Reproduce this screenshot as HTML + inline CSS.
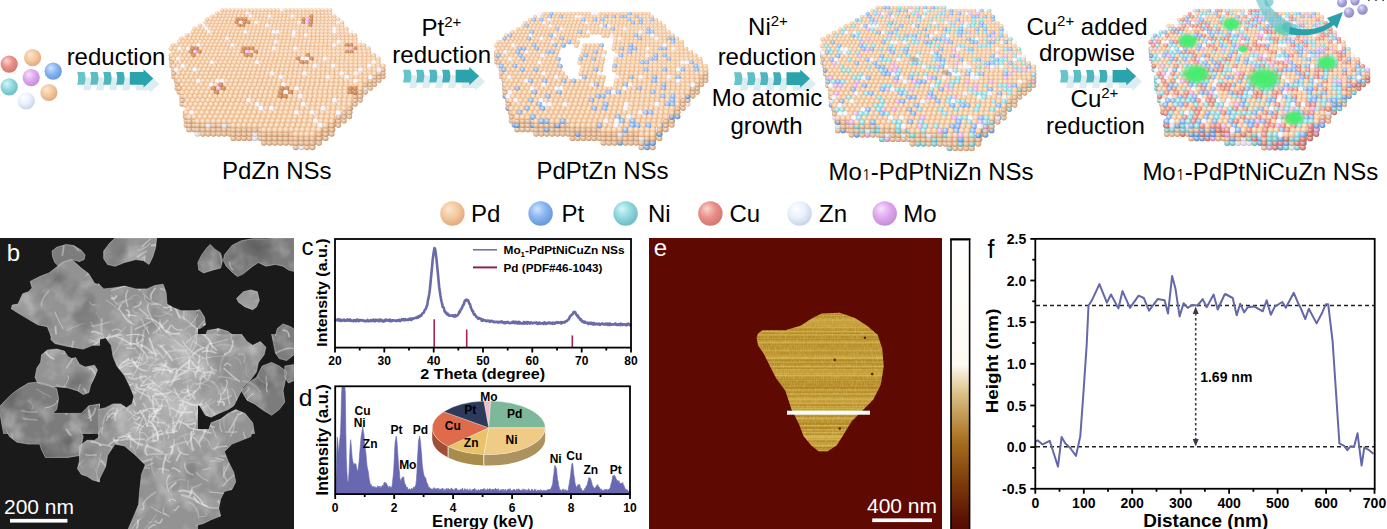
<!DOCTYPE html>
<html><head><meta charset="utf-8"><title>Figure</title>
<style>html,body{margin:0;padding:0;background:#fff;}svg{display:block;}.a{fill:url(#spha)}.b{fill:url(#sphb)}.c{fill:url(#sphc)}.d{fill:url(#sphd)}.e{fill:url(#sphe)}.f{fill:url(#sphf)}.g{fill:url(#sphg)}.a2{fill:url(#spha2)}.b2{fill:url(#sphb2)}.c2{fill:url(#sphc2)}.d2{fill:url(#sphd2)}.e2{fill:url(#sphe2)}.f2{fill:url(#sphf2)}.g2{fill:url(#sphg2)}</style></head>
<body><svg width="1387" height="529" viewBox="0 0 1387 529" font-family="Liberation Sans, Arial, sans-serif">
<defs><radialGradient id="g_pd" cx="0.42" cy="0.38" r="0.62" fx="0.35" fy="0.3"><stop offset="0" stop-color="#fde6cf"/><stop offset="0.55" stop-color="#f3c9a0"/><stop offset="1" stop-color="#e2ab7e"/></radialGradient><radialGradient id="g_pt" cx="0.42" cy="0.38" r="0.62" fx="0.35" fy="0.3"><stop offset="0" stop-color="#d2e5ff"/><stop offset="0.55" stop-color="#86b5f2"/><stop offset="1" stop-color="#6a98da"/></radialGradient><radialGradient id="g_ni" cx="0.42" cy="0.38" r="0.62" fx="0.35" fy="0.3"><stop offset="0" stop-color="#d8f6f8"/><stop offset="0.55" stop-color="#8fd8df"/><stop offset="1" stop-color="#72bcc4"/></radialGradient><radialGradient id="g_cu" cx="0.42" cy="0.38" r="0.62" fx="0.35" fy="0.3"><stop offset="0" stop-color="#fbd4ce"/><stop offset="0.55" stop-color="#ea8f88"/><stop offset="1" stop-color="#d27870"/></radialGradient><radialGradient id="g_zn" cx="0.42" cy="0.38" r="0.62" fx="0.35" fy="0.3"><stop offset="0" stop-color="#ffffff"/><stop offset="0.55" stop-color="#eaf1fd"/><stop offset="1" stop-color="#c8d4ea"/></radialGradient><radialGradient id="g_mo" cx="0.42" cy="0.38" r="0.62" fx="0.35" fy="0.3"><stop offset="0" stop-color="#f6e2fb"/><stop offset="0.55" stop-color="#dfa8ee"/><stop offset="1" stop-color="#c490d4"/></radialGradient><radialGradient id="g_lav" cx="0.42" cy="0.38" r="0.62" fx="0.35" fy="0.3"><stop offset="0" stop-color="#e2e0f8"/><stop offset="0.55" stop-color="#a9a6dc"/><stop offset="1" stop-color="#8c89c6"/></radialGradient><clipPath id="flk"><polygon points="758.1,333.3 762.7,330.2 785.4,330.2 800.5,325.7 812.6,318.1 821.7,313.6 839.8,312.7 854.9,318.1 867,325.7 877.6,334.8 882.2,348.4 883.7,366.5 880.7,384.7 873.1,399.8 861,411.9 851.9,421 844.4,433.1 836.8,445.2 827.7,451.2 818.6,451.2 811.1,445.2 803.5,436.1 799,424 791.4,408.9 788.4,399.8 785.4,390.7 776.3,378.6 770.2,366.5 764.2,354.4 758.1,345.4 756.6,337.8"/></clipPath><filter id="afmn" x="0" y="0" width="100%" height="100%"><feTurbulence type="fractalNoise" baseFrequency="0.9 0.25" numOctaves="2" seed="3"/><feColorMatrix type="matrix" values="0 0 0 0 0.95  0 0 0 0 0.8  0 0 0 0 0.35  0 0 1.2 0 -0.5"/></filter><linearGradient id="cbar" x1="0" y1="0" x2="0" y2="1"><stop offset="0" stop-color="#ffffff"/><stop offset="0.43" stop-color="#fcfaf2"/><stop offset="0.526" stop-color="#dcc288"/><stop offset="0.687" stop-color="#a87020"/><stop offset="0.834" stop-color="#7c3c0a"/><stop offset="0.957" stop-color="#5c1204"/><stop offset="1" stop-color="#540c02"/></linearGradient><clipPath id="semc"><rect x="0" y="238" width="294" height="291"/></clipPath><filter id="sb" x="-5%" y="-5%" width="110%" height="110%"><feGaussianBlur stdDeviation="0.7"/></filter><clipPath id="semflk"><polygon points="52,251.1 56.7,247.3 66.2,244.5 73.7,245.5 81.3,250.2 85.1,254.9 84.1,259.6 79.4,261.5 71.8,259.6 64.3,261.5 58.6,266.2 54.8,262.5 52.6,256.8"/><polygon points="30.2,281.4 39.7,276.6 49.1,272.9 62.4,262.5 71.8,259.6 81.3,268.1 88.8,273.8 94.5,283.3 100,285.1 100,336 51,336 47.3,326.7 37.8,324.8 28.4,319.2 18.9,313.5 11.3,308.8 12.3,305 18,304.1 22.7,293.7 28.4,291.8 32.1,288"/><polygon points="103.7,251.1 109.3,243.6 115,237.9 156.6,237.9 155.7,247.3 152.8,256.8 149,264.4 143.4,260.6 135.8,259.6 124.5,262.5 115,266.2 107.5,264.4 103.7,258.7"/><polygon points="98,283.3 103.7,288.9 113.1,288 124.5,286.1 135.8,288.9 147.1,288.9 154.7,285.5 163.2,284.2 166.1,292.7 167,304.1 173.6,307.8 181.2,310.7 198,310.7 198,336 98,336"/><polygon points="197.9,262.5 201.7,254.9 207.3,247.3 210.2,244.5 214.9,249.2 220.6,253 222.5,260.6 220.6,268.1 213,270 203.6,272.9 198.8,270"/><polygon points="224.4,254.9 231.9,245.5 241.4,240.7 252.7,238.8 267.8,238.8 277.3,237.9 296.2,238.8 296.2,271.9 288.6,270 283,266.2 275.4,264.4 265.9,266.2 258.4,262.5 252.7,266.2 243.3,273.8 237.6,276.6 231.9,271.9 226.2,266.2 223.4,260.6"/><polygon points="236.6,298.4 243.3,291.8 250.8,289.9 257.4,291.8 259.3,300.3 256.5,306.9 252.7,309.7 245.1,306.9 238.5,302.2"/><polygon points="196,310.7 199.8,309.7 204.5,317.3 205.5,324.8 199.8,328.6 196,328.6"/><polygon points="205.5,336 207.3,330.5 218.7,328.6 228.1,331.5 233.8,336"/><polygon points="275.4,336 277.3,328.6 283,323.9 290.5,326.7 296.2,330.5 296.2,336"/><polygon points="51,334 94.5,334 100,337.8 100,345.3 92.6,345.3 83.2,349.1 71.8,347.2 62.4,345.3 54.8,343.5 51,339.7"/><polygon points="41.6,354.8 47.3,350.1 56.7,349.1 64.3,351 68.1,356.7 71.8,358.6 75.6,357.6 79.4,364.2 85.1,367.1 94.5,365.2 97.4,369.9 94.5,377.5 90.7,385 88.8,392.6 83.2,394.5 77.5,390.7 68.1,387.9 58.6,386.9 52.9,386.9 45.4,385 37.8,383.1 35,377.5 36.9,368 40.6,362.4"/><polygon points="1.9,403.9 11.3,394.5 18.9,388.8 28.4,383.1 37.8,382.2 49.1,385 56.7,388.8 58.6,398.3 56.7,409.6 52.9,413.4 62.4,413.4 81.3,413.4 88.8,405.8 100,403.9 100,434 3.8,434 1.9,424.7 0,413.4 0,405.8"/><polygon points="98,334 198,334 198,434 98,434 98,409.6 105.6,407.7 113.1,403.9 120.7,403.9 126.4,407.7 132,403.9 133.9,396.4 130.1,386.9 124.5,375.6 116.9,366.1 113.1,356.7 111.2,345.3 105.6,337.8 98,339.7"/><polygon points="196,334 241.4,334 247,341.6 252.7,345.3 260.3,341.6 265.9,347.2 264.1,354.8 258.4,362.4 256.5,371.8 250.8,379.4 243.3,386.9 239.5,394.5 233.8,405.8 228.1,409.6 218.7,413.4 211.1,417.2 205.5,415.3 199.8,405.8 196,403.9"/><polygon points="241.4,390.7 248.9,382.2 256.5,377.5 262.2,366.1 271.6,362.4 279.2,366.1 286.7,371.8 284.8,383.1 283,390.7 284.8,402.1 279.2,409.6 271.6,415.3 262.2,409.6 254.6,403.9 247,400.2"/><polygon points="271.6,334 296.2,334 296.2,352.9 286.7,360.5 279.2,358.6 275.4,352.9 273.5,343.5"/><polygon points="207.3,434 211.1,422.8 220.6,419.1 228.1,413.4 235.7,409.6 245.1,413.4 252.7,422.8 254.6,434"/><polygon points="284.8,366.1 296.2,364.2 296.2,379.4 288.6,383.1 284.8,377.5"/><polygon points="5.7,429 79.4,429 83.2,436.6 81.3,446 79.4,455.5 68.1,457.4 54.8,457.4 45.4,457.4 41.6,449.8 39.7,444.1 28.4,444.1 17,442.2 9.5,436.6"/><polygon points="79.4,446 87,440.3 94.5,440.3 100,436.6 100,481.9 92.6,480 87,476.3 81.3,474.4 77.5,468.7 79.4,461.1"/><polygon points="98,429 198,429 198,529 128.2,529 133.9,516 138.6,504.6 139.6,491.4 141.5,474.4 145.3,464.9 135.8,455.5 124.5,446 115,444.1 107.5,455.5 105.6,466.8 98,481.9"/><polygon points="196,429 252.7,429 250.8,436.6 241.4,440.3 231.9,444.1 224.4,451.7 228.1,461.1 233.8,472.5 235.7,481.9 231.9,489.5 224.4,491.4 220.6,498.9 218.7,508.4 220.6,516 211.1,519.7 203.6,523.5 196,525.4"/></clipPath><filter id="turb" x="0" y="0" width="100%" height="100%"><feTurbulence type="fractalNoise" baseFrequency="0.045" numOctaves="3" seed="4"/><feColorMatrix type="matrix" values="0 0 0 0 1  0 0 0 0 1  0 0 0 0 1  0.9 0 0 0 -0.42"/></filter><filter id="turb2" x="0" y="0" width="100%" height="100%"><feTurbulence type="fractalNoise" baseFrequency="0.03" numOctaves="2" seed="9"/><feColorMatrix type="matrix" values="0 0 0 0 0  0 0 0 0 0  0 0 0 0 0  0.8 0 0 0 -0.45"/></filter><radialGradient id="semglow"><stop offset="0" stop-color="#fff" stop-opacity="0.32"/><stop offset="0.6" stop-color="#fff" stop-opacity="0.15"/><stop offset="1" stop-color="#fff" stop-opacity="0"/></radialGradient><radialGradient id="spha" cx="0.45" cy="0.42" r="0.6" fx="0.38" fy="0.32"><stop offset="0" stop-color="#fff3e6"/><stop offset="0.6" stop-color="#f6cda6"/><stop offset="1" stop-color="#dc9f70"/></radialGradient><radialGradient id="sphb" cx="0.45" cy="0.42" r="0.6" fx="0.38" fy="0.32"><stop offset="0" stop-color="#e6f0ff"/><stop offset="0.6" stop-color="#8fbaf2"/><stop offset="1" stop-color="#5f8fd6"/></radialGradient><radialGradient id="sphc" cx="0.45" cy="0.42" r="0.6" fx="0.38" fy="0.32"><stop offset="0" stop-color="#e8fbfc"/><stop offset="0.6" stop-color="#98dfe5"/><stop offset="1" stop-color="#62b9c2"/></radialGradient><radialGradient id="sphd" cx="0.45" cy="0.42" r="0.6" fx="0.38" fy="0.32"><stop offset="0" stop-color="#ffe0d8"/><stop offset="0.6" stop-color="#ec948a"/><stop offset="1" stop-color="#c96a60"/></radialGradient><radialGradient id="sphe" cx="0.45" cy="0.42" r="0.6" fx="0.38" fy="0.32"><stop offset="0" stop-color="#ffffff"/><stop offset="0.6" stop-color="#f5f3fa"/><stop offset="1" stop-color="#d4d2e4"/></radialGradient><radialGradient id="sphf" cx="0.45" cy="0.42" r="0.6" fx="0.38" fy="0.32"><stop offset="0" stop-color="#fdeafa"/><stop offset="0.6" stop-color="#eab2ea"/><stop offset="1" stop-color="#c892cc"/></radialGradient><radialGradient id="sphg" cx="0.45" cy="0.42" r="0.6" fx="0.38" fy="0.32"><stop offset="0" stop-color="#eab48a"/><stop offset="0.6" stop-color="#d08a58"/><stop offset="1" stop-color="#a8683c"/></radialGradient><radialGradient id="spha2" cx="0.45" cy="0.42" r="0.6" fx="0.38" fy="0.32"><stop offset="0" stop-color="#f7ebdf"/><stop offset="0.6" stop-color="#e4be9a"/><stop offset="1" stop-color="#c18b62"/></radialGradient><radialGradient id="sphb2" cx="0.45" cy="0.42" r="0.6" fx="0.38" fy="0.32"><stop offset="0" stop-color="#dfe8f7"/><stop offset="0.6" stop-color="#84ace1"/><stop offset="1" stop-color="#537dbc"/></radialGradient><radialGradient id="sphc2" cx="0.45" cy="0.42" r="0.6" fx="0.38" fy="0.32"><stop offset="0" stop-color="#e1f3f4"/><stop offset="0.6" stop-color="#8dcfd4"/><stop offset="1" stop-color="#56a2aa"/></radialGradient><radialGradient id="sphd2" cx="0.45" cy="0.42" r="0.6" fx="0.38" fy="0.32"><stop offset="0" stop-color="#f7d9d1"/><stop offset="0.6" stop-color="#db8980"/><stop offset="1" stop-color="#b05d54"/></radialGradient><radialGradient id="sphe2" cx="0.45" cy="0.42" r="0.6" fx="0.38" fy="0.32"><stop offset="0" stop-color="#f7f7f7"/><stop offset="0.6" stop-color="#e3e1e8"/><stop offset="1" stop-color="#bab8c8"/></radialGradient><radialGradient id="sphf2" cx="0.45" cy="0.42" r="0.6" fx="0.38" fy="0.32"><stop offset="0" stop-color="#f5e2f2"/><stop offset="0.6" stop-color="#d9a5d9"/><stop offset="1" stop-color="#b080b3"/></radialGradient><radialGradient id="sphg2" cx="0.45" cy="0.42" r="0.6" fx="0.38" fy="0.32"><stop offset="0" stop-color="#e2ae85"/><stop offset="0.6" stop-color="#c18051"/><stop offset="1" stop-color="#935b34"/></radialGradient><filter id="shb" x="-2%" y="-2%" width="104%" height="104%"><feGaussianBlur stdDeviation="0.35"/></filter><radialGradient id="grn"><stop offset="0" stop-color="#3ef06a"/><stop offset="0.6" stop-color="#49ec72" stop-opacity="0.9"/><stop offset="1" stop-color="#6fe88a" stop-opacity="0"/></radialGradient></defs>
<rect width="1387" height="529" fill="#fff"/>
<circle cx="9.2" cy="64.1" r="8.6" fill="url(#g_cu)"/>
<circle cx="32.6" cy="57.7" r="8.6" fill="url(#g_pd)"/>
<circle cx="53.2" cy="71.2" r="8.6" fill="url(#g_pt)"/>
<circle cx="31.2" cy="77.6" r="8.6" fill="url(#g_mo)"/>
<circle cx="9.2" cy="86.8" r="8.6" fill="url(#g_ni)"/>
<circle cx="48.9" cy="92.5" r="8.6" fill="url(#g_pd)"/>
<circle cx="26.2" cy="101" r="8.6" fill="url(#g_zn)"/>
<g transform="translate(6,5.5)"><path d="M77.2 72.1 h7.2 q2.4 6.3 0 12.6 h-7.2 q2 -6.3 0 -12.6z" fill="#d6eaee" opacity="0.85"/><path d="M90.2 72.1 h7.2 q2.4 6.3 0 12.6 h-7.2 q2 -6.3 0 -12.6z" fill="#d6eaee" opacity="0.85"/><path d="M103.2 72.1 h7.2 q2.4 6.3 0 12.6 h-7.2 q2 -6.3 0 -12.6z" fill="#d6eaee" opacity="0.85"/><path d="M116.2 72.1 h7.2 q2.4 6.3 0 12.6 h-7.2 q2 -6.3 0 -12.6z" fill="#d6eaee" opacity="0.85"/><path d="M129.8 72.1 h13.7 v-2.9 l9.8 9.2 l-9.8 9.2 v-2.9 h-13.7z" fill="#d6eaee" opacity="0.85"/></g>
<path d="M77.2 72.1 h7.2 q2.4 6.3 0 12.6 h-7.2 q2 -6.3 0 -12.6z" fill="#67c4cb" opacity="1"/><path d="M90.2 72.1 h7.2 q2.4 6.3 0 12.6 h-7.2 q2 -6.3 0 -12.6z" fill="#5dbdc5" opacity="1"/><path d="M103.2 72.1 h7.2 q2.4 6.3 0 12.6 h-7.2 q2 -6.3 0 -12.6z" fill="#4fb5be" opacity="1"/><path d="M116.2 72.1 h7.2 q2.4 6.3 0 12.6 h-7.2 q2 -6.3 0 -12.6z" fill="#40adb7" opacity="1"/><path d="M129.8 72.1 h13.7 v-2.9 l9.8 9.2 l-9.8 9.2 v-2.9 h-13.7z" fill="#2aa3ad" opacity="1"/>
<g transform="translate(6,5.5)"><path d="M403 69.8 h7.2 q2.4 6.3 0 12.6 h-7.2 q2 -6.3 0 -12.6z" fill="#d6eaee" opacity="0.85"/><path d="M416 69.8 h7.2 q2.4 6.3 0 12.6 h-7.2 q2 -6.3 0 -12.6z" fill="#d6eaee" opacity="0.85"/><path d="M429 69.8 h7.2 q2.4 6.3 0 12.6 h-7.2 q2 -6.3 0 -12.6z" fill="#d6eaee" opacity="0.85"/><path d="M442 69.8 h7.2 q2.4 6.3 0 12.6 h-7.2 q2 -6.3 0 -12.6z" fill="#d6eaee" opacity="0.85"/><path d="M455.6 69.8 h13.7 v-2.9 l9.8 9.2 l-9.8 9.2 v-2.9 h-13.7z" fill="#d6eaee" opacity="0.85"/></g>
<path d="M403 69.8 h7.2 q2.4 6.3 0 12.6 h-7.2 q2 -6.3 0 -12.6z" fill="#67c4cb" opacity="1"/><path d="M416 69.8 h7.2 q2.4 6.3 0 12.6 h-7.2 q2 -6.3 0 -12.6z" fill="#5dbdc5" opacity="1"/><path d="M429 69.8 h7.2 q2.4 6.3 0 12.6 h-7.2 q2 -6.3 0 -12.6z" fill="#4fb5be" opacity="1"/><path d="M442 69.8 h7.2 q2.4 6.3 0 12.6 h-7.2 q2 -6.3 0 -12.6z" fill="#40adb7" opacity="1"/><path d="M455.6 69.8 h13.7 v-2.9 l9.8 9.2 l-9.8 9.2 v-2.9 h-13.7z" fill="#2aa3ad" opacity="1"/>
<g transform="translate(6,5.5)"><path d="M733.9 72.3 h7.2 q2.4 6.3 0 12.6 h-7.2 q2 -6.3 0 -12.6z" fill="#d6eaee" opacity="0.85"/><path d="M746.9 72.3 h7.2 q2.4 6.3 0 12.6 h-7.2 q2 -6.3 0 -12.6z" fill="#d6eaee" opacity="0.85"/><path d="M759.9 72.3 h7.2 q2.4 6.3 0 12.6 h-7.2 q2 -6.3 0 -12.6z" fill="#d6eaee" opacity="0.85"/><path d="M772.9 72.3 h7.2 q2.4 6.3 0 12.6 h-7.2 q2 -6.3 0 -12.6z" fill="#d6eaee" opacity="0.85"/><path d="M786.5 72.3 h13.7 v-2.9 l9.8 9.2 l-9.8 9.2 v-2.9 h-13.7z" fill="#d6eaee" opacity="0.85"/></g>
<path d="M733.9 72.3 h7.2 q2.4 6.3 0 12.6 h-7.2 q2 -6.3 0 -12.6z" fill="#67c4cb" opacity="1"/><path d="M746.9 72.3 h7.2 q2.4 6.3 0 12.6 h-7.2 q2 -6.3 0 -12.6z" fill="#5dbdc5" opacity="1"/><path d="M759.9 72.3 h7.2 q2.4 6.3 0 12.6 h-7.2 q2 -6.3 0 -12.6z" fill="#4fb5be" opacity="1"/><path d="M772.9 72.3 h7.2 q2.4 6.3 0 12.6 h-7.2 q2 -6.3 0 -12.6z" fill="#40adb7" opacity="1"/><path d="M786.5 72.3 h13.7 v-2.9 l9.8 9.2 l-9.8 9.2 v-2.9 h-13.7z" fill="#2aa3ad" opacity="1"/>
<g transform="translate(6,5.5)"><path d="M1060 70 h7.2 q2.4 6.3 0 12.6 h-7.2 q2 -6.3 0 -12.6z" fill="#d6eaee" opacity="0.85"/><path d="M1073 70 h7.2 q2.4 6.3 0 12.6 h-7.2 q2 -6.3 0 -12.6z" fill="#d6eaee" opacity="0.85"/><path d="M1086 70 h7.2 q2.4 6.3 0 12.6 h-7.2 q2 -6.3 0 -12.6z" fill="#d6eaee" opacity="0.85"/><path d="M1099 70 h7.2 q2.4 6.3 0 12.6 h-7.2 q2 -6.3 0 -12.6z" fill="#d6eaee" opacity="0.85"/><path d="M1112.6 70 h13.7 v-2.9 l9.8 9.2 l-9.8 9.2 v-2.9 h-13.7z" fill="#d6eaee" opacity="0.85"/></g>
<path d="M1060 70 h7.2 q2.4 6.3 0 12.6 h-7.2 q2 -6.3 0 -12.6z" fill="#67c4cb" opacity="1"/><path d="M1073 70 h7.2 q2.4 6.3 0 12.6 h-7.2 q2 -6.3 0 -12.6z" fill="#5dbdc5" opacity="1"/><path d="M1086 70 h7.2 q2.4 6.3 0 12.6 h-7.2 q2 -6.3 0 -12.6z" fill="#4fb5be" opacity="1"/><path d="M1099 70 h7.2 q2.4 6.3 0 12.6 h-7.2 q2 -6.3 0 -12.6z" fill="#40adb7" opacity="1"/><path d="M1112.6 70 h13.7 v-2.9 l9.8 9.2 l-9.8 9.2 v-2.9 h-13.7z" fill="#2aa3ad" opacity="1"/>
<text x="116" y="65" font-size="24" text-anchor="middle" fill="#000" >reduction</text>
<text x="441.5" y="35.6" font-size="24" text-anchor="middle" fill="#000" >Pt<tspan font-size="15" dy="-9">2+</tspan></text>
<text x="441.7" y="63" font-size="24" text-anchor="middle" fill="#000" >reduction</text>
<text x="768" y="35.4" font-size="24" text-anchor="middle" fill="#000" >Ni<tspan font-size="15" dy="-9">2+</tspan></text>
<text x="767" y="64.6" font-size="24" text-anchor="middle" fill="#000" >reduction</text>
<text x="767" y="105.6" font-size="24" text-anchor="middle" fill="#000" >Mo atomic</text>
<text x="766.5" y="134.3" font-size="24" text-anchor="middle" fill="#000" >growth</text>
<text x="1087" y="34.8" font-size="24" text-anchor="middle" fill="#000" >Cu<tspan font-size="15" dy="-9">2+</tspan><tspan dy="9"> added</tspan></text>
<text x="1087" y="60.5" font-size="24" text-anchor="middle" fill="#000" >dropwise</text>
<text x="1094.5" y="107" font-size="24" text-anchor="middle" fill="#000" >Cu<tspan font-size="15" dy="-9">2+</tspan></text>
<text x="1095.4" y="134.2" font-size="24" text-anchor="middle" fill="#000" >reduction</text>
<text x="276.8" y="179.2" font-size="24" text-anchor="middle" fill="#000" >PdZn NSs</text>
<text x="602.5" y="178.8" font-size="24" text-anchor="middle" fill="#000" >PdPtZn NSs</text>
<text x="931" y="180" font-size="24" text-anchor="middle" fill="#000" >Mo<tspan font-size="15" font-family="NanumGothic, Liberation Sans, sans-serif">1</tspan>-PdPtNiZn NSs</text>
<text x="1260.3" y="180" font-size="24" text-anchor="middle" fill="#000" >Mo<tspan font-size="15" font-family="NanumGothic, Liberation Sans, sans-serif">1</tspan>-PdPtNiCuZn NSs</text>
<circle cx="452.4" cy="213.5" r="12.2" fill="url(#g_pd)"/>
<text x="471" y="221.7" font-size="24" text-anchor="start" fill="#000" >Pd</text>
<circle cx="540.6" cy="213.5" r="12.2" fill="url(#g_pt)"/>
<text x="561.5" y="221.7" font-size="24" text-anchor="start" fill="#000" >Pt</text>
<circle cx="625.6" cy="213.5" r="12.2" fill="url(#g_ni)"/>
<text x="648" y="221.7" font-size="24" text-anchor="start" fill="#000" >Ni</text>
<circle cx="710.4" cy="213.5" r="12.2" fill="url(#g_cu)"/>
<text x="729.5" y="221.7" font-size="24" text-anchor="start" fill="#000" >Cu</text>
<circle cx="799.6" cy="213.5" r="12.2" fill="url(#g_zn)"/>
<text x="819" y="221.7" font-size="24" text-anchor="start" fill="#000" >Zn</text>
<circle cx="884.7" cy="213.5" r="12.2" fill="url(#g_mo)"/>
<text x="903.3" y="221.7" font-size="24" text-anchor="start" fill="#000" >Mo</text>
<g>
<path d="M335 319.6 L335.6 320.1 L336.2 319.8 L336.8 320.2 L337.4 320.3 L338 319.3 L338.6 319.2 L339.1 320.7 L339.7 319.7 L340.3 319.6 L340.9 321 L341.5 320.1 L342.1 320.7 L342.7 320.1 L343.3 320.4 L343.9 319.5 L344.5 320.4 L345.1 320.8 L345.7 320.2 L346.2 320.6 L346.8 320.5 L347.4 319.4 L348 320.7 L348.6 320.4 L349.2 319.9 L349.8 319.4 L350.4 320.9 L351 320.2 L351.6 320.7 L352.2 321 L352.8 320.7 L353.4 321.1 L353.9 320.1 L354.5 320.8 L355.1 320.2 L355.7 321.1 L356.3 321 L356.9 319.6 L357.5 319.7 L358.1 319.8 L358.7 321.2 L359.3 320.2 L359.9 320.6 L360.5 320 L361 320.4 L361.6 320.2 L362.2 320.1 L362.8 320.6 L363.4 320.6 L364 321.1 L364.6 320.7 L365.2 321.2 L365.8 321.1 L366.4 321.3 L367 320.8 L367.6 319.8 L368.2 321.1 L368.7 321.3 L369.3 321.2 L369.9 320.6 L370.5 320.9 L371.1 320 L371.7 321.1 L372.3 320.6 L372.9 320.1 L373.5 319.7 L374.1 321.1 L374.7 321.4 L375.3 319.8 L375.8 321 L376.4 320.3 L377 319.9 L377.6 320.1 L378.2 321 L378.8 321.2 L379.4 319.7 L380 320.7 L380.6 319.7 L381.2 320.9 L381.8 320.2 L382.4 321.2 L383 321.4 L383.5 320.5 L384.1 321.4 L384.7 320.2 L385.3 319.7 L385.9 320.7 L386.5 319.7 L387.1 319.9 L387.7 320.3 L388.3 320.7 L388.9 319.9 L389.5 319.6 L390.1 321.1 L390.6 320.1 L391.2 321.3 L391.8 321.2 L392.4 320.2 L393 320.3 L393.6 320.4 L394.2 320.7 L394.8 320.6 L395.4 320.5 L396 320.6 L396.6 321.1 L397.2 320.3 L397.8 320.2 L398.3 320.7 L398.9 319.8 L399.5 319.9 L400.1 321.1 L400.7 320.2 L401.3 320.2 L401.9 319.2 L402.5 319.9 L403.1 320.2 L403.7 319.1 L404.3 320.2 L404.9 320.1 L405.4 319.1 L406 320 L406.6 319.7 L407.2 320 L407.8 319.4 L408.4 319.9 L409 319.9 L409.6 318.5 L410.2 318.5 L410.8 319.5 L411.4 320 L412 318.6 L412.6 318.8 L413.1 318.9 L413.7 318.3 L414.3 318.2 L414.9 318 L415.5 317.9 L416.1 318.1 L416.7 317.4 L417.3 317.3 L417.9 317.7 L418.5 316.1 L419.1 316.8 L419.7 316.7 L420.2 315.6 L420.8 315 L421.4 315.5 L422 314 L422.6 313.2 L423.2 313 L423.8 312.7 L424.4 310.7 L425 310 L425.6 308.8 L426.2 308.2 L426.8 305.8 L427.4 304.4 L427.9 300.6 L428.5 297.9 L429.1 294.8 L429.7 290.9 L430.3 285 L430.9 278.9 L431.5 272.4 L432.1 266.6 L432.7 259.6 L433.3 255.2 L433.9 251.2 L434.5 248 L435 248.6 L435.6 252.3 L436.2 256.6 L436.8 262.7 L437.4 268.3 L438 274.4 L438.6 280.8 L439.2 287.2 L439.8 291.1 L440.4 295.3 L441 298.9 L441.6 301.7 L442.2 304.1 L442.7 306.9 L443.3 307.2 L443.9 308.2 L444.5 311.1 L445.1 311.9 L445.7 312.9 L446.3 312.6 L446.9 314.2 L447.5 314.7 L448.1 313.9 L448.7 315.2 L449.3 315.7 L449.8 315.7 L450.4 315.6 L451 315.4 L451.6 315.6 L452.2 315.5 L452.8 315.3 L453.4 316.3 L454 315.7 L454.6 316.5 L455.2 315 L455.8 316.4 L456.4 315.7 L457 315.7 L457.5 315.2 L458.1 314.7 L458.7 313.5 L459.3 311.7 L459.9 312.1 L460.5 310 L461.1 309.1 L461.7 308.5 L462.3 307 L462.9 305.4 L463.5 305 L464.1 303.1 L464.6 301.4 L465.2 300.3 L465.8 300.7 L466.4 299.7 L467 300.3 L467.6 300 L468.2 300.5 L468.8 302.2 L469.4 303.9 L470 304.2 L470.6 306.8 L471.2 308.5 L471.8 309.7 L472.3 311.1 L472.9 310.9 L473.5 313.2 L474.1 314.6 L474.7 314.1 L475.3 315.3 L475.9 316 L476.5 317 L477.1 317.4 L477.7 317.9 L478.3 318.9 L478.9 317.8 L479.4 318.2 L480 318.6 L480.6 318.8 L481.2 319 L481.8 320.8 L482.4 320.7 L483 319.5 L483.6 320.4 L484.2 320.2 L484.8 320.3 L485.4 320.5 L486 321.1 L486.6 321.1 L487.1 320.8 L487.7 320.5 L488.3 320.9 L488.9 320.6 L489.5 321.4 L490.1 321.8 L490.7 321.2 L491.3 320.7 L491.9 321 L492.5 321.4 L493.1 321.8 L493.7 322.2 L494.2 321.5 L494.8 322.3 L495.4 322.1 L496 321.8 L496.6 321.7 L497.2 321.9 L497.8 322.4 L498.4 321.9 L499 322.4 L499.6 322 L500.2 321.7 L500.8 322.2 L501.4 322.5 L501.9 321.4 L502.5 322.1 L503.1 322.1 L503.7 323 L504.3 323.1 L504.9 322.1 L505.5 323.1 L506.1 322.9 L506.7 322 L507.3 322.4 L507.9 321.8 L508.5 323 L509 322.8 L509.6 323.2 L510.2 323 L510.8 322.8 L511.4 323 L512 322.7 L512.6 321.9 L513.2 322.8 L513.8 321.7 L514.4 322 L515 323.1 L515.6 321.9 L516.2 322 L516.7 322 L517.3 323.4 L517.9 322.2 L518.5 321.9 L519.1 323.4 L519.7 322.1 L520.3 323.4 L520.9 323.1 L521.5 323.4 L522.1 323.6 L522.7 323 L523.3 323.4 L523.8 322 L524.4 323.4 L525 322.9 L525.6 323.3 L526.2 322.2 L526.8 323.4 L527.4 323.7 L528 322.2 L528.6 322.6 L529.2 323.1 L529.8 323.6 L530.4 322.5 L531 322.4 L531.5 322.6 L532.1 323.2 L532.7 323.5 L533.3 322.8 L533.9 322.8 L534.5 322.9 L535.1 322.8 L535.7 322.9 L536.3 322.3 L536.9 323.1 L537.5 323.9 L538.1 322.9 L538.6 323.6 L539.2 322.5 L539.8 323.5 L540.4 323.6 L541 323.4 L541.6 323.2 L542.2 323.1 L542.8 323.4 L543.4 323.9 L544 322.5 L544.6 322.4 L545.2 323.6 L545.8 323.9 L546.3 323.2 L546.9 323.1 L547.5 323.5 L548.1 322.6 L548.7 322.7 L549.3 322.6 L549.9 323.3 L550.5 322.8 L551.1 322.7 L551.7 323.5 L552.3 323.9 L552.9 322.7 L553.4 323.5 L554 322.9 L554.6 323.7 L555.2 323.2 L555.8 322.6 L556.4 322.5 L557 322.1 L557.6 322.9 L558.2 322.7 L558.8 322.3 L559.4 322.6 L560 322.5 L560.6 323.2 L561.1 322 L561.7 323.4 L562.3 322.4 L562.9 322.5 L563.5 322.1 L564.1 322.6 L564.7 322.4 L565.3 321.6 L565.9 321.2 L566.5 321.2 L567.1 321 L567.7 319.7 L568.2 319.7 L568.8 319.4 L569.4 317.7 L570 316.5 L570.6 315.6 L571.2 315.6 L571.8 314.7 L572.4 314.4 L573 313.6 L573.6 312.1 L574.2 311.8 L574.8 312 L575.4 312.3 L575.9 313.8 L576.5 314.8 L577.1 315.7 L577.7 315.4 L578.3 317.4 L578.9 317.3 L579.5 318.3 L580.1 319.6 L580.7 319.1 L581.3 319.7 L581.9 321.5 L582.5 321 L583 321.5 L583.6 322.2 L584.2 322.6 L584.8 321.6 L585.4 322.4 L586 322.7 L586.6 322.9 L587.2 322.5 L587.8 323.3 L588.4 324 L589 323.1 L589.6 323.4 L590.2 322.7 L590.7 323.1 L591.3 323.8 L591.9 322.9 L592.5 324.3 L593.1 324.4 L593.7 323 L594.3 324.5 L594.9 323.5 L595.5 324.3 L596.1 324.3 L596.7 323.5 L597.3 324.2 L597.8 324.2 L598.4 324.5 L599 323.5 L599.6 324.4 L600.2 324.8 L600.8 324.3 L601.4 324.1 L602 323.4 L602.6 324.1 L603.2 323.8 L603.8 324.5 L604.4 324.5 L605 324.3 L605.5 323.6 L606.1 324.4 L606.7 324.4 L607.3 323.6 L607.9 324.9 L608.5 324.5 L609.1 323.6 L609.7 325 L610.3 323.6 L610.9 324 L611.5 324.7 L612.1 324.5 L612.6 324.4 L613.2 324.6 L613.8 324.3 L614.4 324 L615 323.8 L615.6 323.6 L616.2 324.8 L616.8 324.9 L617.4 324.5 L618 324.9 L618.6 324.2 L619.2 324 L619.8 324.3 L620.3 325.2 L620.9 323.7 L621.5 324.5 L622.1 324.1 L622.7 325 L623.3 324.3 L623.9 324.3 L624.5 324.4 L625.1 324.7 L625.7 325.1 L626.3 324.3 L626.9 325.2 L627.4 323.9 L628 324.2 L628.6 323.9 L629.2 324 L629.8 325.2 L630.4 325.1 L631 324.1" fill="none" stroke="#6a6aa8" stroke-width="2.6" stroke-linejoin="round"/>
<line x1="434.2" y1="319.3" x2="434.2" y2="347" stroke="#a3254f" stroke-width="1.6"/>
<line x1="466.7" y1="329.6" x2="466.7" y2="347" stroke="#a3254f" stroke-width="1.6"/>
<line x1="572.3" y1="335.4" x2="572.3" y2="347" stroke="#a3254f" stroke-width="1.6"/>
<rect x="335" y="239" width="296" height="108.6" fill="none" stroke="#000" stroke-width="1.8"/>
<line x1="335" y1="347.5" x2="335" y2="352.5" stroke="#000" stroke-width="1.8"/>
<text x="335" y="364.7" font-size="12" text-anchor="middle" font-weight="bold" fill="#000" >20</text>
<line x1="359.7" y1="347.5" x2="359.7" y2="350.5" stroke="#000" stroke-width="1.8"/>
<line x1="384.3" y1="347.5" x2="384.3" y2="352.5" stroke="#000" stroke-width="1.8"/>
<text x="384.3" y="364.7" font-size="12" text-anchor="middle" font-weight="bold" fill="#000" >30</text>
<line x1="409" y1="347.5" x2="409" y2="350.5" stroke="#000" stroke-width="1.8"/>
<line x1="433.7" y1="347.5" x2="433.7" y2="352.5" stroke="#000" stroke-width="1.8"/>
<text x="433.7" y="364.7" font-size="12" text-anchor="middle" font-weight="bold" fill="#000" >40</text>
<line x1="458.3" y1="347.5" x2="458.3" y2="350.5" stroke="#000" stroke-width="1.8"/>
<line x1="483" y1="347.5" x2="483" y2="352.5" stroke="#000" stroke-width="1.8"/>
<text x="483" y="364.7" font-size="12" text-anchor="middle" font-weight="bold" fill="#000" >50</text>
<line x1="507.7" y1="347.5" x2="507.7" y2="350.5" stroke="#000" stroke-width="1.8"/>
<line x1="532.3" y1="347.5" x2="532.3" y2="352.5" stroke="#000" stroke-width="1.8"/>
<text x="532.3" y="364.7" font-size="12" text-anchor="middle" font-weight="bold" fill="#000" >60</text>
<line x1="557" y1="347.5" x2="557" y2="350.5" stroke="#000" stroke-width="1.8"/>
<line x1="581.7" y1="347.5" x2="581.7" y2="352.5" stroke="#000" stroke-width="1.8"/>
<text x="581.7" y="364.7" font-size="12" text-anchor="middle" font-weight="bold" fill="#000" >70</text>
<line x1="606.3" y1="347.5" x2="606.3" y2="350.5" stroke="#000" stroke-width="1.8"/>
<line x1="631" y1="347.5" x2="631" y2="352.5" stroke="#000" stroke-width="1.8"/>
<text x="631" y="364.7" font-size="12" text-anchor="middle" font-weight="bold" fill="#000" >80</text>
<text x="482.8" y="379" font-size="15.5" text-anchor="middle" font-weight="bold" fill="#000" textLength="124.9" lengthAdjust="spacingAndGlyphs">2 Theta (degree)</text>
<text transform="translate(327.3,292.65) rotate(-90)" font-size="15.5" font-weight="bold" text-anchor="middle" textLength="108.3" lengthAdjust="spacingAndGlyphs">Intensity (a.u.)</text>
<text x="307.5" y="254.5" font-size="24" text-anchor="middle" fill="#000" >c</text>
<line x1="473" y1="249.8" x2="497" y2="249.8" stroke="#6a6aa8" stroke-width="1.5"/>
<line x1="473" y1="267.4" x2="497" y2="267.4" stroke="#8e2450" stroke-width="2"/>
<text x="503.5" y="254.2" font-size="11.2" text-anchor="start" font-weight="bold" fill="#000" textLength="121" lengthAdjust="spacingAndGlyphs">Mo<tspan font-size="7.5" dy="2.5">1</tspan><tspan dy="-2.5">-PdPtNiCuZn NSs</tspan></text>
<text x="503.5" y="271.6" font-size="11.2" text-anchor="start" font-weight="bold" fill="#000" textLength="99" lengthAdjust="spacingAndGlyphs">Pd (PDF#46-1043)</text>
</g>
<path d="M335.2 494 L335.2 488.2 L335.7 483.4 L336.3 468.8 L336.8 449.4 L337.3 437.1 L337.9 442.2 L338.4 451.9 L338.9 450.1 L339.4 443.5 L340 437.5 L340.5 433 L341 418 L341.6 391.8 L342.1 387 L342.6 387 L343.2 387 L343.7 387 L344.2 387 L344.8 387 L345.3 391.9 L345.8 430.4 L346.3 457.2 L346.9 471.3 L347.4 480.5 L347.9 482.3 L348.5 479.7 L349 472.5 L349.5 458.8 L350.1 446.6 L350.6 439.7 L351.1 443.7 L351.6 451 L352.2 457.9 L352.7 460.6 L353.2 462.9 L353.8 464.9 L354.3 463.7 L354.8 463.7 L355.4 463.6 L355.9 464.1 L356.4 466.7 L357 469.2 L357.5 470.7 L358 471 L358.5 465.8 L359.1 461.5 L359.6 453.8 L360.1 448.7 L360.7 441.1 L361.2 435.8 L361.7 433.3 L362.3 429.4 L362.8 426.9 L363.3 430.9 L363.9 434 L364.4 440.7 L364.9 446.4 L365.4 449.4 L366 453.9 L366.5 460.5 L367 465.7 L367.6 469.1 L368.1 470.6 L368.6 474.3 L369.2 479.1 L369.7 481.2 L370.2 483.8 L370.8 485.5 L371.3 484.5 L371.8 487 L372.3 486.3 L372.9 486.9 L373.4 487.8 L373.9 486.2 L374.5 488.1 L375 486.5 L375.5 488.2 L376.1 487.3 L376.6 487.9 L377.1 487.8 L377.7 485.7 L378.2 486.2 L378.7 487.8 L379.2 486 L379.8 488.1 L380.3 487.6 L380.8 486.2 L381.4 486.7 L381.9 488.1 L382.4 485 L383 486.6 L383.5 485.4 L384 482.5 L384.5 482.7 L385.1 482.2 L385.6 482.9 L386.1 483.6 L386.7 483.4 L387.2 485.7 L387.7 485.7 L388.3 487.2 L388.8 487.4 L389.3 486.1 L389.9 487.7 L390.4 487.4 L390.9 486.4 L391.4 487.9 L392 486.8 L392.5 481.9 L393 477.5 L393.6 471.9 L394.1 462.6 L394.6 450.8 L395.2 441.6 L395.7 439 L396.2 436.3 L396.8 439.8 L397.3 446.4 L397.8 453.7 L398.3 461.6 L398.9 468.6 L399.4 471.8 L399.9 478.5 L400.5 479.7 L401 481.6 L401.5 478.8 L402.1 477.7 L402.6 477.1 L403.1 477.2 L403.7 476.7 L404.2 480.8 L404.7 483 L405.2 484.3 L405.8 485.2 L406.3 487 L406.8 488.6 L407.4 487 L407.9 489.2 L408.4 489.8 L409 489.1 L409.5 488.6 L410 489.8 L410.6 489.4 L411.1 488.9 L411.6 488.3 L412.1 489.6 L412.7 488.9 L413.2 487.4 L413.7 487 L414.3 487.8 L414.8 487.1 L415.3 486.1 L415.9 484.6 L416.4 479.9 L416.9 472.4 L417.4 459.9 L418 450.3 L418.5 440.9 L419 438.7 L419.6 436.1 L420.1 439.2 L420.6 443.4 L421.2 450.7 L421.7 455.2 L422.2 464.3 L422.8 468.5 L423.3 472.2 L423.8 474.4 L424.3 476.2 L424.9 477.1 L425.4 477.7 L425.9 478.5 L426.5 481.9 L427 482.7 L427.5 483.8 L428.1 485.3 L428.6 487.8 L429.1 487.3 L429.7 487.5 L430.2 488.6 L430.7 488.6 L431.2 489.4 L431.8 488.8 L432.3 488.7 L432.8 490.3 L433.4 488.7 L433.9 487.6 L434.4 488 L435 488.4 L435.5 489.5 L436 488.4 L436.6 488.9 L437.1 489.3 L437.6 488.1 L438.1 490.4 L438.7 488.4 L439.2 490.6 L439.7 488.9 L440.3 489.3 L440.8 490 L441.3 488.6 L441.9 489.3 L442.4 488.9 L442.9 488 L443.5 490 L444 490.8 L444.5 489.9 L445 488.8 L445.6 490.2 L446.1 490.3 L446.6 488.1 L447.2 488.9 L447.7 489.5 L448.2 488.2 L448.8 489.9 L449.3 488.9 L449.8 490.3 L450.3 489.6 L450.9 488.5 L451.4 488.2 L451.9 488.3 L452.5 489.8 L453 489.2 L453.5 490 L454.1 490.6 L454.6 489.5 L455.1 488.5 L455.7 488.4 L456.2 488.9 L456.7 488.2 L457.2 490.2 L457.8 490.5 L458.3 489.7 L458.8 490.2 L459.4 490.4 L459.9 489.8 L460.4 489.2 L461 489.6 L461.5 490.1 L462 488.6 L462.6 488.1 L463.1 489.7 L463.6 490.9 L464.1 491 L464.7 488.5 L465.2 491 L465.7 489 L466.3 489.4 L466.8 490.2 L467.3 488.8 L467.9 491.1 L468.4 490.8 L468.9 489.8 L469.5 491.1 L470 488.7 L470.5 490.5 L471 490.8 L471.6 491.1 L472.1 489.3 L472.6 489.9 L473.2 489.3 L473.7 489.3 L474.2 488.8 L474.8 488.4 L475.3 489.2 L475.8 490.7 L476.4 489.8 L476.9 490.7 L477.4 491.2 L477.9 489.9 L478.5 489.1 L479 490.8 L479.5 490.5 L480.1 490.3 L480.6 489.2 L481.1 489.8 L481.7 489.5 L482.2 489.1 L482.7 490.2 L483.2 489 L483.8 488.6 L484.3 491.1 L484.8 488.6 L485.4 489.2 L485.9 491 L486.4 490 L487 489.5 L487.5 488.6 L488 490.3 L488.6 489.7 L489.1 488.8 L489.6 489 L490.1 488.6 L490.7 490 L491.2 489.5 L491.7 490.8 L492.3 489.3 L492.8 489 L493.3 489.5 L493.9 489.3 L494.4 490.8 L494.9 488.7 L495.5 488.5 L496 488.5 L496.5 489.8 L497 489.1 L497.6 490.5 L498.1 488.7 L498.6 488.9 L499.2 490.4 L499.7 491.2 L500.2 490.2 L500.8 489.8 L501.3 489.2 L501.8 490 L502.4 491.4 L502.9 489.1 L503.4 491.3 L503.9 489.1 L504.5 491 L505 490.5 L505.5 489.2 L506.1 491.1 L506.6 491.1 L507.1 490 L507.7 489.4 L508.2 489 L508.7 489.5 L509.2 488.7 L509.8 490.1 L510.3 488.7 L510.8 491.3 L511.4 490.9 L511.9 490 L512.4 490.7 L513 489.4 L513.5 489.7 L514 490 L514.6 489.1 L515.1 489.9 L515.6 490.7 L516.1 490.5 L516.7 489.1 L517.2 488.9 L517.7 491 L518.3 489.1 L518.8 488.7 L519.3 490 L519.9 489.9 L520.4 491 L520.9 490 L521.5 490.1 L522 489.8 L522.5 491.6 L523 488.7 L523.6 490.1 L524.1 490.4 L524.6 489.2 L525.2 490 L525.7 490.2 L526.2 489.6 L526.8 491.5 L527.3 490 L527.8 490.4 L528.4 488.8 L528.9 488.9 L529.4 490.9 L529.9 490.3 L530.5 491.3 L531 490.4 L531.5 489.2 L532.1 489 L532.6 490.3 L533.1 490.7 L533.7 491.1 L534.2 489.8 L534.7 488.9 L535.3 491.3 L535.8 489.4 L536.3 491.6 L536.8 491.1 L537.4 491 L537.9 489.7 L538.4 490.8 L539 490.7 L539.5 489.9 L540 491.4 L540.6 489.5 L541.1 491.4 L541.6 490.2 L542.1 491 L542.7 491.1 L543.2 490.1 L543.7 490.4 L544.3 490.6 L544.8 490.5 L545.3 490.2 L545.9 491.3 L546.4 491.1 L546.9 489.9 L547.5 489.8 L548 490.2 L548.5 489.2 L549 489.9 L549.6 489.1 L550.1 490.8 L550.6 488.9 L551.2 487.9 L551.7 486.3 L552.2 485.9 L552.8 482.7 L553.3 476.8 L553.8 474.4 L554.4 467.9 L554.9 465.2 L555.4 466.4 L555.9 467.2 L556.5 468.7 L557 474.3 L557.5 479.3 L558.1 481.2 L558.6 485.6 L559.1 486.7 L559.7 490 L560.2 489.9 L560.7 489.5 L561.3 491.6 L561.8 491.2 L562.3 489.7 L562.8 489.1 L563.4 488.9 L563.9 491.5 L564.4 490.3 L565 489.5 L565.5 490.3 L566 489.7 L566.6 491.1 L567.1 491.2 L567.6 490.6 L568.2 489.9 L568.7 486.6 L569.2 484.1 L569.7 480.4 L570.3 477.2 L570.8 472.4 L571.3 468.3 L571.9 463.8 L572.4 463 L572.9 465 L573.5 471.2 L574 475.8 L574.5 477.7 L575 482.9 L575.6 484.6 L576.1 487.3 L576.6 487 L577.2 486.3 L577.7 485.6 L578.2 484.3 L578.8 485.8 L579.3 484.2 L579.8 484.8 L580.4 488.1 L580.9 488.5 L581.4 488.5 L581.9 490.1 L582.5 491 L583 491.2 L583.5 490.1 L584.1 491.5 L584.6 488.6 L585.1 488.3 L585.7 487.8 L586.2 486.2 L586.7 485.5 L587.3 484.4 L587.8 482 L588.3 480.5 L588.8 477.7 L589.4 477.5 L589.9 479.2 L590.4 478.1 L591 480 L591.5 481.6 L592 483.4 L592.6 486.3 L593.1 486.2 L593.6 487.3 L594.2 488.3 L594.7 488.1 L595.2 487.6 L595.7 487.7 L596.3 485.6 L596.8 486.4 L597.3 484.9 L597.9 484.6 L598.4 486.7 L598.9 486.9 L599.5 487.3 L600 488.5 L600.5 490.4 L601.1 488.7 L601.6 489.7 L602.1 490.8 L602.6 489.9 L603.2 490.2 L603.7 490.3 L604.2 490.7 L604.8 488.9 L605.3 490 L605.8 489.8 L606.4 489.6 L606.9 488.9 L607.4 491.6 L607.9 489.7 L608.5 489 L609 489.8 L609.5 488.5 L610.1 488.2 L610.6 486.1 L611.1 483.5 L611.7 482.1 L612.2 479.6 L612.7 475.9 L613.3 475.9 L613.8 475.7 L614.3 474.7 L614.8 476.8 L615.4 476.6 L615.9 478.6 L616.4 478.9 L617 481.6 L617.5 480.4 L618 480.2 L618.6 482.8 L619.1 480.7 L619.6 483.5 L620.2 483 L620.7 484.2 L621.2 483.3 L621.7 482.9 L622.3 484.7 L622.8 482.4 L623.3 484.8 L623.9 485.5 L624.4 486.4 L624.9 488.2 L625.5 489.4 L626 489 L626.5 489.7 L627.1 490.8 L627.6 489.7 L628.1 491 L628.6 491.9 L629.2 491.2 L629.7 491.8 L630 494z" fill="#6868b0" stroke="#6868b0" stroke-width="0.6"/>
<rect x="335.2" y="386.3" width="294.8" height="107.8" fill="none" stroke="#000" stroke-width="1.8"/>
<line x1="335.2" y1="494" x2="335.2" y2="499" stroke="#000" stroke-width="1.8"/>
<text x="335.2" y="512" font-size="12" text-anchor="middle" font-weight="bold" fill="#000" >0</text>
<line x1="364.7" y1="494" x2="364.7" y2="497" stroke="#000" stroke-width="1.8"/>
<line x1="394.2" y1="494" x2="394.2" y2="499" stroke="#000" stroke-width="1.8"/>
<text x="394.2" y="512" font-size="12" text-anchor="middle" font-weight="bold" fill="#000" >2</text>
<line x1="423.6" y1="494" x2="423.6" y2="497" stroke="#000" stroke-width="1.8"/>
<line x1="453.1" y1="494" x2="453.1" y2="499" stroke="#000" stroke-width="1.8"/>
<text x="453.1" y="512" font-size="12" text-anchor="middle" font-weight="bold" fill="#000" >4</text>
<line x1="482.6" y1="494" x2="482.6" y2="497" stroke="#000" stroke-width="1.8"/>
<line x1="512.1" y1="494" x2="512.1" y2="499" stroke="#000" stroke-width="1.8"/>
<text x="512.1" y="512" font-size="12" text-anchor="middle" font-weight="bold" fill="#000" >6</text>
<line x1="541.6" y1="494" x2="541.6" y2="497" stroke="#000" stroke-width="1.8"/>
<line x1="571" y1="494" x2="571" y2="499" stroke="#000" stroke-width="1.8"/>
<text x="571" y="512" font-size="12" text-anchor="middle" font-weight="bold" fill="#000" >8</text>
<line x1="600.5" y1="494" x2="600.5" y2="497" stroke="#000" stroke-width="1.8"/>
<line x1="630" y1="494" x2="630" y2="499" stroke="#000" stroke-width="1.8"/>
<text x="630" y="512" font-size="12" text-anchor="middle" font-weight="bold" fill="#000" >10</text>
<text x="482.8" y="526.7" font-size="16" text-anchor="middle" font-weight="bold" fill="#000" textLength="101.4" lengthAdjust="spacingAndGlyphs">Energy (keV)</text>
<text transform="translate(328.2,439.85) rotate(-90)" font-size="16" font-weight="bold" text-anchor="middle" textLength="111.3" lengthAdjust="spacingAndGlyphs">Intensity (a.u.)</text>
<text x="305.5" y="405.5" font-size="24.5" text-anchor="middle" fill="#000" >d</text>
<text x="362.5" y="415" font-size="12" text-anchor="middle" font-weight="bold" fill="#000" >Cu</text>
<text x="359.7" y="426.5" font-size="12" text-anchor="middle" font-weight="bold" fill="#000" >Ni</text>
<text x="370.2" y="447.6" font-size="12" text-anchor="middle" font-weight="bold" fill="#000" >Zn</text>
<text x="396.5" y="433.5" font-size="12" text-anchor="middle" font-weight="bold" fill="#000" >Pt</text>
<text x="420.3" y="433.5" font-size="12" text-anchor="middle" font-weight="bold" fill="#000" >Pd</text>
<text x="407.8" y="468.7" font-size="12" text-anchor="middle" font-weight="bold" fill="#000" >Mo</text>
<text x="555.7" y="463" font-size="12" text-anchor="middle" font-weight="bold" fill="#000" >Ni</text>
<text x="574.3" y="460.3" font-size="12" text-anchor="middle" font-weight="bold" fill="#000" >Cu</text>
<text x="590.8" y="474.3" font-size="12" text-anchor="middle" font-weight="bold" fill="#000" >Zn</text>
<text x="615.7" y="474.3" font-size="12" text-anchor="middle" font-weight="bold" fill="#000" >Pt</text>
<g><path d="M545.2 427.8 A56.5 26.8 0 0 1 483.8 454.5 L483.8 465.5 A56.5 26.8 0 0 0 545.2 438.8z" fill="#ac925f"/><path d="M483.8 454.5 A56.5 26.8 0 0 1 448.1 446.4 L448.1 457.4 A56.5 26.8 0 0 0 483.8 465.5z" fill="#a78c4c"/><path d="M448.1 446.4 A56.5 26.8 0 0 1 432.2 427.8 L432.2 438.8 A56.5 26.8 0 0 0 448.1 457.4z" fill="#9f4d36"/><line x1="483.8" y1="454.5" x2="483.8" y2="465.5" stroke="#fff" stroke-width="1" opacity="0.8"/><line x1="448.1" y1="446.4" x2="448.1" y2="457.4" stroke="#fff" stroke-width="1" opacity="0.8"/><path d="M488.7 427.8 L483.8 401.1 A56.5 26.8 0 0 1 490.7 401z" fill="#f3bfc6" stroke="#fff" stroke-width="0.5" stroke-opacity="0.6"/><path d="M488.7 427.8 L490.7 401 A56.5 26.8 0 0 1 545.2 427.8z" fill="#7db89a" stroke="#fff" stroke-width="0.5" stroke-opacity="0.6"/><path d="M488.7 427.8 L545.2 427.8 A56.5 26.8 0 0 1 483.8 454.5z" fill="#efcb85" stroke="#fff" stroke-width="0.5" stroke-opacity="0.6"/><path d="M488.7 427.8 L483.8 454.5 A56.5 26.8 0 0 1 448.1 446.4z" fill="#e8c36a" stroke="#fff" stroke-width="0.5" stroke-opacity="0.6"/><path d="M488.7 427.8 L448.1 446.4 A56.5 26.8 0 0 1 443.6 411.7z" fill="#de6b4c" stroke="#fff" stroke-width="0.5" stroke-opacity="0.6"/><path d="M488.7 427.8 L443.6 411.7 A56.5 26.8 0 0 1 483.8 401.1z" fill="#2e3a5c" stroke="#fff" stroke-width="0.5" stroke-opacity="0.6"/></g>
<text x="489" y="400.5" font-size="12" text-anchor="middle" font-weight="bold" fill="#000" >Mo</text>
<text x="514.6" y="418" font-size="12" text-anchor="middle" font-weight="bold" fill="#000" >Pd</text>
<text x="470.3" y="413.8" font-size="12" text-anchor="middle" font-weight="bold" fill="#000" >Pt</text>
<text x="452.8" y="430.3" font-size="12" text-anchor="middle" font-weight="bold" fill="#000" >Cu</text>
<text x="471.2" y="446.7" font-size="12" text-anchor="middle" font-weight="bold" fill="#000" >Zn</text>
<text x="511.6" y="443.5" font-size="12" text-anchor="middle" font-weight="bold" fill="#000" >Ni</text>
<line x1="1036" y1="305.5" x2="1374" y2="305.5" stroke="#222" stroke-width="1.4" stroke-dasharray="4 3"/>
<line x1="1036" y1="446.8" x2="1374" y2="446.8" stroke="#222" stroke-width="1.4" stroke-dasharray="4 3"/>
<path d="M1035.4 441.5 L1037.9 440.4 L1042.6 444.4 L1049.7 440.8 L1058 466.6 L1061.6 436.9 L1065.2 443.3 L1070.2 448 L1076 455.9 L1080.3 436.1 L1083.8 387.7 L1086.7 344.6 L1088.5 305.8 L1091.9 300.3 L1099.4 284.1 L1106.9 302.6 L1111 294.5 L1118.4 308.4 L1122.5 291.1 L1130 307.8 L1138.6 295.7 L1143.8 298 L1149 310.7 L1157.7 299.1 L1164.6 300.3 L1168 313.6 L1172.1 276.1 L1175.5 288.8 L1179.6 316.4 L1183.6 303.2 L1187.7 307.8 L1192.3 304.9 L1197.5 305.5 L1202.7 299.1 L1206.7 307.2 L1213.6 294.5 L1217.7 309.5 L1224.6 294.5 L1225.2 294 L1232.7 298 L1236.7 315.3 L1240.2 303.8 L1244.2 312.4 L1247.7 307.2 L1254.6 306.6 L1262.7 311.3 L1266.7 300.3 L1270.8 314.7 L1274.8 306.6 L1282.3 302 L1285.8 307.8 L1293.8 292.8 L1298.4 303.8 L1300.2 307 L1305.3 319 L1308.8 308.8 L1316.6 323.4 L1322.4 312.2 L1325.8 304.3 L1328.2 304.3 L1332.6 341.1 L1336 392.3 L1339.4 443.4 L1344.6 446.2 L1347.3 450.2 L1350.7 446.2 L1354.1 446.8 L1357.5 433.2 L1361.6 465.6 L1364.3 447.5 L1369.1 450.2 L1373.5 453.7" fill="none" stroke="#6468a8" stroke-width="2" stroke-linejoin="round"/>
<line x1="1195.7" y1="313" x2="1195.7" y2="440" stroke="#3a3a48" stroke-width="1.6" stroke-dasharray="2.5 2.5"/>
<path d="M1195.7 306.5 l-3 7.5 h6z" fill="#3a3a48"/><path d="M1195.7 446.5 l-3 -7.5 h6z" fill="#3a3a48"/>
<text x="1200.2" y="382.2" font-size="14" text-anchor="start" font-weight="bold" fill="#000" >1.69 nm</text>
<rect x="1035.3" y="238.85" width="339.4" height="249.9" fill="none" stroke="#000" stroke-width="1.8"/>
<line x1="1035.3" y1="488.75" x2="1035.3" y2="493.75" stroke="#000" stroke-width="1.8"/>
<text x="1035.3" y="508.4" font-size="14" text-anchor="middle" font-weight="bold" fill="#000" >0</text>
<line x1="1059.5" y1="488.75" x2="1059.5" y2="491.75" stroke="#000" stroke-width="1.8"/>
<line x1="1083.8" y1="488.75" x2="1083.8" y2="493.75" stroke="#000" stroke-width="1.8"/>
<text x="1083.8" y="508.4" font-size="14" text-anchor="middle" font-weight="bold" fill="#000" >100</text>
<line x1="1108" y1="488.75" x2="1108" y2="491.75" stroke="#000" stroke-width="1.8"/>
<line x1="1132.2" y1="488.75" x2="1132.2" y2="493.75" stroke="#000" stroke-width="1.8"/>
<text x="1132.2" y="508.4" font-size="14" text-anchor="middle" font-weight="bold" fill="#000" >200</text>
<line x1="1156.5" y1="488.75" x2="1156.5" y2="491.75" stroke="#000" stroke-width="1.8"/>
<line x1="1180.7" y1="488.75" x2="1180.7" y2="493.75" stroke="#000" stroke-width="1.8"/>
<text x="1180.7" y="508.4" font-size="14" text-anchor="middle" font-weight="bold" fill="#000" >300</text>
<line x1="1204.9" y1="488.75" x2="1204.9" y2="491.75" stroke="#000" stroke-width="1.8"/>
<line x1="1229.1" y1="488.75" x2="1229.1" y2="493.75" stroke="#000" stroke-width="1.8"/>
<text x="1229.1" y="508.4" font-size="14" text-anchor="middle" font-weight="bold" fill="#000" >400</text>
<line x1="1253.4" y1="488.75" x2="1253.4" y2="491.75" stroke="#000" stroke-width="1.8"/>
<line x1="1277.6" y1="488.75" x2="1277.6" y2="493.75" stroke="#000" stroke-width="1.8"/>
<text x="1277.6" y="508.4" font-size="14" text-anchor="middle" font-weight="bold" fill="#000" >500</text>
<line x1="1301.8" y1="488.75" x2="1301.8" y2="491.75" stroke="#000" stroke-width="1.8"/>
<line x1="1326.1" y1="488.75" x2="1326.1" y2="493.75" stroke="#000" stroke-width="1.8"/>
<text x="1326.1" y="508.4" font-size="14" text-anchor="middle" font-weight="bold" fill="#000" >600</text>
<line x1="1350.3" y1="488.75" x2="1350.3" y2="491.75" stroke="#000" stroke-width="1.8"/>
<line x1="1374.5" y1="488.75" x2="1374.5" y2="493.75" stroke="#000" stroke-width="1.8"/>
<text x="1374.5" y="508.4" font-size="14" text-anchor="middle" font-weight="bold" fill="#000" >700</text>
<line x1="1030.3" y1="238.9" x2="1035.3" y2="238.9" stroke="#000" stroke-width="1.8"/>
<text x="1026.2" y="243.9" font-size="14" text-anchor="end" font-weight="bold" fill="#000" >2.5</text>
<line x1="1032.3" y1="259.7" x2="1035.3" y2="259.7" stroke="#000" stroke-width="1.8"/>
<line x1="1030.3" y1="280.5" x2="1035.3" y2="280.5" stroke="#000" stroke-width="1.8"/>
<text x="1026.2" y="285.5" font-size="14" text-anchor="end" font-weight="bold" fill="#000" >2.0</text>
<line x1="1032.3" y1="301.3" x2="1035.3" y2="301.3" stroke="#000" stroke-width="1.8"/>
<line x1="1030.3" y1="322.2" x2="1035.3" y2="322.2" stroke="#000" stroke-width="1.8"/>
<text x="1026.2" y="327.2" font-size="14" text-anchor="end" font-weight="bold" fill="#000" >1.5</text>
<line x1="1032.3" y1="343" x2="1035.3" y2="343" stroke="#000" stroke-width="1.8"/>
<line x1="1030.3" y1="363.8" x2="1035.3" y2="363.8" stroke="#000" stroke-width="1.8"/>
<text x="1026.2" y="368.8" font-size="14" text-anchor="end" font-weight="bold" fill="#000" >1.0</text>
<line x1="1032.3" y1="384.6" x2="1035.3" y2="384.6" stroke="#000" stroke-width="1.8"/>
<line x1="1030.3" y1="405.5" x2="1035.3" y2="405.5" stroke="#000" stroke-width="1.8"/>
<text x="1026.2" y="410.5" font-size="14" text-anchor="end" font-weight="bold" fill="#000" >0.5</text>
<line x1="1032.3" y1="426.3" x2="1035.3" y2="426.3" stroke="#000" stroke-width="1.8"/>
<line x1="1030.3" y1="447.1" x2="1035.3" y2="447.1" stroke="#000" stroke-width="1.8"/>
<text x="1026.2" y="452.1" font-size="14" text-anchor="end" font-weight="bold" fill="#000" >0.0</text>
<line x1="1032.3" y1="467.9" x2="1035.3" y2="467.9" stroke="#000" stroke-width="1.8"/>
<line x1="1030.3" y1="488.8" x2="1035.3" y2="488.8" stroke="#000" stroke-width="1.8"/>
<text x="1026.2" y="493.8" font-size="14" text-anchor="end" font-weight="bold" fill="#000" >-0.5</text>
<text x="1205.7" y="526.5" font-size="17.5" text-anchor="middle" font-weight="bold" fill="#000" textLength="125.1" lengthAdjust="spacingAndGlyphs">Distance (nm)</text>
<text transform="translate(998,360.95) rotate(-90)" font-size="16.5" font-weight="bold" text-anchor="middle" textLength="104.7" lengthAdjust="spacingAndGlyphs">Height (nm)</text>
<text x="991" y="257.5" font-size="25" text-anchor="middle" fill="#000" >f</text>
<rect x="649" y="238" width="293" height="291" fill="#5f0903"/>
<polygon points="758.1,333.3 762.7,330.2 785.4,330.2 800.5,325.7 812.6,318.1 821.7,313.6 839.8,312.7 854.9,318.1 867,325.7 877.6,334.8 882.2,348.4 883.7,366.5 880.7,384.7 873.1,399.8 861,411.9 851.9,421 844.4,433.1 836.8,445.2 827.7,451.2 818.6,451.2 811.1,445.2 803.5,436.1 799,424 791.4,408.9 788.4,399.8 785.4,390.7 776.3,378.6 770.2,366.5 764.2,354.4 758.1,345.4 756.6,337.8" fill="#c09a34"/>
<g clip-path="url(#flk)"><rect x="755" y="312" width="130" height="1.0" fill="#c9a240" opacity="0.5"/><rect x="755" y="313.8" width="130" height="0.6" fill="#a27618" opacity="0.7"/><rect x="755" y="315" width="130" height="0.6" fill="#d6b452" opacity="0.4"/><rect x="755" y="316.5" width="130" height="0.8" fill="#a27618" opacity="0.6"/><rect x="755" y="318.2" width="130" height="0.6" fill="#c9a240" opacity="0.4"/><rect x="755" y="319.4" width="130" height="1.2" fill="#d6b452" opacity="0.7"/><rect x="755" y="320.4" width="130" height="1.2" fill="#d6b452" opacity="0.4"/><rect x="755" y="322.6" width="130" height="0.6" fill="#d6b452" opacity="0.7"/><rect x="755" y="324.7" width="130" height="0.8" fill="#d6b452" opacity="0.5"/><rect x="755" y="326.9" width="130" height="0.8" fill="#d6b452" opacity="0.8"/><rect x="755" y="328.7" width="130" height="1.2" fill="#ad801e" opacity="0.4"/><rect x="755" y="330.1" width="130" height="0.8" fill="#ad801e" opacity="0.4"/><rect x="755" y="331.4" width="130" height="0.6" fill="#e2c66c" opacity="0.7"/><rect x="755" y="332.8" width="130" height="1.0" fill="#ad801e" opacity="0.7"/><rect x="755" y="334.3" width="130" height="1.0" fill="#d6b452" opacity="0.6"/><rect x="755" y="336.1" width="130" height="0.6" fill="#ad801e" opacity="0.8"/><rect x="755" y="337" width="130" height="1.0" fill="#a27618" opacity="0.4"/><rect x="755" y="339" width="130" height="1.0" fill="#a27618" opacity="0.6"/><rect x="755" y="339.9" width="130" height="0.6" fill="#c9a240" opacity="0.4"/><rect x="755" y="342" width="130" height="0.8" fill="#dcbd5c" opacity="0.7"/><rect x="755" y="344.1" width="130" height="1.2" fill="#ad801e" opacity="0.6"/><rect x="755" y="346.2" width="130" height="1.0" fill="#a27618" opacity="0.4"/><rect x="755" y="348.1" width="130" height="1.0" fill="#ad801e" opacity="0.4"/><rect x="755" y="350.2" width="130" height="0.6" fill="#d6b452" opacity="0.5"/><rect x="755" y="351.9" width="130" height="0.8" fill="#ad801e" opacity="0.5"/><rect x="755" y="353.7" width="130" height="0.6" fill="#ad801e" opacity="0.7"/><rect x="755" y="355" width="130" height="0.6" fill="#c9a240" opacity="0.4"/><rect x="755" y="356.8" width="130" height="1.2" fill="#d6b452" opacity="0.7"/><rect x="755" y="357.8" width="130" height="1.2" fill="#dcbd5c" opacity="0.5"/><rect x="755" y="359.5" width="130" height="1.0" fill="#a27618" opacity="0.6"/><rect x="755" y="360.6" width="130" height="0.6" fill="#a27618" opacity="0.5"/><rect x="755" y="361.7" width="130" height="0.8" fill="#c9a240" opacity="0.8"/><rect x="755" y="363.2" width="130" height="0.8" fill="#a27618" opacity="0.5"/><rect x="755" y="364.1" width="130" height="1.2" fill="#ad801e" opacity="0.4"/><rect x="755" y="366.2" width="130" height="0.8" fill="#e2c66c" opacity="0.6"/><rect x="755" y="367.8" width="130" height="1.0" fill="#a27618" opacity="0.5"/><rect x="755" y="369.3" width="130" height="0.8" fill="#dcbd5c" opacity="0.5"/><rect x="755" y="371.5" width="130" height="0.8" fill="#c9a240" opacity="0.8"/><rect x="755" y="373.5" width="130" height="0.8" fill="#dcbd5c" opacity="0.6"/><rect x="755" y="375.1" width="130" height="1.0" fill="#dcbd5c" opacity="0.7"/><rect x="755" y="377" width="130" height="0.6" fill="#ad801e" opacity="0.5"/><rect x="755" y="378.8" width="130" height="1.0" fill="#a27618" opacity="0.5"/><rect x="755" y="381" width="130" height="1.0" fill="#ad801e" opacity="0.6"/><rect x="755" y="382.6" width="130" height="0.6" fill="#a27618" opacity="0.6"/><rect x="755" y="383.8" width="130" height="1.0" fill="#a27618" opacity="0.5"/><rect x="755" y="385.4" width="130" height="1.0" fill="#ad801e" opacity="0.5"/><rect x="755" y="386.7" width="130" height="1.2" fill="#ad801e" opacity="0.8"/><rect x="755" y="387.9" width="130" height="1.2" fill="#ad801e" opacity="0.8"/><rect x="755" y="389.4" width="130" height="0.8" fill="#d6b452" opacity="0.7"/><rect x="755" y="391.6" width="130" height="1.2" fill="#ad801e" opacity="0.7"/><rect x="755" y="393.4" width="130" height="1.2" fill="#d6b452" opacity="0.6"/><rect x="755" y="395.5" width="130" height="1.2" fill="#ad801e" opacity="0.6"/><rect x="755" y="397.4" width="130" height="1.0" fill="#c9a240" opacity="0.8"/><rect x="755" y="398.6" width="130" height="1.2" fill="#e2c66c" opacity="0.6"/><rect x="755" y="399.8" width="130" height="0.8" fill="#c9a240" opacity="0.7"/><rect x="755" y="401.9" width="130" height="0.8" fill="#d6b452" opacity="0.4"/><rect x="755" y="403" width="130" height="1.0" fill="#d6b452" opacity="0.6"/><rect x="755" y="404.6" width="130" height="1.2" fill="#a27618" opacity="0.5"/><rect x="755" y="406.4" width="130" height="0.6" fill="#e2c66c" opacity="0.4"/><rect x="755" y="408.2" width="130" height="1.0" fill="#dcbd5c" opacity="0.5"/><rect x="755" y="410.4" width="130" height="1.2" fill="#dcbd5c" opacity="0.7"/><rect x="755" y="412" width="130" height="0.6" fill="#e2c66c" opacity="0.6"/><rect x="755" y="413" width="130" height="1.0" fill="#e2c66c" opacity="0.5"/><rect x="755" y="414.4" width="130" height="0.8" fill="#a27618" opacity="0.5"/><rect x="755" y="416" width="130" height="1.0" fill="#a27618" opacity="0.4"/><rect x="755" y="417.7" width="130" height="1.2" fill="#d6b452" opacity="0.8"/><rect x="755" y="419.3" width="130" height="1.0" fill="#c9a240" opacity="0.4"/><rect x="755" y="420.4" width="130" height="0.8" fill="#ad801e" opacity="0.6"/><rect x="755" y="422.4" width="130" height="1.2" fill="#a27618" opacity="0.5"/><rect x="755" y="423.6" width="130" height="1.0" fill="#a27618" opacity="0.8"/><rect x="755" y="425" width="130" height="0.8" fill="#e2c66c" opacity="0.6"/><rect x="755" y="426.9" width="130" height="1.0" fill="#a27618" opacity="0.5"/><rect x="755" y="427.8" width="130" height="1.0" fill="#a27618" opacity="0.8"/><rect x="755" y="428.9" width="130" height="0.6" fill="#dcbd5c" opacity="0.6"/><rect x="755" y="431.1" width="130" height="0.8" fill="#ad801e" opacity="0.4"/><rect x="755" y="432.1" width="130" height="1.2" fill="#dcbd5c" opacity="0.6"/><rect x="755" y="433.8" width="130" height="0.8" fill="#a27618" opacity="0.7"/><rect x="755" y="435" width="130" height="1.0" fill="#d6b452" opacity="0.7"/><rect x="755" y="436.3" width="130" height="1.2" fill="#e2c66c" opacity="0.8"/><rect x="755" y="437.8" width="130" height="0.6" fill="#dcbd5c" opacity="0.7"/><rect x="755" y="439.1" width="130" height="1.0" fill="#e2c66c" opacity="0.5"/><rect x="755" y="440.7" width="130" height="1.2" fill="#ad801e" opacity="0.5"/><rect x="755" y="442.6" width="130" height="0.8" fill="#dcbd5c" opacity="0.4"/><rect x="755" y="444.2" width="130" height="0.6" fill="#c9a240" opacity="0.6"/><rect x="755" y="445.1" width="130" height="1.2" fill="#e2c66c" opacity="0.6"/><rect x="755" y="446.9" width="130" height="1.2" fill="#a27618" opacity="0.6"/><rect x="755" y="448.7" width="130" height="0.8" fill="#ad801e" opacity="0.6"/><rect x="755" y="450.6" width="130" height="1.0" fill="#dcbd5c" opacity="0.7"/><rect x="755" y="310" width="130" height="145" filter="url(#afmn)" opacity="0.5"/></g>
<circle cx="865" cy="337.8" r="1.3" fill="#5a2a08"/>
<circle cx="834.7" cy="359.9" r="1.3" fill="#5a2a08"/>
<circle cx="872.2" cy="374.1" r="1.3" fill="#5a2a08"/>
<circle cx="839.8" cy="428.6" r="1.3" fill="#5a2a08"/>
<rect x="787" y="410.7" width="83" height="4" fill="#fff"/>
<text x="902" y="513.3" font-size="21" text-anchor="middle" fill="#fff" >400 nm</text>
<rect x="872.2" y="518.4" width="59.8" height="3.7" fill="#fff"/>
<text x="660.5" y="255.7" font-size="24" text-anchor="middle" fill="#fff" >e</text>
<rect x="951" y="239.3" width="18.6" height="292" fill="url(#cbar)" stroke="#000" stroke-width="1.6"/>
<rect x="950.2" y="238.4" width="20.2" height="2" fill="#000"/>
<rect x="0" y="238" width="294" height="291" fill="#1a1a1a"/>
<g clip-path="url(#semc)"><g filter="url(#sb)"><polygon points="52,251.1 56.7,247.3 66.2,244.5 73.7,245.5 81.3,250.2 85.1,254.9 84.1,259.6 79.4,261.5 71.8,259.6 64.3,261.5 58.6,266.2 54.8,262.5 52.6,256.8" fill="#7c7c7c"/><polygon points="30.2,281.4 39.7,276.6 49.1,272.9 62.4,262.5 71.8,259.6 81.3,268.1 88.8,273.8 94.5,283.3 100,285.1 100,336 51,336 47.3,326.7 37.8,324.8 28.4,319.2 18.9,313.5 11.3,308.8 12.3,305 18,304.1 22.7,293.7 28.4,291.8 32.1,288" fill="#939393"/><polygon points="103.7,251.1 109.3,243.6 115,237.9 156.6,237.9 155.7,247.3 152.8,256.8 149,264.4 143.4,260.6 135.8,259.6 124.5,262.5 115,266.2 107.5,264.4 103.7,258.7" fill="#939393"/><polygon points="98,283.3 103.7,288.9 113.1,288 124.5,286.1 135.8,288.9 147.1,288.9 154.7,285.5 163.2,284.2 166.1,292.7 167,304.1 173.6,307.8 181.2,310.7 198,310.7 198,336 98,336" fill="#939393"/><polygon points="197.9,262.5 201.7,254.9 207.3,247.3 210.2,244.5 214.9,249.2 220.6,253 222.5,260.6 220.6,268.1 213,270 203.6,272.9 198.8,270" fill="#7c7c7c"/><polygon points="224.4,254.9 231.9,245.5 241.4,240.7 252.7,238.8 267.8,238.8 277.3,237.9 296.2,238.8 296.2,271.9 288.6,270 283,266.2 275.4,264.4 265.9,266.2 258.4,262.5 252.7,266.2 243.3,273.8 237.6,276.6 231.9,271.9 226.2,266.2 223.4,260.6" fill="#7c7c7c"/><polygon points="236.6,298.4 243.3,291.8 250.8,289.9 257.4,291.8 259.3,300.3 256.5,306.9 252.7,309.7 245.1,306.9 238.5,302.2" fill="#7c7c7c"/><polygon points="196,310.7 199.8,309.7 204.5,317.3 205.5,324.8 199.8,328.6 196,328.6" fill="#7c7c7c"/><polygon points="205.5,336 207.3,330.5 218.7,328.6 228.1,331.5 233.8,336" fill="#7c7c7c"/><polygon points="275.4,336 277.3,328.6 283,323.9 290.5,326.7 296.2,330.5 296.2,336" fill="#7c7c7c"/><polygon points="51,334 94.5,334 100,337.8 100,345.3 92.6,345.3 83.2,349.1 71.8,347.2 62.4,345.3 54.8,343.5 51,339.7" fill="#939393"/><polygon points="41.6,354.8 47.3,350.1 56.7,349.1 64.3,351 68.1,356.7 71.8,358.6 75.6,357.6 79.4,364.2 85.1,367.1 94.5,365.2 97.4,369.9 94.5,377.5 90.7,385 88.8,392.6 83.2,394.5 77.5,390.7 68.1,387.9 58.6,386.9 52.9,386.9 45.4,385 37.8,383.1 35,377.5 36.9,368 40.6,362.4" fill="#939393"/><polygon points="1.9,403.9 11.3,394.5 18.9,388.8 28.4,383.1 37.8,382.2 49.1,385 56.7,388.8 58.6,398.3 56.7,409.6 52.9,413.4 62.4,413.4 81.3,413.4 88.8,405.8 100,403.9 100,434 3.8,434 1.9,424.7 0,413.4 0,405.8" fill="#7c7c7c"/><polygon points="98,334 198,334 198,434 98,434 98,409.6 105.6,407.7 113.1,403.9 120.7,403.9 126.4,407.7 132,403.9 133.9,396.4 130.1,386.9 124.5,375.6 116.9,366.1 113.1,356.7 111.2,345.3 105.6,337.8 98,339.7" fill="#939393"/><polygon points="196,334 241.4,334 247,341.6 252.7,345.3 260.3,341.6 265.9,347.2 264.1,354.8 258.4,362.4 256.5,371.8 250.8,379.4 243.3,386.9 239.5,394.5 233.8,405.8 228.1,409.6 218.7,413.4 211.1,417.2 205.5,415.3 199.8,405.8 196,403.9" fill="#939393"/><polygon points="241.4,390.7 248.9,382.2 256.5,377.5 262.2,366.1 271.6,362.4 279.2,366.1 286.7,371.8 284.8,383.1 283,390.7 284.8,402.1 279.2,409.6 271.6,415.3 262.2,409.6 254.6,403.9 247,400.2" fill="#7c7c7c"/><polygon points="271.6,334 296.2,334 296.2,352.9 286.7,360.5 279.2,358.6 275.4,352.9 273.5,343.5" fill="#7c7c7c"/><polygon points="207.3,434 211.1,422.8 220.6,419.1 228.1,413.4 235.7,409.6 245.1,413.4 252.7,422.8 254.6,434" fill="#939393"/><polygon points="284.8,366.1 296.2,364.2 296.2,379.4 288.6,383.1 284.8,377.5" fill="#7c7c7c"/><polygon points="5.7,429 79.4,429 83.2,436.6 81.3,446 79.4,455.5 68.1,457.4 54.8,457.4 45.4,457.4 41.6,449.8 39.7,444.1 28.4,444.1 17,442.2 9.5,436.6" fill="#7c7c7c"/><polygon points="79.4,446 87,440.3 94.5,440.3 100,436.6 100,481.9 92.6,480 87,476.3 81.3,474.4 77.5,468.7 79.4,461.1" fill="#939393"/><polygon points="98,429 198,429 198,529 128.2,529 133.9,516 138.6,504.6 139.6,491.4 141.5,474.4 145.3,464.9 135.8,455.5 124.5,446 115,444.1 107.5,455.5 105.6,466.8 98,481.9" fill="#939393"/><polygon points="196,429 252.7,429 250.8,436.6 241.4,440.3 231.9,444.1 224.4,451.7 228.1,461.1 233.8,472.5 235.7,481.9 231.9,489.5 224.4,491.4 220.6,498.9 218.7,508.4 220.6,516 211.1,519.7 203.6,523.5 196,525.4" fill="#939393"/><g clip-path="url(#semflk)"><rect x="0" y="238" width="294" height="291" filter="url(#turb)"/><rect x="0" y="238" width="294" height="291" filter="url(#turb2)"/><ellipse cx="165" cy="385" rx="75" ry="95" fill="url(#semglow)"/><ellipse cx="245" cy="310" rx="40" ry="35" fill="url(#semglow)"/></g><path d="M52 251.1L56.7 247.3M56.7 247.3L66.2 244.5M66.2 244.5L73.7 245.5M73.7 245.5L81.3 250.2M81.3 250.2L85.1 254.9M85.1 254.9L84.1 259.6M84.1 259.6L79.4 261.5M79.4 261.5L71.8 259.6M71.8 259.6L64.3 261.5M64.3 261.5L58.6 266.2M58.6 266.2L54.8 262.5M54.8 262.5L52.6 256.8M52.6 256.8L52 251.1M30.2 281.4L39.7 276.6M39.7 276.6L49.1 272.9M49.1 272.9L62.4 262.5M62.4 262.5L71.8 259.6M71.8 259.6L81.3 268.1M81.3 268.1L88.8 273.8M88.8 273.8L94.5 283.3M94.5 283.3L100 285.1M51 336L47.3 326.7M47.3 326.7L37.8 324.8M37.8 324.8L28.4 319.2M28.4 319.2L18.9 313.5M18.9 313.5L11.3 308.8M11.3 308.8L12.3 305M12.3 305L18 304.1M18 304.1L22.7 293.7M22.7 293.7L28.4 291.8M28.4 291.8L32.1 288M32.1 288L30.2 281.4M103.7 251.1L109.3 243.6M109.3 243.6L115 237.9M115 237.9L156.6 237.9M156.6 237.9L155.7 247.3M155.7 247.3L152.8 256.8M152.8 256.8L149 264.4M149 264.4L143.4 260.6M143.4 260.6L135.8 259.6M135.8 259.6L124.5 262.5M124.5 262.5L115 266.2M115 266.2L107.5 264.4M107.5 264.4L103.7 258.7M103.7 258.7L103.7 251.1M98 283.3L103.7 288.9M103.7 288.9L113.1 288M113.1 288L124.5 286.1M124.5 286.1L135.8 288.9M135.8 288.9L147.1 288.9M147.1 288.9L154.7 285.5M154.7 285.5L163.2 284.2M163.2 284.2L166.1 292.7M166.1 292.7L167 304.1M167 304.1L173.6 307.8M173.6 307.8L181.2 310.7M181.2 310.7L198 310.7M197.9 262.5L201.7 254.9M201.7 254.9L207.3 247.3M207.3 247.3L210.2 244.5M210.2 244.5L214.9 249.2M214.9 249.2L220.6 253M220.6 253L222.5 260.6M222.5 260.6L220.6 268.1M220.6 268.1L213 270M213 270L203.6 272.9M203.6 272.9L198.8 270M198.8 270L197.9 262.5M224.4 254.9L231.9 245.5M231.9 245.5L241.4 240.7M241.4 240.7L252.7 238.8M252.7 238.8L267.8 238.8M267.8 238.8L277.3 237.9M277.3 237.9L296.2 238.8M296.2 271.9L288.6 270M288.6 270L283 266.2M283 266.2L275.4 264.4M275.4 264.4L265.9 266.2M265.9 266.2L258.4 262.5M258.4 262.5L252.7 266.2M252.7 266.2L243.3 273.8M243.3 273.8L237.6 276.6M237.6 276.6L231.9 271.9M231.9 271.9L226.2 266.2M226.2 266.2L223.4 260.6M223.4 260.6L224.4 254.9M236.6 298.4L243.3 291.8M243.3 291.8L250.8 289.9M250.8 289.9L257.4 291.8M257.4 291.8L259.3 300.3M259.3 300.3L256.5 306.9M256.5 306.9L252.7 309.7M252.7 309.7L245.1 306.9M245.1 306.9L238.5 302.2M238.5 302.2L236.6 298.4M196 310.7L199.8 309.7M199.8 309.7L204.5 317.3M204.5 317.3L205.5 324.8M205.5 324.8L199.8 328.6M199.8 328.6L196 328.6M205.5 336L207.3 330.5M207.3 330.5L218.7 328.6M218.7 328.6L228.1 331.5M228.1 331.5L233.8 336M275.4 336L277.3 328.6M277.3 328.6L283 323.9M283 323.9L290.5 326.7M290.5 326.7L296.2 330.5M100 345.3L92.6 345.3M92.6 345.3L83.2 349.1M83.2 349.1L71.8 347.2M71.8 347.2L62.4 345.3M62.4 345.3L54.8 343.5M54.8 343.5L51 339.7M51 339.7L51 334M41.6 354.8L47.3 350.1M47.3 350.1L56.7 349.1M56.7 349.1L64.3 351M64.3 351L68.1 356.7M68.1 356.7L71.8 358.6M71.8 358.6L75.6 357.6M75.6 357.6L79.4 364.2M79.4 364.2L85.1 367.1M85.1 367.1L94.5 365.2M94.5 365.2L97.4 369.9M97.4 369.9L94.5 377.5M94.5 377.5L90.7 385M90.7 385L88.8 392.6M88.8 392.6L83.2 394.5M83.2 394.5L77.5 390.7M77.5 390.7L68.1 387.9M68.1 387.9L58.6 386.9M58.6 386.9L52.9 386.9M52.9 386.9L45.4 385M45.4 385L37.8 383.1M37.8 383.1L35 377.5M35 377.5L36.9 368M36.9 368L40.6 362.4M40.6 362.4L41.6 354.8M1.9 403.9L11.3 394.5M11.3 394.5L18.9 388.8M18.9 388.8L28.4 383.1M28.4 383.1L37.8 382.2M37.8 382.2L49.1 385M49.1 385L56.7 388.8M56.7 388.8L58.6 398.3M58.6 398.3L56.7 409.6M56.7 409.6L52.9 413.4M52.9 413.4L62.4 413.4M62.4 413.4L81.3 413.4M81.3 413.4L88.8 405.8M88.8 405.8L100 403.9M3.8 434L1.9 424.7M1.9 424.7L0 413.4M0 405.8L1.9 403.9M98 409.6L105.6 407.7M105.6 407.7L113.1 403.9M113.1 403.9L120.7 403.9M120.7 403.9L126.4 407.7M126.4 407.7L132 403.9M132 403.9L133.9 396.4M133.9 396.4L130.1 386.9M130.1 386.9L124.5 375.6M124.5 375.6L116.9 366.1M116.9 366.1L113.1 356.7M113.1 356.7L111.2 345.3M111.2 345.3L105.6 337.8M105.6 337.8L98 339.7M241.4 334L247 341.6M247 341.6L252.7 345.3M252.7 345.3L260.3 341.6M260.3 341.6L265.9 347.2M265.9 347.2L264.1 354.8M264.1 354.8L258.4 362.4M258.4 362.4L256.5 371.8M256.5 371.8L250.8 379.4M250.8 379.4L243.3 386.9M243.3 386.9L239.5 394.5M239.5 394.5L233.8 405.8M233.8 405.8L228.1 409.6M228.1 409.6L218.7 413.4M218.7 413.4L211.1 417.2M211.1 417.2L205.5 415.3M205.5 415.3L199.8 405.8M199.8 405.8L196 403.9M241.4 390.7L248.9 382.2M248.9 382.2L256.5 377.5M256.5 377.5L262.2 366.1M262.2 366.1L271.6 362.4M271.6 362.4L279.2 366.1M279.2 366.1L286.7 371.8M286.7 371.8L284.8 383.1M284.8 383.1L283 390.7M283 390.7L284.8 402.1M284.8 402.1L279.2 409.6M279.2 409.6L271.6 415.3M271.6 415.3L262.2 409.6M262.2 409.6L254.6 403.9M254.6 403.9L247 400.2M247 400.2L241.4 390.7M296.2 352.9L286.7 360.5M286.7 360.5L279.2 358.6M279.2 358.6L275.4 352.9M275.4 352.9L273.5 343.5M273.5 343.5L271.6 334M207.3 434L211.1 422.8M211.1 422.8L220.6 419.1M220.6 419.1L228.1 413.4M228.1 413.4L235.7 409.6M235.7 409.6L245.1 413.4M245.1 413.4L252.7 422.8M252.7 422.8L254.6 434M284.8 366.1L296.2 364.2M296.2 379.4L288.6 383.1M288.6 383.1L284.8 377.5M284.8 377.5L284.8 366.1M79.4 429L83.2 436.6M83.2 436.6L81.3 446M81.3 446L79.4 455.5M79.4 455.5L68.1 457.4M68.1 457.4L54.8 457.4M54.8 457.4L45.4 457.4M45.4 457.4L41.6 449.8M41.6 449.8L39.7 444.1M39.7 444.1L28.4 444.1M28.4 444.1L17 442.2M17 442.2L9.5 436.6M9.5 436.6L5.7 429M79.4 446L87 440.3M87 440.3L94.5 440.3M94.5 440.3L100 436.6M100 481.9L92.6 480M92.6 480L87 476.3M87 476.3L81.3 474.4M81.3 474.4L77.5 468.7M77.5 468.7L79.4 461.1M79.4 461.1L79.4 446M128.2 529L133.9 516M133.9 516L138.6 504.6M138.6 504.6L139.6 491.4M139.6 491.4L141.5 474.4M141.5 474.4L145.3 464.9M145.3 464.9L135.8 455.5M135.8 455.5L124.5 446M124.5 446L115 444.1M115 444.1L107.5 455.5M107.5 455.5L105.6 466.8M105.6 466.8L98 481.9M252.7 429L250.8 436.6M250.8 436.6L241.4 440.3M241.4 440.3L231.9 444.1M231.9 444.1L224.4 451.7M224.4 451.7L228.1 461.1M228.1 461.1L233.8 472.5M233.8 472.5L235.7 481.9M235.7 481.9L231.9 489.5M231.9 489.5L224.4 491.4M224.4 491.4L220.6 498.9M220.6 498.9L218.7 508.4M218.7 508.4L220.6 516M220.6 516L211.1 519.7M211.1 519.7L203.6 523.5M203.6 523.5L196 525.4" fill="none" stroke="#cfcfcf" stroke-width="1" stroke-opacity="0.5"/><g clip-path="url(#semflk)"><g fill="none" stroke="#f4f4f4" filter="url(#sb)"><path d="M138.7 308.1 Q147.5 316.1 149.3 316.7" stroke-width="1.5" stroke-opacity="0.4"/><path d="M196 384.4 Q207 382.8 211 387.7" stroke-width="1.1" stroke-opacity="0.2"/><path d="M209.3 491.8 Q215.1 492.6 225.1 493.5" stroke-width="1" stroke-opacity="0.5"/><path d="M210.4 467.9 Q206 469.5 202.6 469.7" stroke-width="1.3" stroke-opacity="0.4"/><path d="M246.8 407.4 Q239.5 416.1 239.2 413.6" stroke-width="2.1" stroke-opacity="0.5"/><path d="M170.4 446.4 Q174.7 446.8 171 454.3" stroke-width="2.1" stroke-opacity="0.5"/><path d="M142.1 430 Q134.6 424.5 129.9 430.2" stroke-width="0.9" stroke-opacity="0.5"/><path d="M151 375.8 Q142.5 382.3 140.6 386.3" stroke-width="1.6" stroke-opacity="0.4"/><path d="M178 420.4 Q184 427.3 187.6 438.8" stroke-width="0.9" stroke-opacity="0.2"/><path d="M232.9 339.9 Q233.2 352.6 224 354.3" stroke-width="1.4" stroke-opacity="0.5"/><path d="M171 488.6 Q170.6 499.5 176.3 501.4" stroke-width="1" stroke-opacity="0.2"/><path d="M218 377 Q224.6 376.1 237.1 380.2" stroke-width="1.4" stroke-opacity="0.3"/><path d="M127.5 477.4 Q119.7 482.3 112.4 493" stroke-width="2.1" stroke-opacity="0.4"/><path d="M199.9 385.9 Q196.8 392.9 184.4 397.5" stroke-width="1.4" stroke-opacity="0.4"/><path d="M94.4 390 Q84.7 395.7 86.7 397" stroke-width="2.1" stroke-opacity="0.2"/><path d="M111.4 295 Q115.5 306.1 122 306.1" stroke-width="2.1" stroke-opacity="0.2"/><path d="M166.6 389.1 Q176.9 393.8 178.5 394.7" stroke-width="1" stroke-opacity="0.4"/><path d="M133.2 384.1 Q135.4 389 140.5 388.9" stroke-width="1.6" stroke-opacity="0.2"/><path d="M204.1 317.2 Q213 312.2 222.8 317.7" stroke-width="1.9" stroke-opacity="0.3"/><path d="M158.4 469.2 Q162.5 467.7 169.3 470.7" stroke-width="2.1" stroke-opacity="0.3"/><path d="M73.5 340.6 Q72.4 347 71.1 347.8" stroke-width="2.2" stroke-opacity="0.3"/><path d="M117.3 371.7 Q120.1 371.9 111.4 375.6" stroke-width="1.2" stroke-opacity="0.5"/><path d="M185.8 388.4 Q178.2 396.3 171.9 401.4" stroke-width="0.8" stroke-opacity="0.4"/><path d="M120.8 375 Q120.1 378.2 130.2 383.1" stroke-width="1.1" stroke-opacity="0.4"/><path d="M211.1 366.1 Q212.6 372.3 214.5 375.3" stroke-width="2.1" stroke-opacity="0.2"/><path d="M109.3 383 Q103 392.6 93.7 395.9" stroke-width="1.7" stroke-opacity="0.5"/><path d="M149.1 337.7 Q154.1 351.2 156.4 357" stroke-width="2.1" stroke-opacity="0.5"/><path d="M146.2 426.2 Q152.4 423.9 157.2 431.6" stroke-width="1.2" stroke-opacity="0.5"/><path d="M152.8 382.6 Q142.9 389.2 140 399.7" stroke-width="1.7" stroke-opacity="0.4"/><path d="M203.1 368 Q194.5 372.5 194.2 372.7" stroke-width="1.1" stroke-opacity="0.4"/><path d="M94.8 468.5 Q97.5 472.5 97.4 481.7" stroke-width="1" stroke-opacity="0.3"/><path d="M206.1 512.8 Q208.6 517.1 200.7 516.5" stroke-width="0.8" stroke-opacity="0.4"/><path d="M111.7 331.3 Q117.2 326.6 121.5 331.6" stroke-width="1.2" stroke-opacity="0.4"/><path d="M116.7 272.3 Q109.1 271.9 100.9 282.2" stroke-width="1.1" stroke-opacity="0.3"/><path d="M185.7 480.6 Q180.8 477 166.7 485.1" stroke-width="1.6" stroke-opacity="0.2"/><path d="M215.2 458.1 Q223.4 460.2 224 459.8" stroke-width="1.7" stroke-opacity="0.4"/><path d="M95.9 311.8 Q100.9 321.2 102.8 321.2" stroke-width="0.9" stroke-opacity="0.2"/><path d="M148.6 352 Q148.1 352.8 158.7 353.9" stroke-width="1.8" stroke-opacity="0.4"/><path d="M236.3 455.4 Q240.7 465.1 240.5 469.4" stroke-width="1.5" stroke-opacity="0.2"/><path d="M63.4 244 Q64.4 245.9 62.2 255.6" stroke-width="1.8" stroke-opacity="0.4"/><path d="M213.5 296 Q204.6 308 202.5 313.3" stroke-width="2.1" stroke-opacity="0.4"/><path d="M295.6 349.5 Q288.8 345.7 274.9 353.6" stroke-width="1.3" stroke-opacity="0.4"/><path d="M171.2 304.8 Q167.5 310.3 162.9 306.6" stroke-width="1.1" stroke-opacity="0.5"/><path d="M171.3 286.8 Q170.5 294.8 179.7 305" stroke-width="1" stroke-opacity="0.4"/><path d="M105.7 273 Q107.5 270.5 107.3 279.3" stroke-width="1.7" stroke-opacity="0.3"/><path d="M209.2 345.5 Q204.2 352.5 208.3 365.8" stroke-width="1.4" stroke-opacity="0.4"/><path d="M219.8 422.5 Q219.4 427.3 222 432.3" stroke-width="1.2" stroke-opacity="0.4"/><path d="M243.8 403.2 Q240.4 410.4 231.3 412.1" stroke-width="2.2" stroke-opacity="0.3"/><path d="M225.9 379.5 Q230.1 383.3 222.3 394.3" stroke-width="1.1" stroke-opacity="0.5"/><path d="M147.1 250.9 Q142 253.5 136.9 257.1" stroke-width="1.3" stroke-opacity="0.4"/><path d="M133.5 273.5 Q133.9 285.2 140.4 290.2" stroke-width="1.9" stroke-opacity="0.5"/><path d="M211.4 287.4 Q215.1 286.2 215.5 293.4" stroke-width="2" stroke-opacity="0.3"/><path d="M157 417.3 Q159.6 418.6 157.1 426.7" stroke-width="1.8" stroke-opacity="0.3"/><path d="M143.2 410.8 Q149.6 410.5 151.3 412.3" stroke-width="1" stroke-opacity="0.5"/><path d="M227.3 389.1 Q228.7 402.3 230 404.3" stroke-width="1.3" stroke-opacity="0.4"/><path d="M144.2 414.7 Q140 423.1 136.7 431.1" stroke-width="1.1" stroke-opacity="0.5"/><path d="M138.9 333 Q138.6 332.6 136.3 342.1" stroke-width="1.5" stroke-opacity="0.3"/><path d="M91.5 332.8 Q92.4 329.4 100.8 334.3" stroke-width="1.7" stroke-opacity="0.5"/><path d="M201.6 425.2 Q205.9 425.4 203.9 432.7" stroke-width="1.8" stroke-opacity="0.4"/><path d="M164.5 457.1 Q168.5 463.1 170.6 461.6" stroke-width="1.5" stroke-opacity="0.4"/><path d="M149.2 421.2 Q157.1 424.9 158.1 439.8" stroke-width="1.5" stroke-opacity="0.5"/><path d="M160.3 288.4 Q176 294.3 180.5 293.6" stroke-width="1.8" stroke-opacity="0.4"/><path d="M130.3 445.6 Q136.7 448 135.9 461.1" stroke-width="1.2" stroke-opacity="0.2"/><path d="M180.5 292.8 Q178.2 298.2 185.2 299.7" stroke-width="1.4" stroke-opacity="0.3"/><path d="M196.2 333.8 Q192.6 342.3 189.5 349.5" stroke-width="1.3" stroke-opacity="0.3"/><path d="M157.3 430.2 Q152.1 427.8 148.7 432.6" stroke-width="0.8" stroke-opacity="0.3"/><path d="M101.2 427.8 Q98.4 435 96.8 436.4" stroke-width="1.5" stroke-opacity="0.3"/><path d="M101.8 318.5 Q100.3 331.7 102.9 335.5" stroke-width="2" stroke-opacity="0.3"/><path d="M183.3 299.3 Q170.3 309.2 163.4 307.2" stroke-width="1.3" stroke-opacity="0.3"/><path d="M43.9 347 Q46.4 356.6 54.4 359.1" stroke-width="1.7" stroke-opacity="0.5"/><path d="M266 497.4 Q256.4 500.5 246.8 498.7" stroke-width="1.5" stroke-opacity="0.5"/><path d="M106.5 417.2 Q110.1 415 116.4 421.4" stroke-width="0.8" stroke-opacity="0.2"/><path d="M158.5 364.9 Q166.2 365.3 173.7 370.5" stroke-width="1.4" stroke-opacity="0.4"/><path d="M113 437.4 Q117.2 444.9 116.6 444.4" stroke-width="2.2" stroke-opacity="0.3"/><path d="M132.2 460 Q139.3 469.3 150 468" stroke-width="1.3" stroke-opacity="0.4"/><path d="M80.5 463.3 Q77.9 464.1 83.4 468.6" stroke-width="1.1" stroke-opacity="0.2"/><path d="M57.6 401.4 Q55.2 406.3 44.4 408.2" stroke-width="1" stroke-opacity="0.5"/><path d="M192 361.3 Q194.7 368 199.9 367.7" stroke-width="2" stroke-opacity="0.5"/><path d="M165.2 428.1 Q170.8 439.3 167.4 438.7" stroke-width="0.9" stroke-opacity="0.5"/><path d="M127.8 434.5 Q136.9 445.4 143.2 444.7" stroke-width="2" stroke-opacity="0.5"/><path d="M145.9 317.9 Q155.4 318.5 163.7 328.2" stroke-width="1.9" stroke-opacity="0.5"/><path d="M160.1 405.9 Q151.7 418.7 153.7 420.7" stroke-width="2.2" stroke-opacity="0.4"/><path d="M128.1 435.7 Q132.3 438 130.4 447.9" stroke-width="1.2" stroke-opacity="0.5"/><path d="M243.8 431.6 Q242.8 432.9 246.2 439.9" stroke-width="1.3" stroke-opacity="0.4"/><path d="M149.4 379.2 Q149.2 379.4 155.3 383.5" stroke-width="1.2" stroke-opacity="0.5"/><path d="M92.6 393.7 Q98.6 403.8 101.9 407.9" stroke-width="1.5" stroke-opacity="0.5"/><path d="M201.5 365.5 Q193.5 371 184.8 366.8" stroke-width="0.9" stroke-opacity="0.5"/><path d="M159.9 322.2 Q162.2 331.7 170.2 332.4" stroke-width="1.7" stroke-opacity="0.4"/><path d="M137.5 519.5 Q139.3 524.2 136.4 528.7" stroke-width="1.6" stroke-opacity="0.5"/><path d="M73.2 357.9 Q71.8 360.3 66.2 368.5" stroke-width="1.8" stroke-opacity="0.4"/><path d="M157.2 432.7 Q160.8 441.8 152.5 440.6" stroke-width="1.7" stroke-opacity="0.5"/><path d="M91.1 321.5 Q91 322.8 94 327.9" stroke-width="1.4" stroke-opacity="0.2"/><path d="M190.9 370.3 Q196.7 370.9 195.4 378.1" stroke-width="1.9" stroke-opacity="0.3"/><path d="M157.9 303.5 Q158.4 303.8 150.6 304.5" stroke-width="2" stroke-opacity="0.4"/><path d="M99.2 445.6 Q101.8 442.8 112.5 447.4" stroke-width="1.6" stroke-opacity="0.4"/><path d="M83.5 460.3 Q77 465.4 77.6 470.2" stroke-width="1.1" stroke-opacity="0.2"/><path d="M195.7 412.5 Q197.9 420.4 193.1 428.8" stroke-width="0.9" stroke-opacity="0.5"/><path d="M160.9 230.2 Q164.3 235.3 171.1 240.4" stroke-width="1.2" stroke-opacity="0.2"/><path d="M132.6 297.7 Q127.7 299.8 115.6 304.1" stroke-width="1.7" stroke-opacity="0.2"/><path d="M203.7 310.1 Q211.7 314.3 212.6 320.3" stroke-width="1.9" stroke-opacity="0.5"/><path d="M121.9 334.5 Q108 336 101.7 340.8" stroke-width="1.9" stroke-opacity="0.5"/><path d="M66.2 428.7 Q70.6 436.4 71 434.3" stroke-width="2.1" stroke-opacity="0.4"/><path d="M282.6 330.4 Q289.2 329.5 289.2 337.4" stroke-width="1.6" stroke-opacity="0.5"/><path d="M131.5 325.4 Q131 340.9 130.6 346.8" stroke-width="1.9" stroke-opacity="0.3"/><path d="M117.1 509.2 Q116.3 516.6 117.6 530.6" stroke-width="1.2" stroke-opacity="0.3"/><path d="M165.7 359.9 Q166.2 368.1 161 374.7" stroke-width="2.1" stroke-opacity="0.3"/><path d="M148.1 360.7 Q139.7 367.4 126.9 366.1" stroke-width="1.1" stroke-opacity="0.4"/><path d="M146.4 422.9 Q137.5 429.5 140 435" stroke-width="1" stroke-opacity="0.5"/><path d="M140.8 352.7 Q140.4 360.5 130.2 366.4" stroke-width="1.2" stroke-opacity="0.4"/><path d="M155.7 334.4 Q164.9 334 171.7 341.5" stroke-width="0.9" stroke-opacity="0.3"/><path d="M123.6 389.5 Q111.4 392.5 105 390.8" stroke-width="1.9" stroke-opacity="0.5"/><path d="M95.7 395.4 Q97.5 404.7 96.1 405.4" stroke-width="1.1" stroke-opacity="0.4"/><path d="M193.6 429.8 Q195.5 433.2 186.7 444.6" stroke-width="1.5" stroke-opacity="0.4"/><path d="M179.3 369.2 Q186.1 371.7 189.4 370.5" stroke-width="1.1" stroke-opacity="0.5"/><path d="M188.1 501.9 Q197.9 505.7 199 518.3" stroke-width="1.3" stroke-opacity="0.3"/><path d="M91.8 347.8 Q84 354.4 83.9 352.8" stroke-width="1.3" stroke-opacity="0.4"/><path d="M80.4 384 Q77.3 393.6 76.4 399.7" stroke-width="1.2" stroke-opacity="0.3"/><path d="M115.6 336.2 Q125.9 340.1 132.1 345.1" stroke-width="1.5" stroke-opacity="0.5"/><path d="M115.9 414.5 Q112.2 410.7 108.2 417.8" stroke-width="1.5" stroke-opacity="0.5"/><path d="M118.8 307.1 Q119.6 312.2 131.9 323.4" stroke-width="1.5" stroke-opacity="0.4"/><path d="M127.5 458.5 Q134.9 460.8 137.3 464.6" stroke-width="1.8" stroke-opacity="0.4"/><path d="M156.6 514.4 Q150.4 523 144.5 529" stroke-width="1.3" stroke-opacity="0.2"/><path d="M239 451.4 Q243.3 460.9 235.8 470.9" stroke-width="2.2" stroke-opacity="0.2"/><path d="M104 336.7 Q96.9 343.2 92.7 345.5" stroke-width="1.9" stroke-opacity="0.4"/><path d="M159.6 382.4 Q167.8 380.3 169.7 386.2" stroke-width="1.8" stroke-opacity="0.2"/><path d="M135.5 264 Q133 268.8 133 270.7" stroke-width="0.9" stroke-opacity="0.2"/><path d="M193.8 341.4 Q203.2 349.4 208.2 347.8" stroke-width="1.1" stroke-opacity="0.5"/><path d="M287.9 395.4 Q295.1 400.4 295.5 409.9" stroke-width="1.7" stroke-opacity="0.4"/><path d="M229.5 261.9 Q230.2 268.5 233.4 269.9" stroke-width="1.2" stroke-opacity="0.4"/><path d="M151.9 458.8 Q141 464 139 459.6" stroke-width="1.7" stroke-opacity="0.4"/><path d="M125.1 301.4 Q121.9 301 117.9 310.5" stroke-width="2" stroke-opacity="0.3"/><path d="M166.9 263.9 Q175.1 268.7 174.9 281.9" stroke-width="1.6" stroke-opacity="0.4"/><path d="M208 421.4 Q211.7 425 216.7 438.2" stroke-width="1.3" stroke-opacity="0.3"/><path d="M224.7 466 Q221.5 473.1 227.3 481.4" stroke-width="1.6" stroke-opacity="0.3"/><path d="M104 359.6 Q103.4 368.7 108.1 369.3" stroke-width="0.9" stroke-opacity="0.3"/><path d="M123.1 389.9 Q127.6 390.5 136.6 392.6" stroke-width="1.9" stroke-opacity="0.4"/><path d="M140.7 344.3 Q148.2 349 152.8 352.8" stroke-width="1.7" stroke-opacity="0.5"/><path d="M288.8 295.4 Q289 305.3 292.5 316.4" stroke-width="2.1" stroke-opacity="0.5"/><path d="M91 268.6 Q91 267.4 86.2 276.5" stroke-width="0.8" stroke-opacity="0.5"/><path d="M211.4 398.9 Q208.6 402.3 205.1 403" stroke-width="2.1" stroke-opacity="0.2"/><path d="M174.7 306 Q179 317.1 180.4 317.7" stroke-width="2.1" stroke-opacity="0.5"/><path d="M31.8 239.4 Q39 245.8 45.6 252.9" stroke-width="2.2" stroke-opacity="0.4"/><path d="M181 495 Q195.1 497.6 198.2 503.1" stroke-width="1.8" stroke-opacity="0.4"/><path d="M150.6 243.3 Q142.8 250.5 137.2 250" stroke-width="1.4" stroke-opacity="0.3"/><path d="M174.3 439 Q174.6 445.4 168.3 459.5" stroke-width="1.3" stroke-opacity="0.4"/><path d="M247.3 387.5 Q251.2 388.5 243.5 394.6" stroke-width="1.2" stroke-opacity="0.3"/><path d="M191.9 379.5 Q184.5 383.1 182.5 382.7" stroke-width="1.8" stroke-opacity="0.2"/><path d="M169.2 253.5 Q165.3 262.4 171 270.6" stroke-width="1" stroke-opacity="0.3"/><path d="M116.3 375.8 Q115.1 373.5 124.4 382.6" stroke-width="1" stroke-opacity="0.5"/><path d="M151.3 319.4 Q161.5 329.4 160.2 332" stroke-width="1.4" stroke-opacity="0.4"/><path d="M47.6 484.6 Q46.4 493.4 44.3 500.1" stroke-width="0.9" stroke-opacity="0.3"/><path d="M165.9 399.5 Q170.9 406.6 170.2 416.3" stroke-width="2.1" stroke-opacity="0.3"/><path d="M102.9 426.3 Q101.8 431.8 101.8 434.3" stroke-width="1.1" stroke-opacity="0.4"/><path d="M28.5 510.2 Q25.2 520.7 32 531.4" stroke-width="2.1" stroke-opacity="0.2"/><path d="M222.3 268.1 Q224.5 271.9 236.3 275.2" stroke-width="1.2" stroke-opacity="0.4"/><path d="M179.1 505.8 Q174 512.4 174.1 509.3" stroke-width="1.7" stroke-opacity="0.4"/><path d="M217 289.5 Q219.1 304.5 211 310.1" stroke-width="1.7" stroke-opacity="0.3"/><path d="M131.3 466 Q129.2 472.1 117.7 472" stroke-width="1.1" stroke-opacity="0.3"/><path d="M157.4 409.4 Q148.5 417.7 148.8 416" stroke-width="2.1" stroke-opacity="0.5"/><path d="M161.6 442 Q148.1 438.9 146.1 445.7" stroke-width="2" stroke-opacity="0.2"/><path d="M57 515.7 Q58.7 526 52.6 528.5" stroke-width="1.4" stroke-opacity="0.4"/><path d="M84.6 323 Q79.3 324.8 66.1 330.3" stroke-width="1.3" stroke-opacity="0.2"/><path d="M13.8 288.2 Q20.2 286.2 14.7 294.5" stroke-width="1.2" stroke-opacity="0.3"/><path d="M157.8 409 Q145.6 406.4 141.5 414.3" stroke-width="1.4" stroke-opacity="0.5"/><path d="M200.9 436.4 Q196.8 446 203.6 454.4" stroke-width="0.9" stroke-opacity="0.2"/><path d="M187.9 371.5 Q178.6 373.8 176.4 378.8" stroke-width="1.9" stroke-opacity="0.4"/><path d="M48.3 343.1 Q33.1 339 29.3 345.4" stroke-width="1.5" stroke-opacity="0.2"/><path d="M83.6 388.2 Q89.1 393.8 88.2 407.7" stroke-width="1.4" stroke-opacity="0.5"/><path d="M201.9 483.4 Q194.1 488.9 190.7 486.6" stroke-width="1" stroke-opacity="0.4"/><path d="M195.3 357.4 Q188.4 355.2 173.7 359.6" stroke-width="0.9" stroke-opacity="0.4"/><path d="M205.3 403 Q216.1 416.5 219.3 418.9" stroke-width="2.1" stroke-opacity="0.2"/><path d="M260.9 343.1 Q267.1 340.6 268.3 347.8" stroke-width="0.9" stroke-opacity="0.3"/><path d="M115.9 460.1 Q115.3 460 107.9 462.8" stroke-width="1.6" stroke-opacity="0.4"/><path d="M210.6 357.3 Q198.5 357.7 197.9 363.7" stroke-width="0.8" stroke-opacity="0.5"/><path d="M143 293.4 Q151.2 302.8 161.5 305.2" stroke-width="1.4" stroke-opacity="0.3"/><path d="M171.5 325 Q175.9 331.5 182.5 329.9" stroke-width="1.3" stroke-opacity="0.5"/><path d="M105.4 394.5 Q95.4 398.7 87.2 404.1" stroke-width="1" stroke-opacity="0.4"/><path d="M55.5 326.3 Q55.8 335.7 56.6 333.3" stroke-width="1.7" stroke-opacity="0.5"/><path d="M108.2 414.1 Q108.9 411.9 106.6 421.1" stroke-width="1.1" stroke-opacity="0.5"/><path d="M143.5 338.9 Q136.6 345.7 132.2 343.5" stroke-width="1.9" stroke-opacity="0.4"/><path d="M116.4 498.5 Q111.4 506.2 113.6 508.4" stroke-width="1.8" stroke-opacity="0.5"/><path d="M227.3 446.3 Q220.1 445.6 212.4 449" stroke-width="1.4" stroke-opacity="0.4"/><path d="M105.6 299.8 Q115.7 306.7 117.2 308.5" stroke-width="1" stroke-opacity="0.4"/><path d="M176.2 266.1 Q166 275.9 163 280.9" stroke-width="2" stroke-opacity="0.4"/><path d="M165.3 237.3 Q163.1 244.6 151 245.7" stroke-width="2.1" stroke-opacity="0.5"/><path d="M190.8 396.6 Q191.2 402.2 184.2 398.1" stroke-width="1.9" stroke-opacity="0.4"/><path d="M182.2 389.1 Q186.2 390.4 194.4 391.2" stroke-width="1" stroke-opacity="0.3"/><path d="M95.5 407.6 Q94.1 416.5 87.6 418.1" stroke-width="1.9" stroke-opacity="0.4"/><path d="M182.5 418.3 Q180.8 421.2 179.1 429.2" stroke-width="1" stroke-opacity="0.5"/><path d="M213.2 273.9 Q206.8 280.5 199.4 284" stroke-width="2" stroke-opacity="0.4"/><path d="M195.8 472.1 Q203.5 480.3 208.3 480.7" stroke-width="1.4" stroke-opacity="0.3"/><path d="M266.6 375.2 Q265.4 376.4 267.1 386.1" stroke-width="1.6" stroke-opacity="0.3"/><path d="M180.5 316.9 Q185.4 318.2 198 329.9" stroke-width="1.8" stroke-opacity="0.3"/><path d="M96.1 259.5 Q92.3 261 78.2 261.9" stroke-width="1.1" stroke-opacity="0.5"/><path d="M203.7 399.4 Q199 403.1 196.4 415.7" stroke-width="1" stroke-opacity="0.4"/><path d="M108.4 358 Q106.5 361.3 94.5 364.1" stroke-width="1.3" stroke-opacity="0.4"/><path d="M187.3 462.9 Q192.6 461.2 200.4 463.8" stroke-width="0.9" stroke-opacity="0.2"/><path d="M185.1 281.1 Q192.6 283.4 196.9 291.2" stroke-width="1.1" stroke-opacity="0.3"/><path d="M258.1 488.2 Q256.7 491.4 250.8 488.8" stroke-width="1" stroke-opacity="0.4"/><path d="M111.4 378.8 Q115.2 383 130.8 385.1" stroke-width="1.5" stroke-opacity="0.4"/><path d="M117.3 441.6 Q115.6 442.6 125.7 454.6" stroke-width="2" stroke-opacity="0.3"/><path d="M150.6 420.5 Q158.3 423.3 165.1 422.7" stroke-width="1.6" stroke-opacity="0.4"/><path d="M118 439.9 Q109.7 442.4 109 445.4" stroke-width="2.1" stroke-opacity="0.4"/><path d="M139.6 410.2 Q147.4 420.8 147.1 426.6" stroke-width="2" stroke-opacity="0.4"/><path d="M148.1 327.3 Q144.9 325.5 149.1 334" stroke-width="1.2" stroke-opacity="0.5"/><path d="M117.8 408.4 Q113.8 418.6 115.4 420.4" stroke-width="1.9" stroke-opacity="0.4"/><path d="M126.6 450.5 Q112.5 457.7 107.8 455" stroke-width="1.1" stroke-opacity="0.2"/><path d="M161.2 362.5 Q156.4 367.2 144.9 364.1" stroke-width="1" stroke-opacity="0.3"/><path d="M100.7 460.1 Q108.8 469.5 115.5 476.3" stroke-width="2.2" stroke-opacity="0.4"/><path d="M176.7 401.1 Q185.5 399.3 189.7 404.9" stroke-width="0.9" stroke-opacity="0.5"/><path d="M161 311.5 Q171.1 315 172.8 314.2" stroke-width="1.2" stroke-opacity="0.2"/><path d="M235.1 346.2 Q220.2 342.7 214.3 346.7" stroke-width="1.5" stroke-opacity="0.2"/><path d="M170.9 339 Q181.3 340.8 184.2 352.7" stroke-width="1" stroke-opacity="0.2"/><path d="M232 395.1 Q224.6 400.9 219.9 398.8" stroke-width="1.9" stroke-opacity="0.3"/><path d="M170.7 407.6 Q176.6 410.8 182 413.6" stroke-width="1.4" stroke-opacity="0.5"/><path d="M209.1 344 Q204.6 347.6 207.6 351.4" stroke-width="1.5" stroke-opacity="0.5"/><path d="M11.8 488.3 Q16.1 492.7 30.4 498" stroke-width="0.8" stroke-opacity="0.2"/><path d="M181.1 453 Q180.2 452 176.4 461.1" stroke-width="1.8" stroke-opacity="0.5"/><path d="M10.9 432.9 Q11.9 432.8 13.8 443.6" stroke-width="1.7" stroke-opacity="0.2"/><path d="M22.5 418.5 Q25.3 419.2 37.3 420" stroke-width="1.3" stroke-opacity="0.3"/><path d="M176.4 482.3 Q168.8 489 170.5 488" stroke-width="1.9" stroke-opacity="0.5"/><path d="M212.8 371.9 Q201.7 370.6 198.9 380.2" stroke-width="1.8" stroke-opacity="0.3"/><path d="M136.3 383.3 Q135.5 390.1 144.6 389.4" stroke-width="2" stroke-opacity="0.5"/><path d="M201.8 352.2 Q207.5 349.3 216.6 353.2" stroke-width="1.7" stroke-opacity="0.5"/><path d="M136.1 477.1 Q127.6 484.8 130.1 481.3" stroke-width="1.9" stroke-opacity="0.5"/><path d="M143.9 329.6 Q142.3 342.2 141.8 347.5" stroke-width="2.1" stroke-opacity="0.3"/><path d="M202.1 377.3 Q198.7 382.6 200.4 389" stroke-width="1.2" stroke-opacity="0.4"/><path d="M217.5 500.7 Q227.8 510.8 231.5 516.3" stroke-width="1.7" stroke-opacity="0.4"/><path d="M164 507.5 Q161.3 513.7 167.3 514.5" stroke-width="1.4" stroke-opacity="0.3"/><path d="M133.5 383.2 Q125.2 386.3 128.3 396.1" stroke-width="1.5" stroke-opacity="0.4"/><path d="M168.1 319.8 Q160.5 327.5 152.7 333.6" stroke-width="1.9" stroke-opacity="0.3"/><path d="M117.5 382 Q122.5 389.8 117.5 388.9" stroke-width="1.6" stroke-opacity="0.4"/><path d="M234.5 422.7 Q233.3 435.2 229.5 436.4" stroke-width="1.2" stroke-opacity="0.4"/><path d="M133.7 271.6 Q125.5 271.4 128.4 275.5" stroke-width="1.3" stroke-opacity="0.5"/><path d="M154.7 399 Q161.5 399.2 171.3 400.4" stroke-width="0.9" stroke-opacity="0.3"/><path d="M185.8 405.5 Q187.1 408.6 180 416" stroke-width="1.9" stroke-opacity="0.4"/><path d="M192 488.4 Q191.4 495.9 188.8 496" stroke-width="1.9" stroke-opacity="0.5"/><path d="M158.8 268.4 Q145.6 269.1 142.3 270.6" stroke-width="2.2" stroke-opacity="0.3"/><path d="M154.3 429.7 Q151.3 436.2 154.1 442.6" stroke-width="2.1" stroke-opacity="0.3"/><path d="M228.5 339.4 Q225.3 339.5 210.5 344.2" stroke-width="0.8" stroke-opacity="0.5"/><path d="M100.8 452.7 Q100.1 461 96.7 471.1" stroke-width="1.1" stroke-opacity="0.3"/><path d="M124.5 385.7 Q111.9 382.4 108.4 388.9" stroke-width="1.9" stroke-opacity="0.3"/><path d="M103 373.6 Q106.7 386.5 108 389" stroke-width="2" stroke-opacity="0.4"/><path d="M142.8 503 Q145.4 510.9 141.6 508.9" stroke-width="1.6" stroke-opacity="0.4"/><path d="M161 326.2 Q161.6 326.9 172.3 337.8" stroke-width="1.1" stroke-opacity="0.3"/><path d="M171.7 299.6 Q175.8 307.3 182 306.1" stroke-width="2" stroke-opacity="0.4"/><path d="M194.7 326.8 Q191.3 323.3 183.8 330.4" stroke-width="0.9" stroke-opacity="0.4"/><path d="M130 388.5 Q127.6 390.7 127.4 396.3" stroke-width="1.1" stroke-opacity="0.4"/><path d="M161.2 408.5 Q159 408.5 152.1 420.3" stroke-width="2.2" stroke-opacity="0.4"/><path d="M155.6 287.7 Q148.3 296.2 152 299" stroke-width="1.7" stroke-opacity="0.5"/><path d="M198.3 356.7 Q199.1 354.2 204.2 358.4" stroke-width="1.1" stroke-opacity="0.2"/><path d="M235.2 297.4 Q235.6 304.5 235.3 309.1" stroke-width="1.8" stroke-opacity="0.4"/><path d="M170.9 391.9 Q163.4 395 154.1 393.6" stroke-width="1.6" stroke-opacity="0.5"/><path d="M127.4 359.4 Q135.9 361.6 137.7 367.8" stroke-width="1.2" stroke-opacity="0.5"/><path d="M193.9 496.3 Q196.2 503.3 207.3 506.2" stroke-width="2" stroke-opacity="0.5"/><path d="M219.1 253.4 Q221.3 256.8 222.7 271.6" stroke-width="0.8" stroke-opacity="0.4"/><path d="M154.6 526 Q156.5 522.4 148 528.7" stroke-width="2" stroke-opacity="0.4"/><path d="M126.1 404.5 Q118.2 411.2 111 418.9" stroke-width="1" stroke-opacity="0.4"/><path d="M193 411.9 Q190.6 412.4 179.8 412.5" stroke-width="1.7" stroke-opacity="0.5"/><path d="M137.2 344.9 Q148 354.6 147.6 359.8" stroke-width="1.5" stroke-opacity="0.4"/><path d="M160 391.8 Q163.7 393.6 168 402.4" stroke-width="1.1" stroke-opacity="0.5"/><path d="M166.9 351.7 Q164 358.4 162.7 357.8" stroke-width="0.8" stroke-opacity="0.4"/><path d="M172 469.3 Q172.1 465.4 180.6 472.4" stroke-width="1.4" stroke-opacity="0.5"/><path d="M161.8 431.7 Q161.4 429 153 435.5" stroke-width="1.7" stroke-opacity="0.5"/><path d="M152.3 390.3 Q156.9 388.8 162.5 394.5" stroke-width="1.8" stroke-opacity="0.3"/><path d="M129.3 358.6 Q120.1 363.6 116.9 371.4" stroke-width="1.8" stroke-opacity="0.5"/><path d="M133.8 347.9 Q137.2 350.7 140.8 358.7" stroke-width="1.3" stroke-opacity="0.2"/><path d="M182 339.8 Q188 352 197.4 354.7" stroke-width="1.4" stroke-opacity="0.4"/><path d="M116.7 295.4 Q114.7 300.1 111.1 298" stroke-width="2.2" stroke-opacity="0.5"/><path d="M198.7 429.2 Q199.4 429.5 211.7 433.5" stroke-width="1.3" stroke-opacity="0.5"/><path d="M267.2 322.5 Q269.2 332.6 274.4 340.8" stroke-width="0.9" stroke-opacity="0.4"/><path d="M110.2 333.8 Q108.8 335.1 107.1 340" stroke-width="1.9" stroke-opacity="0.3"/><path d="M124.8 406.6 Q131.2 415.7 140.1 418.1" stroke-width="1.4" stroke-opacity="0.3"/><path d="M144.9 439.3 Q136.1 439.3 126.5 439.4" stroke-width="1.9" stroke-opacity="0.4"/><path d="M144.9 284.7 Q135.3 283 136.3 288.8" stroke-width="1.3" stroke-opacity="0.5"/><path d="M149.4 412.3 Q149.3 423.6 146.9 425.6" stroke-width="1" stroke-opacity="0.5"/><path d="M187.4 441.3 Q176.4 444 169.7 447.9" stroke-width="2" stroke-opacity="0.3"/><path d="M202.9 366.9 Q204.1 376.4 205.9 379.5" stroke-width="1" stroke-opacity="0.4"/><path d="M238.2 353.8 Q247 352.4 244 362.8" stroke-width="1.8" stroke-opacity="0.2"/><path d="M122.4 314.1 Q127.4 323.6 134.7 324.6" stroke-width="1.2" stroke-opacity="0.4"/><path d="M205.7 299.4 Q213.1 312.3 214.8 315.7" stroke-width="0.9" stroke-opacity="0.5"/><path d="M130.9 434.3 Q125.5 442.3 112.8 439.9" stroke-width="2" stroke-opacity="0.4"/><path d="M209.6 343.8 Q212.9 341.4 211.8 350.5" stroke-width="1" stroke-opacity="0.5"/><path d="M231.3 388.5 Q236 391 237.1 403.2" stroke-width="1" stroke-opacity="0.4"/><path d="M129.1 343.5 Q138.6 342.8 137.5 347.1" stroke-width="1.4" stroke-opacity="0.4"/><path d="M157.2 417.1 Q149.5 415.4 149.7 418.7" stroke-width="1.2" stroke-opacity="0.5"/><path d="M179.5 421.1 Q189.3 427.2 195 422.5" stroke-width="2" stroke-opacity="0.5"/><path d="M133.6 214 Q142.4 214.8 139.7 221.8" stroke-width="1" stroke-opacity="0.4"/><path d="M144.3 351.2 Q142.2 357.8 141.6 360.5" stroke-width="1.6" stroke-opacity="0.3"/><path d="M174.7 388.1 Q173.2 389.9 183.5 403.1" stroke-width="2" stroke-opacity="0.4"/><path d="M182.8 270.4 Q187.8 275.5 188.6 274.1" stroke-width="1.2" stroke-opacity="0.4"/><path d="M111.7 448.2 Q113.5 460.1 105.5 462.1" stroke-width="1.7" stroke-opacity="0.2"/><path d="M211.3 370.6 Q210.3 376.1 208 376.2" stroke-width="1.6" stroke-opacity="0.3"/><path d="M186.6 424.4 Q187.7 428.9 199.5 430.1" stroke-width="1.7" stroke-opacity="0.5"/><path d="M211.6 418.2 Q203 423.4 201.3 421.3" stroke-width="1.7" stroke-opacity="0.3"/><path d="M185.5 401.7 Q194.8 407.7 202.7 403.9" stroke-width="2.1" stroke-opacity="0.5"/><path d="M87.9 341.5 Q87.9 337.2 97.9 343.5" stroke-width="1.1" stroke-opacity="0.3"/><path d="M88.9 391 Q93.2 396.3 90.1 402.8" stroke-width="1.8" stroke-opacity="0.5"/><path d="M74.1 475.6 Q77.5 485.3 89.5 489.6" stroke-width="1.7" stroke-opacity="0.3"/><path d="M141.2 517.9 Q132.4 527 132.3 528.7" stroke-width="1.4" stroke-opacity="0.3"/><path d="M128.8 285.7 Q123.1 286.5 111.2 290.4" stroke-width="1" stroke-opacity="0.5"/><path d="M225.2 353.9 Q219.1 362.7 220.2 371.8" stroke-width="1.7" stroke-opacity="0.2"/><path d="M170.9 346.4 Q172.5 345.8 175.6 350.4" stroke-width="1.5" stroke-opacity="0.3"/><path d="M229 325 Q231.3 337.6 232.3 342.9" stroke-width="1.1" stroke-opacity="0.3"/><path d="M128.4 390.5 Q133.7 399 135.4 405.7" stroke-width="1.6" stroke-opacity="0.4"/><path d="M202.3 436.8 Q210.5 440.1 209.3 445.5" stroke-width="1" stroke-opacity="0.4"/><path d="M130.7 432.2 Q121.7 438.2 117.4 436.7" stroke-width="2" stroke-opacity="0.3"/><path d="M191.6 431.1 Q189.5 442.1 193.7 450.9" stroke-width="1.9" stroke-opacity="0.5"/><path d="M177.6 446.1 Q178.3 454.9 188.6 454.7" stroke-width="1.2" stroke-opacity="0.5"/><path d="M242.3 381 Q253.8 381.4 260.6 392.7" stroke-width="2.1" stroke-opacity="0.2"/><path d="M155.8 306.3 Q170 313.5 172.9 317" stroke-width="1" stroke-opacity="0.2"/><path d="M191.5 418.5 Q198.2 424.1 196.3 424.9" stroke-width="1.2" stroke-opacity="0.2"/><path d="M163.6 403.6 Q157.4 407.7 155.4 403.8" stroke-width="0.9" stroke-opacity="0.3"/><path d="M81.4 352.4 Q89 360 89.4 370.3" stroke-width="1.5" stroke-opacity="0.3"/><path d="M137.7 338.9 Q134.4 341.4 142.2 346.9" stroke-width="2.1" stroke-opacity="0.4"/><path d="M117 392.5 Q113.7 392 115.9 400.8" stroke-width="1.1" stroke-opacity="0.3"/><path d="M215.6 400.5 Q204.5 407.4 202.1 407.6" stroke-width="1.3" stroke-opacity="0.2"/><path d="M138.8 211.2 Q141 215.6 132.7 219.3" stroke-width="1.8" stroke-opacity="0.2"/><path d="M143 403 Q146.3 406.6 146.2 410.2" stroke-width="1.5" stroke-opacity="0.4"/><path d="M213.2 332.7 Q215 333.3 220.2 335.9" stroke-width="1.8" stroke-opacity="0.2"/><path d="M162.3 272.8 Q162 274.9 160.5 282.9" stroke-width="1.5" stroke-opacity="0.2"/><path d="M69 492 Q67.8 499.2 74.7 511.5" stroke-width="2.1" stroke-opacity="0.2"/><path d="M159.3 425.8 Q166.4 438.3 163.4 447.2" stroke-width="0.8" stroke-opacity="0.3"/><path d="M180.6 420.5 Q176.9 421.5 171.7 423.8" stroke-width="1.2" stroke-opacity="0.4"/><path d="M193.9 382.2 Q190.9 389.3 183.3 398" stroke-width="1.7" stroke-opacity="0.2"/><path d="M197.7 313.7 Q197 318.5 189.5 325.5" stroke-width="1" stroke-opacity="0.4"/><path d="M180.8 378.2 Q168.1 382.5 166.2 382.5" stroke-width="1.7" stroke-opacity="0.5"/><path d="M130.6 296.9 Q137.9 293.1 140.1 297.3" stroke-width="1" stroke-opacity="0.2"/><path d="M254.4 369.3 Q255.2 377.6 265.3 383.2" stroke-width="1.2" stroke-opacity="0.2"/><path d="M220.9 383.1 Q222 389.5 226.4 390.1" stroke-width="1.7" stroke-opacity="0.2"/><path d="M72.8 346.4 Q71.3 353.2 62.1 353.7" stroke-width="1.1" stroke-opacity="0.3"/><path d="M67.6 375.4 Q70.8 378.1 63.3 387.4" stroke-width="0.9" stroke-opacity="0.5"/><path d="M139.6 359.8 Q139.4 367.1 131.6 377.9" stroke-width="1.1" stroke-opacity="0.4"/><path d="M265.4 447.1 Q273.7 445 284.1 452.9" stroke-width="0.9" stroke-opacity="0.4"/><path d="M276.1 500.2 Q284.2 500.7 288.3 501.5" stroke-width="1" stroke-opacity="0.3"/><path d="M199.5 354.6 Q199.8 368.4 194.8 375.7" stroke-width="1.1" stroke-opacity="0.5"/><path d="M28.7 324.7 Q30.5 334 25.4 334.4" stroke-width="1.5" stroke-opacity="0.5"/><path d="M159.9 318.6 Q161.3 326.4 155.6 333.9" stroke-width="1.3" stroke-opacity="0.3"/><path d="M169.2 454.2 Q155.5 453.4 147.5 454.7" stroke-width="1.6" stroke-opacity="0.3"/><path d="M178.5 491.2 Q186.1 489.2 191.5 493.3" stroke-width="2.1" stroke-opacity="0.5"/><path d="M162.4 404 Q162 411.8 153.7 410.3" stroke-width="1.5" stroke-opacity="0.4"/><path d="M157.3 519.8 Q149.5 524 148.7 521.5" stroke-width="1.5" stroke-opacity="0.2"/><path d="M176.9 264.9 Q168.5 264.6 157 274.3" stroke-width="2" stroke-opacity="0.2"/><path d="M232.1 458.9 Q226 467.3 222.9 477.4" stroke-width="1.4" stroke-opacity="0.4"/><path d="M126.4 335.4 Q140.3 333 144.5 336.6" stroke-width="1.2" stroke-opacity="0.5"/><path d="M153.4 395.3 Q151.9 402.9 154.9 412.7" stroke-width="1.6" stroke-opacity="0.5"/><path d="M151.6 407.6 Q152.3 413.4 160.4 413.3" stroke-width="1.3" stroke-opacity="0.3"/><path d="M151.1 262.4 Q156.5 264.1 162.9 274.9" stroke-width="1.2" stroke-opacity="0.2"/><path d="M151.1 321.4 Q146.4 324.4 134.8 329.2" stroke-width="1.7" stroke-opacity="0.4"/><path d="M180.1 277 Q174.2 285.2 169.5 285.1" stroke-width="1.4" stroke-opacity="0.5"/><path d="M185.5 371.3 Q172.9 376.6 170 386.8" stroke-width="1.2" stroke-opacity="0.4"/><path d="M184.2 435.7 Q183.1 438.1 192.6 451.2" stroke-width="0.8" stroke-opacity="0.5"/><path d="M176 500.6 Q167.3 497.5 169.9 501.6" stroke-width="0.9" stroke-opacity="0.5"/><path d="M140.4 413 Q135.1 412.8 127.6 421.4" stroke-width="0.9" stroke-opacity="0.4"/><path d="M150 383.8 Q150.8 383.1 140.4 386.4" stroke-width="1.4" stroke-opacity="0.5"/><path d="M90.9 441.8 Q100.7 442.4 100.6 446.1" stroke-width="2.1" stroke-opacity="0.5"/><path d="M194.8 353.1 Q195.1 355.5 207.1 359.7" stroke-width="1" stroke-opacity="0.3"/><path d="M125.5 451.1 Q126.6 466.3 126.7 469.7" stroke-width="1.5" stroke-opacity="0.4"/><path d="M196 390 Q190.1 397.8 195.7 399.2" stroke-width="1.9" stroke-opacity="0.4"/><path d="M141.3 344.7 Q140.7 350.9 143.5 352" stroke-width="2" stroke-opacity="0.2"/><path d="M132.4 373.9 Q124.5 373.5 119.2 375.3" stroke-width="1.6" stroke-opacity="0.5"/><path d="M210.6 374 Q207.7 384.8 194.8 383.7" stroke-width="1.5" stroke-opacity="0.3"/><path d="M159.7 358.1 Q151.1 362.2 148.2 371.1" stroke-width="1.8" stroke-opacity="0.2"/><path d="M211.5 382.2 Q219.2 385.3 219.3 394.7" stroke-width="1.8" stroke-opacity="0.2"/><path d="M171.1 379.9 Q168.9 378.1 165.9 385" stroke-width="2" stroke-opacity="0.2"/><path d="M128.1 290.1 Q123.5 295.4 128 307" stroke-width="1.6" stroke-opacity="0.4"/><path d="M223.8 368.2 Q237.1 380.3 239.8 381.5" stroke-width="1.5" stroke-opacity="0.5"/><path d="M268.6 306.6 Q277.9 303.1 277.9 308.1" stroke-width="1.5" stroke-opacity="0.2"/><path d="M251.2 501.3 Q257.8 504.6 259.6 507.1" stroke-width="1" stroke-opacity="0.4"/><path d="M144.4 296.1 Q143.8 304.6 154.2 302.9" stroke-width="0.8" stroke-opacity="0.4"/><path d="M230.2 355 Q221 356.1 208.5 357.2" stroke-width="0.9" stroke-opacity="0.3"/><path d="M138 362 Q128.8 361.4 118.7 369.5" stroke-width="1.5" stroke-opacity="0.5"/><path d="M68.8 236.6 Q68.4 241.1 79 250.7" stroke-width="1.5" stroke-opacity="0.3"/><path d="M140.7 318.2 Q143.2 321.8 145.8 329.7" stroke-width="1.8" stroke-opacity="0.3"/><path d="M125.1 378.9 Q119.4 378.5 119 383.3" stroke-width="1.9" stroke-opacity="0.5"/><path d="M176.4 369.4 Q175.4 367.8 169.3 371.4" stroke-width="2.2" stroke-opacity="0.5"/><path d="M112.1 469.2 Q118.8 478.4 114.3 475.8" stroke-width="1" stroke-opacity="0.3"/><path d="M204 331 Q190.8 336.3 186 343.1" stroke-width="1.1" stroke-opacity="0.3"/><path d="M54.8 311.6 Q57.7 319.2 63 328.8" stroke-width="1.2" stroke-opacity="0.4"/><path d="M144 409.7 Q133.4 415.9 134.4 410.6" stroke-width="1.8" stroke-opacity="0.4"/><path d="M164.5 344.1 Q162 347.7 157.6 344.8" stroke-width="2" stroke-opacity="0.3"/><path d="M203.1 325 Q213 321.3 215.9 329.2" stroke-width="1.9" stroke-opacity="0.5"/><path d="M129.1 470.8 Q136.1 470.8 134.5 476" stroke-width="1.7" stroke-opacity="0.4"/><path d="M177.7 430.7 Q167.4 433.8 165.8 432.6" stroke-width="1.9" stroke-opacity="0.5"/><path d="M207 425.2 Q205.5 433.1 199 442.3" stroke-width="2" stroke-opacity="0.4"/><path d="M217.1 401.7 Q225.7 400.7 223.8 405.9" stroke-width="2.1" stroke-opacity="0.5"/><path d="M159.6 371.3 Q151.7 376.5 155.7 377.5" stroke-width="2.1" stroke-opacity="0.3"/><path d="M188.8 242 Q188.8 245.2 195.5 249.8" stroke-width="1" stroke-opacity="0.4"/><path d="M147.6 392.2 Q148.9 402 155.3 406.2" stroke-width="1.8" stroke-opacity="0.2"/><path d="M209 342.6 Q211.6 345.8 216.8 350.3" stroke-width="1.6" stroke-opacity="0.5"/><path d="M119.2 342.2 Q120.3 348.3 111.4 355.4" stroke-width="0.8" stroke-opacity="0.4"/><path d="M224.8 431.8 Q232.3 432.2 237.4 431.9" stroke-width="1.2" stroke-opacity="0.4"/><path d="M189.7 357.3 Q188.2 364.7 189.1 370.2" stroke-width="1.7" stroke-opacity="0.5"/><path d="M166.9 331.8 Q172.4 335.2 179.8 333.1" stroke-width="1.9" stroke-opacity="0.4"/><path d="M178.3 372.9 Q173.2 375.5 172.2 385" stroke-width="1.9" stroke-opacity="0.3"/><path d="M190.8 490.4 Q198.6 497.4 203.1 503.3" stroke-width="1.7" stroke-opacity="0.5"/><path d="M127.8 376.7 Q132.1 380.3 138.3 378" stroke-width="2" stroke-opacity="0.4"/><path d="M238.7 412.7 Q237.7 416.4 228.8 431.4" stroke-width="2" stroke-opacity="0.4"/><path d="M152.4 371.3 Q166.5 367 173.4 373" stroke-width="2.2" stroke-opacity="0.5"/><path d="M170.9 324.8 Q167.9 330.6 165.4 332.4" stroke-width="1.5" stroke-opacity="0.5"/><path d="M170.1 474.5 Q163.9 479.9 168.8 491.7" stroke-width="1.1" stroke-opacity="0.5"/><path d="M56 348.3 Q65.3 347 65.5 352.5" stroke-width="1.9" stroke-opacity="0.4"/><path d="M185.8 333.3 Q192.7 333.3 190.1 341" stroke-width="1.1" stroke-opacity="0.3"/><path d="M155.3 349.6 Q157.8 350.9 163.5 358.1" stroke-width="2.2" stroke-opacity="0.3"/><path d="M116.3 466.8 Q121.6 462 133.5 467.3" stroke-width="2.1" stroke-opacity="0.4"/><path d="M77 481.5 Q79.3 488.3 77 488.9" stroke-width="1.3" stroke-opacity="0.3"/><path d="M196.3 368.5 Q199.5 368.5 201.4 372.2" stroke-width="1.4" stroke-opacity="0.3"/><path d="M126 347.6 Q129.9 348.8 135.8 348" stroke-width="1.2" stroke-opacity="0.5"/><path d="M194 421.9 Q198.2 425.4 191 433" stroke-width="0.9" stroke-opacity="0.4"/><path d="M30.5 241.1 Q27.1 241.5 19.1 246" stroke-width="2.1" stroke-opacity="0.3"/><path d="M154.8 398.2 Q155.8 400.3 158.3 404" stroke-width="2.1" stroke-opacity="0.4"/><path d="M253.9 393.2 Q246 398 247.2 401.7" stroke-width="1" stroke-opacity="0.5"/><path d="M234.2 357.2 Q240.8 358.7 240.9 364.6" stroke-width="1.1" stroke-opacity="0.2"/><path d="M191.9 304.9 Q197.6 310.1 209 318.5" stroke-width="1" stroke-opacity="0.2"/><path d="M189.6 357.4 Q178.8 361.8 178.6 364.9" stroke-width="1.9" stroke-opacity="0.2"/><path d="M196.4 335.3 Q197.3 348.8 188.4 354.4" stroke-width="1.2" stroke-opacity="0.3"/><path d="M169.7 396.2 Q178.8 396 184.3 407.3" stroke-width="1" stroke-opacity="0.2"/><path d="M123.7 390.9 Q123.1 387.3 114.5 392.5" stroke-width="1.7" stroke-opacity="0.3"/><path d="M175.1 424.8 Q173.1 427.7 173 433.2" stroke-width="2" stroke-opacity="0.5"/><path d="M205 421.9 Q211.5 427.5 215 427" stroke-width="1.3" stroke-opacity="0.5"/><path d="M204.1 320.9 Q200.2 325.2 194.7 332.7" stroke-width="1.1" stroke-opacity="0.4"/><path d="M173.7 339.5 Q179.7 346 185.2 347.2" stroke-width="1.2" stroke-opacity="0.3"/><path d="M102.4 334.3 Q99.9 340.1 89.2 342.4" stroke-width="2" stroke-opacity="0.2"/><path d="M180.5 334.6 Q173.3 332.3 169.6 334.9" stroke-width="0.9" stroke-opacity="0.4"/><path d="M247.1 363.1 Q244.5 375.1 248.3 376.8" stroke-width="0.8" stroke-opacity="0.2"/><path d="M157.8 418 Q167.6 425.7 173.1 430.1" stroke-width="1.8" stroke-opacity="0.2"/><path d="M143.8 256.5 Q137.5 267.1 134.8 272.3" stroke-width="1.4" stroke-opacity="0.4"/><path d="M188.4 284 Q186.7 288 177.2 287.3" stroke-width="1.8" stroke-opacity="0.4"/><path d="M173.5 296.9 Q180.5 295.2 186.5 297.8" stroke-width="1.3" stroke-opacity="0.3"/><path d="M90.2 367.5 Q97.7 373.2 96 384.4" stroke-width="1.7" stroke-opacity="0.4"/><path d="M145 255.5 Q142.4 266.5 148.9 272.5" stroke-width="1.6" stroke-opacity="0.4"/><path d="M187.9 390.5 Q183.5 395.3 180.9 390.6" stroke-width="1.4" stroke-opacity="0.5"/><path d="M184.7 462.8 Q184.2 473.2 193.6 474.8" stroke-width="1.6" stroke-opacity="0.4"/><path d="M173.3 352.8 Q176.1 353.7 178.4 362" stroke-width="1.2" stroke-opacity="0.2"/><path d="M5.9 268 Q-1.9 268.3 -1.2 271.6" stroke-width="1.6" stroke-opacity="0.4"/><path d="M150.2 389.1 Q146.9 392.2 143.3 389.4" stroke-width="1" stroke-opacity="0.4"/><path d="M150.4 506.8 Q157.1 511 169.7 516.7" stroke-width="1" stroke-opacity="0.4"/><path d="M182.1 404.1 Q183.1 408.1 186.3 409.2" stroke-width="0.9" stroke-opacity="0.5"/><path d="M210.2 366.5 Q211.4 370.1 216.7 370.5" stroke-width="2.2" stroke-opacity="0.3"/><path d="M269.9 465.7 Q270.4 474 264.4 474.8" stroke-width="1.9" stroke-opacity="0.5"/><path d="M125.7 310.4 Q130.9 309.5 128.7 317.6" stroke-width="2.1" stroke-opacity="0.5"/><path d="M185.6 306.4 Q186.8 309.7 186.2 316.4" stroke-width="1.5" stroke-opacity="0.2"/><path d="M167.1 290.8 Q169.9 299 171.3 311.2" stroke-width="2.1" stroke-opacity="0.5"/><path d="M153.2 456.4 Q148.8 464.5 154.8 476.3" stroke-width="1.3" stroke-opacity="0.2"/><path d="M153.8 462.7 Q143.4 468.7 132.1 464.8" stroke-width="1.6" stroke-opacity="0.3"/><path d="M85.5 454 Q86.3 456.1 96.6 454.8" stroke-width="1.6" stroke-opacity="0.4"/><path d="M219.2 441.8 Q219.5 441.4 214.3 451.1" stroke-width="0.9" stroke-opacity="0.4"/><path d="M167.5 424.8 Q171.1 424.2 164.9 434.4" stroke-width="1.4" stroke-opacity="0.3"/><path d="M228.6 412.6 Q221.3 416.2 224.8 429.4" stroke-width="1.2" stroke-opacity="0.2"/><path d="M89.3 301.7 Q91.6 306.2 95.6 304.9" stroke-width="1" stroke-opacity="0.4"/><path d="M202.9 376.1 Q205.8 380 215.3 382.7" stroke-width="1.1" stroke-opacity="0.3"/><path d="M193.2 437.7 Q195.5 437.4 200.9 447" stroke-width="1.2" stroke-opacity="0.5"/><path d="M186.2 350.5 Q171.3 349.5 164.8 352.7" stroke-width="2" stroke-opacity="0.3"/><path d="M167.2 362.6 Q161.9 369.7 154.3 367.5" stroke-width="2" stroke-opacity="0.4"/><path d="M198.1 263 Q193.8 267.4 184.1 274.1" stroke-width="1.2" stroke-opacity="0.3"/><path d="M169.8 265.9 Q162.1 267.2 157.7 276.4" stroke-width="1.4" stroke-opacity="0.3"/><path d="M131.8 342.4 Q130.4 345.3 123.1 344.9" stroke-width="0.9" stroke-opacity="0.4"/><path d="M32.8 517.2 Q28.8 525.8 32.7 525" stroke-width="1.3" stroke-opacity="0.5"/><path d="M207.4 414.7 Q207 413.9 211.2 421.9" stroke-width="1.3" stroke-opacity="0.5"/><path d="M265 355.7 Q266.4 355.1 261.7 361.3" stroke-width="1.1" stroke-opacity="0.3"/><path d="M21.3 410.5 Q31.5 413.4 37.4 411.5" stroke-width="1.4" stroke-opacity="0.3"/><path d="M143.6 423 Q134.3 429.6 125.9 435.9" stroke-width="0.8" stroke-opacity="0.3"/><path d="M195.5 434 Q182.9 432.5 176.6 440.1" stroke-width="0.8" stroke-opacity="0.4"/><path d="M287.9 456 Q280.6 462.2 275.6 473.9" stroke-width="1.5" stroke-opacity="0.5"/><path d="M221.1 513 Q216.6 524.4 210 525.2" stroke-width="0.8" stroke-opacity="0.4"/><path d="M160.2 345.5 Q170.2 356.2 172.8 361" stroke-width="1.9" stroke-opacity="0.5"/><path d="M173.3 430.1 Q165.7 429.3 154 439.1" stroke-width="1.3" stroke-opacity="0.3"/><path d="M185.9 348.6 Q184.8 355 195.2 359.3" stroke-width="0.9" stroke-opacity="0.5"/><path d="M148.5 303.4 Q145.2 308.9 153.3 320.2" stroke-width="1.6" stroke-opacity="0.4"/><path d="M170.4 310.5 Q161.7 318.6 153.9 315.6" stroke-width="0.9" stroke-opacity="0.3"/><path d="M151.8 368.4 Q162.5 370.2 164.8 369.2" stroke-width="1.9" stroke-opacity="0.3"/><path d="M166.6 454.5 Q162.8 462.6 162.8 473.2" stroke-width="1.9" stroke-opacity="0.5"/><path d="M193.5 407.1 Q196.4 411.3 200.8 419.4" stroke-width="0.9" stroke-opacity="0.3"/><path d="M27.3 455.4 Q20.5 458.8 23 463.4" stroke-width="1.3" stroke-opacity="0.4"/><path d="M126.6 315 Q136.6 315.4 136.4 316.4" stroke-width="1.3" stroke-opacity="0.5"/><path d="M224.4 365.7 Q226.7 361.1 231.1 365.8" stroke-width="1.4" stroke-opacity="0.5"/><path d="M169.5 381.7 Q165.7 379.6 158.3 387" stroke-width="1.3" stroke-opacity="0.3"/><path d="M109.6 322 Q94.8 326.6 91.2 325.9" stroke-width="1.6" stroke-opacity="0.3"/><path d="M187.7 385.4 Q186.9 395 195.6 397.3" stroke-width="1.7" stroke-opacity="0.3"/><path d="M125.9 326.4 Q117.2 337 111 337.3" stroke-width="1" stroke-opacity="0.4"/><path d="M191.3 359.9 Q178.9 368.6 175.4 372.9" stroke-width="1.9" stroke-opacity="0.5"/><path d="M236.7 403.7 Q243.3 404.9 244.9 409.5" stroke-width="1" stroke-opacity="0.2"/><path d="M49.2 290.6 Q40.2 300.2 41.5 306.4" stroke-width="1.5" stroke-opacity="0.3"/><path d="M172.6 416.6 Q174.2 419 172.4 431.5" stroke-width="1.1" stroke-opacity="0.5"/><path d="M74.9 394 Q78.4 394.9 84 403.9" stroke-width="1.5" stroke-opacity="0.5"/><path d="M139.7 432.2 Q145.6 432 148.1 438.5" stroke-width="0.9" stroke-opacity="0.5"/><path d="M176.2 369.6 Q178.4 369.3 174.2 380.1" stroke-width="1.9" stroke-opacity="0.4"/><path d="M150.5 239 Q145.3 243.3 141.8 246.9" stroke-width="1.6" stroke-opacity="0.4"/><path d="M188.1 480.2 Q186.5 491.5 194.3 495" stroke-width="0.9" stroke-opacity="0.3"/><path d="M147.9 420.3 Q156.9 428.3 154.4 428.8" stroke-width="2.2" stroke-opacity="0.3"/><path d="M130.7 398.3 Q132.3 404.9 125.3 412.4" stroke-width="0.9" stroke-opacity="0.4"/><path d="M35.9 388.9 Q43.2 392.9 51.5 397.5" stroke-width="1.3" stroke-opacity="0.2"/><path d="M146.6 377.7 Q145.3 374.4 139.2 378.1" stroke-width="2" stroke-opacity="0.5"/><path d="M267.1 382.7 Q265.8 388.7 267.2 392.2" stroke-width="1.3" stroke-opacity="0.4"/><path d="M172.2 420.1 Q177.3 426.4 179.7 421.8" stroke-width="0.9" stroke-opacity="0.4"/><path d="M162 518.7 Q160.9 525.8 155.3 521.5" stroke-width="1.4" stroke-opacity="0.5"/><path d="M88.9 409.6 Q90.7 416.9 90.9 421.1" stroke-width="2" stroke-opacity="0.4"/><path d="M151.8 396.5 Q162.4 392.7 171.2 400" stroke-width="1.8" stroke-opacity="0.3"/><path d="M163.6 433.7 Q151.1 434.8 145.6 441.7" stroke-width="2" stroke-opacity="0.4"/><path d="M153.5 384.1 Q154.5 382.1 162.2 389.7" stroke-width="1.4" stroke-opacity="0.3"/><path d="M155.1 455.5 Q158.1 458.6 162.5 459.3" stroke-width="1.7" stroke-opacity="0.2"/><path d="M118.3 392.6 Q112.2 392.9 108.2 402.7" stroke-width="1.9" stroke-opacity="0.4"/><path d="M113.2 376 Q119.7 381.3 116.7 383.4" stroke-width="1.9" stroke-opacity="0.4"/><path d="M200.6 298 Q200.2 300.5 197.9 312" stroke-width="1.2" stroke-opacity="0.2"/><path d="M141 373.2 Q138.2 380.2 144.8 382.8" stroke-width="2.1" stroke-opacity="0.3"/><path d="M202.9 413.2 Q197.6 420.3 184.4 421.7" stroke-width="0.8" stroke-opacity="0.3"/><path d="M156.2 492 Q145.5 498.2 143.4 503.5" stroke-width="2" stroke-opacity="0.3"/><path d="M221 393 Q221.3 400.5 217.7 405.6" stroke-width="1.4" stroke-opacity="0.5"/><path d="M187 388.8 Q187.4 389 189.6 397" stroke-width="2.1" stroke-opacity="0.4"/><path d="M197.1 330.4 Q206.6 335.2 211.8 344" stroke-width="1.8" stroke-opacity="0.5"/><path d="M174.9 270.5 Q164.9 270.4 156.9 274.4" stroke-width="1.4" stroke-opacity="0.3"/><path d="M140.2 435.6 Q138.6 446.4 136.4 449.3" stroke-width="0.9" stroke-opacity="0.5"/><path d="M187.9 301.6 Q182.4 309.8 184.2 319.7" stroke-width="1.9" stroke-opacity="0.3"/><path d="M129.4 437 Q131.3 434 134.8 441.4" stroke-width="1.2" stroke-opacity="0.2"/><path d="M160.5 363.5 Q167.5 365.1 171.1 373.3" stroke-width="1.7" stroke-opacity="0.5"/><path d="M168.8 394.1 Q161.6 396.8 160.4 409.7" stroke-width="0.8" stroke-opacity="0.5"/><path d="M129.5 437 Q121.4 434.7 116.5 441.1" stroke-width="1.2" stroke-opacity="0.5"/><path d="M123.3 334.1 Q123.9 333.3 120.5 344.5" stroke-width="1.2" stroke-opacity="0.3"/><path d="M131.7 358 Q135.2 369.9 146.9 371" stroke-width="1.6" stroke-opacity="0.5"/><path d="M114.5 407.6 Q104.1 411.7 102.9 424.7" stroke-width="1.7" stroke-opacity="0.3"/><path d="M182.2 397.9 Q186.4 404.4 180.2 405.1" stroke-width="2" stroke-opacity="0.4"/><path d="M152.6 380.3 Q155.4 388 147.3 388.2" stroke-width="1.2" stroke-opacity="0.4"/><path d="M148.5 397 Q155.7 407.1 166.6 406.2" stroke-width="1.3" stroke-opacity="0.3"/><path d="M134.5 388.5 Q137 391.4 150.3 397" stroke-width="1.2" stroke-opacity="0.5"/><path d="M203.8 347.9 Q197.4 349.2 192 355.9" stroke-width="2" stroke-opacity="0.5"/><path d="M197.5 369.9 Q201.6 373.3 215.8 373" stroke-width="1.8" stroke-opacity="0.2"/><path d="M179.7 403 Q181.7 405.8 175.2 417.2" stroke-width="1.8" stroke-opacity="0.3"/><path d="M141.7 362.6 Q137.6 362.8 134.1 362.8" stroke-width="1.2" stroke-opacity="0.4"/><path d="M135.5 392.8 Q126.4 397.9 129 401.1" stroke-width="0.8" stroke-opacity="0.4"/><path d="M207.1 324.8 Q213.5 325 219.4 330.4" stroke-width="1.5" stroke-opacity="0.5"/><path d="M147.5 385.9 Q149.2 389.1 157.5 389.8" stroke-width="1.5" stroke-opacity="0.4"/><path d="M209.6 461.5 Q214.7 460 221.1 461.6" stroke-width="1.2" stroke-opacity="0.4"/><path d="M235.3 474.9 Q232.7 474.6 222.6 486.2" stroke-width="1.3" stroke-opacity="0.4"/><path d="M206 375 Q200.6 377 200.4 379.6" stroke-width="1.3" stroke-opacity="0.5"/><path d="M219.2 314.3 Q218.4 319.6 217.1 332.6" stroke-width="1" stroke-opacity="0.5"/><path d="M103.6 498.9 Q109.5 506.9 104.3 504.9" stroke-width="0.9" stroke-opacity="0.3"/><path d="M165.5 251.4 Q173.5 249.9 178.6 255.1" stroke-width="2.1" stroke-opacity="0.5"/><path d="M133.5 421.9 Q143.5 427.7 144.4 427.1" stroke-width="1.9" stroke-opacity="0.4"/><path d="M28.1 400.8 Q35.5 404.6 31.8 410.2" stroke-width="1.2" stroke-opacity="0.2"/><path d="M119.8 471.2 Q133.2 469.7 137.7 477.9" stroke-width="1.2" stroke-opacity="0.4"/><path d="M56.1 384.7 Q65 388.4 66.6 385.4" stroke-width="1" stroke-opacity="0.3"/><path d="M121.3 361 Q120.3 362.7 129.7 362.1" stroke-width="2" stroke-opacity="0.2"/><path d="M117.3 381.7 Q112.3 381.7 113.9 390.1" stroke-width="0.9" stroke-opacity="0.3"/><path d="M57.3 400.2 Q62.7 408.1 66.8 414.8" stroke-width="2" stroke-opacity="0.5"/><path d="M244.7 407.6 Q248.8 413.4 258 419.2" stroke-width="1.9" stroke-opacity="0.3"/><path d="M188.6 287.8 Q190.6 289.2 191.1 300.4" stroke-width="1.3" stroke-opacity="0.2"/><path d="M147.3 446 Q153.2 448.2 163.5 452.8" stroke-width="2" stroke-opacity="0.4"/><path d="M133.4 305.7 Q130.7 313.8 138.3 312.6" stroke-width="1.5" stroke-opacity="0.2"/><path d="M140 416.8 Q135.6 422.5 133.2 417.5" stroke-width="1.7" stroke-opacity="0.5"/><path d="M134.7 357.6 Q140.1 356.6 142.8 361.2" stroke-width="1.2" stroke-opacity="0.3"/><path d="M257.3 337.5 Q264.8 343.5 267.6 346.8" stroke-width="0.9" stroke-opacity="0.5"/><path d="M181.7 414.6 Q175.2 424.8 173.7 433.4" stroke-width="1.9" stroke-opacity="0.4"/><path d="M201.6 503.3 Q209 509.9 221.5 507.5" stroke-width="1.2" stroke-opacity="0.5"/><path d="M232 453.1 Q229.2 457 220.9 455.9" stroke-width="2" stroke-opacity="0.3"/><path d="M148.5 357.8 Q150.8 356.2 157.5 359.7" stroke-width="2.1" stroke-opacity="0.3"/><path d="M148 444.7 Q142.6 449.9 147.3 455.6" stroke-width="1.8" stroke-opacity="0.5"/><path d="M141 301.3 Q140.7 306.2 134.2 307.3" stroke-width="1.5" stroke-opacity="0.5"/><path d="M229.8 489.1 Q239.2 493.3 241.1 492.2" stroke-width="2" stroke-opacity="0.3"/><path d="M88.3 407.8 Q88.5 410.8 89 416" stroke-width="2" stroke-opacity="0.3"/><path d="M213.4 294.5 Q211.5 298.3 221.1 300.5" stroke-width="0.9" stroke-opacity="0.2"/></g></g></g></g>
<text x="13.5" y="260.5" font-size="24" text-anchor="middle" fill="#fff" >b</text>
<text x="39" y="514.3" font-size="21" text-anchor="middle" fill="#fff" >200 nm</text>
<rect x="10" y="518.9" width="57.4" height="3.7" fill="#fff"/>
<g filter="url(#shb)"><g fill="url(#spha2)"><circle cx="171.0" cy="58.6" r="2.3"/><circle cx="171.6" cy="65.7" r="2.4"/><circle cx="173.8" cy="69.4" r="2.4"/><circle cx="378.4" cy="73.1" r="2.4"/><circle cx="173.7" cy="76.8" r="2.5"/><circle cx="374.0" cy="76.8" r="2.5"/><circle cx="378.6" cy="76.8" r="2.5"/><circle cx="383.1" cy="76.8" r="2.5"/><circle cx="176.3" cy="80.6" r="2.5"/><circle cx="369.8" cy="80.6" r="2.5"/><circle cx="374.4" cy="80.6" r="2.5" class="e2"/><circle cx="379.0" cy="80.6" r="2.5"/><circle cx="178.8" cy="84.4" r="2.5"/><circle cx="365.2" cy="84.4" r="2.5"/><circle cx="369.8" cy="84.4" r="2.5"/><circle cx="374.5" cy="84.4" r="2.5"/><circle cx="177.0" cy="88.2" r="2.5"/><circle cx="360.9" cy="88.2" r="2.5"/><circle cx="365.6" cy="88.2" r="2.5"/><circle cx="370.4" cy="88.2" r="2.5"/><circle cx="179.2" cy="92.1" r="2.6"/><circle cx="360.6" cy="92.1" r="2.6"/><circle cx="365.3" cy="92.1" r="2.6"/><circle cx="356.0" cy="96.1" r="2.6"/><circle cx="360.8" cy="96.1" r="2.6"/><circle cx="355.3" cy="100.1" r="2.6"/><circle cx="360.2" cy="100.1" r="2.6"/><circle cx="182.1" cy="104.1" r="2.7"/><circle cx="355.1" cy="104.1" r="2.7"/><circle cx="350.4" cy="108.2" r="2.7"/><circle cx="344.7" cy="112.3" r="2.7" class="e2"/><circle cx="349.8" cy="112.3" r="2.7"/><circle cx="185.6" cy="116.5" r="2.8"/><circle cx="339.2" cy="116.5" r="2.8"/><circle cx="344.3" cy="116.5" r="2.8"/><circle cx="349.4" cy="116.5" r="2.8"/><circle cx="188.5" cy="120.8" r="2.8"/><circle cx="193.7" cy="120.8" r="2.8"/><circle cx="198.9" cy="120.8" r="2.8" class="e2"/><circle cx="204.1" cy="120.8" r="2.8"/><circle cx="333.6" cy="120.8" r="2.8"/><circle cx="338.8" cy="120.8" r="2.8"/><circle cx="344.0" cy="120.8" r="2.8"/><circle cx="186.4" cy="125.1" r="2.8"/><circle cx="191.6" cy="125.1" r="2.8"/><circle cx="196.8" cy="125.1" r="2.8"/><circle cx="202.1" cy="125.1" r="2.8"/><circle cx="207.3" cy="125.1" r="2.8"/><circle cx="212.6" cy="125.1" r="2.8"/><circle cx="217.8" cy="125.1" r="2.8"/><circle cx="223.0" cy="125.1" r="2.8" class="e2"/><circle cx="228.3" cy="125.1" r="2.8"/><circle cx="233.5" cy="125.1" r="2.8"/><circle cx="327.9" cy="125.1" r="2.8" class="e2"/><circle cx="333.1" cy="125.1" r="2.8"/><circle cx="338.4" cy="125.1" r="2.8"/><circle cx="189.2" cy="129.4" r="2.9"/><circle cx="194.5" cy="129.4" r="2.9"/><circle cx="199.9" cy="129.4" r="2.9"/><circle cx="205.2" cy="129.4" r="2.9"/><circle cx="210.5" cy="129.4" r="2.9"/><circle cx="215.8" cy="129.4" r="2.9"/><circle cx="221.1" cy="129.4" r="2.9"/><circle cx="226.4" cy="129.4" r="2.9"/><circle cx="231.7" cy="129.4" r="2.9"/><circle cx="237.0" cy="129.4" r="2.9"/><circle cx="242.3" cy="129.4" r="2.9"/><circle cx="247.6" cy="129.4" r="2.9"/><circle cx="252.9" cy="129.4" r="2.9"/><circle cx="258.2" cy="129.4" r="2.9"/><circle cx="263.5" cy="129.4" r="2.9"/><circle cx="268.8" cy="129.4" r="2.9"/><circle cx="321.8" cy="129.4" r="2.9"/><circle cx="327.2" cy="129.4" r="2.9"/><circle cx="332.5" cy="129.4" r="2.9"/><circle cx="197.5" cy="133.8" r="2.9" class="e2"/><circle cx="202.9" cy="133.8" r="2.9"/><circle cx="208.2" cy="133.8" r="2.9"/><circle cx="213.6" cy="133.8" r="2.9"/><circle cx="219.0" cy="133.8" r="2.9"/><circle cx="224.3" cy="133.8" r="2.9"/><circle cx="229.7" cy="133.8" r="2.9"/><circle cx="235.1" cy="133.8" r="2.9"/><circle cx="240.4" cy="133.8" r="2.9"/><circle cx="245.8" cy="133.8" r="2.9"/><circle cx="251.2" cy="133.8" r="2.9"/><circle cx="256.5" cy="133.8" r="2.9"/><circle cx="261.9" cy="133.8" r="2.9"/><circle cx="267.3" cy="133.8" r="2.9"/><circle cx="272.6" cy="133.8" r="2.9"/><circle cx="278.0" cy="133.8" r="2.9"/><circle cx="283.4" cy="133.8" r="2.9"/><circle cx="288.7" cy="133.8" r="2.9"/><circle cx="294.1" cy="133.8" r="2.9"/><circle cx="299.5" cy="133.8" r="2.9"/><circle cx="315.6" cy="133.8" r="2.9"/><circle cx="320.9" cy="133.8" r="2.9"/><circle cx="326.3" cy="133.8" r="2.9"/><circle cx="331.7" cy="133.8" r="2.9"/><circle cx="233.3" cy="138.2" r="2.9"/><circle cx="238.8" cy="138.2" r="2.9"/><circle cx="244.2" cy="138.2" r="2.9"/><circle cx="249.6" cy="138.2" r="2.9"/><circle cx="255.0" cy="138.2" r="2.9" class="e2"/><circle cx="260.5" cy="138.2" r="2.9"/><circle cx="265.9" cy="138.2" r="2.9"/><circle cx="271.3" cy="138.2" r="2.9"/><circle cx="276.8" cy="138.2" r="2.9"/><circle cx="282.2" cy="138.2" r="2.9"/><circle cx="287.6" cy="138.2" r="2.9"/><circle cx="293.1" cy="138.2" r="2.9"/><circle cx="298.5" cy="138.2" r="2.9" class="e2"/><circle cx="303.9" cy="138.2" r="2.9"/><circle cx="309.3" cy="138.2" r="2.9"/><circle cx="314.8" cy="138.2" r="2.9"/><circle cx="320.2" cy="138.2" r="2.9"/><circle cx="325.6" cy="138.2" r="2.9"/><circle cx="264.0" cy="142.7" r="3.0"/><circle cx="269.5" cy="142.7" r="3.0"/><circle cx="275.0" cy="142.7" r="3.0"/><circle cx="280.5" cy="142.7" r="3.0"/><circle cx="286.0" cy="142.7" r="3.0"/><circle cx="291.5" cy="142.7" r="3.0"/><circle cx="297.0" cy="142.7" r="3.0"/><circle cx="302.5" cy="142.7" r="3.0"/><circle cx="308.0" cy="142.7" r="3.0"/><circle cx="313.5" cy="142.7" r="3.0"/><circle cx="319.0" cy="142.7" r="3.0"/><circle cx="295.8" cy="147.3" r="3.0"/><circle cx="301.4" cy="147.3" r="3.0" class="e2"/><circle cx="306.9" cy="147.3" r="3.0"/><circle cx="312.5" cy="147.3" r="3.0"/><circle cx="171.0" cy="55.3" r="2.3"/><circle cx="171.6" cy="62.3" r="2.4"/><circle cx="173.8" cy="65.9" r="2.4"/><circle cx="173.7" cy="73.2" r="2.5"/><circle cx="378.6" cy="73.2" r="2.5"/><circle cx="383.1" cy="73.2" r="2.5"/><circle cx="176.3" cy="77.0" r="2.5"/><circle cx="374.4" cy="77.0" r="2.5"/><circle cx="379.0" cy="77.0" r="2.5"/><circle cx="369.8" cy="80.7" r="2.5"/><circle cx="374.5" cy="80.7" r="2.5"/><circle cx="177.0" cy="84.5" r="2.5"/><circle cx="365.6" cy="84.5" r="2.5"/><circle cx="370.4" cy="84.5" r="2.5"/><circle cx="179.2" cy="88.4" r="2.6"/><circle cx="360.6" cy="88.4" r="2.6"/><circle cx="365.3" cy="88.4" r="2.6" class="e2"/><circle cx="360.8" cy="92.3" r="2.6"/><circle cx="355.3" cy="96.3" r="2.6"/><circle cx="360.2" cy="96.3" r="2.6"/><circle cx="182.1" cy="100.3" r="2.7"/><circle cx="355.1" cy="100.3" r="2.7"/><circle cx="350.4" cy="104.3" r="2.7"/><circle cx="349.8" cy="108.4" r="2.7"/><circle cx="185.6" cy="112.5" r="2.8"/><circle cx="344.3" cy="112.5" r="2.8" class="e2"/><circle cx="349.4" cy="112.5" r="2.8"/><circle cx="338.8" cy="116.7" r="2.8" class="e2"/><circle cx="344.0" cy="116.7" r="2.8"/><circle cx="186.4" cy="121.0" r="2.8"/><circle cx="191.6" cy="121.0" r="2.8"/><circle cx="196.8" cy="121.0" r="2.8"/><circle cx="202.1" cy="121.0" r="2.8" class="e2"/><circle cx="333.1" cy="121.0" r="2.8"/><circle cx="338.4" cy="121.0" r="2.8"/><circle cx="189.2" cy="125.3" r="2.9"/><circle cx="194.5" cy="125.3" r="2.9"/><circle cx="199.9" cy="125.3" r="2.9"/><circle cx="205.2" cy="125.3" r="2.9"/><circle cx="210.5" cy="125.3" r="2.9"/><circle cx="215.8" cy="125.3" r="2.9"/><circle cx="221.1" cy="125.3" r="2.9"/><circle cx="226.4" cy="125.3" r="2.9"/><circle cx="231.7" cy="125.3" r="2.9"/><circle cx="237.0" cy="125.3" r="2.9"/><circle cx="327.2" cy="125.3" r="2.9"/><circle cx="332.5" cy="125.3" r="2.9"/><circle cx="197.5" cy="129.6" r="2.9"/><circle cx="202.9" cy="129.6" r="2.9"/><circle cx="208.2" cy="129.6" r="2.9"/><circle cx="213.6" cy="129.6" r="2.9"/><circle cx="219.0" cy="129.6" r="2.9"/><circle cx="224.3" cy="129.6" r="2.9"/><circle cx="229.7" cy="129.6" r="2.9"/><circle cx="235.1" cy="129.6" r="2.9"/><circle cx="240.4" cy="129.6" r="2.9"/><circle cx="245.8" cy="129.6" r="2.9"/><circle cx="251.2" cy="129.6" r="2.9"/><circle cx="256.5" cy="129.6" r="2.9"/><circle cx="261.9" cy="129.6" r="2.9"/><circle cx="267.3" cy="129.6" r="2.9" class="e2"/><circle cx="320.9" cy="129.6" r="2.9"/><circle cx="326.3" cy="129.6" r="2.9"/><circle cx="331.7" cy="129.6" r="2.9"/><circle cx="233.3" cy="134.0" r="2.9"/><circle cx="238.8" cy="134.0" r="2.9"/><circle cx="244.2" cy="134.0" r="2.9"/><circle cx="249.6" cy="134.0" r="2.9"/><circle cx="255.0" cy="134.0" r="2.9" class="e2"/><circle cx="260.5" cy="134.0" r="2.9"/><circle cx="265.9" cy="134.0" r="2.9"/><circle cx="271.3" cy="134.0" r="2.9"/><circle cx="276.8" cy="134.0" r="2.9"/><circle cx="282.2" cy="134.0" r="2.9"/><circle cx="287.6" cy="134.0" r="2.9"/><circle cx="293.1" cy="134.0" r="2.9"/><circle cx="298.5" cy="134.0" r="2.9"/><circle cx="314.8" cy="134.0" r="2.9"/><circle cx="320.2" cy="134.0" r="2.9"/><circle cx="325.6" cy="134.0" r="2.9"/><circle cx="264.0" cy="138.4" r="3.0"/><circle cx="269.5" cy="138.4" r="3.0"/><circle cx="275.0" cy="138.4" r="3.0"/><circle cx="280.5" cy="138.4" r="3.0"/><circle cx="286.0" cy="138.4" r="3.0"/><circle cx="291.5" cy="138.4" r="3.0"/><circle cx="297.0" cy="138.4" r="3.0"/><circle cx="302.5" cy="138.4" r="3.0"/><circle cx="308.0" cy="138.4" r="3.0"/><circle cx="313.5" cy="138.4" r="3.0"/><circle cx="319.0" cy="138.4" r="3.0"/><circle cx="295.8" cy="142.9" r="3.0"/><circle cx="301.4" cy="142.9" r="3.0"/><circle cx="306.9" cy="142.9" r="3.0"/><circle cx="312.5" cy="142.9" r="3.0"/><circle cx="171.6" cy="58.9" r="2.4"/><circle cx="173.7" cy="69.7" r="2.5"/><circle cx="383.1" cy="69.7" r="2.5"/><circle cx="379.0" cy="73.4" r="2.5"/><circle cx="374.5" cy="77.1" r="2.5"/><circle cx="177.0" cy="80.9" r="2.5"/><circle cx="370.4" cy="80.9" r="2.5"/><circle cx="365.3" cy="84.7" r="2.6"/><circle cx="360.8" cy="88.5" r="2.6"/><circle cx="360.2" cy="92.5" r="2.6"/><circle cx="182.1" cy="96.4" r="2.7"/><circle cx="355.1" cy="96.4" r="2.7"/><circle cx="349.4" cy="108.5" r="2.8"/><circle cx="344.0" cy="112.7" r="2.8"/><circle cx="186.4" cy="116.9" r="2.8"/><circle cx="338.4" cy="116.9" r="2.8"/><circle cx="189.2" cy="121.1" r="2.9"/><circle cx="194.5" cy="121.1" r="2.9"/><circle cx="199.9" cy="121.1" r="2.9"/><circle cx="205.2" cy="121.1" r="2.9" class="e2"/><circle cx="332.5" cy="121.1" r="2.9"/><circle cx="197.5" cy="125.4" r="2.9"/><circle cx="202.9" cy="125.4" r="2.9"/><circle cx="208.2" cy="125.4" r="2.9" class="e2"/><circle cx="213.6" cy="125.4" r="2.9"/><circle cx="219.0" cy="125.4" r="2.9"/><circle cx="224.3" cy="125.4" r="2.9" class="e2"/><circle cx="229.7" cy="125.4" r="2.9"/><circle cx="235.1" cy="125.4" r="2.9"/><circle cx="326.3" cy="125.4" r="2.9"/><circle cx="331.7" cy="125.4" r="2.9"/><circle cx="233.3" cy="129.8" r="2.9"/><circle cx="238.8" cy="129.8" r="2.9"/><circle cx="244.2" cy="129.8" r="2.9"/><circle cx="249.6" cy="129.8" r="2.9"/><circle cx="255.0" cy="129.8" r="2.9"/><circle cx="260.5" cy="129.8" r="2.9"/><circle cx="265.9" cy="129.8" r="2.9"/><circle cx="271.3" cy="129.8" r="2.9"/><circle cx="320.2" cy="129.8" r="2.9"/><circle cx="325.6" cy="129.8" r="2.9"/><circle cx="264.0" cy="134.2" r="3.0"/><circle cx="269.5" cy="134.2" r="3.0"/><circle cx="275.0" cy="134.2" r="3.0"/><circle cx="280.5" cy="134.2" r="3.0"/><circle cx="286.0" cy="134.2" r="3.0"/><circle cx="291.5" cy="134.2" r="3.0"/><circle cx="297.0" cy="134.2" r="3.0"/><circle cx="302.5" cy="134.2" r="3.0" class="e2"/><circle cx="319.0" cy="134.2" r="3.0"/><circle cx="295.8" cy="138.6" r="3.0"/><circle cx="301.4" cy="138.6" r="3.0"/><circle cx="306.9" cy="138.6" r="3.0"/><circle cx="312.5" cy="138.6" r="3.0"/></g><g fill="url(#spha)"><circle cx="222.0" cy="10.3" r="2.0"/><circle cx="225.7" cy="10.3" r="2.0"/><circle cx="229.5" cy="10.3" r="2.0"/><circle cx="233.2" cy="10.3" r="2.0"/><circle cx="236.9" cy="10.3" r="2.0"/><circle cx="240.7" cy="10.3" r="2.0"/><circle cx="244.4" cy="10.3" r="2.0"/><circle cx="248.1" cy="10.3" r="2.0"/><circle cx="251.8" cy="10.3" r="2.0"/><circle cx="255.6" cy="10.3" r="2.0"/><circle cx="259.3" cy="10.3" r="2.0"/><circle cx="263.0" cy="10.3" r="2.0"/><circle cx="266.7" cy="10.3" r="2.0"/><circle cx="270.5" cy="10.3" r="2.0"/><circle cx="274.2" cy="10.3" r="2.0"/><circle cx="277.9" cy="10.3" r="2.0"/><circle cx="281.7" cy="10.3" r="2.0" class="e"/><circle cx="285.4" cy="10.3" r="2.0"/><circle cx="289.1" cy="10.3" r="2.0"/><circle cx="292.8" cy="10.3" r="2.0"/><circle cx="296.6" cy="10.3" r="2.0"/><circle cx="300.3" cy="10.3" r="2.0"/><circle cx="304.0" cy="10.3" r="2.0"/><circle cx="307.7" cy="10.3" r="2.0"/><circle cx="311.5" cy="10.3" r="2.0"/><circle cx="315.2" cy="10.3" r="2.0"/><circle cx="318.9" cy="10.3" r="2.0"/><circle cx="322.7" cy="10.3" r="2.0"/><circle cx="326.4" cy="10.3" r="2.0"/><circle cx="330.1" cy="10.3" r="2.0"/><circle cx="217.1" cy="13.3" r="2.0"/><circle cx="220.9" cy="13.3" r="2.0"/><circle cx="224.7" cy="13.3" r="2.0"/><circle cx="228.4" cy="13.3" r="2.0"/><circle cx="232.2" cy="13.3" r="2.0"/><circle cx="236.0" cy="13.3" r="2.0"/><circle cx="239.8" cy="13.3" r="2.0"/><circle cx="243.5" cy="13.3" r="2.0"/><circle cx="247.3" cy="13.3" r="2.0" class="e"/><circle cx="251.1" cy="13.3" r="2.0"/><circle cx="254.8" cy="13.3" r="2.0"/><circle cx="258.6" cy="13.3" r="2.0"/><circle cx="262.4" cy="13.3" r="2.0"/><circle cx="266.2" cy="13.3" r="2.0"/><circle cx="269.9" cy="13.3" r="2.0"/><circle cx="273.7" cy="13.3" r="2.0"/><circle cx="277.5" cy="13.3" r="2.0"/><circle cx="281.2" cy="13.3" r="2.0"/><circle cx="285.0" cy="13.3" r="2.0"/><circle cx="288.8" cy="13.3" r="2.0"/><circle cx="292.6" cy="13.3" r="2.0"/><circle cx="296.3" cy="13.3" r="2.0"/><circle cx="300.1" cy="13.3" r="2.0"/><circle cx="303.9" cy="13.3" r="2.0"/><circle cx="307.6" cy="13.3" r="2.0"/><circle cx="311.4" cy="13.3" r="2.0"/><circle cx="315.2" cy="13.3" r="2.0"/><circle cx="319.0" cy="13.3" r="2.0"/><circle cx="322.7" cy="13.3" r="2.0"/><circle cx="326.5" cy="13.3" r="2.0"/><circle cx="330.3" cy="13.3" r="2.0"/><circle cx="212.3" cy="16.3" r="2.1"/><circle cx="216.1" cy="16.3" r="2.1"/><circle cx="219.9" cy="16.3" r="2.1"/><circle cx="223.8" cy="16.3" r="2.1"/><circle cx="227.6" cy="16.3" r="2.1"/><circle cx="231.4" cy="16.3" r="2.1"/><circle cx="235.2" cy="16.3" r="2.1"/><circle cx="239.0" cy="16.3" r="2.1"/><circle cx="242.8" cy="16.3" r="2.1"/><circle cx="246.7" cy="16.3" r="2.1"/><circle cx="250.5" cy="16.3" r="2.1" class="e"/><circle cx="254.3" cy="16.3" r="2.1"/><circle cx="258.1" cy="16.3" r="2.1"/><circle cx="261.9" cy="16.3" r="2.1"/><circle cx="265.7" cy="16.3" r="2.1"/><circle cx="269.6" cy="16.3" r="2.1" class="e"/><circle cx="273.4" cy="16.3" r="2.1"/><circle cx="277.2" cy="16.3" r="2.1"/><circle cx="281.0" cy="16.3" r="2.1"/><circle cx="284.8" cy="16.3" r="2.1"/><circle cx="288.6" cy="16.3" r="2.1"/><circle cx="292.5" cy="16.3" r="2.1" class="e"/><circle cx="296.3" cy="16.3" r="2.1"/><circle cx="300.1" cy="16.3" r="2.1"/><circle cx="303.9" cy="16.3" r="2.1"/><circle cx="307.7" cy="16.3" r="2.1"/><circle cx="311.5" cy="16.3" r="2.1" class="g"/><circle cx="315.3" cy="16.3" r="2.1"/><circle cx="319.2" cy="16.3" r="2.1"/><circle cx="323.0" cy="16.3" r="2.1"/><circle cx="326.8" cy="16.3" r="2.1"/><circle cx="330.6" cy="16.3" r="2.1"/><circle cx="334.4" cy="16.3" r="2.1"/><circle cx="207.0" cy="19.4" r="2.1"/><circle cx="210.8" cy="19.4" r="2.1"/><circle cx="214.7" cy="19.4" r="2.1"/><circle cx="218.5" cy="19.4" r="2.1"/><circle cx="222.4" cy="19.4" r="2.1"/><circle cx="226.3" cy="19.4" r="2.1"/><circle cx="230.1" cy="19.4" r="2.1"/><circle cx="234.0" cy="19.4" r="2.1"/><circle cx="237.8" cy="19.4" r="2.1" class="g"/><circle cx="241.7" cy="19.4" r="2.1" class="g"/><circle cx="245.6" cy="19.4" r="2.1" class="g"/><circle cx="249.4" cy="19.4" r="2.1"/><circle cx="253.3" cy="19.4" r="2.1"/><circle cx="257.2" cy="19.4" r="2.1"/><circle cx="261.0" cy="19.4" r="2.1"/><circle cx="264.9" cy="19.4" r="2.1"/><circle cx="268.7" cy="19.4" r="2.1"/><circle cx="272.6" cy="19.4" r="2.1"/><circle cx="276.5" cy="19.4" r="2.1"/><circle cx="280.3" cy="19.4" r="2.1"/><circle cx="284.2" cy="19.4" r="2.1"/><circle cx="288.0" cy="19.4" r="2.1"/><circle cx="291.9" cy="19.4" r="2.1"/><circle cx="295.8" cy="19.4" r="2.1"/><circle cx="299.6" cy="19.4" r="2.1"/><circle cx="303.5" cy="19.4" r="2.1" class="g"/><circle cx="307.4" cy="19.4" r="2.1" class="f"/><circle cx="311.2" cy="19.4" r="2.1" class="g"/><circle cx="315.1" cy="19.4" r="2.1"/><circle cx="318.9" cy="19.4" r="2.1"/><circle cx="322.8" cy="19.4" r="2.1"/><circle cx="326.7" cy="19.4" r="2.1"/><circle cx="330.5" cy="19.4" r="2.1"/><circle cx="334.4" cy="19.4" r="2.1"/><circle cx="338.2" cy="19.4" r="2.1"/><circle cx="205.5" cy="22.5" r="2.1"/><circle cx="209.4" cy="22.5" r="2.1"/><circle cx="213.3" cy="22.5" r="2.1"/><circle cx="217.2" cy="22.5" r="2.1"/><circle cx="221.1" cy="22.5" r="2.1"/><circle cx="225.0" cy="22.5" r="2.1"/><circle cx="228.9" cy="22.5" r="2.1"/><circle cx="232.9" cy="22.5" r="2.1"/><circle cx="236.8" cy="22.5" r="2.1" class="g"/><circle cx="240.7" cy="22.5" r="2.1" class="e"/><circle cx="244.6" cy="22.5" r="2.1" class="g"/><circle cx="248.5" cy="22.5" r="2.1" class="g"/><circle cx="252.4" cy="22.5" r="2.1"/><circle cx="256.3" cy="22.5" r="2.1" class="e"/><circle cx="260.2" cy="22.5" r="2.1"/><circle cx="264.1" cy="22.5" r="2.1"/><circle cx="268.0" cy="22.5" r="2.1"/><circle cx="271.9" cy="22.5" r="2.1"/><circle cx="275.8" cy="22.5" r="2.1"/><circle cx="279.7" cy="22.5" r="2.1"/><circle cx="283.6" cy="22.5" r="2.1"/><circle cx="287.6" cy="22.5" r="2.1"/><circle cx="291.5" cy="22.5" r="2.1"/><circle cx="295.4" cy="22.5" r="2.1"/><circle cx="299.3" cy="22.5" r="2.1" class="e"/><circle cx="303.2" cy="22.5" r="2.1" class="g"/><circle cx="307.1" cy="22.5" r="2.1" class="f"/><circle cx="311.0" cy="22.5" r="2.1" class="g"/><circle cx="314.9" cy="22.5" r="2.1"/><circle cx="318.8" cy="22.5" r="2.1"/><circle cx="322.7" cy="22.5" r="2.1"/><circle cx="326.6" cy="22.5" r="2.1"/><circle cx="330.5" cy="22.5" r="2.1"/><circle cx="334.4" cy="22.5" r="2.1"/><circle cx="338.3" cy="22.5" r="2.1" class="e"/><circle cx="342.2" cy="22.5" r="2.1"/><circle cx="200.0" cy="25.6" r="2.1"/><circle cx="203.9" cy="25.6" r="2.1" class="e"/><circle cx="207.9" cy="25.6" r="2.1"/><circle cx="211.8" cy="25.6" r="2.1"/><circle cx="215.8" cy="25.6" r="2.1"/><circle cx="219.7" cy="25.6" r="2.1"/><circle cx="223.7" cy="25.6" r="2.1"/><circle cx="227.6" cy="25.6" r="2.1"/><circle cx="231.6" cy="25.6" r="2.1"/><circle cx="235.5" cy="25.6" r="2.1"/><circle cx="239.5" cy="25.6" r="2.1" class="g"/><circle cx="243.4" cy="25.6" r="2.1" class="g"/><circle cx="247.4" cy="25.6" r="2.1"/><circle cx="251.3" cy="25.6" r="2.1"/><circle cx="255.3" cy="25.6" r="2.1"/><circle cx="259.3" cy="25.6" r="2.1"/><circle cx="263.2" cy="25.6" r="2.1"/><circle cx="267.2" cy="25.6" r="2.1" class="e"/><circle cx="271.1" cy="25.6" r="2.1"/><circle cx="275.1" cy="25.6" r="2.1"/><circle cx="279.0" cy="25.6" r="2.1"/><circle cx="283.0" cy="25.6" r="2.1"/><circle cx="286.9" cy="25.6" r="2.1"/><circle cx="290.9" cy="25.6" r="2.1"/><circle cx="294.8" cy="25.6" r="2.1"/><circle cx="298.8" cy="25.6" r="2.1"/><circle cx="302.7" cy="25.6" r="2.1"/><circle cx="306.7" cy="25.6" r="2.1"/><circle cx="310.6" cy="25.6" r="2.1" class="g"/><circle cx="314.6" cy="25.6" r="2.1"/><circle cx="318.5" cy="25.6" r="2.1"/><circle cx="322.5" cy="25.6" r="2.1"/><circle cx="326.5" cy="25.6" r="2.1"/><circle cx="330.4" cy="25.6" r="2.1"/><circle cx="334.4" cy="25.6" r="2.1"/><circle cx="338.3" cy="25.6" r="2.1"/><circle cx="342.3" cy="25.6" r="2.1"/><circle cx="194.5" cy="28.8" r="2.2"/><circle cx="198.5" cy="28.8" r="2.2"/><circle cx="202.5" cy="28.8" r="2.2"/><circle cx="206.5" cy="28.8" r="2.2" class="e"/><circle cx="210.5" cy="28.8" r="2.2"/><circle cx="214.5" cy="28.8" r="2.2"/><circle cx="218.5" cy="28.8" r="2.2"/><circle cx="222.5" cy="28.8" r="2.2"/><circle cx="226.5" cy="28.8" r="2.2"/><circle cx="230.5" cy="28.8" r="2.2"/><circle cx="234.5" cy="28.8" r="2.2"/><circle cx="238.5" cy="28.8" r="2.2"/><circle cx="242.5" cy="28.8" r="2.2"/><circle cx="246.5" cy="28.8" r="2.2"/><circle cx="250.5" cy="28.8" r="2.2"/><circle cx="254.5" cy="28.8" r="2.2"/><circle cx="258.5" cy="28.8" r="2.2"/><circle cx="262.5" cy="28.8" r="2.2"/><circle cx="266.5" cy="28.8" r="2.2"/><circle cx="270.5" cy="28.8" r="2.2"/><circle cx="274.5" cy="28.8" r="2.2"/><circle cx="278.5" cy="28.8" r="2.2"/><circle cx="282.5" cy="28.8" r="2.2"/><circle cx="286.5" cy="28.8" r="2.2"/><circle cx="290.5" cy="28.8" r="2.2"/><circle cx="294.5" cy="28.8" r="2.2"/><circle cx="298.5" cy="28.8" r="2.2"/><circle cx="302.5" cy="28.8" r="2.2"/><circle cx="306.5" cy="28.8" r="2.2"/><circle cx="310.5" cy="28.8" r="2.2"/><circle cx="314.5" cy="28.8" r="2.2"/><circle cx="318.5" cy="28.8" r="2.2"/><circle cx="322.5" cy="28.8" r="2.2"/><circle cx="326.5" cy="28.8" r="2.2"/><circle cx="330.5" cy="28.8" r="2.2"/><circle cx="334.5" cy="28.8" r="2.2" class="e"/><circle cx="338.5" cy="28.8" r="2.2"/><circle cx="342.5" cy="28.8" r="2.2"/><circle cx="346.5" cy="28.8" r="2.2"/><circle cx="192.8" cy="32.0" r="2.2"/><circle cx="196.8" cy="32.0" r="2.2"/><circle cx="200.9" cy="32.0" r="2.2"/><circle cx="204.9" cy="32.0" r="2.2"/><circle cx="209.0" cy="32.0" r="2.2" class="e"/><circle cx="213.0" cy="32.0" r="2.2"/><circle cx="217.1" cy="32.0" r="2.2"/><circle cx="221.1" cy="32.0" r="2.2"/><circle cx="225.2" cy="32.0" r="2.2"/><circle cx="229.2" cy="32.0" r="2.2"/><circle cx="233.3" cy="32.0" r="2.2"/><circle cx="237.3" cy="32.0" r="2.2"/><circle cx="241.4" cy="32.0" r="2.2"/><circle cx="245.4" cy="32.0" r="2.2" class="e"/><circle cx="249.5" cy="32.0" r="2.2"/><circle cx="253.5" cy="32.0" r="2.2"/><circle cx="257.6" cy="32.0" r="2.2"/><circle cx="261.6" cy="32.0" r="2.2"/><circle cx="265.6" cy="32.0" r="2.2"/><circle cx="269.7" cy="32.0" r="2.2"/><circle cx="273.7" cy="32.0" r="2.2" class="e"/><circle cx="277.8" cy="32.0" r="2.2" class="e"/><circle cx="281.8" cy="32.0" r="2.2"/><circle cx="285.9" cy="32.0" r="2.2"/><circle cx="289.9" cy="32.0" r="2.2"/><circle cx="294.0" cy="32.0" r="2.2" class="e"/><circle cx="298.0" cy="32.0" r="2.2"/><circle cx="302.1" cy="32.0" r="2.2"/><circle cx="306.1" cy="32.0" r="2.2"/><circle cx="310.2" cy="32.0" r="2.2"/><circle cx="314.2" cy="32.0" r="2.2"/><circle cx="318.3" cy="32.0" r="2.2"/><circle cx="322.3" cy="32.0" r="2.2"/><circle cx="326.4" cy="32.0" r="2.2"/><circle cx="330.4" cy="32.0" r="2.2"/><circle cx="334.4" cy="32.0" r="2.2" class="e"/><circle cx="338.5" cy="32.0" r="2.2"/><circle cx="342.5" cy="32.0" r="2.2"/><circle cx="346.6" cy="32.0" r="2.2"/><circle cx="350.6" cy="32.0" r="2.2" class="e"/><circle cx="187.1" cy="35.2" r="2.2"/><circle cx="191.2" cy="35.2" r="2.2"/><circle cx="195.3" cy="35.2" r="2.2"/><circle cx="199.4" cy="35.2" r="2.2"/><circle cx="203.5" cy="35.2" r="2.2"/><circle cx="207.6" cy="35.2" r="2.2"/><circle cx="211.7" cy="35.2" r="2.2"/><circle cx="215.8" cy="35.2" r="2.2"/><circle cx="219.9" cy="35.2" r="2.2"/><circle cx="224.0" cy="35.2" r="2.2"/><circle cx="228.1" cy="35.2" r="2.2"/><circle cx="232.1" cy="35.2" r="2.2"/><circle cx="236.2" cy="35.2" r="2.2"/><circle cx="240.3" cy="35.2" r="2.2"/><circle cx="244.4" cy="35.2" r="2.2"/><circle cx="248.5" cy="35.2" r="2.2"/><circle cx="252.6" cy="35.2" r="2.2"/><circle cx="256.7" cy="35.2" r="2.2"/><circle cx="260.8" cy="35.2" r="2.2"/><circle cx="264.9" cy="35.2" r="2.2"/><circle cx="269.0" cy="35.2" r="2.2"/><circle cx="273.1" cy="35.2" r="2.2"/><circle cx="277.2" cy="35.2" r="2.2"/><circle cx="281.3" cy="35.2" r="2.2"/><circle cx="285.4" cy="35.2" r="2.2"/><circle cx="289.5" cy="35.2" r="2.2"/><circle cx="293.6" cy="35.2" r="2.2" class="e"/><circle cx="297.7" cy="35.2" r="2.2"/><circle cx="301.8" cy="35.2" r="2.2"/><circle cx="305.9" cy="35.2" r="2.2" class="e"/><circle cx="310.0" cy="35.2" r="2.2"/><circle cx="314.1" cy="35.2" r="2.2"/><circle cx="318.1" cy="35.2" r="2.2"/><circle cx="322.2" cy="35.2" r="2.2"/><circle cx="326.3" cy="35.2" r="2.2"/><circle cx="330.4" cy="35.2" r="2.2"/><circle cx="334.5" cy="35.2" r="2.2"/><circle cx="338.6" cy="35.2" r="2.2"/><circle cx="342.7" cy="35.2" r="2.2"/><circle cx="346.8" cy="35.2" r="2.2"/><circle cx="350.9" cy="35.2" r="2.2"/><circle cx="355.0" cy="35.2" r="2.2"/><circle cx="181.4" cy="38.5" r="2.2"/><circle cx="185.6" cy="38.5" r="2.2"/><circle cx="189.7" cy="38.5" r="2.2"/><circle cx="193.9" cy="38.5" r="2.2"/><circle cx="198.0" cy="38.5" r="2.2"/><circle cx="202.1" cy="38.5" r="2.2"/><circle cx="206.3" cy="38.5" r="2.2"/><circle cx="210.4" cy="38.5" r="2.2"/><circle cx="214.6" cy="38.5" r="2.2"/><circle cx="218.7" cy="38.5" r="2.2"/><circle cx="222.9" cy="38.5" r="2.2"/><circle cx="227.0" cy="38.5" r="2.2" class="e"/><circle cx="231.1" cy="38.5" r="2.2"/><circle cx="235.3" cy="38.5" r="2.2"/><circle cx="239.4" cy="38.5" r="2.2"/><circle cx="243.6" cy="38.5" r="2.2"/><circle cx="247.7" cy="38.5" r="2.2"/><circle cx="251.9" cy="38.5" r="2.2"/><circle cx="256.0" cy="38.5" r="2.2"/><circle cx="260.2" cy="38.5" r="2.2"/><circle cx="264.3" cy="38.5" r="2.2"/><circle cx="268.4" cy="38.5" r="2.2"/><circle cx="272.6" cy="38.5" r="2.2"/><circle cx="276.7" cy="38.5" r="2.2"/><circle cx="280.9" cy="38.5" r="2.2"/><circle cx="285.0" cy="38.5" r="2.2"/><circle cx="289.2" cy="38.5" r="2.2"/><circle cx="293.3" cy="38.5" r="2.2"/><circle cx="297.4" cy="38.5" r="2.2"/><circle cx="301.6" cy="38.5" r="2.2"/><circle cx="305.7" cy="38.5" r="2.2"/><circle cx="309.9" cy="38.5" r="2.2"/><circle cx="314.0" cy="38.5" r="2.2"/><circle cx="318.2" cy="38.5" r="2.2"/><circle cx="322.3" cy="38.5" r="2.2"/><circle cx="326.4" cy="38.5" r="2.2"/><circle cx="330.6" cy="38.5" r="2.2"/><circle cx="334.7" cy="38.5" r="2.2"/><circle cx="338.9" cy="38.5" r="2.2"/><circle cx="343.0" cy="38.5" r="2.2"/><circle cx="347.2" cy="38.5" r="2.2"/><circle cx="351.3" cy="38.5" r="2.2"/><circle cx="355.5" cy="38.5" r="2.2"/><circle cx="179.4" cy="41.8" r="2.3"/><circle cx="183.5" cy="41.8" r="2.3"/><circle cx="187.7" cy="41.8" r="2.3"/><circle cx="191.9" cy="41.8" r="2.3"/><circle cx="196.1" cy="41.8" r="2.3"/><circle cx="200.3" cy="41.8" r="2.3"/><circle cx="204.5" cy="41.8" r="2.3"/><circle cx="208.7" cy="41.8" r="2.3"/><circle cx="212.9" cy="41.8" r="2.3"/><circle cx="217.1" cy="41.8" r="2.3"/><circle cx="221.3" cy="41.8" r="2.3"/><circle cx="225.5" cy="41.8" r="2.3"/><circle cx="229.7" cy="41.8" r="2.3"/><circle cx="233.9" cy="41.8" r="2.3"/><circle cx="238.1" cy="41.8" r="2.3"/><circle cx="242.2" cy="41.8" r="2.3"/><circle cx="246.4" cy="41.8" r="2.3"/><circle cx="250.6" cy="41.8" r="2.3"/><circle cx="254.8" cy="41.8" r="2.3"/><circle cx="259.0" cy="41.8" r="2.3"/><circle cx="263.2" cy="41.8" r="2.3"/><circle cx="267.4" cy="41.8" r="2.3"/><circle cx="271.6" cy="41.8" r="2.3"/><circle cx="275.8" cy="41.8" r="2.3" class="e"/><circle cx="280.0" cy="41.8" r="2.3"/><circle cx="284.2" cy="41.8" r="2.3"/><circle cx="288.4" cy="41.8" r="2.3"/><circle cx="292.6" cy="41.8" r="2.3"/><circle cx="296.7" cy="41.8" r="2.3"/><circle cx="300.9" cy="41.8" r="2.3"/><circle cx="305.1" cy="41.8" r="2.3"/><circle cx="309.3" cy="41.8" r="2.3"/><circle cx="313.5" cy="41.8" r="2.3"/><circle cx="317.7" cy="41.8" r="2.3"/><circle cx="321.9" cy="41.8" r="2.3"/><circle cx="326.1" cy="41.8" r="2.3"/><circle cx="330.3" cy="41.8" r="2.3"/><circle cx="334.5" cy="41.8" r="2.3"/><circle cx="338.7" cy="41.8" r="2.3" class="e"/><circle cx="342.9" cy="41.8" r="2.3"/><circle cx="347.1" cy="41.8" r="2.3"/><circle cx="351.2" cy="41.8" r="2.3"/><circle cx="355.4" cy="41.8" r="2.3"/><circle cx="359.6" cy="41.8" r="2.3" class="e"/><circle cx="173.0" cy="45.2" r="2.3"/><circle cx="177.2" cy="45.2" r="2.3"/><circle cx="181.5" cy="45.2" r="2.3"/><circle cx="185.7" cy="45.2" r="2.3"/><circle cx="190.0" cy="45.2" r="2.3"/><circle cx="194.2" cy="45.2" r="2.3"/><circle cx="198.4" cy="45.2" r="2.3" class="e"/><circle cx="202.7" cy="45.2" r="2.3"/><circle cx="206.9" cy="45.2" r="2.3"/><circle cx="211.2" cy="45.2" r="2.3"/><circle cx="215.4" cy="45.2" r="2.3"/><circle cx="219.7" cy="45.2" r="2.3"/><circle cx="223.9" cy="45.2" r="2.3"/><circle cx="228.1" cy="45.2" r="2.3"/><circle cx="232.4" cy="45.2" r="2.3" class="e"/><circle cx="236.6" cy="45.2" r="2.3"/><circle cx="240.9" cy="45.2" r="2.3"/><circle cx="245.1" cy="45.2" r="2.3"/><circle cx="249.3" cy="45.2" r="2.3"/><circle cx="253.6" cy="45.2" r="2.3"/><circle cx="257.8" cy="45.2" r="2.3"/><circle cx="262.1" cy="45.2" r="2.3"/><circle cx="266.3" cy="45.2" r="2.3"/><circle cx="270.6" cy="45.2" r="2.3"/><circle cx="274.8" cy="45.2" r="2.3"/><circle cx="279.0" cy="45.2" r="2.3"/><circle cx="283.3" cy="45.2" r="2.3"/><circle cx="287.5" cy="45.2" r="2.3"/><circle cx="291.8" cy="45.2" r="2.3"/><circle cx="296.0" cy="45.2" r="2.3"/><circle cx="300.3" cy="45.2" r="2.3"/><circle cx="304.5" cy="45.2" r="2.3"/><circle cx="308.7" cy="45.2" r="2.3"/><circle cx="313.0" cy="45.2" r="2.3"/><circle cx="317.2" cy="45.2" r="2.3"/><circle cx="321.5" cy="45.2" r="2.3"/><circle cx="325.7" cy="45.2" r="2.3"/><circle cx="329.9" cy="45.2" r="2.3"/><circle cx="334.2" cy="45.2" r="2.3" class="e"/><circle cx="338.4" cy="45.2" r="2.3"/><circle cx="342.7" cy="45.2" r="2.3"/><circle cx="346.9" cy="45.2" r="2.3" class="g"/><circle cx="351.2" cy="45.2" r="2.3" class="g"/><circle cx="355.4" cy="45.2" r="2.3"/><circle cx="359.6" cy="45.2" r="2.3"/><circle cx="363.9" cy="45.2" r="2.3"/><circle cx="171.0" cy="48.6" r="2.3"/><circle cx="175.2" cy="48.6" r="2.3"/><circle cx="179.5" cy="48.6" r="2.3" class="e"/><circle cx="183.8" cy="48.6" r="2.3"/><circle cx="188.1" cy="48.6" r="2.3" class="e"/><circle cx="192.4" cy="48.6" r="2.3" class="g"/><circle cx="196.7" cy="48.6" r="2.3" class="g"/><circle cx="201.0" cy="48.6" r="2.3"/><circle cx="205.3" cy="48.6" r="2.3"/><circle cx="209.6" cy="48.6" r="2.3"/><circle cx="213.9" cy="48.6" r="2.3"/><circle cx="218.2" cy="48.6" r="2.3"/><circle cx="222.5" cy="48.6" r="2.3"/><circle cx="226.8" cy="48.6" r="2.3"/><circle cx="231.0" cy="48.6" r="2.3"/><circle cx="235.3" cy="48.6" r="2.3"/><circle cx="239.6" cy="48.6" r="2.3"/><circle cx="243.9" cy="48.6" r="2.3" class="g"/><circle cx="248.2" cy="48.6" r="2.3" class="g"/><circle cx="252.5" cy="48.6" r="2.3" class="g"/><circle cx="256.8" cy="48.6" r="2.3"/><circle cx="261.1" cy="48.6" r="2.3"/><circle cx="265.4" cy="48.6" r="2.3"/><circle cx="269.7" cy="48.6" r="2.3"/><circle cx="274.0" cy="48.6" r="2.3" class="e"/><circle cx="278.3" cy="48.6" r="2.3"/><circle cx="282.6" cy="48.6" r="2.3"/><circle cx="286.8" cy="48.6" r="2.3"/><circle cx="291.1" cy="48.6" r="2.3"/><circle cx="295.4" cy="48.6" r="2.3" class="e"/><circle cx="299.7" cy="48.6" r="2.3"/><circle cx="304.0" cy="48.6" r="2.3"/><circle cx="308.3" cy="48.6" r="2.3"/><circle cx="312.6" cy="48.6" r="2.3"/><circle cx="316.9" cy="48.6" r="2.3"/><circle cx="321.2" cy="48.6" r="2.3"/><circle cx="325.5" cy="48.6" r="2.3"/><circle cx="329.8" cy="48.6" r="2.3"/><circle cx="334.1" cy="48.6" r="2.3"/><circle cx="338.4" cy="48.6" r="2.3"/><circle cx="342.6" cy="48.6" r="2.3"/><circle cx="346.9" cy="48.6" r="2.3"/><circle cx="351.2" cy="48.6" r="2.3" class="f"/><circle cx="355.5" cy="48.6" r="2.3" class="g"/><circle cx="359.8" cy="48.6" r="2.3"/><circle cx="364.1" cy="48.6" r="2.3"/><circle cx="368.4" cy="48.6" r="2.3"/><circle cx="173.5" cy="52.0" r="2.3"/><circle cx="177.9" cy="52.0" r="2.3"/><circle cx="182.2" cy="52.0" r="2.3"/><circle cx="186.6" cy="52.0" r="2.3"/><circle cx="190.9" cy="52.0" r="2.3" class="g"/><circle cx="195.3" cy="52.0" r="2.3" class="f"/><circle cx="199.6" cy="52.0" r="2.3" class="g"/><circle cx="203.9" cy="52.0" r="2.3"/><circle cx="208.3" cy="52.0" r="2.3"/><circle cx="212.6" cy="52.0" r="2.3"/><circle cx="217.0" cy="52.0" r="2.3"/><circle cx="221.3" cy="52.0" r="2.3"/><circle cx="225.7" cy="52.0" r="2.3"/><circle cx="230.0" cy="52.0" r="2.3"/><circle cx="234.3" cy="52.0" r="2.3"/><circle cx="238.7" cy="52.0" r="2.3"/><circle cx="243.0" cy="52.0" r="2.3" class="g"/><circle cx="247.4" cy="52.0" r="2.3" class="f"/><circle cx="251.7" cy="52.0" r="2.3"/><circle cx="256.1" cy="52.0" r="2.3" class="g"/><circle cx="260.4" cy="52.0" r="2.3"/><circle cx="264.7" cy="52.0" r="2.3"/><circle cx="269.1" cy="52.0" r="2.3"/><circle cx="273.4" cy="52.0" r="2.3"/><circle cx="277.8" cy="52.0" r="2.3"/><circle cx="282.1" cy="52.0" r="2.3"/><circle cx="286.5" cy="52.0" r="2.3"/><circle cx="290.8" cy="52.0" r="2.3"/><circle cx="295.1" cy="52.0" r="2.3"/><circle cx="299.5" cy="52.0" r="2.3"/><circle cx="303.8" cy="52.0" r="2.3"/><circle cx="308.2" cy="52.0" r="2.3"/><circle cx="312.5" cy="52.0" r="2.3"/><circle cx="316.9" cy="52.0" r="2.3"/><circle cx="321.2" cy="52.0" r="2.3"/><circle cx="325.5" cy="52.0" r="2.3"/><circle cx="329.9" cy="52.0" r="2.3"/><circle cx="334.2" cy="52.0" r="2.3"/><circle cx="338.6" cy="52.0" r="2.3"/><circle cx="342.9" cy="52.0" r="2.3"/><circle cx="347.3" cy="52.0" r="2.3" class="g"/><circle cx="351.6" cy="52.0" r="2.3" class="g"/><circle cx="355.9" cy="52.0" r="2.3"/><circle cx="360.3" cy="52.0" r="2.3"/><circle cx="364.6" cy="52.0" r="2.3"/><circle cx="369.0" cy="52.0" r="2.3"/><circle cx="171.6" cy="55.5" r="2.4"/><circle cx="176.0" cy="55.5" r="2.4"/><circle cx="180.4" cy="55.5" r="2.4"/><circle cx="184.8" cy="55.5" r="2.4"/><circle cx="189.2" cy="55.5" r="2.4"/><circle cx="193.6" cy="55.5" r="2.4" class="g"/><circle cx="198.0" cy="55.5" r="2.4"/><circle cx="202.4" cy="55.5" r="2.4"/><circle cx="206.8" cy="55.5" r="2.4"/><circle cx="211.2" cy="55.5" r="2.4"/><circle cx="215.6" cy="55.5" r="2.4"/><circle cx="220.0" cy="55.5" r="2.4"/><circle cx="224.4" cy="55.5" r="2.4"/><circle cx="228.8" cy="55.5" r="2.4"/><circle cx="233.1" cy="55.5" r="2.4"/><circle cx="237.5" cy="55.5" r="2.4"/><circle cx="241.9" cy="55.5" r="2.4"/><circle cx="246.3" cy="55.5" r="2.4" class="g"/><circle cx="250.7" cy="55.5" r="2.4" class="g"/><circle cx="255.1" cy="55.5" r="2.4"/><circle cx="259.5" cy="55.5" r="2.4"/><circle cx="263.9" cy="55.5" r="2.4"/><circle cx="268.3" cy="55.5" r="2.4"/><circle cx="272.7" cy="55.5" r="2.4"/><circle cx="277.1" cy="55.5" r="2.4"/><circle cx="281.5" cy="55.5" r="2.4"/><circle cx="285.9" cy="55.5" r="2.4"/><circle cx="290.3" cy="55.5" r="2.4"/><circle cx="294.7" cy="55.5" r="2.4"/><circle cx="299.1" cy="55.5" r="2.4"/><circle cx="303.5" cy="55.5" r="2.4"/><circle cx="307.9" cy="55.5" r="2.4" class="g"/><circle cx="312.2" cy="55.5" r="2.4"/><circle cx="316.6" cy="55.5" r="2.4"/><circle cx="321.0" cy="55.5" r="2.4"/><circle cx="325.4" cy="55.5" r="2.4"/><circle cx="329.8" cy="55.5" r="2.4"/><circle cx="334.2" cy="55.5" r="2.4"/><circle cx="338.6" cy="55.5" r="2.4"/><circle cx="343.0" cy="55.5" r="2.4"/><circle cx="347.4" cy="55.5" r="2.4"/><circle cx="351.8" cy="55.5" r="2.4"/><circle cx="356.2" cy="55.5" r="2.4"/><circle cx="360.6" cy="55.5" r="2.4"/><circle cx="365.0" cy="55.5" r="2.4"/><circle cx="369.4" cy="55.5" r="2.4"/><circle cx="373.8" cy="55.5" r="2.4"/><circle cx="173.8" cy="59.0" r="2.4"/><circle cx="178.2" cy="59.0" r="2.4" class="e"/><circle cx="182.7" cy="59.0" r="2.4"/><circle cx="187.1" cy="59.0" r="2.4"/><circle cx="191.6" cy="59.0" r="2.4"/><circle cx="196.0" cy="59.0" r="2.4"/><circle cx="200.5" cy="59.0" r="2.4"/><circle cx="204.9" cy="59.0" r="2.4"/><circle cx="209.3" cy="59.0" r="2.4"/><circle cx="213.8" cy="59.0" r="2.4"/><circle cx="218.2" cy="59.0" r="2.4"/><circle cx="222.7" cy="59.0" r="2.4"/><circle cx="227.1" cy="59.0" r="2.4"/><circle cx="231.6" cy="59.0" r="2.4"/><circle cx="236.0" cy="59.0" r="2.4"/><circle cx="240.5" cy="59.0" r="2.4"/><circle cx="244.9" cy="59.0" r="2.4"/><circle cx="249.4" cy="59.0" r="2.4"/><circle cx="253.8" cy="59.0" r="2.4"/><circle cx="258.3" cy="59.0" r="2.4"/><circle cx="262.7" cy="59.0" r="2.4"/><circle cx="267.1" cy="59.0" r="2.4"/><circle cx="271.6" cy="59.0" r="2.4"/><circle cx="276.0" cy="59.0" r="2.4"/><circle cx="280.5" cy="59.0" r="2.4"/><circle cx="284.9" cy="59.0" r="2.4"/><circle cx="289.4" cy="59.0" r="2.4"/><circle cx="293.8" cy="59.0" r="2.4"/><circle cx="298.3" cy="59.0" r="2.4" class="g"/><circle cx="302.7" cy="59.0" r="2.4" class="e"/><circle cx="307.2" cy="59.0" r="2.4" class="e"/><circle cx="311.6" cy="59.0" r="2.4" class="g"/><circle cx="316.1" cy="59.0" r="2.4"/><circle cx="320.5" cy="59.0" r="2.4"/><circle cx="324.9" cy="59.0" r="2.4" class="e"/><circle cx="329.4" cy="59.0" r="2.4"/><circle cx="333.8" cy="59.0" r="2.4"/><circle cx="338.3" cy="59.0" r="2.4"/><circle cx="342.7" cy="59.0" r="2.4"/><circle cx="347.2" cy="59.0" r="2.4"/><circle cx="351.6" cy="59.0" r="2.4"/><circle cx="356.1" cy="59.0" r="2.4"/><circle cx="360.5" cy="59.0" r="2.4"/><circle cx="365.0" cy="59.0" r="2.4"/><circle cx="369.4" cy="59.0" r="2.4"/><circle cx="373.9" cy="59.0" r="2.4"/><circle cx="378.3" cy="59.0" r="2.4"/><circle cx="175.9" cy="62.5" r="2.4"/><circle cx="180.4" cy="62.5" r="2.4"/><circle cx="184.9" cy="62.5" r="2.4"/><circle cx="189.4" cy="62.5" r="2.4"/><circle cx="193.9" cy="62.5" r="2.4"/><circle cx="198.4" cy="62.5" r="2.4"/><circle cx="202.9" cy="62.5" r="2.4"/><circle cx="207.4" cy="62.5" r="2.4"/><circle cx="211.9" cy="62.5" r="2.4" class="e"/><circle cx="216.4" cy="62.5" r="2.4"/><circle cx="220.9" cy="62.5" r="2.4"/><circle cx="225.4" cy="62.5" r="2.4"/><circle cx="229.9" cy="62.5" r="2.4"/><circle cx="234.4" cy="62.5" r="2.4"/><circle cx="238.9" cy="62.5" r="2.4"/><circle cx="243.4" cy="62.5" r="2.4"/><circle cx="247.9" cy="62.5" r="2.4"/><circle cx="252.4" cy="62.5" r="2.4"/><circle cx="256.9" cy="62.5" r="2.4" class="e"/><circle cx="261.4" cy="62.5" r="2.4"/><circle cx="265.9" cy="62.5" r="2.4"/><circle cx="270.4" cy="62.5" r="2.4"/><circle cx="274.9" cy="62.5" r="2.4"/><circle cx="279.4" cy="62.5" r="2.4"/><circle cx="283.9" cy="62.5" r="2.4"/><circle cx="288.4" cy="62.5" r="2.4"/><circle cx="292.9" cy="62.5" r="2.4"/><circle cx="297.4" cy="62.5" r="2.4"/><circle cx="301.9" cy="62.5" r="2.4" class="g"/><circle cx="306.4" cy="62.5" r="2.4" class="g"/><circle cx="310.9" cy="62.5" r="2.4"/><circle cx="315.4" cy="62.5" r="2.4"/><circle cx="319.9" cy="62.5" r="2.4"/><circle cx="324.4" cy="62.5" r="2.4"/><circle cx="328.9" cy="62.5" r="2.4"/><circle cx="333.4" cy="62.5" r="2.4"/><circle cx="337.9" cy="62.5" r="2.4"/><circle cx="342.4" cy="62.5" r="2.4"/><circle cx="346.9" cy="62.5" r="2.4"/><circle cx="351.4" cy="62.5" r="2.4"/><circle cx="355.9" cy="62.5" r="2.4"/><circle cx="360.4" cy="62.5" r="2.4"/><circle cx="364.9" cy="62.5" r="2.4"/><circle cx="369.4" cy="62.5" r="2.4"/><circle cx="373.9" cy="62.5" r="2.4" class="e"/><circle cx="378.4" cy="62.5" r="2.4"/><circle cx="173.7" cy="66.1" r="2.5"/><circle cx="178.3" cy="66.1" r="2.5"/><circle cx="182.8" cy="66.1" r="2.5" class="e"/><circle cx="187.4" cy="66.1" r="2.5"/><circle cx="192.0" cy="66.1" r="2.5"/><circle cx="196.5" cy="66.1" r="2.5"/><circle cx="201.1" cy="66.1" r="2.5"/><circle cx="205.6" cy="66.1" r="2.5"/><circle cx="210.2" cy="66.1" r="2.5"/><circle cx="214.7" cy="66.1" r="2.5"/><circle cx="219.3" cy="66.1" r="2.5"/><circle cx="223.8" cy="66.1" r="2.5"/><circle cx="228.4" cy="66.1" r="2.5"/><circle cx="232.9" cy="66.1" r="2.5"/><circle cx="237.5" cy="66.1" r="2.5"/><circle cx="242.0" cy="66.1" r="2.5"/><circle cx="246.6" cy="66.1" r="2.5"/><circle cx="251.1" cy="66.1" r="2.5"/><circle cx="255.7" cy="66.1" r="2.5"/><circle cx="260.2" cy="66.1" r="2.5"/><circle cx="264.8" cy="66.1" r="2.5"/><circle cx="269.3" cy="66.1" r="2.5"/><circle cx="273.9" cy="66.1" r="2.5"/><circle cx="278.4" cy="66.1" r="2.5"/><circle cx="283.0" cy="66.1" r="2.5"/><circle cx="287.5" cy="66.1" r="2.5"/><circle cx="292.1" cy="66.1" r="2.5"/><circle cx="296.7" cy="66.1" r="2.5"/><circle cx="301.2" cy="66.1" r="2.5"/><circle cx="305.8" cy="66.1" r="2.5"/><circle cx="310.3" cy="66.1" r="2.5"/><circle cx="314.9" cy="66.1" r="2.5" class="e"/><circle cx="319.4" cy="66.1" r="2.5"/><circle cx="324.0" cy="66.1" r="2.5"/><circle cx="328.5" cy="66.1" r="2.5"/><circle cx="333.1" cy="66.1" r="2.5" class="e"/><circle cx="337.6" cy="66.1" r="2.5"/><circle cx="342.2" cy="66.1" r="2.5"/><circle cx="346.7" cy="66.1" r="2.5"/><circle cx="351.3" cy="66.1" r="2.5"/><circle cx="355.8" cy="66.1" r="2.5"/><circle cx="360.4" cy="66.1" r="2.5"/><circle cx="364.9" cy="66.1" r="2.5"/><circle cx="369.5" cy="66.1" r="2.5" class="e"/><circle cx="374.0" cy="66.1" r="2.5"/><circle cx="378.6" cy="66.1" r="2.5"/><circle cx="383.1" cy="66.1" r="2.5"/><circle cx="176.3" cy="69.8" r="2.5" class="e"/><circle cx="180.9" cy="69.8" r="2.5"/><circle cx="185.5" cy="69.8" r="2.5"/><circle cx="190.2" cy="69.8" r="2.5"/><circle cx="194.8" cy="69.8" r="2.5" class="e"/><circle cx="199.4" cy="69.8" r="2.5"/><circle cx="204.0" cy="69.8" r="2.5"/><circle cx="208.6" cy="69.8" r="2.5"/><circle cx="213.2" cy="69.8" r="2.5"/><circle cx="217.8" cy="69.8" r="2.5"/><circle cx="222.4" cy="69.8" r="2.5"/><circle cx="227.0" cy="69.8" r="2.5"/><circle cx="231.6" cy="69.8" r="2.5"/><circle cx="236.2" cy="69.8" r="2.5"/><circle cx="240.8" cy="69.8" r="2.5"/><circle cx="245.4" cy="69.8" r="2.5"/><circle cx="250.0" cy="69.8" r="2.5"/><circle cx="254.6" cy="69.8" r="2.5"/><circle cx="259.2" cy="69.8" r="2.5"/><circle cx="263.8" cy="69.8" r="2.5"/><circle cx="268.5" cy="69.8" r="2.5"/><circle cx="273.1" cy="69.8" r="2.5"/><circle cx="277.7" cy="69.8" r="2.5"/><circle cx="282.3" cy="69.8" r="2.5"/><circle cx="286.9" cy="69.8" r="2.5"/><circle cx="291.5" cy="69.8" r="2.5"/><circle cx="296.1" cy="69.8" r="2.5"/><circle cx="300.7" cy="69.8" r="2.5"/><circle cx="305.3" cy="69.8" r="2.5"/><circle cx="309.9" cy="69.8" r="2.5"/><circle cx="314.5" cy="69.8" r="2.5"/><circle cx="319.1" cy="69.8" r="2.5"/><circle cx="323.7" cy="69.8" r="2.5"/><circle cx="328.3" cy="69.8" r="2.5"/><circle cx="332.9" cy="69.8" r="2.5"/><circle cx="337.5" cy="69.8" r="2.5"/><circle cx="342.2" cy="69.8" r="2.5"/><circle cx="346.8" cy="69.8" r="2.5"/><circle cx="351.4" cy="69.8" r="2.5"/><circle cx="356.0" cy="69.8" r="2.5"/><circle cx="360.6" cy="69.8" r="2.5" class="e"/><circle cx="365.2" cy="69.8" r="2.5"/><circle cx="369.8" cy="69.8" r="2.5"/><circle cx="374.4" cy="69.8" r="2.5"/><circle cx="379.0" cy="69.8" r="2.5" class="e"/><circle cx="178.8" cy="73.5" r="2.5"/><circle cx="183.4" cy="73.5" r="2.5"/><circle cx="188.1" cy="73.5" r="2.5"/><circle cx="192.7" cy="73.5" r="2.5"/><circle cx="197.4" cy="73.5" r="2.5"/><circle cx="202.1" cy="73.5" r="2.5"/><circle cx="206.7" cy="73.5" r="2.5"/><circle cx="211.4" cy="73.5" r="2.5"/><circle cx="216.0" cy="73.5" r="2.5"/><circle cx="220.7" cy="73.5" r="2.5"/><circle cx="225.4" cy="73.5" r="2.5"/><circle cx="230.0" cy="73.5" r="2.5"/><circle cx="234.7" cy="73.5" r="2.5"/><circle cx="239.4" cy="73.5" r="2.5"/><circle cx="244.0" cy="73.5" r="2.5"/><circle cx="248.7" cy="73.5" r="2.5"/><circle cx="253.3" cy="73.5" r="2.5"/><circle cx="258.0" cy="73.5" r="2.5"/><circle cx="262.7" cy="73.5" r="2.5"/><circle cx="267.3" cy="73.5" r="2.5"/><circle cx="272.0" cy="73.5" r="2.5" class="e"/><circle cx="276.6" cy="73.5" r="2.5"/><circle cx="281.3" cy="73.5" r="2.5"/><circle cx="286.0" cy="73.5" r="2.5"/><circle cx="290.6" cy="73.5" r="2.5"/><circle cx="295.3" cy="73.5" r="2.5"/><circle cx="299.9" cy="73.5" r="2.5"/><circle cx="304.6" cy="73.5" r="2.5" class="e"/><circle cx="309.3" cy="73.5" r="2.5"/><circle cx="313.9" cy="73.5" r="2.5"/><circle cx="318.6" cy="73.5" r="2.5"/><circle cx="323.2" cy="73.5" r="2.5"/><circle cx="327.9" cy="73.5" r="2.5"/><circle cx="332.6" cy="73.5" r="2.5"/><circle cx="337.2" cy="73.5" r="2.5"/><circle cx="341.9" cy="73.5" r="2.5" class="e"/><circle cx="346.5" cy="73.5" r="2.5"/><circle cx="351.2" cy="73.5" r="2.5"/><circle cx="355.9" cy="73.5" r="2.5" class="e"/><circle cx="360.5" cy="73.5" r="2.5"/><circle cx="365.2" cy="73.5" r="2.5"/><circle cx="369.8" cy="73.5" r="2.5"/><circle cx="374.5" cy="73.5" r="2.5"/><circle cx="177.0" cy="77.2" r="2.5"/><circle cx="181.7" cy="77.2" r="2.5"/><circle cx="186.4" cy="77.2" r="2.5"/><circle cx="191.2" cy="77.2" r="2.5"/><circle cx="195.9" cy="77.2" r="2.5"/><circle cx="200.6" cy="77.2" r="2.5"/><circle cx="205.3" cy="77.2" r="2.5"/><circle cx="210.0" cy="77.2" r="2.5"/><circle cx="214.7" cy="77.2" r="2.5"/><circle cx="219.4" cy="77.2" r="2.5"/><circle cx="224.2" cy="77.2" r="2.5"/><circle cx="228.9" cy="77.2" r="2.5"/><circle cx="233.6" cy="77.2" r="2.5"/><circle cx="238.3" cy="77.2" r="2.5"/><circle cx="243.0" cy="77.2" r="2.5"/><circle cx="247.7" cy="77.2" r="2.5"/><circle cx="252.5" cy="77.2" r="2.5"/><circle cx="257.2" cy="77.2" r="2.5"/><circle cx="261.9" cy="77.2" r="2.5"/><circle cx="266.6" cy="77.2" r="2.5"/><circle cx="271.3" cy="77.2" r="2.5"/><circle cx="276.0" cy="77.2" r="2.5"/><circle cx="280.8" cy="77.2" r="2.5" class="e"/><circle cx="285.5" cy="77.2" r="2.5"/><circle cx="290.2" cy="77.2" r="2.5"/><circle cx="294.9" cy="77.2" r="2.5"/><circle cx="299.6" cy="77.2" r="2.5"/><circle cx="304.3" cy="77.2" r="2.5"/><circle cx="309.0" cy="77.2" r="2.5"/><circle cx="313.8" cy="77.2" r="2.5"/><circle cx="318.5" cy="77.2" r="2.5"/><circle cx="323.2" cy="77.2" r="2.5"/><circle cx="327.9" cy="77.2" r="2.5" class="e"/><circle cx="332.6" cy="77.2" r="2.5"/><circle cx="337.3" cy="77.2" r="2.5"/><circle cx="342.1" cy="77.2" r="2.5"/><circle cx="346.8" cy="77.2" r="2.5" class="e"/><circle cx="351.5" cy="77.2" r="2.5"/><circle cx="356.2" cy="77.2" r="2.5"/><circle cx="360.9" cy="77.2" r="2.5"/><circle cx="365.6" cy="77.2" r="2.5"/><circle cx="370.4" cy="77.2" r="2.5" class="e"/><circle cx="179.2" cy="81.0" r="2.6"/><circle cx="184.0" cy="81.0" r="2.6"/><circle cx="188.8" cy="81.0" r="2.6"/><circle cx="193.6" cy="81.0" r="2.6"/><circle cx="198.3" cy="81.0" r="2.6" class="e"/><circle cx="203.1" cy="81.0" r="2.6"/><circle cx="207.9" cy="81.0" r="2.6"/><circle cx="212.6" cy="81.0" r="2.6"/><circle cx="217.4" cy="81.0" r="2.6" class="e"/><circle cx="222.2" cy="81.0" r="2.6" class="e"/><circle cx="227.0" cy="81.0" r="2.6"/><circle cx="231.7" cy="81.0" r="2.6"/><circle cx="236.5" cy="81.0" r="2.6"/><circle cx="241.3" cy="81.0" r="2.6"/><circle cx="246.0" cy="81.0" r="2.6"/><circle cx="250.8" cy="81.0" r="2.6"/><circle cx="255.6" cy="81.0" r="2.6"/><circle cx="260.4" cy="81.0" r="2.6"/><circle cx="265.1" cy="81.0" r="2.6"/><circle cx="269.9" cy="81.0" r="2.6"/><circle cx="274.7" cy="81.0" r="2.6"/><circle cx="279.4" cy="81.0" r="2.6"/><circle cx="284.2" cy="81.0" r="2.6"/><circle cx="289.0" cy="81.0" r="2.6"/><circle cx="293.8" cy="81.0" r="2.6"/><circle cx="298.5" cy="81.0" r="2.6"/><circle cx="303.3" cy="81.0" r="2.6"/><circle cx="308.1" cy="81.0" r="2.6"/><circle cx="312.8" cy="81.0" r="2.6"/><circle cx="317.6" cy="81.0" r="2.6"/><circle cx="322.4" cy="81.0" r="2.6"/><circle cx="327.2" cy="81.0" r="2.6"/><circle cx="331.9" cy="81.0" r="2.6"/><circle cx="336.7" cy="81.0" r="2.6"/><circle cx="341.5" cy="81.0" r="2.6"/><circle cx="346.2" cy="81.0" r="2.6"/><circle cx="351.0" cy="81.0" r="2.6"/><circle cx="355.8" cy="81.0" r="2.6" class="e"/><circle cx="360.6" cy="81.0" r="2.6"/><circle cx="365.3" cy="81.0" r="2.6"/><circle cx="182.1" cy="84.8" r="2.6"/><circle cx="187.0" cy="84.8" r="2.6"/><circle cx="191.8" cy="84.8" r="2.6"/><circle cx="196.6" cy="84.8" r="2.6"/><circle cx="201.5" cy="84.8" r="2.6"/><circle cx="206.3" cy="84.8" r="2.6"/><circle cx="211.1" cy="84.8" r="2.6" class="e"/><circle cx="215.9" cy="84.8" r="2.6"/><circle cx="220.8" cy="84.8" r="2.6" class="g"/><circle cx="225.6" cy="84.8" r="2.6"/><circle cx="230.4" cy="84.8" r="2.6"/><circle cx="235.3" cy="84.8" r="2.6"/><circle cx="240.1" cy="84.8" r="2.6"/><circle cx="244.9" cy="84.8" r="2.6"/><circle cx="249.7" cy="84.8" r="2.6"/><circle cx="254.6" cy="84.8" r="2.6"/><circle cx="259.4" cy="84.8" r="2.6"/><circle cx="264.2" cy="84.8" r="2.6"/><circle cx="269.1" cy="84.8" r="2.6"/><circle cx="273.9" cy="84.8" r="2.6"/><circle cx="278.7" cy="84.8" r="2.6"/><circle cx="283.5" cy="84.8" r="2.6" class="e"/><circle cx="288.4" cy="84.8" r="2.6"/><circle cx="293.2" cy="84.8" r="2.6"/><circle cx="298.0" cy="84.8" r="2.6"/><circle cx="302.8" cy="84.8" r="2.6"/><circle cx="307.7" cy="84.8" r="2.6"/><circle cx="312.5" cy="84.8" r="2.6"/><circle cx="317.3" cy="84.8" r="2.6"/><circle cx="322.2" cy="84.8" r="2.6"/><circle cx="327.0" cy="84.8" r="2.6"/><circle cx="331.8" cy="84.8" r="2.6"/><circle cx="336.6" cy="84.8" r="2.6"/><circle cx="341.5" cy="84.8" r="2.6"/><circle cx="346.3" cy="84.8" r="2.6"/><circle cx="351.1" cy="84.8" r="2.6"/><circle cx="356.0" cy="84.8" r="2.6"/><circle cx="360.8" cy="84.8" r="2.6"/><circle cx="184.3" cy="88.6" r="2.6"/><circle cx="189.2" cy="88.6" r="2.6"/><circle cx="194.1" cy="88.6" r="2.6"/><circle cx="199.0" cy="88.6" r="2.6"/><circle cx="203.9" cy="88.6" r="2.6"/><circle cx="208.7" cy="88.6" r="2.6"/><circle cx="213.6" cy="88.6" r="2.6" class="g"/><circle cx="218.5" cy="88.6" r="2.6" class="f"/><circle cx="223.4" cy="88.6" r="2.6" class="g"/><circle cx="228.3" cy="88.6" r="2.6"/><circle cx="233.2" cy="88.6" r="2.6"/><circle cx="238.1" cy="88.6" r="2.6"/><circle cx="242.9" cy="88.6" r="2.6"/><circle cx="247.8" cy="88.6" r="2.6"/><circle cx="252.7" cy="88.6" r="2.6"/><circle cx="257.6" cy="88.6" r="2.6"/><circle cx="262.5" cy="88.6" r="2.6"/><circle cx="267.4" cy="88.6" r="2.6"/><circle cx="272.2" cy="88.6" r="2.6"/><circle cx="277.1" cy="88.6" r="2.6"/><circle cx="282.0" cy="88.6" r="2.6" class="g"/><circle cx="286.9" cy="88.6" r="2.6" class="g"/><circle cx="291.8" cy="88.6" r="2.6"/><circle cx="296.7" cy="88.6" r="2.6" class="e"/><circle cx="301.6" cy="88.6" r="2.6"/><circle cx="306.4" cy="88.6" r="2.6"/><circle cx="311.3" cy="88.6" r="2.6"/><circle cx="316.2" cy="88.6" r="2.6"/><circle cx="321.1" cy="88.6" r="2.6"/><circle cx="326.0" cy="88.6" r="2.6"/><circle cx="330.9" cy="88.6" r="2.6"/><circle cx="335.8" cy="88.6" r="2.6"/><circle cx="340.6" cy="88.6" r="2.6"/><circle cx="345.5" cy="88.6" r="2.6"/><circle cx="350.4" cy="88.6" r="2.6" class="g"/><circle cx="355.3" cy="88.6" r="2.6" class="g"/><circle cx="360.2" cy="88.6" r="2.6"/><circle cx="182.1" cy="92.5" r="2.7"/><circle cx="187.0" cy="92.5" r="2.7"/><circle cx="192.0" cy="92.5" r="2.7"/><circle cx="196.9" cy="92.5" r="2.7"/><circle cx="201.9" cy="92.5" r="2.7"/><circle cx="206.8" cy="92.5" r="2.7"/><circle cx="211.8" cy="92.5" r="2.7"/><circle cx="216.7" cy="92.5" r="2.7" class="g"/><circle cx="221.6" cy="92.5" r="2.7"/><circle cx="226.6" cy="92.5" r="2.7"/><circle cx="231.5" cy="92.5" r="2.7"/><circle cx="236.5" cy="92.5" r="2.7"/><circle cx="241.4" cy="92.5" r="2.7"/><circle cx="246.4" cy="92.5" r="2.7"/><circle cx="251.3" cy="92.5" r="2.7"/><circle cx="256.2" cy="92.5" r="2.7"/><circle cx="261.2" cy="92.5" r="2.7"/><circle cx="266.1" cy="92.5" r="2.7"/><circle cx="271.1" cy="92.5" r="2.7"/><circle cx="276.0" cy="92.5" r="2.7"/><circle cx="281.0" cy="92.5" r="2.7" class="g"/><circle cx="285.9" cy="92.5" r="2.7" class="e"/><circle cx="290.8" cy="92.5" r="2.7" class="g"/><circle cx="295.8" cy="92.5" r="2.7"/><circle cx="300.7" cy="92.5" r="2.7"/><circle cx="305.7" cy="92.5" r="2.7"/><circle cx="310.6" cy="92.5" r="2.7"/><circle cx="315.6" cy="92.5" r="2.7"/><circle cx="320.5" cy="92.5" r="2.7"/><circle cx="325.4" cy="92.5" r="2.7"/><circle cx="330.4" cy="92.5" r="2.7"/><circle cx="335.3" cy="92.5" r="2.7"/><circle cx="340.3" cy="92.5" r="2.7"/><circle cx="345.2" cy="92.5" r="2.7"/><circle cx="350.2" cy="92.5" r="2.7" class="g"/><circle cx="355.1" cy="92.5" r="2.7" class="g"/><circle cx="185.3" cy="96.5" r="2.7"/><circle cx="190.3" cy="96.5" r="2.7"/><circle cx="195.3" cy="96.5" r="2.7"/><circle cx="200.3" cy="96.5" r="2.7"/><circle cx="205.3" cy="96.5" r="2.7"/><circle cx="210.3" cy="96.5" r="2.7"/><circle cx="215.3" cy="96.5" r="2.7"/><circle cx="220.3" cy="96.5" r="2.7"/><circle cx="225.3" cy="96.5" r="2.7"/><circle cx="230.3" cy="96.5" r="2.7"/><circle cx="235.3" cy="96.5" r="2.7"/><circle cx="240.3" cy="96.5" r="2.7"/><circle cx="245.3" cy="96.5" r="2.7"/><circle cx="250.3" cy="96.5" r="2.7"/><circle cx="255.3" cy="96.5" r="2.7"/><circle cx="260.3" cy="96.5" r="2.7"/><circle cx="265.3" cy="96.5" r="2.7"/><circle cx="270.3" cy="96.5" r="2.7"/><circle cx="275.3" cy="96.5" r="2.7"/><circle cx="280.3" cy="96.5" r="2.7" class="g"/><circle cx="285.3" cy="96.5" r="2.7" class="g"/><circle cx="290.3" cy="96.5" r="2.7"/><circle cx="295.3" cy="96.5" r="2.7"/><circle cx="300.3" cy="96.5" r="2.7" class="e"/><circle cx="305.3" cy="96.5" r="2.7"/><circle cx="310.3" cy="96.5" r="2.7"/><circle cx="315.3" cy="96.5" r="2.7"/><circle cx="320.3" cy="96.5" r="2.7"/><circle cx="325.3" cy="96.5" r="2.7"/><circle cx="330.3" cy="96.5" r="2.7"/><circle cx="335.3" cy="96.5" r="2.7"/><circle cx="340.3" cy="96.5" r="2.7"/><circle cx="345.4" cy="96.5" r="2.7"/><circle cx="350.4" cy="96.5" r="2.7"/><circle cx="187.8" cy="100.5" r="2.7"/><circle cx="192.9" cy="100.5" r="2.7"/><circle cx="198.0" cy="100.5" r="2.7"/><circle cx="203.0" cy="100.5" r="2.7"/><circle cx="208.1" cy="100.5" r="2.7"/><circle cx="213.1" cy="100.5" r="2.7"/><circle cx="218.2" cy="100.5" r="2.7"/><circle cx="223.3" cy="100.5" r="2.7"/><circle cx="228.3" cy="100.5" r="2.7"/><circle cx="233.4" cy="100.5" r="2.7"/><circle cx="238.5" cy="100.5" r="2.7"/><circle cx="243.5" cy="100.5" r="2.7"/><circle cx="248.6" cy="100.5" r="2.7" class="e"/><circle cx="253.6" cy="100.5" r="2.7"/><circle cx="258.7" cy="100.5" r="2.7"/><circle cx="263.8" cy="100.5" r="2.7"/><circle cx="268.8" cy="100.5" r="2.7"/><circle cx="273.9" cy="100.5" r="2.7"/><circle cx="278.9" cy="100.5" r="2.7"/><circle cx="284.0" cy="100.5" r="2.7"/><circle cx="289.1" cy="100.5" r="2.7"/><circle cx="294.1" cy="100.5" r="2.7"/><circle cx="299.2" cy="100.5" r="2.7"/><circle cx="304.2" cy="100.5" r="2.7"/><circle cx="309.3" cy="100.5" r="2.7"/><circle cx="314.4" cy="100.5" r="2.7"/><circle cx="319.4" cy="100.5" r="2.7"/><circle cx="324.5" cy="100.5" r="2.7"/><circle cx="329.5" cy="100.5" r="2.7"/><circle cx="334.6" cy="100.5" r="2.7" class="e"/><circle cx="339.7" cy="100.5" r="2.7"/><circle cx="344.7" cy="100.5" r="2.7"/><circle cx="349.8" cy="100.5" r="2.7"/><circle cx="185.6" cy="104.6" r="2.8"/><circle cx="190.7" cy="104.6" r="2.8"/><circle cx="195.8" cy="104.6" r="2.8"/><circle cx="200.9" cy="104.6" r="2.8"/><circle cx="206.0" cy="104.6" r="2.8"/><circle cx="211.2" cy="104.6" r="2.8"/><circle cx="216.3" cy="104.6" r="2.8"/><circle cx="221.4" cy="104.6" r="2.8"/><circle cx="226.5" cy="104.6" r="2.8"/><circle cx="231.6" cy="104.6" r="2.8"/><circle cx="236.8" cy="104.6" r="2.8"/><circle cx="241.9" cy="104.6" r="2.8"/><circle cx="247.0" cy="104.6" r="2.8"/><circle cx="252.1" cy="104.6" r="2.8"/><circle cx="257.3" cy="104.6" r="2.8" class="e"/><circle cx="262.4" cy="104.6" r="2.8"/><circle cx="267.5" cy="104.6" r="2.8"/><circle cx="272.6" cy="104.6" r="2.8"/><circle cx="277.7" cy="104.6" r="2.8"/><circle cx="282.9" cy="104.6" r="2.8"/><circle cx="288.0" cy="104.6" r="2.8"/><circle cx="293.1" cy="104.6" r="2.8"/><circle cx="298.2" cy="104.6" r="2.8"/><circle cx="303.3" cy="104.6" r="2.8" class="e"/><circle cx="308.5" cy="104.6" r="2.8"/><circle cx="313.6" cy="104.6" r="2.8"/><circle cx="318.7" cy="104.6" r="2.8"/><circle cx="323.8" cy="104.6" r="2.8"/><circle cx="328.9" cy="104.6" r="2.8"/><circle cx="334.1" cy="104.6" r="2.8"/><circle cx="339.2" cy="104.6" r="2.8"/><circle cx="344.3" cy="104.6" r="2.8"/><circle cx="349.4" cy="104.6" r="2.8"/><circle cx="188.5" cy="108.6" r="2.8"/><circle cx="193.7" cy="108.6" r="2.8"/><circle cx="198.9" cy="108.6" r="2.8"/><circle cx="204.1" cy="108.6" r="2.8"/><circle cx="209.3" cy="108.6" r="2.8"/><circle cx="214.4" cy="108.6" r="2.8"/><circle cx="219.6" cy="108.6" r="2.8"/><circle cx="224.8" cy="108.6" r="2.8"/><circle cx="230.0" cy="108.6" r="2.8"/><circle cx="235.2" cy="108.6" r="2.8"/><circle cx="240.3" cy="108.6" r="2.8"/><circle cx="245.5" cy="108.6" r="2.8"/><circle cx="250.7" cy="108.6" r="2.8"/><circle cx="255.9" cy="108.6" r="2.8"/><circle cx="261.1" cy="108.6" r="2.8" class="e"/><circle cx="266.2" cy="108.6" r="2.8"/><circle cx="271.4" cy="108.6" r="2.8" class="e"/><circle cx="276.6" cy="108.6" r="2.8"/><circle cx="281.8" cy="108.6" r="2.8"/><circle cx="287.0" cy="108.6" r="2.8"/><circle cx="292.1" cy="108.6" r="2.8"/><circle cx="297.3" cy="108.6" r="2.8"/><circle cx="302.5" cy="108.6" r="2.8"/><circle cx="307.7" cy="108.6" r="2.8"/><circle cx="312.9" cy="108.6" r="2.8"/><circle cx="318.0" cy="108.6" r="2.8"/><circle cx="323.2" cy="108.6" r="2.8" class="e"/><circle cx="328.4" cy="108.6" r="2.8"/><circle cx="333.6" cy="108.6" r="2.8"/><circle cx="338.8" cy="108.6" r="2.8"/><circle cx="344.0" cy="108.6" r="2.8"/><circle cx="186.4" cy="112.8" r="2.8"/><circle cx="191.6" cy="112.8" r="2.8" class="e"/><circle cx="196.8" cy="112.8" r="2.8"/><circle cx="202.1" cy="112.8" r="2.8"/><circle cx="207.3" cy="112.8" r="2.8"/><circle cx="212.6" cy="112.8" r="2.8"/><circle cx="217.8" cy="112.8" r="2.8"/><circle cx="223.0" cy="112.8" r="2.8"/><circle cx="228.3" cy="112.8" r="2.8"/><circle cx="233.5" cy="112.8" r="2.8"/><circle cx="238.8" cy="112.8" r="2.8"/><circle cx="244.0" cy="112.8" r="2.8"/><circle cx="249.3" cy="112.8" r="2.8"/><circle cx="254.5" cy="112.8" r="2.8"/><circle cx="259.7" cy="112.8" r="2.8"/><circle cx="265.0" cy="112.8" r="2.8"/><circle cx="270.2" cy="112.8" r="2.8"/><circle cx="275.5" cy="112.8" r="2.8"/><circle cx="280.7" cy="112.8" r="2.8"/><circle cx="286.0" cy="112.8" r="2.8"/><circle cx="291.2" cy="112.8" r="2.8"/><circle cx="296.4" cy="112.8" r="2.8" class="e"/><circle cx="301.7" cy="112.8" r="2.8"/><circle cx="306.9" cy="112.8" r="2.8"/><circle cx="312.2" cy="112.8" r="2.8" class="e"/><circle cx="317.4" cy="112.8" r="2.8"/><circle cx="322.6" cy="112.8" r="2.8"/><circle cx="327.9" cy="112.8" r="2.8"/><circle cx="333.1" cy="112.8" r="2.8"/><circle cx="338.4" cy="112.8" r="2.8" class="e"/><circle cx="189.2" cy="117.0" r="2.9"/><circle cx="194.5" cy="117.0" r="2.9"/><circle cx="199.9" cy="117.0" r="2.9"/><circle cx="205.2" cy="117.0" r="2.9"/><circle cx="210.5" cy="117.0" r="2.9"/><circle cx="215.8" cy="117.0" r="2.9"/><circle cx="221.1" cy="117.0" r="2.9"/><circle cx="226.4" cy="117.0" r="2.9"/><circle cx="231.7" cy="117.0" r="2.9"/><circle cx="237.0" cy="117.0" r="2.9"/><circle cx="242.3" cy="117.0" r="2.9"/><circle cx="247.6" cy="117.0" r="2.9"/><circle cx="252.9" cy="117.0" r="2.9"/><circle cx="258.2" cy="117.0" r="2.9"/><circle cx="263.5" cy="117.0" r="2.9"/><circle cx="268.8" cy="117.0" r="2.9"/><circle cx="274.1" cy="117.0" r="2.9"/><circle cx="279.4" cy="117.0" r="2.9"/><circle cx="284.7" cy="117.0" r="2.9"/><circle cx="290.0" cy="117.0" r="2.9"/><circle cx="295.3" cy="117.0" r="2.9"/><circle cx="300.6" cy="117.0" r="2.9"/><circle cx="305.9" cy="117.0" r="2.9"/><circle cx="311.2" cy="117.0" r="2.9"/><circle cx="316.5" cy="117.0" r="2.9"/><circle cx="321.8" cy="117.0" r="2.9"/><circle cx="327.2" cy="117.0" r="2.9"/><circle cx="332.5" cy="117.0" r="2.9"/><circle cx="197.5" cy="121.2" r="2.9"/><circle cx="202.9" cy="121.2" r="2.9"/><circle cx="208.2" cy="121.2" r="2.9"/><circle cx="213.6" cy="121.2" r="2.9"/><circle cx="219.0" cy="121.2" r="2.9"/><circle cx="224.3" cy="121.2" r="2.9"/><circle cx="229.7" cy="121.2" r="2.9"/><circle cx="235.1" cy="121.2" r="2.9"/><circle cx="240.4" cy="121.2" r="2.9"/><circle cx="245.8" cy="121.2" r="2.9"/><circle cx="251.2" cy="121.2" r="2.9"/><circle cx="256.5" cy="121.2" r="2.9"/><circle cx="261.9" cy="121.2" r="2.9"/><circle cx="267.3" cy="121.2" r="2.9"/><circle cx="272.6" cy="121.2" r="2.9"/><circle cx="278.0" cy="121.2" r="2.9"/><circle cx="283.4" cy="121.2" r="2.9"/><circle cx="288.7" cy="121.2" r="2.9"/><circle cx="294.1" cy="121.2" r="2.9"/><circle cx="299.5" cy="121.2" r="2.9"/><circle cx="304.8" cy="121.2" r="2.9"/><circle cx="310.2" cy="121.2" r="2.9"/><circle cx="315.6" cy="121.2" r="2.9" class="e"/><circle cx="320.9" cy="121.2" r="2.9"/><circle cx="326.3" cy="121.2" r="2.9"/><circle cx="331.7" cy="121.2" r="2.9"/><circle cx="233.3" cy="125.5" r="2.9"/><circle cx="238.8" cy="125.5" r="2.9"/><circle cx="244.2" cy="125.5" r="2.9"/><circle cx="249.6" cy="125.5" r="2.9"/><circle cx="255.0" cy="125.5" r="2.9"/><circle cx="260.5" cy="125.5" r="2.9"/><circle cx="265.9" cy="125.5" r="2.9"/><circle cx="271.3" cy="125.5" r="2.9"/><circle cx="276.8" cy="125.5" r="2.9"/><circle cx="282.2" cy="125.5" r="2.9"/><circle cx="287.6" cy="125.5" r="2.9"/><circle cx="293.1" cy="125.5" r="2.9"/><circle cx="298.5" cy="125.5" r="2.9"/><circle cx="303.9" cy="125.5" r="2.9"/><circle cx="309.3" cy="125.5" r="2.9"/><circle cx="314.8" cy="125.5" r="2.9"/><circle cx="320.2" cy="125.5" r="2.9" class="e"/><circle cx="325.6" cy="125.5" r="2.9"/><circle cx="264.0" cy="129.9" r="3.0"/><circle cx="269.5" cy="129.9" r="3.0"/><circle cx="275.0" cy="129.9" r="3.0"/><circle cx="280.5" cy="129.9" r="3.0"/><circle cx="286.0" cy="129.9" r="3.0"/><circle cx="291.5" cy="129.9" r="3.0"/><circle cx="297.0" cy="129.9" r="3.0"/><circle cx="302.5" cy="129.9" r="3.0"/><circle cx="308.0" cy="129.9" r="3.0"/><circle cx="313.5" cy="129.9" r="3.0"/><circle cx="319.0" cy="129.9" r="3.0"/><circle cx="295.8" cy="134.3" r="3.0"/><circle cx="301.4" cy="134.3" r="3.0"/><circle cx="306.9" cy="134.3" r="3.0"/><circle cx="312.5" cy="134.3" r="3.0"/></g></g>
<g filter="url(#shb)"><g fill="url(#spha2)"><circle cx="496.4" cy="55.2" r="2.3"/><circle cx="496.6" cy="62.3" r="2.3"/><circle cx="498.7" cy="65.8" r="2.4" class="e2"/><circle cx="501.1" cy="69.5" r="2.4"/><circle cx="501.4" cy="76.8" r="2.4"/><circle cx="700.8" cy="76.8" r="2.4" class="b2"/><circle cx="705.3" cy="76.8" r="2.4"/><circle cx="504.1" cy="80.6" r="2.5"/><circle cx="701.4" cy="80.6" r="2.5"/><circle cx="705.9" cy="80.6" r="2.5"/><circle cx="696.9" cy="84.4" r="2.5"/><circle cx="701.6" cy="84.4" r="2.5"/><circle cx="504.5" cy="88.2" r="2.5"/><circle cx="692.5" cy="88.2" r="2.5"/><circle cx="697.2" cy="88.2" r="2.5"/><circle cx="507.0" cy="92.1" r="2.6"/><circle cx="687.7" cy="92.1" r="2.6"/><circle cx="692.5" cy="92.1" r="2.6"/><circle cx="697.3" cy="92.1" r="2.6"/><circle cx="505.1" cy="96.1" r="2.6" class="b2"/><circle cx="688.1" cy="96.1" r="2.6" class="e2"/><circle cx="692.9" cy="96.1" r="2.6"/><circle cx="507.7" cy="100.1" r="2.6"/><circle cx="683.1" cy="100.1" r="2.6"/><circle cx="688.0" cy="100.1" r="2.6" class="e2"/><circle cx="510.0" cy="104.1" r="2.7"/><circle cx="677.7" cy="104.1" r="2.7"/><circle cx="682.7" cy="104.1" r="2.7"/><circle cx="687.6" cy="104.1" r="2.7" class="e2"/><circle cx="508.2" cy="108.2" r="2.7" class="b2"/><circle cx="678.0" cy="108.2" r="2.7"/><circle cx="683.0" cy="108.2" r="2.7"/><circle cx="510.7" cy="112.3" r="2.7"/><circle cx="672.5" cy="112.3" r="2.7"/><circle cx="677.6" cy="112.3" r="2.7"/><circle cx="672.5" cy="116.5" r="2.8"/><circle cx="677.6" cy="116.5" r="2.8" class="b2"/><circle cx="511.5" cy="120.8" r="2.8"/><circle cx="516.7" cy="120.8" r="2.8" class="b2"/><circle cx="521.9" cy="120.8" r="2.8"/><circle cx="527.1" cy="120.8" r="2.8"/><circle cx="532.2" cy="120.8" r="2.8"/><circle cx="537.4" cy="120.8" r="2.8"/><circle cx="666.9" cy="120.8" r="2.8"/><circle cx="672.1" cy="120.8" r="2.8" class="b2"/><circle cx="514.5" cy="125.0" r="2.8" class="b2"/><circle cx="519.7" cy="125.0" r="2.8"/><circle cx="525.0" cy="125.0" r="2.8"/><circle cx="530.2" cy="125.0" r="2.8"/><circle cx="535.4" cy="125.0" r="2.8"/><circle cx="540.7" cy="125.0" r="2.8"/><circle cx="545.9" cy="125.0" r="2.8"/><circle cx="551.2" cy="125.0" r="2.8" class="b2"/><circle cx="556.4" cy="125.0" r="2.8" class="b2"/><circle cx="561.7" cy="125.0" r="2.8"/><circle cx="566.9" cy="125.0" r="2.8"/><circle cx="572.1" cy="125.0" r="2.8"/><circle cx="661.3" cy="125.0" r="2.8"/><circle cx="666.5" cy="125.0" r="2.8"/><circle cx="671.8" cy="125.0" r="2.8"/><circle cx="517.2" cy="129.4" r="2.9"/><circle cx="522.5" cy="129.4" r="2.9"/><circle cx="527.8" cy="129.4" r="2.9"/><circle cx="533.1" cy="129.4" r="2.9"/><circle cx="538.4" cy="129.4" r="2.9" class="b2"/><circle cx="543.7" cy="129.4" r="2.9"/><circle cx="549.0" cy="129.4" r="2.9" class="e2"/><circle cx="554.3" cy="129.4" r="2.9"/><circle cx="559.6" cy="129.4" r="2.9"/><circle cx="564.9" cy="129.4" r="2.9"/><circle cx="570.2" cy="129.4" r="2.9"/><circle cx="575.5" cy="129.4" r="2.9" class="b2"/><circle cx="580.9" cy="129.4" r="2.9"/><circle cx="586.2" cy="129.4" r="2.9"/><circle cx="591.5" cy="129.4" r="2.9"/><circle cx="596.8" cy="129.4" r="2.9"/><circle cx="602.1" cy="129.4" r="2.9"/><circle cx="607.4" cy="129.4" r="2.9"/><circle cx="660.5" cy="129.4" r="2.9"/><circle cx="665.8" cy="129.4" r="2.9"/><circle cx="536.1" cy="133.8" r="2.9"/><circle cx="541.5" cy="133.8" r="2.9"/><circle cx="546.9" cy="133.8" r="2.9"/><circle cx="552.2" cy="133.8" r="2.9"/><circle cx="557.6" cy="133.8" r="2.9"/><circle cx="563.0" cy="133.8" r="2.9"/><circle cx="568.3" cy="133.8" r="2.9"/><circle cx="573.7" cy="133.8" r="2.9" class="e2"/><circle cx="579.1" cy="133.8" r="2.9" class="e2"/><circle cx="584.5" cy="133.8" r="2.9"/><circle cx="589.8" cy="133.8" r="2.9"/><circle cx="595.2" cy="133.8" r="2.9"/><circle cx="600.6" cy="133.8" r="2.9"/><circle cx="606.0" cy="133.8" r="2.9"/><circle cx="611.3" cy="133.8" r="2.9"/><circle cx="616.7" cy="133.8" r="2.9"/><circle cx="622.1" cy="133.8" r="2.9" class="e2"/><circle cx="627.5" cy="133.8" r="2.9"/><circle cx="632.8" cy="133.8" r="2.9" class="e2"/><circle cx="638.2" cy="133.8" r="2.9"/><circle cx="643.6" cy="133.8" r="2.9"/><circle cx="654.3" cy="133.8" r="2.9"/><circle cx="659.7" cy="133.8" r="2.9"/><circle cx="572.5" cy="138.2" r="2.9"/><circle cx="577.9" cy="138.2" r="2.9"/><circle cx="583.3" cy="138.2" r="2.9"/><circle cx="588.8" cy="138.2" r="2.9"/><circle cx="594.2" cy="138.2" r="2.9"/><circle cx="599.6" cy="138.2" r="2.9"/><circle cx="605.1" cy="138.2" r="2.9"/><circle cx="610.5" cy="138.2" r="2.9"/><circle cx="616.0" cy="138.2" r="2.9"/><circle cx="621.4" cy="138.2" r="2.9"/><circle cx="626.8" cy="138.2" r="2.9"/><circle cx="632.3" cy="138.2" r="2.9"/><circle cx="637.7" cy="138.2" r="2.9"/><circle cx="643.2" cy="138.2" r="2.9"/><circle cx="648.6" cy="138.2" r="2.9"/><circle cx="654.0" cy="138.2" r="2.9"/><circle cx="659.5" cy="138.2" r="2.9"/><circle cx="603.5" cy="142.7" r="3.0"/><circle cx="609.0" cy="142.7" r="3.0"/><circle cx="614.5" cy="142.7" r="3.0"/><circle cx="620.0" cy="142.7" r="3.0" class="b2"/><circle cx="625.5" cy="142.7" r="3.0"/><circle cx="631.0" cy="142.7" r="3.0"/><circle cx="636.5" cy="142.7" r="3.0"/><circle cx="642.0" cy="142.7" r="3.0"/><circle cx="647.5" cy="142.7" r="3.0" class="b2"/><circle cx="653.0" cy="142.7" r="3.0"/><circle cx="641.5" cy="147.3" r="3.0"/><circle cx="647.1" cy="147.3" r="3.0" class="b2"/><circle cx="652.7" cy="147.3" r="3.0"/><circle cx="496.4" cy="51.9" r="2.3"/><circle cx="496.6" cy="58.9" r="2.3"/><circle cx="498.7" cy="62.4" r="2.4"/><circle cx="501.4" cy="73.3" r="2.4"/><circle cx="705.3" cy="73.3" r="2.4"/><circle cx="701.4" cy="77.0" r="2.5" class="e2"/><circle cx="705.9" cy="77.0" r="2.5"/><circle cx="696.9" cy="80.8" r="2.5"/><circle cx="701.6" cy="80.8" r="2.5"/><circle cx="504.5" cy="84.6" r="2.5" class="b2"/><circle cx="697.2" cy="84.6" r="2.5" class="b2"/><circle cx="692.5" cy="88.4" r="2.6" class="b2"/><circle cx="697.3" cy="88.4" r="2.6"/><circle cx="505.1" cy="92.3" r="2.6"/><circle cx="688.1" cy="92.3" r="2.6"/><circle cx="692.9" cy="92.3" r="2.6"/><circle cx="507.7" cy="96.3" r="2.6"/><circle cx="688.0" cy="96.3" r="2.6"/><circle cx="682.7" cy="100.2" r="2.7"/><circle cx="687.6" cy="100.2" r="2.7"/><circle cx="508.2" cy="104.3" r="2.7"/><circle cx="678.0" cy="104.3" r="2.7"/><circle cx="683.0" cy="104.3" r="2.7"/><circle cx="510.7" cy="108.4" r="2.7"/><circle cx="677.6" cy="108.4" r="2.7"/><circle cx="672.5" cy="112.5" r="2.8"/><circle cx="677.6" cy="112.5" r="2.8"/><circle cx="511.5" cy="116.7" r="2.8"/><circle cx="672.1" cy="116.7" r="2.8" class="e2"/><circle cx="514.5" cy="121.0" r="2.8"/><circle cx="519.7" cy="121.0" r="2.8"/><circle cx="525.0" cy="121.0" r="2.8"/><circle cx="530.2" cy="121.0" r="2.8" class="b2"/><circle cx="535.4" cy="121.0" r="2.8" class="e2"/><circle cx="540.7" cy="121.0" r="2.8"/><circle cx="666.5" cy="121.0" r="2.8"/><circle cx="671.8" cy="121.0" r="2.8"/><circle cx="517.2" cy="125.2" r="2.9" class="b2"/><circle cx="522.5" cy="125.2" r="2.9"/><circle cx="527.8" cy="125.2" r="2.9"/><circle cx="533.1" cy="125.2" r="2.9" class="b2"/><circle cx="538.4" cy="125.2" r="2.9"/><circle cx="543.7" cy="125.2" r="2.9"/><circle cx="549.0" cy="125.2" r="2.9"/><circle cx="554.3" cy="125.2" r="2.9" class="b2"/><circle cx="559.6" cy="125.2" r="2.9" class="b2"/><circle cx="564.9" cy="125.2" r="2.9" class="e2"/><circle cx="570.2" cy="125.2" r="2.9"/><circle cx="575.5" cy="125.2" r="2.9"/><circle cx="660.5" cy="125.2" r="2.9" class="b2"/><circle cx="665.8" cy="125.2" r="2.9"/><circle cx="536.1" cy="129.6" r="2.9"/><circle cx="541.5" cy="129.6" r="2.9"/><circle cx="546.9" cy="129.6" r="2.9" class="b2"/><circle cx="552.2" cy="129.6" r="2.9"/><circle cx="557.6" cy="129.6" r="2.9"/><circle cx="563.0" cy="129.6" r="2.9"/><circle cx="568.3" cy="129.6" r="2.9"/><circle cx="573.7" cy="129.6" r="2.9"/><circle cx="579.1" cy="129.6" r="2.9"/><circle cx="584.5" cy="129.6" r="2.9"/><circle cx="589.8" cy="129.6" r="2.9"/><circle cx="595.2" cy="129.6" r="2.9"/><circle cx="600.6" cy="129.6" r="2.9"/><circle cx="606.0" cy="129.6" r="2.9" class="b2"/><circle cx="611.3" cy="129.6" r="2.9"/><circle cx="659.7" cy="129.6" r="2.9"/><circle cx="572.5" cy="134.0" r="2.9"/><circle cx="577.9" cy="134.0" r="2.9" class="b2"/><circle cx="583.3" cy="134.0" r="2.9"/><circle cx="588.8" cy="134.0" r="2.9"/><circle cx="594.2" cy="134.0" r="2.9"/><circle cx="599.6" cy="134.0" r="2.9"/><circle cx="605.1" cy="134.0" r="2.9"/><circle cx="610.5" cy="134.0" r="2.9"/><circle cx="616.0" cy="134.0" r="2.9"/><circle cx="621.4" cy="134.0" r="2.9" class="b2"/><circle cx="626.8" cy="134.0" r="2.9" class="e2"/><circle cx="632.3" cy="134.0" r="2.9"/><circle cx="637.7" cy="134.0" r="2.9" class="b2"/><circle cx="643.2" cy="134.0" r="2.9" class="b2"/><circle cx="648.6" cy="134.0" r="2.9"/><circle cx="654.0" cy="134.0" r="2.9"/><circle cx="659.5" cy="134.0" r="2.9" class="b2"/><circle cx="603.5" cy="138.5" r="3.0"/><circle cx="609.0" cy="138.5" r="3.0"/><circle cx="614.5" cy="138.5" r="3.0"/><circle cx="620.0" cy="138.5" r="3.0"/><circle cx="625.5" cy="138.5" r="3.0"/><circle cx="631.0" cy="138.5" r="3.0"/><circle cx="636.5" cy="138.5" r="3.0"/><circle cx="642.0" cy="138.5" r="3.0"/><circle cx="647.5" cy="138.5" r="3.0"/><circle cx="653.0" cy="138.5" r="3.0"/><circle cx="641.5" cy="143.0" r="3.0"/><circle cx="647.1" cy="143.0" r="3.0" class="b2"/><circle cx="652.7" cy="143.0" r="3.0" class="b2"/><circle cx="496.6" cy="55.5" r="2.3"/><circle cx="705.9" cy="73.4" r="2.5"/><circle cx="701.6" cy="77.1" r="2.5"/><circle cx="697.2" cy="80.9" r="2.5"/><circle cx="697.3" cy="84.7" r="2.6"/><circle cx="505.1" cy="88.6" r="2.6"/><circle cx="692.9" cy="88.6" r="2.6"/><circle cx="688.0" cy="92.4" r="2.6"/><circle cx="687.6" cy="96.4" r="2.7" class="b2"/><circle cx="508.2" cy="100.4" r="2.7"/><circle cx="683.0" cy="100.4" r="2.7"/><circle cx="677.6" cy="104.4" r="2.7"/><circle cx="677.6" cy="108.5" r="2.8"/><circle cx="511.5" cy="112.7" r="2.8"/><circle cx="672.1" cy="112.7" r="2.8" class="b2"/><circle cx="671.8" cy="116.9" r="2.8" class="b2"/><circle cx="517.2" cy="121.1" r="2.9"/><circle cx="522.5" cy="121.1" r="2.9"/><circle cx="527.8" cy="121.1" r="2.9"/><circle cx="533.1" cy="121.1" r="2.9"/><circle cx="538.4" cy="121.1" r="2.9" class="e2"/><circle cx="543.7" cy="121.1" r="2.9" class="e2"/><circle cx="665.8" cy="121.1" r="2.9"/><circle cx="536.1" cy="125.4" r="2.9"/><circle cx="541.5" cy="125.4" r="2.9"/><circle cx="546.9" cy="125.4" r="2.9"/><circle cx="552.2" cy="125.4" r="2.9"/><circle cx="557.6" cy="125.4" r="2.9" class="b2"/><circle cx="563.0" cy="125.4" r="2.9"/><circle cx="568.3" cy="125.4" r="2.9"/><circle cx="573.7" cy="125.4" r="2.9" class="b2"/><circle cx="579.1" cy="125.4" r="2.9"/><circle cx="572.5" cy="129.8" r="2.9"/><circle cx="577.9" cy="129.8" r="2.9"/><circle cx="583.3" cy="129.8" r="2.9"/><circle cx="588.8" cy="129.8" r="2.9"/><circle cx="594.2" cy="129.8" r="2.9"/><circle cx="599.6" cy="129.8" r="2.9"/><circle cx="605.1" cy="129.8" r="2.9"/><circle cx="610.5" cy="129.8" r="2.9"/><circle cx="659.5" cy="129.8" r="2.9"/><circle cx="603.5" cy="134.2" r="3.0"/><circle cx="609.0" cy="134.2" r="3.0"/><circle cx="614.5" cy="134.2" r="3.0"/><circle cx="620.0" cy="134.2" r="3.0" class="e2"/><circle cx="625.5" cy="134.2" r="3.0"/><circle cx="631.0" cy="134.2" r="3.0"/><circle cx="636.5" cy="134.2" r="3.0"/><circle cx="642.0" cy="134.2" r="3.0"/><circle cx="647.5" cy="134.2" r="3.0"/><circle cx="641.5" cy="138.6" r="3.0" class="e2"/><circle cx="647.1" cy="138.6" r="3.0"/><circle cx="652.7" cy="138.6" r="3.0"/></g><g fill="url(#spha)"><circle cx="540.5" cy="13.8" r="2.0" class="e"/><circle cx="544.2" cy="13.8" r="2.0"/><circle cx="547.9" cy="13.8" r="2.0"/><circle cx="551.7" cy="13.8" r="2.0" class="b"/><circle cx="555.4" cy="13.8" r="2.0"/><circle cx="559.1" cy="13.8" r="2.0"/><circle cx="562.8" cy="13.8" r="2.0"/><circle cx="566.6" cy="13.8" r="2.0"/><circle cx="570.3" cy="13.8" r="2.0"/><circle cx="574.0" cy="13.8" r="2.0"/><circle cx="577.8" cy="13.8" r="2.0"/><circle cx="581.5" cy="13.8" r="2.0"/><circle cx="585.2" cy="13.8" r="2.0"/><circle cx="588.9" cy="13.8" r="2.0"/><circle cx="592.7" cy="13.8" r="2.0" class="e"/><circle cx="596.4" cy="13.8" r="2.0" class="e"/><circle cx="600.1" cy="13.8" r="2.0"/><circle cx="603.9" cy="13.8" r="2.0"/><circle cx="607.6" cy="13.8" r="2.0"/><circle cx="611.3" cy="13.8" r="2.0"/><circle cx="615.0" cy="13.8" r="2.0"/><circle cx="618.8" cy="13.8" r="2.0"/><circle cx="622.5" cy="13.8" r="2.0"/><circle cx="626.2" cy="13.8" r="2.0"/><circle cx="630.0" cy="13.8" r="2.0" class="b"/><circle cx="633.7" cy="13.8" r="2.0"/><circle cx="637.4" cy="13.8" r="2.0"/><circle cx="641.1" cy="13.8" r="2.0"/><circle cx="644.9" cy="13.8" r="2.0"/><circle cx="648.6" cy="13.8" r="2.0"/><circle cx="535.0" cy="16.8" r="2.0"/><circle cx="538.7" cy="16.8" r="2.0" class="e"/><circle cx="542.5" cy="16.8" r="2.0"/><circle cx="546.3" cy="16.8" r="2.0"/><circle cx="550.1" cy="16.8" r="2.0" class="b"/><circle cx="553.8" cy="16.8" r="2.0"/><circle cx="557.6" cy="16.8" r="2.0"/><circle cx="561.4" cy="16.8" r="2.0" class="b"/><circle cx="565.2" cy="16.8" r="2.0"/><circle cx="568.9" cy="16.8" r="2.0"/><circle cx="572.7" cy="16.8" r="2.0"/><circle cx="576.5" cy="16.8" r="2.0" class="e"/><circle cx="580.2" cy="16.8" r="2.0" class="e"/><circle cx="584.0" cy="16.8" r="2.0"/><circle cx="587.8" cy="16.8" r="2.0"/><circle cx="591.6" cy="16.8" r="2.0"/><circle cx="595.3" cy="16.8" r="2.0"/><circle cx="599.1" cy="16.8" r="2.0"/><circle cx="602.9" cy="16.8" r="2.0"/><circle cx="606.7" cy="16.8" r="2.0" class="b"/><circle cx="610.4" cy="16.8" r="2.0"/><circle cx="614.2" cy="16.8" r="2.0" class="b"/><circle cx="618.0" cy="16.8" r="2.0"/><circle cx="621.8" cy="16.8" r="2.0" class="b"/><circle cx="625.5" cy="16.8" r="2.0" class="b"/><circle cx="629.3" cy="16.8" r="2.0"/><circle cx="633.1" cy="16.8" r="2.0"/><circle cx="636.9" cy="16.8" r="2.0" class="b"/><circle cx="640.6" cy="16.8" r="2.0"/><circle cx="644.4" cy="16.8" r="2.0"/><circle cx="648.2" cy="16.8" r="2.0"/><circle cx="652.0" cy="16.8" r="2.0"/><circle cx="530.1" cy="19.9" r="2.1"/><circle cx="534.0" cy="19.9" r="2.1" class="b"/><circle cx="537.8" cy="19.9" r="2.1"/><circle cx="541.6" cy="19.9" r="2.1" class="b"/><circle cx="545.4" cy="19.9" r="2.1"/><circle cx="549.2" cy="19.9" r="2.1" class="e"/><circle cx="553.1" cy="19.9" r="2.1"/><circle cx="556.9" cy="19.9" r="2.1"/><circle cx="560.7" cy="19.9" r="2.1"/><circle cx="564.5" cy="19.9" r="2.1"/><circle cx="568.3" cy="19.9" r="2.1"/><circle cx="572.2" cy="19.9" r="2.1"/><circle cx="576.0" cy="19.9" r="2.1"/><circle cx="579.8" cy="19.9" r="2.1"/><circle cx="583.6" cy="19.9" r="2.1" class="b"/><circle cx="587.4" cy="19.9" r="2.1"/><circle cx="591.3" cy="19.9" r="2.1"/><circle cx="595.1" cy="19.9" r="2.1" class="b"/><circle cx="598.9" cy="19.9" r="2.1"/><circle cx="602.7" cy="19.9" r="2.1" class="b"/><circle cx="606.5" cy="19.9" r="2.1"/><circle cx="610.4" cy="19.9" r="2.1"/><circle cx="614.2" cy="19.9" r="2.1"/><circle cx="618.0" cy="19.9" r="2.1"/><circle cx="621.8" cy="19.9" r="2.1"/><circle cx="625.7" cy="19.9" r="2.1"/><circle cx="629.5" cy="19.9" r="2.1" class="b"/><circle cx="633.3" cy="19.9" r="2.1"/><circle cx="637.1" cy="19.9" r="2.1"/><circle cx="640.9" cy="19.9" r="2.1" class="b"/><circle cx="644.8" cy="19.9" r="2.1"/><circle cx="648.6" cy="19.9" r="2.1"/><circle cx="652.4" cy="19.9" r="2.1" class="b"/><circle cx="656.2" cy="19.9" r="2.1"/><circle cx="524.9" cy="22.9" r="2.1"/><circle cx="528.7" cy="22.9" r="2.1"/><circle cx="532.6" cy="22.9" r="2.1"/><circle cx="536.5" cy="22.9" r="2.1"/><circle cx="540.3" cy="22.9" r="2.1"/><circle cx="544.2" cy="22.9" r="2.1" class="e"/><circle cx="548.1" cy="22.9" r="2.1"/><circle cx="551.9" cy="22.9" r="2.1"/><circle cx="555.8" cy="22.9" r="2.1"/><circle cx="559.7" cy="22.9" r="2.1"/><circle cx="563.5" cy="22.9" r="2.1"/><circle cx="567.4" cy="22.9" r="2.1"/><circle cx="571.3" cy="22.9" r="2.1"/><circle cx="575.1" cy="22.9" r="2.1"/><circle cx="579.0" cy="22.9" r="2.1"/><circle cx="582.9" cy="22.9" r="2.1"/><circle cx="586.7" cy="22.9" r="2.1" class="e"/><circle cx="590.6" cy="22.9" r="2.1"/><circle cx="594.5" cy="22.9" r="2.1"/><circle cx="598.3" cy="22.9" r="2.1"/><circle cx="602.2" cy="22.9" r="2.1"/><circle cx="606.1" cy="22.9" r="2.1"/><circle cx="609.9" cy="22.9" r="2.1"/><circle cx="613.8" cy="22.9" r="2.1"/><circle cx="617.7" cy="22.9" r="2.1"/><circle cx="621.5" cy="22.9" r="2.1"/><circle cx="625.4" cy="22.9" r="2.1"/><circle cx="629.3" cy="22.9" r="2.1"/><circle cx="633.1" cy="22.9" r="2.1" class="b"/><circle cx="637.0" cy="22.9" r="2.1"/><circle cx="640.9" cy="22.9" r="2.1" class="b"/><circle cx="644.7" cy="22.9" r="2.1"/><circle cx="648.6" cy="22.9" r="2.1"/><circle cx="652.5" cy="22.9" r="2.1"/><circle cx="656.4" cy="22.9" r="2.1"/><circle cx="660.2" cy="22.9" r="2.1"/><circle cx="523.0" cy="26.0" r="2.1"/><circle cx="526.9" cy="26.0" r="2.1" class="b"/><circle cx="530.8" cy="26.0" r="2.1"/><circle cx="534.7" cy="26.0" r="2.1"/><circle cx="538.7" cy="26.0" r="2.1"/><circle cx="542.6" cy="26.0" r="2.1"/><circle cx="546.5" cy="26.0" r="2.1"/><circle cx="550.4" cy="26.0" r="2.1" class="e"/><circle cx="554.3" cy="26.0" r="2.1"/><circle cx="558.2" cy="26.0" r="2.1"/><circle cx="562.1" cy="26.0" r="2.1"/><circle cx="566.1" cy="26.0" r="2.1"/><circle cx="570.0" cy="26.0" r="2.1"/><circle cx="573.9" cy="26.0" r="2.1"/><circle cx="577.8" cy="26.0" r="2.1"/><circle cx="581.7" cy="26.0" r="2.1"/><circle cx="585.6" cy="26.0" r="2.1"/><circle cx="589.5" cy="26.0" r="2.1"/><circle cx="593.5" cy="26.0" r="2.1"/><circle cx="597.4" cy="26.0" r="2.1"/><circle cx="601.3" cy="26.0" r="2.1" class="e"/><circle cx="605.2" cy="26.0" r="2.1" class="b"/><circle cx="609.1" cy="26.0" r="2.1" class="e"/><circle cx="613.0" cy="26.0" r="2.1"/><circle cx="616.9" cy="26.0" r="2.1"/><circle cx="620.9" cy="26.0" r="2.1"/><circle cx="624.8" cy="26.0" r="2.1"/><circle cx="628.7" cy="26.0" r="2.1"/><circle cx="632.6" cy="26.0" r="2.1"/><circle cx="636.5" cy="26.0" r="2.1"/><circle cx="640.4" cy="26.0" r="2.1"/><circle cx="644.3" cy="26.0" r="2.1"/><circle cx="648.3" cy="26.0" r="2.1"/><circle cx="652.2" cy="26.0" r="2.1"/><circle cx="656.1" cy="26.0" r="2.1"/><circle cx="660.0" cy="26.0" r="2.1"/><circle cx="663.9" cy="26.0" r="2.1"/><circle cx="517.9" cy="29.1" r="2.1"/><circle cx="521.8" cy="29.1" r="2.1"/><circle cx="525.8" cy="29.1" r="2.1"/><circle cx="529.7" cy="29.1" r="2.1"/><circle cx="533.7" cy="29.1" r="2.1"/><circle cx="537.7" cy="29.1" r="2.1"/><circle cx="541.6" cy="29.1" r="2.1"/><circle cx="545.6" cy="29.1" r="2.1"/><circle cx="549.6" cy="29.1" r="2.1"/><circle cx="553.5" cy="29.1" r="2.1"/><circle cx="557.5" cy="29.1" r="2.1" class="b"/><circle cx="561.4" cy="29.1" r="2.1" class="e"/><circle cx="565.4" cy="29.1" r="2.1"/><circle cx="569.4" cy="29.1" r="2.1"/><circle cx="573.3" cy="29.1" r="2.1"/><circle cx="577.3" cy="29.1" r="2.1"/><circle cx="581.3" cy="29.1" r="2.1"/><circle cx="585.2" cy="29.1" r="2.1"/><circle cx="589.2" cy="29.1" r="2.1"/><circle cx="593.1" cy="29.1" r="2.1"/><circle cx="597.1" cy="29.1" r="2.1"/><circle cx="601.1" cy="29.1" r="2.1"/><circle cx="605.0" cy="29.1" r="2.1"/><circle cx="609.0" cy="29.1" r="2.1"/><circle cx="613.0" cy="29.1" r="2.1" class="b"/><circle cx="616.9" cy="29.1" r="2.1"/><circle cx="620.9" cy="29.1" r="2.1"/><circle cx="624.8" cy="29.1" r="2.1" class="e"/><circle cx="628.8" cy="29.1" r="2.1"/><circle cx="632.8" cy="29.1" r="2.1"/><circle cx="636.7" cy="29.1" r="2.1"/><circle cx="640.7" cy="29.1" r="2.1"/><circle cx="644.7" cy="29.1" r="2.1"/><circle cx="648.6" cy="29.1" r="2.1" class="b"/><circle cx="652.6" cy="29.1" r="2.1"/><circle cx="656.5" cy="29.1" r="2.1"/><circle cx="660.5" cy="29.1" r="2.1"/><circle cx="664.5" cy="29.1" r="2.1"/><circle cx="512.1" cy="32.3" r="2.2"/><circle cx="516.1" cy="32.3" r="2.2"/><circle cx="520.1" cy="32.3" r="2.2"/><circle cx="524.1" cy="32.3" r="2.2"/><circle cx="528.1" cy="32.3" r="2.2"/><circle cx="532.1" cy="32.3" r="2.2" class="b"/><circle cx="536.1" cy="32.3" r="2.2"/><circle cx="540.1" cy="32.3" r="2.2"/><circle cx="544.1" cy="32.3" r="2.2"/><circle cx="548.2" cy="32.3" r="2.2"/><circle cx="552.2" cy="32.3" r="2.2"/><circle cx="556.2" cy="32.3" r="2.2"/><circle cx="560.2" cy="32.3" r="2.2"/><circle cx="564.2" cy="32.3" r="2.2"/><circle cx="568.2" cy="32.3" r="2.2"/><circle cx="572.2" cy="32.3" r="2.2"/><circle cx="576.2" cy="32.3" r="2.2"/><circle cx="580.2" cy="32.3" r="2.2" class="b"/><circle cx="584.3" cy="32.3" r="2.2"/><circle cx="588.3" cy="32.3" r="2.2" class="e"/><circle cx="592.3" cy="32.3" r="2.2"/><circle cx="596.3" cy="32.3" r="2.2"/><circle cx="600.3" cy="32.3" r="2.2"/><circle cx="604.3" cy="32.3" r="2.2"/><circle cx="608.3" cy="32.3" r="2.2"/><circle cx="612.3" cy="32.3" r="2.2"/><circle cx="616.3" cy="32.3" r="2.2"/><circle cx="620.4" cy="32.3" r="2.2"/><circle cx="624.4" cy="32.3" r="2.2"/><circle cx="628.4" cy="32.3" r="2.2"/><circle cx="632.4" cy="32.3" r="2.2"/><circle cx="636.4" cy="32.3" r="2.2"/><circle cx="640.4" cy="32.3" r="2.2" class="e"/><circle cx="644.4" cy="32.3" r="2.2"/><circle cx="648.4" cy="32.3" r="2.2" class="b"/><circle cx="652.4" cy="32.3" r="2.2" class="b"/><circle cx="656.5" cy="32.3" r="2.2"/><circle cx="660.5" cy="32.3" r="2.2"/><circle cx="664.5" cy="32.3" r="2.2"/><circle cx="668.5" cy="32.3" r="2.2"/><circle cx="506.2" cy="35.5" r="2.2"/><circle cx="510.3" cy="35.5" r="2.2" class="b"/><circle cx="514.3" cy="35.5" r="2.2"/><circle cx="518.4" cy="35.5" r="2.2"/><circle cx="522.5" cy="35.5" r="2.2"/><circle cx="526.5" cy="35.5" r="2.2"/><circle cx="530.6" cy="35.5" r="2.2" class="e"/><circle cx="534.6" cy="35.5" r="2.2"/><circle cx="538.7" cy="35.5" r="2.2"/><circle cx="542.8" cy="35.5" r="2.2"/><circle cx="546.8" cy="35.5" r="2.2"/><circle cx="550.9" cy="35.5" r="2.2" class="b"/><circle cx="555.0" cy="35.5" r="2.2" class="e"/><circle cx="559.0" cy="35.5" r="2.2"/><circle cx="563.1" cy="35.5" r="2.2"/><circle cx="567.1" cy="35.5" r="2.2"/><circle cx="571.2" cy="35.5" r="2.2"/><circle cx="575.3" cy="35.5" r="2.2"/><circle cx="579.3" cy="35.5" r="2.2"/><circle cx="583.4" cy="35.5" r="2.2"/><circle cx="587.4" cy="35.5" r="2.2"/><circle cx="603.7" cy="35.5" r="2.2"/><circle cx="607.7" cy="35.5" r="2.2"/><circle cx="611.8" cy="35.5" r="2.2" class="e"/><circle cx="615.9" cy="35.5" r="2.2"/><circle cx="619.9" cy="35.5" r="2.2"/><circle cx="624.0" cy="35.5" r="2.2"/><circle cx="628.0" cy="35.5" r="2.2"/><circle cx="632.1" cy="35.5" r="2.2"/><circle cx="636.2" cy="35.5" r="2.2" class="b"/><circle cx="640.2" cy="35.5" r="2.2"/><circle cx="644.3" cy="35.5" r="2.2"/><circle cx="648.3" cy="35.5" r="2.2"/><circle cx="652.4" cy="35.5" r="2.2" class="e"/><circle cx="656.5" cy="35.5" r="2.2"/><circle cx="660.5" cy="35.5" r="2.2"/><circle cx="664.6" cy="35.5" r="2.2"/><circle cx="668.6" cy="35.5" r="2.2"/><circle cx="672.7" cy="35.5" r="2.2"/><circle cx="504.5" cy="38.8" r="2.2" class="b"/><circle cx="508.6" cy="38.8" r="2.2"/><circle cx="512.7" cy="38.8" r="2.2"/><circle cx="516.8" cy="38.8" r="2.2"/><circle cx="520.9" cy="38.8" r="2.2"/><circle cx="525.0" cy="38.8" r="2.2"/><circle cx="529.2" cy="38.8" r="2.2" class="b"/><circle cx="533.3" cy="38.8" r="2.2"/><circle cx="537.4" cy="38.8" r="2.2"/><circle cx="541.5" cy="38.8" r="2.2" class="e"/><circle cx="545.6" cy="38.8" r="2.2"/><circle cx="549.7" cy="38.8" r="2.2"/><circle cx="553.8" cy="38.8" r="2.2"/><circle cx="557.9" cy="38.8" r="2.2"/><circle cx="562.0" cy="38.8" r="2.2" class="b"/><circle cx="566.1" cy="38.8" r="2.2"/><circle cx="570.3" cy="38.8" r="2.2"/><circle cx="574.4" cy="38.8" r="2.2"/><circle cx="615.5" cy="38.8" r="2.2"/><circle cx="619.6" cy="38.8" r="2.2" class="e"/><circle cx="623.7" cy="38.8" r="2.2"/><circle cx="627.8" cy="38.8" r="2.2"/><circle cx="631.9" cy="38.8" r="2.2"/><circle cx="636.0" cy="38.8" r="2.2"/><circle cx="640.1" cy="38.8" r="2.2" class="b"/><circle cx="644.2" cy="38.8" r="2.2"/><circle cx="648.3" cy="38.8" r="2.2"/><circle cx="652.5" cy="38.8" r="2.2"/><circle cx="656.6" cy="38.8" r="2.2" class="e"/><circle cx="660.7" cy="38.8" r="2.2"/><circle cx="664.8" cy="38.8" r="2.2"/><circle cx="668.9" cy="38.8" r="2.2" class="b"/><circle cx="673.0" cy="38.8" r="2.2" class="b"/><circle cx="677.1" cy="38.8" r="2.2"/><circle cx="498.6" cy="42.0" r="2.2"/><circle cx="502.8" cy="42.0" r="2.2"/><circle cx="506.9" cy="42.0" r="2.2"/><circle cx="511.1" cy="42.0" r="2.2"/><circle cx="515.2" cy="42.0" r="2.2"/><circle cx="519.4" cy="42.0" r="2.2"/><circle cx="523.6" cy="42.0" r="2.2"/><circle cx="527.7" cy="42.0" r="2.2"/><circle cx="531.9" cy="42.0" r="2.2"/><circle cx="536.0" cy="42.0" r="2.2"/><circle cx="540.2" cy="42.0" r="2.2"/><circle cx="544.4" cy="42.0" r="2.2"/><circle cx="548.5" cy="42.0" r="2.2"/><circle cx="552.7" cy="42.0" r="2.2" class="e"/><circle cx="556.8" cy="42.0" r="2.2"/><circle cx="561.0" cy="42.0" r="2.2"/><circle cx="565.2" cy="42.0" r="2.2"/><circle cx="569.3" cy="42.0" r="2.2" class="b"/><circle cx="573.5" cy="42.0" r="2.2"/><circle cx="577.6" cy="42.0" r="2.2"/><circle cx="615.1" cy="42.0" r="2.2"/><circle cx="619.2" cy="42.0" r="2.2"/><circle cx="623.4" cy="42.0" r="2.2"/><circle cx="627.6" cy="42.0" r="2.2"/><circle cx="631.7" cy="42.0" r="2.2"/><circle cx="635.9" cy="42.0" r="2.2"/><circle cx="640.0" cy="42.0" r="2.2"/><circle cx="644.2" cy="42.0" r="2.2"/><circle cx="648.4" cy="42.0" r="2.2"/><circle cx="652.5" cy="42.0" r="2.2"/><circle cx="656.7" cy="42.0" r="2.2"/><circle cx="660.8" cy="42.0" r="2.2"/><circle cx="665.0" cy="42.0" r="2.2"/><circle cx="669.2" cy="42.0" r="2.2"/><circle cx="673.3" cy="42.0" r="2.2" class="b"/><circle cx="677.5" cy="42.0" r="2.2"/><circle cx="681.6" cy="42.0" r="2.2"/><circle cx="496.4" cy="45.4" r="2.3"/><circle cx="500.6" cy="45.4" r="2.3"/><circle cx="504.8" cy="45.4" r="2.3"/><circle cx="509.0" cy="45.4" r="2.3"/><circle cx="513.2" cy="45.4" r="2.3" class="e"/><circle cx="517.4" cy="45.4" r="2.3"/><circle cx="521.6" cy="45.4" r="2.3"/><circle cx="525.8" cy="45.4" r="2.3"/><circle cx="530.0" cy="45.4" r="2.3"/><circle cx="534.3" cy="45.4" r="2.3" class="b"/><circle cx="538.5" cy="45.4" r="2.3"/><circle cx="542.7" cy="45.4" r="2.3"/><circle cx="546.9" cy="45.4" r="2.3"/><circle cx="551.1" cy="45.4" r="2.3"/><circle cx="555.3" cy="45.4" r="2.3" class="b"/><circle cx="559.5" cy="45.4" r="2.3"/><circle cx="563.7" cy="45.4" r="2.3" class="b"/><circle cx="576.4" cy="45.4" r="2.3"/><circle cx="584.8" cy="45.4" r="2.3"/><circle cx="589.0" cy="45.4" r="2.3"/><circle cx="593.2" cy="45.4" r="2.3"/><circle cx="597.4" cy="45.4" r="2.3"/><circle cx="601.6" cy="45.4" r="2.3" class="b"/><circle cx="614.3" cy="45.4" r="2.3"/><circle cx="618.5" cy="45.4" r="2.3"/><circle cx="622.7" cy="45.4" r="2.3"/><circle cx="626.9" cy="45.4" r="2.3"/><circle cx="631.1" cy="45.4" r="2.3" class="b"/><circle cx="635.3" cy="45.4" r="2.3"/><circle cx="639.5" cy="45.4" r="2.3"/><circle cx="643.8" cy="45.4" r="2.3"/><circle cx="648.0" cy="45.4" r="2.3"/><circle cx="652.2" cy="45.4" r="2.3"/><circle cx="656.4" cy="45.4" r="2.3"/><circle cx="660.6" cy="45.4" r="2.3"/><circle cx="664.8" cy="45.4" r="2.3" class="e"/><circle cx="669.0" cy="45.4" r="2.3"/><circle cx="673.2" cy="45.4" r="2.3"/><circle cx="677.4" cy="45.4" r="2.3"/><circle cx="681.7" cy="45.4" r="2.3"/><circle cx="498.5" cy="48.7" r="2.3"/><circle cx="502.8" cy="48.7" r="2.3"/><circle cx="507.1" cy="48.7" r="2.3"/><circle cx="511.3" cy="48.7" r="2.3"/><circle cx="515.6" cy="48.7" r="2.3"/><circle cx="519.9" cy="48.7" r="2.3" class="b"/><circle cx="524.1" cy="48.7" r="2.3" class="b"/><circle cx="528.4" cy="48.7" r="2.3"/><circle cx="532.7" cy="48.7" r="2.3"/><circle cx="536.9" cy="48.7" r="2.3" class="b"/><circle cx="541.2" cy="48.7" r="2.3"/><circle cx="545.4" cy="48.7" r="2.3"/><circle cx="549.7" cy="48.7" r="2.3"/><circle cx="554.0" cy="48.7" r="2.3"/><circle cx="558.2" cy="48.7" r="2.3"/><circle cx="583.8" cy="48.7" r="2.3"/><circle cx="588.1" cy="48.7" r="2.3"/><circle cx="592.3" cy="48.7" r="2.3"/><circle cx="596.6" cy="48.7" r="2.3"/><circle cx="600.9" cy="48.7" r="2.3"/><circle cx="613.7" cy="48.7" r="2.3"/><circle cx="617.9" cy="48.7" r="2.3"/><circle cx="622.2" cy="48.7" r="2.3" class="b"/><circle cx="626.4" cy="48.7" r="2.3"/><circle cx="630.7" cy="48.7" r="2.3" class="b"/><circle cx="635.0" cy="48.7" r="2.3" class="b"/><circle cx="639.2" cy="48.7" r="2.3"/><circle cx="643.5" cy="48.7" r="2.3"/><circle cx="647.8" cy="48.7" r="2.3" class="e"/><circle cx="652.0" cy="48.7" r="2.3"/><circle cx="656.3" cy="48.7" r="2.3"/><circle cx="660.5" cy="48.7" r="2.3" class="b"/><circle cx="664.8" cy="48.7" r="2.3" class="b"/><circle cx="669.1" cy="48.7" r="2.3"/><circle cx="673.3" cy="48.7" r="2.3" class="e"/><circle cx="677.6" cy="48.7" r="2.3"/><circle cx="681.9" cy="48.7" r="2.3"/><circle cx="686.1" cy="48.7" r="2.3"/><circle cx="496.6" cy="52.2" r="2.3"/><circle cx="500.9" cy="52.2" r="2.3"/><circle cx="505.2" cy="52.2" r="2.3" class="e"/><circle cx="509.5" cy="52.2" r="2.3"/><circle cx="513.8" cy="52.2" r="2.3"/><circle cx="518.1" cy="52.2" r="2.3" class="b"/><circle cx="522.4" cy="52.2" r="2.3"/><circle cx="526.8" cy="52.2" r="2.3" class="e"/><circle cx="531.1" cy="52.2" r="2.3"/><circle cx="535.4" cy="52.2" r="2.3"/><circle cx="539.7" cy="52.2" r="2.3"/><circle cx="544.0" cy="52.2" r="2.3"/><circle cx="548.3" cy="52.2" r="2.3" class="b"/><circle cx="552.6" cy="52.2" r="2.3" class="b"/><circle cx="557.0" cy="52.2" r="2.3"/><circle cx="582.9" cy="52.2" r="2.3"/><circle cx="587.2" cy="52.2" r="2.3"/><circle cx="591.5" cy="52.2" r="2.3"/><circle cx="595.8" cy="52.2" r="2.3" class="b"/><circle cx="600.1" cy="52.2" r="2.3"/><circle cx="604.4" cy="52.2" r="2.3"/><circle cx="617.4" cy="52.2" r="2.3"/><circle cx="621.7" cy="52.2" r="2.3"/><circle cx="626.0" cy="52.2" r="2.3"/><circle cx="630.3" cy="52.2" r="2.3" class="b"/><circle cx="634.6" cy="52.2" r="2.3"/><circle cx="639.0" cy="52.2" r="2.3"/><circle cx="643.3" cy="52.2" r="2.3"/><circle cx="647.6" cy="52.2" r="2.3"/><circle cx="651.9" cy="52.2" r="2.3"/><circle cx="656.2" cy="52.2" r="2.3"/><circle cx="660.5" cy="52.2" r="2.3"/><circle cx="664.8" cy="52.2" r="2.3"/><circle cx="669.2" cy="52.2" r="2.3"/><circle cx="673.5" cy="52.2" r="2.3"/><circle cx="677.8" cy="52.2" r="2.3"/><circle cx="682.1" cy="52.2" r="2.3"/><circle cx="686.4" cy="52.2" r="2.3"/><circle cx="690.7" cy="52.2" r="2.3"/><circle cx="498.7" cy="55.6" r="2.4" class="b"/><circle cx="503.1" cy="55.6" r="2.4"/><circle cx="507.4" cy="55.6" r="2.4"/><circle cx="511.8" cy="55.6" r="2.4"/><circle cx="516.2" cy="55.6" r="2.4"/><circle cx="520.5" cy="55.6" r="2.4" class="b"/><circle cx="524.9" cy="55.6" r="2.4"/><circle cx="529.3" cy="55.6" r="2.4"/><circle cx="533.7" cy="55.6" r="2.4"/><circle cx="538.0" cy="55.6" r="2.4"/><circle cx="542.4" cy="55.6" r="2.4" class="e"/><circle cx="546.8" cy="55.6" r="2.4"/><circle cx="551.1" cy="55.6" r="2.4"/><circle cx="555.5" cy="55.6" r="2.4"/><circle cx="581.7" cy="55.6" r="2.4"/><circle cx="586.1" cy="55.6" r="2.4" class="b"/><circle cx="590.4" cy="55.6" r="2.4"/><circle cx="594.8" cy="55.6" r="2.4"/><circle cx="599.2" cy="55.6" r="2.4"/><circle cx="603.5" cy="55.6" r="2.4" class="e"/><circle cx="616.6" cy="55.6" r="2.4" class="e"/><circle cx="621.0" cy="55.6" r="2.4" class="b"/><circle cx="625.4" cy="55.6" r="2.4"/><circle cx="629.8" cy="55.6" r="2.4"/><circle cx="634.1" cy="55.6" r="2.4"/><circle cx="638.5" cy="55.6" r="2.4"/><circle cx="642.9" cy="55.6" r="2.4"/><circle cx="647.2" cy="55.6" r="2.4" class="e"/><circle cx="651.6" cy="55.6" r="2.4"/><circle cx="656.0" cy="55.6" r="2.4" class="b"/><circle cx="660.3" cy="55.6" r="2.4"/><circle cx="664.7" cy="55.6" r="2.4" class="b"/><circle cx="669.1" cy="55.6" r="2.4"/><circle cx="673.4" cy="55.6" r="2.4"/><circle cx="677.8" cy="55.6" r="2.4"/><circle cx="682.2" cy="55.6" r="2.4"/><circle cx="686.5" cy="55.6" r="2.4"/><circle cx="690.9" cy="55.6" r="2.4"/><circle cx="695.3" cy="55.6" r="2.4"/><circle cx="501.1" cy="59.1" r="2.4"/><circle cx="505.5" cy="59.1" r="2.4"/><circle cx="509.9" cy="59.1" r="2.4" class="e"/><circle cx="514.3" cy="59.1" r="2.4"/><circle cx="518.7" cy="59.1" r="2.4"/><circle cx="523.2" cy="59.1" r="2.4" class="b"/><circle cx="527.6" cy="59.1" r="2.4"/><circle cx="532.0" cy="59.1" r="2.4"/><circle cx="536.4" cy="59.1" r="2.4"/><circle cx="540.8" cy="59.1" r="2.4"/><circle cx="545.3" cy="59.1" r="2.4"/><circle cx="549.7" cy="59.1" r="2.4"/><circle cx="554.1" cy="59.1" r="2.4"/><circle cx="558.5" cy="59.1" r="2.4" class="b"/><circle cx="580.6" cy="59.1" r="2.4" class="b"/><circle cx="585.1" cy="59.1" r="2.4"/><circle cx="589.5" cy="59.1" r="2.4"/><circle cx="593.9" cy="59.1" r="2.4" class="b"/><circle cx="598.3" cy="59.1" r="2.4"/><circle cx="602.8" cy="59.1" r="2.4"/><circle cx="616.0" cy="59.1" r="2.4"/><circle cx="620.4" cy="59.1" r="2.4"/><circle cx="624.9" cy="59.1" r="2.4"/><circle cx="629.3" cy="59.1" r="2.4"/><circle cx="633.7" cy="59.1" r="2.4"/><circle cx="638.1" cy="59.1" r="2.4"/><circle cx="642.5" cy="59.1" r="2.4"/><circle cx="647.0" cy="59.1" r="2.4"/><circle cx="651.4" cy="59.1" r="2.4" class="b"/><circle cx="655.8" cy="59.1" r="2.4" class="b"/><circle cx="660.2" cy="59.1" r="2.4"/><circle cx="664.7" cy="59.1" r="2.4"/><circle cx="669.1" cy="59.1" r="2.4" class="b"/><circle cx="673.5" cy="59.1" r="2.4"/><circle cx="677.9" cy="59.1" r="2.4"/><circle cx="682.3" cy="59.1" r="2.4"/><circle cx="686.8" cy="59.1" r="2.4"/><circle cx="691.2" cy="59.1" r="2.4"/><circle cx="695.6" cy="59.1" r="2.4"/><circle cx="700.0" cy="59.1" r="2.4"/><circle cx="503.6" cy="62.6" r="2.4"/><circle cx="508.1" cy="62.6" r="2.4"/><circle cx="512.6" cy="62.6" r="2.4"/><circle cx="517.1" cy="62.6" r="2.4"/><circle cx="521.5" cy="62.6" r="2.4"/><circle cx="526.0" cy="62.6" r="2.4"/><circle cx="530.5" cy="62.6" r="2.4"/><circle cx="535.0" cy="62.6" r="2.4"/><circle cx="539.4" cy="62.6" r="2.4" class="e"/><circle cx="543.9" cy="62.6" r="2.4"/><circle cx="548.4" cy="62.6" r="2.4"/><circle cx="552.9" cy="62.6" r="2.4"/><circle cx="557.3" cy="62.6" r="2.4"/><circle cx="579.7" cy="62.6" r="2.4"/><circle cx="584.2" cy="62.6" r="2.4"/><circle cx="588.7" cy="62.6" r="2.4"/><circle cx="593.1" cy="62.6" r="2.4"/><circle cx="597.6" cy="62.6" r="2.4"/><circle cx="602.1" cy="62.6" r="2.4"/><circle cx="615.5" cy="62.6" r="2.4"/><circle cx="620.0" cy="62.6" r="2.4"/><circle cx="624.5" cy="62.6" r="2.4"/><circle cx="629.0" cy="62.6" r="2.4"/><circle cx="633.4" cy="62.6" r="2.4"/><circle cx="637.9" cy="62.6" r="2.4"/><circle cx="642.4" cy="62.6" r="2.4" class="b"/><circle cx="646.9" cy="62.6" r="2.4" class="b"/><circle cx="651.3" cy="62.6" r="2.4"/><circle cx="655.8" cy="62.6" r="2.4"/><circle cx="660.3" cy="62.6" r="2.4"/><circle cx="664.8" cy="62.6" r="2.4"/><circle cx="669.2" cy="62.6" r="2.4"/><circle cx="673.7" cy="62.6" r="2.4"/><circle cx="678.2" cy="62.6" r="2.4"/><circle cx="682.7" cy="62.6" r="2.4" class="e"/><circle cx="687.1" cy="62.6" r="2.4" class="e"/><circle cx="691.6" cy="62.6" r="2.4" class="b"/><circle cx="696.1" cy="62.6" r="2.4"/><circle cx="700.6" cy="62.6" r="2.4"/><circle cx="501.4" cy="66.2" r="2.4" class="b"/><circle cx="505.9" cy="66.2" r="2.4"/><circle cx="510.5" cy="66.2" r="2.4"/><circle cx="515.0" cy="66.2" r="2.4" class="b"/><circle cx="519.5" cy="66.2" r="2.4"/><circle cx="524.1" cy="66.2" r="2.4"/><circle cx="528.6" cy="66.2" r="2.4"/><circle cx="533.1" cy="66.2" r="2.4"/><circle cx="537.7" cy="66.2" r="2.4"/><circle cx="542.2" cy="66.2" r="2.4"/><circle cx="546.7" cy="66.2" r="2.4"/><circle cx="551.3" cy="66.2" r="2.4"/><circle cx="555.8" cy="66.2" r="2.4"/><circle cx="560.3" cy="66.2" r="2.4" class="b"/><circle cx="583.0" cy="66.2" r="2.4"/><circle cx="587.5" cy="66.2" r="2.4"/><circle cx="592.0" cy="66.2" r="2.4"/><circle cx="596.6" cy="66.2" r="2.4"/><circle cx="601.1" cy="66.2" r="2.4"/><circle cx="614.7" cy="66.2" r="2.4" class="b"/><circle cx="619.2" cy="66.2" r="2.4"/><circle cx="623.7" cy="66.2" r="2.4"/><circle cx="628.3" cy="66.2" r="2.4"/><circle cx="632.8" cy="66.2" r="2.4"/><circle cx="637.3" cy="66.2" r="2.4"/><circle cx="641.9" cy="66.2" r="2.4"/><circle cx="646.4" cy="66.2" r="2.4"/><circle cx="650.9" cy="66.2" r="2.4"/><circle cx="655.5" cy="66.2" r="2.4"/><circle cx="660.0" cy="66.2" r="2.4"/><circle cx="664.5" cy="66.2" r="2.4"/><circle cx="669.1" cy="66.2" r="2.4"/><circle cx="673.6" cy="66.2" r="2.4"/><circle cx="678.1" cy="66.2" r="2.4"/><circle cx="682.7" cy="66.2" r="2.4"/><circle cx="687.2" cy="66.2" r="2.4"/><circle cx="691.7" cy="66.2" r="2.4"/><circle cx="696.2" cy="66.2" r="2.4" class="b"/><circle cx="700.8" cy="66.2" r="2.4"/><circle cx="705.3" cy="66.2" r="2.4"/><circle cx="504.1" cy="69.8" r="2.5" class="b"/><circle cx="508.7" cy="69.8" r="2.5"/><circle cx="513.3" cy="69.8" r="2.5"/><circle cx="517.9" cy="69.8" r="2.5"/><circle cx="522.5" cy="69.8" r="2.5" class="b"/><circle cx="527.1" cy="69.8" r="2.5"/><circle cx="531.7" cy="69.8" r="2.5"/><circle cx="536.3" cy="69.8" r="2.5" class="b"/><circle cx="540.8" cy="69.8" r="2.5"/><circle cx="545.4" cy="69.8" r="2.5"/><circle cx="550.0" cy="69.8" r="2.5"/><circle cx="554.6" cy="69.8" r="2.5"/><circle cx="559.2" cy="69.8" r="2.5"/><circle cx="582.1" cy="69.8" r="2.5"/><circle cx="586.7" cy="69.8" r="2.5"/><circle cx="591.3" cy="69.8" r="2.5"/><circle cx="595.9" cy="69.8" r="2.5" class="b"/><circle cx="600.5" cy="69.8" r="2.5"/><circle cx="614.2" cy="69.8" r="2.5"/><circle cx="618.8" cy="69.8" r="2.5"/><circle cx="623.4" cy="69.8" r="2.5"/><circle cx="628.0" cy="69.8" r="2.5"/><circle cx="632.6" cy="69.8" r="2.5"/><circle cx="637.2" cy="69.8" r="2.5"/><circle cx="641.7" cy="69.8" r="2.5"/><circle cx="646.3" cy="69.8" r="2.5" class="b"/><circle cx="650.9" cy="69.8" r="2.5"/><circle cx="655.5" cy="69.8" r="2.5"/><circle cx="660.1" cy="69.8" r="2.5"/><circle cx="664.7" cy="69.8" r="2.5" class="b"/><circle cx="669.3" cy="69.8" r="2.5"/><circle cx="673.8" cy="69.8" r="2.5"/><circle cx="678.4" cy="69.8" r="2.5" class="e"/><circle cx="683.0" cy="69.8" r="2.5" class="b"/><circle cx="687.6" cy="69.8" r="2.5"/><circle cx="692.2" cy="69.8" r="2.5"/><circle cx="696.8" cy="69.8" r="2.5" class="b"/><circle cx="701.4" cy="69.8" r="2.5"/><circle cx="705.9" cy="69.8" r="2.5"/><circle cx="506.6" cy="73.5" r="2.5"/><circle cx="511.2" cy="73.5" r="2.5"/><circle cx="515.9" cy="73.5" r="2.5"/><circle cx="520.5" cy="73.5" r="2.5"/><circle cx="525.2" cy="73.5" r="2.5"/><circle cx="529.8" cy="73.5" r="2.5"/><circle cx="534.4" cy="73.5" r="2.5"/><circle cx="539.1" cy="73.5" r="2.5"/><circle cx="543.7" cy="73.5" r="2.5" class="e"/><circle cx="548.4" cy="73.5" r="2.5"/><circle cx="553.0" cy="73.5" r="2.5"/><circle cx="557.7" cy="73.5" r="2.5"/><circle cx="562.3" cy="73.5" r="2.5"/><circle cx="580.9" cy="73.5" r="2.5"/><circle cx="585.5" cy="73.5" r="2.5"/><circle cx="590.2" cy="73.5" r="2.5"/><circle cx="594.8" cy="73.5" r="2.5"/><circle cx="599.4" cy="73.5" r="2.5" class="e"/><circle cx="618.0" cy="73.5" r="2.5"/><circle cx="622.6" cy="73.5" r="2.5"/><circle cx="627.3" cy="73.5" r="2.5"/><circle cx="631.9" cy="73.5" r="2.5"/><circle cx="636.6" cy="73.5" r="2.5"/><circle cx="641.2" cy="73.5" r="2.5"/><circle cx="645.9" cy="73.5" r="2.5"/><circle cx="650.5" cy="73.5" r="2.5"/><circle cx="655.1" cy="73.5" r="2.5"/><circle cx="659.8" cy="73.5" r="2.5"/><circle cx="664.4" cy="73.5" r="2.5"/><circle cx="669.1" cy="73.5" r="2.5"/><circle cx="673.7" cy="73.5" r="2.5"/><circle cx="678.4" cy="73.5" r="2.5"/><circle cx="683.0" cy="73.5" r="2.5"/><circle cx="687.6" cy="73.5" r="2.5"/><circle cx="692.3" cy="73.5" r="2.5"/><circle cx="696.9" cy="73.5" r="2.5"/><circle cx="701.6" cy="73.5" r="2.5"/><circle cx="504.5" cy="77.2" r="2.5"/><circle cx="509.2" cy="77.2" r="2.5" class="e"/><circle cx="513.9" cy="77.2" r="2.5"/><circle cx="518.6" cy="77.2" r="2.5"/><circle cx="523.3" cy="77.2" r="2.5"/><circle cx="528.0" cy="77.2" r="2.5"/><circle cx="532.7" cy="77.2" r="2.5"/><circle cx="537.4" cy="77.2" r="2.5"/><circle cx="542.1" cy="77.2" r="2.5"/><circle cx="546.8" cy="77.2" r="2.5"/><circle cx="551.5" cy="77.2" r="2.5"/><circle cx="556.2" cy="77.2" r="2.5" class="e"/><circle cx="560.9" cy="77.2" r="2.5"/><circle cx="565.6" cy="77.2" r="2.5"/><circle cx="584.4" cy="77.2" r="2.5" class="b"/><circle cx="589.1" cy="77.2" r="2.5"/><circle cx="593.8" cy="77.2" r="2.5"/><circle cx="598.5" cy="77.2" r="2.5"/><circle cx="603.2" cy="77.2" r="2.5"/><circle cx="617.3" cy="77.2" r="2.5" class="e"/><circle cx="622.0" cy="77.2" r="2.5"/><circle cx="626.7" cy="77.2" r="2.5"/><circle cx="631.4" cy="77.2" r="2.5" class="b"/><circle cx="636.1" cy="77.2" r="2.5"/><circle cx="640.8" cy="77.2" r="2.5" class="e"/><circle cx="645.5" cy="77.2" r="2.5"/><circle cx="650.2" cy="77.2" r="2.5"/><circle cx="654.9" cy="77.2" r="2.5" class="b"/><circle cx="659.6" cy="77.2" r="2.5"/><circle cx="664.3" cy="77.2" r="2.5"/><circle cx="669.0" cy="77.2" r="2.5" class="e"/><circle cx="673.7" cy="77.2" r="2.5"/><circle cx="678.4" cy="77.2" r="2.5" class="b"/><circle cx="683.1" cy="77.2" r="2.5"/><circle cx="687.8" cy="77.2" r="2.5"/><circle cx="692.5" cy="77.2" r="2.5"/><circle cx="697.2" cy="77.2" r="2.5"/><circle cx="507.0" cy="81.0" r="2.6"/><circle cx="511.7" cy="81.0" r="2.6"/><circle cx="516.5" cy="81.0" r="2.6"/><circle cx="521.3" cy="81.0" r="2.6"/><circle cx="526.0" cy="81.0" r="2.6" class="e"/><circle cx="530.8" cy="81.0" r="2.6" class="b"/><circle cx="535.5" cy="81.0" r="2.6"/><circle cx="540.3" cy="81.0" r="2.6"/><circle cx="545.0" cy="81.0" r="2.6" class="b"/><circle cx="549.8" cy="81.0" r="2.6"/><circle cx="554.6" cy="81.0" r="2.6"/><circle cx="559.3" cy="81.0" r="2.6"/><circle cx="564.1" cy="81.0" r="2.6" class="b"/><circle cx="568.8" cy="81.0" r="2.6"/><circle cx="573.6" cy="81.0" r="2.6" class="b"/><circle cx="578.3" cy="81.0" r="2.6"/><circle cx="583.1" cy="81.0" r="2.6"/><circle cx="587.9" cy="81.0" r="2.6"/><circle cx="592.6" cy="81.0" r="2.6"/><circle cx="597.4" cy="81.0" r="2.6"/><circle cx="602.1" cy="81.0" r="2.6"/><circle cx="616.4" cy="81.0" r="2.6"/><circle cx="621.2" cy="81.0" r="2.6"/><circle cx="625.9" cy="81.0" r="2.6"/><circle cx="630.7" cy="81.0" r="2.6"/><circle cx="635.4" cy="81.0" r="2.6"/><circle cx="640.2" cy="81.0" r="2.6"/><circle cx="644.9" cy="81.0" r="2.6"/><circle cx="649.7" cy="81.0" r="2.6"/><circle cx="654.4" cy="81.0" r="2.6" class="b"/><circle cx="659.2" cy="81.0" r="2.6"/><circle cx="664.0" cy="81.0" r="2.6"/><circle cx="668.7" cy="81.0" r="2.6"/><circle cx="673.5" cy="81.0" r="2.6"/><circle cx="678.2" cy="81.0" r="2.6" class="e"/><circle cx="683.0" cy="81.0" r="2.6"/><circle cx="687.7" cy="81.0" r="2.6"/><circle cx="692.5" cy="81.0" r="2.6"/><circle cx="697.3" cy="81.0" r="2.6"/><circle cx="505.1" cy="84.8" r="2.6"/><circle cx="509.9" cy="84.8" r="2.6"/><circle cx="514.8" cy="84.8" r="2.6"/><circle cx="519.6" cy="84.8" r="2.6"/><circle cx="524.4" cy="84.8" r="2.6"/><circle cx="529.2" cy="84.8" r="2.6"/><circle cx="534.0" cy="84.8" r="2.6"/><circle cx="538.8" cy="84.8" r="2.6"/><circle cx="543.6" cy="84.8" r="2.6" class="e"/><circle cx="548.5" cy="84.8" r="2.6"/><circle cx="553.3" cy="84.8" r="2.6"/><circle cx="558.1" cy="84.8" r="2.6"/><circle cx="562.9" cy="84.8" r="2.6"/><circle cx="567.7" cy="84.8" r="2.6"/><circle cx="572.5" cy="84.8" r="2.6"/><circle cx="577.4" cy="84.8" r="2.6"/><circle cx="582.2" cy="84.8" r="2.6"/><circle cx="587.0" cy="84.8" r="2.6"/><circle cx="591.8" cy="84.8" r="2.6" class="e"/><circle cx="596.6" cy="84.8" r="2.6" class="b"/><circle cx="601.4" cy="84.8" r="2.6"/><circle cx="615.9" cy="84.8" r="2.6"/><circle cx="620.7" cy="84.8" r="2.6"/><circle cx="625.5" cy="84.8" r="2.6" class="b"/><circle cx="630.3" cy="84.8" r="2.6" class="e"/><circle cx="635.1" cy="84.8" r="2.6"/><circle cx="640.0" cy="84.8" r="2.6"/><circle cx="644.8" cy="84.8" r="2.6"/><circle cx="649.6" cy="84.8" r="2.6"/><circle cx="654.4" cy="84.8" r="2.6"/><circle cx="659.2" cy="84.8" r="2.6"/><circle cx="664.0" cy="84.8" r="2.6" class="b"/><circle cx="668.8" cy="84.8" r="2.6"/><circle cx="673.7" cy="84.8" r="2.6"/><circle cx="678.5" cy="84.8" r="2.6"/><circle cx="683.3" cy="84.8" r="2.6"/><circle cx="688.1" cy="84.8" r="2.6"/><circle cx="692.9" cy="84.8" r="2.6" class="e"/><circle cx="507.7" cy="88.6" r="2.6"/><circle cx="512.5" cy="88.6" r="2.6"/><circle cx="517.4" cy="88.6" r="2.6" class="b"/><circle cx="522.3" cy="88.6" r="2.6"/><circle cx="527.1" cy="88.6" r="2.6"/><circle cx="532.0" cy="88.6" r="2.6" class="e"/><circle cx="536.9" cy="88.6" r="2.6"/><circle cx="541.8" cy="88.6" r="2.6"/><circle cx="546.6" cy="88.6" r="2.6"/><circle cx="551.5" cy="88.6" r="2.6"/><circle cx="556.4" cy="88.6" r="2.6" class="e"/><circle cx="561.3" cy="88.6" r="2.6" class="e"/><circle cx="566.1" cy="88.6" r="2.6"/><circle cx="571.0" cy="88.6" r="2.6"/><circle cx="575.9" cy="88.6" r="2.6"/><circle cx="580.8" cy="88.6" r="2.6"/><circle cx="585.6" cy="88.6" r="2.6"/><circle cx="590.5" cy="88.6" r="2.6"/><circle cx="595.4" cy="88.6" r="2.6"/><circle cx="600.3" cy="88.6" r="2.6"/><circle cx="605.1" cy="88.6" r="2.6"/><circle cx="610.0" cy="88.6" r="2.6"/><circle cx="614.9" cy="88.6" r="2.6"/><circle cx="619.8" cy="88.6" r="2.6"/><circle cx="624.6" cy="88.6" r="2.6" class="e"/><circle cx="629.5" cy="88.6" r="2.6"/><circle cx="634.4" cy="88.6" r="2.6"/><circle cx="639.3" cy="88.6" r="2.6" class="b"/><circle cx="644.1" cy="88.6" r="2.6"/><circle cx="649.0" cy="88.6" r="2.6"/><circle cx="653.9" cy="88.6" r="2.6"/><circle cx="658.8" cy="88.6" r="2.6"/><circle cx="663.6" cy="88.6" r="2.6" class="b"/><circle cx="668.5" cy="88.6" r="2.6"/><circle cx="673.4" cy="88.6" r="2.6"/><circle cx="678.3" cy="88.6" r="2.6"/><circle cx="683.1" cy="88.6" r="2.6"/><circle cx="688.0" cy="88.6" r="2.6"/><circle cx="510.0" cy="92.5" r="2.7" class="e"/><circle cx="514.9" cy="92.5" r="2.7"/><circle cx="519.8" cy="92.5" r="2.7"/><circle cx="524.8" cy="92.5" r="2.7"/><circle cx="529.7" cy="92.5" r="2.7"/><circle cx="534.6" cy="92.5" r="2.7" class="b"/><circle cx="539.6" cy="92.5" r="2.7"/><circle cx="544.5" cy="92.5" r="2.7"/><circle cx="549.4" cy="92.5" r="2.7"/><circle cx="554.4" cy="92.5" r="2.7"/><circle cx="559.3" cy="92.5" r="2.7" class="b"/><circle cx="564.2" cy="92.5" r="2.7"/><circle cx="569.2" cy="92.5" r="2.7"/><circle cx="574.1" cy="92.5" r="2.7"/><circle cx="579.1" cy="92.5" r="2.7"/><circle cx="584.0" cy="92.5" r="2.7"/><circle cx="588.9" cy="92.5" r="2.7"/><circle cx="593.9" cy="92.5" r="2.7"/><circle cx="598.8" cy="92.5" r="2.7"/><circle cx="603.7" cy="92.5" r="2.7"/><circle cx="608.7" cy="92.5" r="2.7" class="b"/><circle cx="613.6" cy="92.5" r="2.7" class="e"/><circle cx="618.5" cy="92.5" r="2.7" class="b"/><circle cx="623.5" cy="92.5" r="2.7"/><circle cx="628.4" cy="92.5" r="2.7"/><circle cx="633.3" cy="92.5" r="2.7"/><circle cx="638.3" cy="92.5" r="2.7"/><circle cx="643.2" cy="92.5" r="2.7"/><circle cx="648.1" cy="92.5" r="2.7"/><circle cx="653.1" cy="92.5" r="2.7" class="b"/><circle cx="658.0" cy="92.5" r="2.7"/><circle cx="662.9" cy="92.5" r="2.7"/><circle cx="667.9" cy="92.5" r="2.7"/><circle cx="672.8" cy="92.5" r="2.7"/><circle cx="677.7" cy="92.5" r="2.7"/><circle cx="682.7" cy="92.5" r="2.7"/><circle cx="687.6" cy="92.5" r="2.7"/><circle cx="508.2" cy="96.5" r="2.7" class="e"/><circle cx="513.2" cy="96.5" r="2.7"/><circle cx="518.2" cy="96.5" r="2.7"/><circle cx="523.2" cy="96.5" r="2.7"/><circle cx="528.2" cy="96.5" r="2.7"/><circle cx="533.2" cy="96.5" r="2.7"/><circle cx="538.2" cy="96.5" r="2.7"/><circle cx="543.1" cy="96.5" r="2.7"/><circle cx="548.1" cy="96.5" r="2.7" class="b"/><circle cx="553.1" cy="96.5" r="2.7"/><circle cx="558.1" cy="96.5" r="2.7"/><circle cx="563.1" cy="96.5" r="2.7"/><circle cx="568.1" cy="96.5" r="2.7"/><circle cx="573.1" cy="96.5" r="2.7"/><circle cx="578.1" cy="96.5" r="2.7"/><circle cx="583.1" cy="96.5" r="2.7"/><circle cx="588.1" cy="96.5" r="2.7"/><circle cx="593.1" cy="96.5" r="2.7"/><circle cx="598.1" cy="96.5" r="2.7" class="b"/><circle cx="603.1" cy="96.5" r="2.7" class="b"/><circle cx="608.1" cy="96.5" r="2.7"/><circle cx="613.1" cy="96.5" r="2.7"/><circle cx="618.1" cy="96.5" r="2.7"/><circle cx="623.1" cy="96.5" r="2.7"/><circle cx="628.1" cy="96.5" r="2.7"/><circle cx="633.1" cy="96.5" r="2.7"/><circle cx="638.0" cy="96.5" r="2.7"/><circle cx="643.0" cy="96.5" r="2.7"/><circle cx="648.0" cy="96.5" r="2.7"/><circle cx="653.0" cy="96.5" r="2.7"/><circle cx="658.0" cy="96.5" r="2.7"/><circle cx="663.0" cy="96.5" r="2.7" class="b"/><circle cx="668.0" cy="96.5" r="2.7"/><circle cx="673.0" cy="96.5" r="2.7" class="b"/><circle cx="678.0" cy="96.5" r="2.7"/><circle cx="683.0" cy="96.5" r="2.7"/><circle cx="510.7" cy="100.5" r="2.7"/><circle cx="515.8" cy="100.5" r="2.7" class="e"/><circle cx="520.8" cy="100.5" r="2.7"/><circle cx="525.9" cy="100.5" r="2.7"/><circle cx="531.0" cy="100.5" r="2.7" class="b"/><circle cx="536.0" cy="100.5" r="2.7"/><circle cx="541.1" cy="100.5" r="2.7" class="e"/><circle cx="546.1" cy="100.5" r="2.7"/><circle cx="551.2" cy="100.5" r="2.7"/><circle cx="556.2" cy="100.5" r="2.7"/><circle cx="561.3" cy="100.5" r="2.7"/><circle cx="566.3" cy="100.5" r="2.7"/><circle cx="571.4" cy="100.5" r="2.7"/><circle cx="576.5" cy="100.5" r="2.7"/><circle cx="581.5" cy="100.5" r="2.7"/><circle cx="586.6" cy="100.5" r="2.7"/><circle cx="591.6" cy="100.5" r="2.7" class="b"/><circle cx="596.7" cy="100.5" r="2.7"/><circle cx="601.7" cy="100.5" r="2.7"/><circle cx="606.8" cy="100.5" r="2.7"/><circle cx="611.9" cy="100.5" r="2.7"/><circle cx="616.9" cy="100.5" r="2.7"/><circle cx="622.0" cy="100.5" r="2.7"/><circle cx="627.0" cy="100.5" r="2.7"/><circle cx="632.1" cy="100.5" r="2.7"/><circle cx="637.1" cy="100.5" r="2.7"/><circle cx="642.2" cy="100.5" r="2.7"/><circle cx="647.2" cy="100.5" r="2.7"/><circle cx="652.3" cy="100.5" r="2.7"/><circle cx="657.4" cy="100.5" r="2.7"/><circle cx="662.4" cy="100.5" r="2.7"/><circle cx="667.5" cy="100.5" r="2.7"/><circle cx="672.5" cy="100.5" r="2.7" class="b"/><circle cx="677.6" cy="100.5" r="2.7"/><circle cx="513.8" cy="104.5" r="2.8"/><circle cx="519.0" cy="104.5" r="2.8"/><circle cx="524.1" cy="104.5" r="2.8"/><circle cx="529.2" cy="104.5" r="2.8"/><circle cx="534.3" cy="104.5" r="2.8"/><circle cx="539.4" cy="104.5" r="2.8" class="b"/><circle cx="544.5" cy="104.5" r="2.8" class="e"/><circle cx="549.7" cy="104.5" r="2.8" class="e"/><circle cx="554.8" cy="104.5" r="2.8"/><circle cx="559.9" cy="104.5" r="2.8"/><circle cx="565.0" cy="104.5" r="2.8" class="e"/><circle cx="570.1" cy="104.5" r="2.8"/><circle cx="575.3" cy="104.5" r="2.8"/><circle cx="580.4" cy="104.5" r="2.8"/><circle cx="585.5" cy="104.5" r="2.8"/><circle cx="590.6" cy="104.5" r="2.8"/><circle cx="595.7" cy="104.5" r="2.8"/><circle cx="600.8" cy="104.5" r="2.8"/><circle cx="606.0" cy="104.5" r="2.8" class="b"/><circle cx="611.1" cy="104.5" r="2.8"/><circle cx="616.2" cy="104.5" r="2.8"/><circle cx="621.3" cy="104.5" r="2.8"/><circle cx="626.4" cy="104.5" r="2.8" class="e"/><circle cx="631.6" cy="104.5" r="2.8"/><circle cx="636.7" cy="104.5" r="2.8"/><circle cx="641.8" cy="104.5" r="2.8"/><circle cx="646.9" cy="104.5" r="2.8"/><circle cx="652.0" cy="104.5" r="2.8"/><circle cx="657.1" cy="104.5" r="2.8" class="e"/><circle cx="662.3" cy="104.5" r="2.8"/><circle cx="667.4" cy="104.5" r="2.8" class="b"/><circle cx="672.5" cy="104.5" r="2.8" class="b"/><circle cx="677.6" cy="104.5" r="2.8"/><circle cx="511.5" cy="108.6" r="2.8"/><circle cx="516.7" cy="108.6" r="2.8"/><circle cx="521.9" cy="108.6" r="2.8"/><circle cx="527.1" cy="108.6" r="2.8" class="b"/><circle cx="532.2" cy="108.6" r="2.8"/><circle cx="537.4" cy="108.6" r="2.8"/><circle cx="542.6" cy="108.6" r="2.8" class="b"/><circle cx="547.8" cy="108.6" r="2.8"/><circle cx="553.0" cy="108.6" r="2.8"/><circle cx="558.1" cy="108.6" r="2.8"/><circle cx="563.3" cy="108.6" r="2.8"/><circle cx="568.5" cy="108.6" r="2.8"/><circle cx="573.7" cy="108.6" r="2.8"/><circle cx="578.9" cy="108.6" r="2.8"/><circle cx="584.0" cy="108.6" r="2.8"/><circle cx="589.2" cy="108.6" r="2.8"/><circle cx="594.4" cy="108.6" r="2.8" class="b"/><circle cx="599.6" cy="108.6" r="2.8"/><circle cx="604.8" cy="108.6" r="2.8" class="b"/><circle cx="610.0" cy="108.6" r="2.8"/><circle cx="615.1" cy="108.6" r="2.8"/><circle cx="620.3" cy="108.6" r="2.8"/><circle cx="625.5" cy="108.6" r="2.8" class="e"/><circle cx="630.7" cy="108.6" r="2.8"/><circle cx="635.9" cy="108.6" r="2.8"/><circle cx="641.0" cy="108.6" r="2.8"/><circle cx="646.2" cy="108.6" r="2.8"/><circle cx="651.4" cy="108.6" r="2.8"/><circle cx="656.6" cy="108.6" r="2.8"/><circle cx="661.8" cy="108.6" r="2.8"/><circle cx="666.9" cy="108.6" r="2.8"/><circle cx="672.1" cy="108.6" r="2.8"/><circle cx="514.5" cy="112.8" r="2.8"/><circle cx="519.7" cy="112.8" r="2.8" class="b"/><circle cx="525.0" cy="112.8" r="2.8"/><circle cx="530.2" cy="112.8" r="2.8"/><circle cx="535.4" cy="112.8" r="2.8"/><circle cx="540.7" cy="112.8" r="2.8"/><circle cx="545.9" cy="112.8" r="2.8"/><circle cx="551.2" cy="112.8" r="2.8"/><circle cx="556.4" cy="112.8" r="2.8"/><circle cx="561.7" cy="112.8" r="2.8"/><circle cx="566.9" cy="112.8" r="2.8"/><circle cx="572.1" cy="112.8" r="2.8"/><circle cx="577.4" cy="112.8" r="2.8"/><circle cx="582.6" cy="112.8" r="2.8"/><circle cx="587.9" cy="112.8" r="2.8"/><circle cx="593.1" cy="112.8" r="2.8"/><circle cx="598.4" cy="112.8" r="2.8"/><circle cx="603.6" cy="112.8" r="2.8"/><circle cx="608.9" cy="112.8" r="2.8"/><circle cx="614.1" cy="112.8" r="2.8"/><circle cx="619.3" cy="112.8" r="2.8"/><circle cx="624.6" cy="112.8" r="2.8"/><circle cx="629.8" cy="112.8" r="2.8"/><circle cx="635.1" cy="112.8" r="2.8"/><circle cx="640.3" cy="112.8" r="2.8" class="e"/><circle cx="645.6" cy="112.8" r="2.8" class="b"/><circle cx="650.8" cy="112.8" r="2.8" class="b"/><circle cx="656.1" cy="112.8" r="2.8"/><circle cx="661.3" cy="112.8" r="2.8"/><circle cx="666.5" cy="112.8" r="2.8"/><circle cx="671.8" cy="112.8" r="2.8"/><circle cx="517.2" cy="117.0" r="2.9"/><circle cx="522.5" cy="117.0" r="2.9"/><circle cx="527.8" cy="117.0" r="2.9"/><circle cx="533.1" cy="117.0" r="2.9" class="b"/><circle cx="538.4" cy="117.0" r="2.9"/><circle cx="543.7" cy="117.0" r="2.9"/><circle cx="549.0" cy="117.0" r="2.9"/><circle cx="554.3" cy="117.0" r="2.9"/><circle cx="559.6" cy="117.0" r="2.9"/><circle cx="564.9" cy="117.0" r="2.9"/><circle cx="570.2" cy="117.0" r="2.9"/><circle cx="575.5" cy="117.0" r="2.9"/><circle cx="580.9" cy="117.0" r="2.9"/><circle cx="586.2" cy="117.0" r="2.9"/><circle cx="591.5" cy="117.0" r="2.9"/><circle cx="596.8" cy="117.0" r="2.9"/><circle cx="602.1" cy="117.0" r="2.9"/><circle cx="607.4" cy="117.0" r="2.9"/><circle cx="612.7" cy="117.0" r="2.9"/><circle cx="618.0" cy="117.0" r="2.9" class="b"/><circle cx="623.3" cy="117.0" r="2.9"/><circle cx="628.6" cy="117.0" r="2.9" class="e"/><circle cx="633.9" cy="117.0" r="2.9"/><circle cx="639.2" cy="117.0" r="2.9"/><circle cx="644.6" cy="117.0" r="2.9"/><circle cx="649.9" cy="117.0" r="2.9"/><circle cx="655.2" cy="117.0" r="2.9"/><circle cx="660.5" cy="117.0" r="2.9"/><circle cx="665.8" cy="117.0" r="2.9"/><circle cx="536.1" cy="121.2" r="2.9"/><circle cx="541.5" cy="121.2" r="2.9" class="b"/><circle cx="546.9" cy="121.2" r="2.9" class="b"/><circle cx="552.2" cy="121.2" r="2.9"/><circle cx="557.6" cy="121.2" r="2.9"/><circle cx="563.0" cy="121.2" r="2.9" class="b"/><circle cx="568.3" cy="121.2" r="2.9"/><circle cx="573.7" cy="121.2" r="2.9"/><circle cx="579.1" cy="121.2" r="2.9"/><circle cx="584.5" cy="121.2" r="2.9"/><circle cx="589.8" cy="121.2" r="2.9"/><circle cx="595.2" cy="121.2" r="2.9"/><circle cx="600.6" cy="121.2" r="2.9"/><circle cx="606.0" cy="121.2" r="2.9" class="e"/><circle cx="611.3" cy="121.2" r="2.9"/><circle cx="616.7" cy="121.2" r="2.9" class="e"/><circle cx="622.1" cy="121.2" r="2.9" class="b"/><circle cx="627.5" cy="121.2" r="2.9"/><circle cx="632.8" cy="121.2" r="2.9" class="b"/><circle cx="638.2" cy="121.2" r="2.9"/><circle cx="643.6" cy="121.2" r="2.9"/><circle cx="648.9" cy="121.2" r="2.9"/><circle cx="654.3" cy="121.2" r="2.9"/><circle cx="659.7" cy="121.2" r="2.9"/><circle cx="572.5" cy="125.5" r="2.9"/><circle cx="577.9" cy="125.5" r="2.9"/><circle cx="583.3" cy="125.5" r="2.9"/><circle cx="588.8" cy="125.5" r="2.9"/><circle cx="594.2" cy="125.5" r="2.9"/><circle cx="599.6" cy="125.5" r="2.9" class="b"/><circle cx="605.1" cy="125.5" r="2.9"/><circle cx="610.5" cy="125.5" r="2.9"/><circle cx="616.0" cy="125.5" r="2.9" class="e"/><circle cx="621.4" cy="125.5" r="2.9"/><circle cx="626.8" cy="125.5" r="2.9"/><circle cx="632.3" cy="125.5" r="2.9" class="b"/><circle cx="637.7" cy="125.5" r="2.9" class="b"/><circle cx="643.2" cy="125.5" r="2.9"/><circle cx="648.6" cy="125.5" r="2.9" class="b"/><circle cx="654.0" cy="125.5" r="2.9"/><circle cx="659.5" cy="125.5" r="2.9"/><circle cx="603.5" cy="129.9" r="3.0"/><circle cx="609.0" cy="129.9" r="3.0"/><circle cx="614.5" cy="129.9" r="3.0"/><circle cx="620.0" cy="129.9" r="3.0"/><circle cx="625.5" cy="129.9" r="3.0" class="b"/><circle cx="631.0" cy="129.9" r="3.0"/><circle cx="636.5" cy="129.9" r="3.0"/><circle cx="642.0" cy="129.9" r="3.0"/><circle cx="647.5" cy="129.9" r="3.0"/><circle cx="653.0" cy="129.9" r="3.0"/><circle cx="641.5" cy="134.3" r="3.0"/><circle cx="647.1" cy="134.3" r="3.0"/><circle cx="652.7" cy="134.3" r="3.0"/></g></g>
<g filter="url(#shb)"><g fill="url(#spha2)"><circle cx="822.3" cy="56.0" r="2.3" class="c2"/><circle cx="822.8" cy="63.1" r="2.4"/><circle cx="824.8" cy="66.7" r="2.4" class="b2"/><circle cx="825.2" cy="74.0" r="2.4"/><circle cx="827.9" cy="77.8" r="2.5"/><circle cx="1033.7" cy="77.8" r="2.5"/><circle cx="1029.2" cy="81.5" r="2.5" class="c2"/><circle cx="1033.8" cy="81.5" r="2.5"/><circle cx="827.7" cy="85.4" r="2.5"/><circle cx="1024.2" cy="85.4" r="2.5"/><circle cx="1028.9" cy="85.4" r="2.5"/><circle cx="1033.5" cy="85.4" r="2.5"/><circle cx="830.5" cy="89.2" r="2.6"/><circle cx="1019.8" cy="89.2" r="2.6"/><circle cx="1024.5" cy="89.2" r="2.6"/><circle cx="1029.2" cy="89.2" r="2.6"/><circle cx="1015.1" cy="93.1" r="2.6"/><circle cx="1019.9" cy="93.1" r="2.6"/><circle cx="1024.7" cy="93.1" r="2.6"/><circle cx="830.8" cy="97.1" r="2.6"/><circle cx="1014.7" cy="97.1" r="2.6"/><circle cx="1019.5" cy="97.1" r="2.6"/><circle cx="1010.0" cy="101.1" r="2.6" class="c2"/><circle cx="1014.8" cy="101.1" r="2.6" class="b2"/><circle cx="831.5" cy="105.1" r="2.7" class="b2"/><circle cx="1004.8" cy="105.1" r="2.7" class="c2"/><circle cx="1009.8" cy="105.1" r="2.7"/><circle cx="1014.7" cy="105.1" r="2.7"/><circle cx="834.0" cy="109.2" r="2.7"/><circle cx="1004.3" cy="109.2" r="2.7"/><circle cx="1009.3" cy="109.2" r="2.7" class="c2"/><circle cx="998.8" cy="113.4" r="2.7"/><circle cx="1003.9" cy="113.4" r="2.7"/><circle cx="834.8" cy="117.6" r="2.8" class="e2"/><circle cx="993.5" cy="117.6" r="2.8"/><circle cx="998.7" cy="117.6" r="2.8" class="b2"/><circle cx="1003.8" cy="117.6" r="2.8"/><circle cx="837.0" cy="121.8" r="2.8"/><circle cx="842.2" cy="121.8" r="2.8" class="f2"/><circle cx="847.4" cy="121.8" r="2.8"/><circle cx="852.6" cy="121.8" r="2.8"/><circle cx="992.5" cy="121.8" r="2.8" class="f2"/><circle cx="997.7" cy="121.8" r="2.8"/><circle cx="840.1" cy="126.1" r="2.8"/><circle cx="845.3" cy="126.1" r="2.8"/><circle cx="850.6" cy="126.1" r="2.8"/><circle cx="855.8" cy="126.1" r="2.8" class="e2"/><circle cx="861.0" cy="126.1" r="2.8"/><circle cx="866.3" cy="126.1" r="2.8"/><circle cx="871.5" cy="126.1" r="2.8"/><circle cx="876.8" cy="126.1" r="2.8"/><circle cx="882.0" cy="126.1" r="2.8" class="b2"/><circle cx="986.8" cy="126.1" r="2.8" class="c2"/><circle cx="992.0" cy="126.1" r="2.8" class="e2"/><circle cx="837.9" cy="130.4" r="2.9"/><circle cx="843.2" cy="130.4" r="2.9" class="b2"/><circle cx="848.5" cy="130.4" r="2.9"/><circle cx="853.8" cy="130.4" r="2.9"/><circle cx="859.1" cy="130.4" r="2.9"/><circle cx="864.4" cy="130.4" r="2.9"/><circle cx="869.7" cy="130.4" r="2.9"/><circle cx="875.0" cy="130.4" r="2.9" class="b2"/><circle cx="880.3" cy="130.4" r="2.9"/><circle cx="885.6" cy="130.4" r="2.9" class="f2"/><circle cx="890.9" cy="130.4" r="2.9"/><circle cx="896.2" cy="130.4" r="2.9" class="f2"/><circle cx="901.5" cy="130.4" r="2.9"/><circle cx="906.8" cy="130.4" r="2.9"/><circle cx="912.1" cy="130.4" r="2.9" class="c2"/><circle cx="917.4" cy="130.4" r="2.9"/><circle cx="981.0" cy="130.4" r="2.9" class="c2"/><circle cx="986.3" cy="130.4" r="2.9"/><circle cx="991.6" cy="130.4" r="2.9" class="b2"/><circle cx="851.5" cy="134.8" r="2.9"/><circle cx="856.9" cy="134.8" r="2.9" class="b2"/><circle cx="862.2" cy="134.8" r="2.9"/><circle cx="867.6" cy="134.8" r="2.9" class="f2"/><circle cx="872.9" cy="134.8" r="2.9"/><circle cx="878.3" cy="134.8" r="2.9"/><circle cx="883.7" cy="134.8" r="2.9" class="b2"/><circle cx="889.0" cy="134.8" r="2.9" class="e2"/><circle cx="894.4" cy="134.8" r="2.9"/><circle cx="899.7" cy="134.8" r="2.9" class="b2"/><circle cx="905.1" cy="134.8" r="2.9"/><circle cx="910.5" cy="134.8" r="2.9"/><circle cx="915.8" cy="134.8" r="2.9"/><circle cx="921.2" cy="134.8" r="2.9" class="b2"/><circle cx="926.5" cy="134.8" r="2.9"/><circle cx="931.9" cy="134.8" r="2.9"/><circle cx="937.3" cy="134.8" r="2.9" class="c2"/><circle cx="942.6" cy="134.8" r="2.9"/><circle cx="948.0" cy="134.8" r="2.9"/><circle cx="953.4" cy="134.8" r="2.9"/><circle cx="980.2" cy="134.8" r="2.9"/><circle cx="985.5" cy="134.8" r="2.9" class="b2"/><circle cx="881.9" cy="139.2" r="2.9" class="c2"/><circle cx="887.3" cy="139.2" r="2.9" class="f2"/><circle cx="892.8" cy="139.2" r="2.9"/><circle cx="898.2" cy="139.2" r="2.9"/><circle cx="903.6" cy="139.2" r="2.9"/><circle cx="909.0" cy="139.2" r="2.9"/><circle cx="914.4" cy="139.2" r="2.9"/><circle cx="919.9" cy="139.2" r="2.9"/><circle cx="925.3" cy="139.2" r="2.9" class="b2"/><circle cx="930.7" cy="139.2" r="2.9"/><circle cx="936.1" cy="139.2" r="2.9"/><circle cx="941.6" cy="139.2" r="2.9"/><circle cx="947.0" cy="139.2" r="2.9"/><circle cx="952.4" cy="139.2" r="2.9"/><circle cx="957.8" cy="139.2" r="2.9"/><circle cx="963.2" cy="139.2" r="2.9" class="e2"/><circle cx="968.7" cy="139.2" r="2.9"/><circle cx="974.1" cy="139.2" r="2.9"/><circle cx="979.5" cy="139.2" r="2.9"/><circle cx="912.5" cy="143.7" r="3.0"/><circle cx="918.0" cy="143.7" r="3.0" class="c2"/><circle cx="923.5" cy="143.7" r="3.0" class="c2"/><circle cx="928.9" cy="143.7" r="3.0"/><circle cx="934.4" cy="143.7" r="3.0" class="c2"/><circle cx="939.9" cy="143.7" r="3.0"/><circle cx="945.4" cy="143.7" r="3.0"/><circle cx="950.9" cy="143.7" r="3.0"/><circle cx="956.4" cy="143.7" r="3.0"/><circle cx="961.8" cy="143.7" r="3.0" class="b2"/><circle cx="967.3" cy="143.7" r="3.0" class="b2"/><circle cx="972.8" cy="143.7" r="3.0" class="c2"/><circle cx="978.3" cy="143.7" r="3.0"/><circle cx="949.6" cy="148.2" r="3.0" class="c2"/><circle cx="955.2" cy="148.2" r="3.0"/><circle cx="960.7" cy="148.2" r="3.0"/><circle cx="966.3" cy="148.2" r="3.0"/><circle cx="971.8" cy="148.2" r="3.0"/><circle cx="822.3" cy="52.6" r="2.3"/><circle cx="822.8" cy="59.6" r="2.4"/><circle cx="824.8" cy="63.2" r="2.4" class="b2"/><circle cx="825.2" cy="70.5" r="2.4" class="b2"/><circle cx="1033.7" cy="74.2" r="2.5" class="e2"/><circle cx="1029.2" cy="77.9" r="2.5"/><circle cx="1033.8" cy="77.9" r="2.5" class="e2"/><circle cx="827.7" cy="81.7" r="2.5" class="c2"/><circle cx="1028.9" cy="81.7" r="2.5" class="b2"/><circle cx="1033.5" cy="81.7" r="2.5" class="f2"/><circle cx="1024.5" cy="85.5" r="2.6"/><circle cx="1029.2" cy="85.5" r="2.6" class="c2"/><circle cx="1019.9" cy="89.4" r="2.6" class="e2"/><circle cx="1024.7" cy="89.4" r="2.6"/><circle cx="830.8" cy="93.3" r="2.6"/><circle cx="1014.7" cy="93.3" r="2.6" class="e2"/><circle cx="1019.5" cy="93.3" r="2.6"/><circle cx="1014.8" cy="97.3" r="2.6" class="c2"/><circle cx="831.5" cy="101.3" r="2.7" class="e2"/><circle cx="1009.8" cy="101.3" r="2.7"/><circle cx="1014.7" cy="101.3" r="2.7"/><circle cx="834.0" cy="105.3" r="2.7"/><circle cx="1004.3" cy="105.3" r="2.7" class="c2"/><circle cx="1009.3" cy="105.3" r="2.7"/><circle cx="1003.9" cy="109.4" r="2.7"/><circle cx="834.8" cy="113.6" r="2.8"/><circle cx="998.7" cy="113.6" r="2.8" class="e2"/><circle cx="1003.8" cy="113.6" r="2.8"/><circle cx="992.5" cy="117.8" r="2.8"/><circle cx="997.7" cy="117.8" r="2.8" class="e2"/><circle cx="840.1" cy="122.0" r="2.8"/><circle cx="845.3" cy="122.0" r="2.8"/><circle cx="850.6" cy="122.0" r="2.8" class="f2"/><circle cx="855.8" cy="122.0" r="2.8"/><circle cx="992.0" cy="122.0" r="2.8"/><circle cx="837.9" cy="126.3" r="2.9" class="e2"/><circle cx="843.2" cy="126.3" r="2.9"/><circle cx="848.5" cy="126.3" r="2.9"/><circle cx="853.8" cy="126.3" r="2.9" class="e2"/><circle cx="859.1" cy="126.3" r="2.9"/><circle cx="864.4" cy="126.3" r="2.9" class="e2"/><circle cx="869.7" cy="126.3" r="2.9"/><circle cx="875.0" cy="126.3" r="2.9"/><circle cx="880.3" cy="126.3" r="2.9"/><circle cx="885.6" cy="126.3" r="2.9"/><circle cx="986.3" cy="126.3" r="2.9"/><circle cx="991.6" cy="126.3" r="2.9"/><circle cx="851.5" cy="130.6" r="2.9"/><circle cx="856.9" cy="130.6" r="2.9"/><circle cx="862.2" cy="130.6" r="2.9" class="c2"/><circle cx="867.6" cy="130.6" r="2.9" class="e2"/><circle cx="872.9" cy="130.6" r="2.9" class="c2"/><circle cx="878.3" cy="130.6" r="2.9" class="c2"/><circle cx="883.7" cy="130.6" r="2.9"/><circle cx="889.0" cy="130.6" r="2.9"/><circle cx="894.4" cy="130.6" r="2.9"/><circle cx="899.7" cy="130.6" r="2.9"/><circle cx="905.1" cy="130.6" r="2.9" class="f2"/><circle cx="910.5" cy="130.6" r="2.9" class="e2"/><circle cx="915.8" cy="130.6" r="2.9" class="e2"/><circle cx="921.2" cy="130.6" r="2.9"/><circle cx="980.2" cy="130.6" r="2.9"/><circle cx="985.5" cy="130.6" r="2.9"/><circle cx="881.9" cy="135.0" r="2.9"/><circle cx="887.3" cy="135.0" r="2.9" class="e2"/><circle cx="892.8" cy="135.0" r="2.9"/><circle cx="898.2" cy="135.0" r="2.9"/><circle cx="903.6" cy="135.0" r="2.9" class="e2"/><circle cx="909.0" cy="135.0" r="2.9"/><circle cx="914.4" cy="135.0" r="2.9" class="e2"/><circle cx="919.9" cy="135.0" r="2.9"/><circle cx="925.3" cy="135.0" r="2.9" class="b2"/><circle cx="930.7" cy="135.0" r="2.9"/><circle cx="936.1" cy="135.0" r="2.9" class="e2"/><circle cx="941.6" cy="135.0" r="2.9"/><circle cx="947.0" cy="135.0" r="2.9"/><circle cx="952.4" cy="135.0" r="2.9" class="b2"/><circle cx="979.5" cy="135.0" r="2.9"/><circle cx="912.5" cy="139.4" r="3.0"/><circle cx="918.0" cy="139.4" r="3.0"/><circle cx="923.5" cy="139.4" r="3.0"/><circle cx="928.9" cy="139.4" r="3.0"/><circle cx="934.4" cy="139.4" r="3.0" class="c2"/><circle cx="939.9" cy="139.4" r="3.0"/><circle cx="945.4" cy="139.4" r="3.0"/><circle cx="950.9" cy="139.4" r="3.0"/><circle cx="956.4" cy="139.4" r="3.0"/><circle cx="961.8" cy="139.4" r="3.0"/><circle cx="967.3" cy="139.4" r="3.0"/><circle cx="972.8" cy="139.4" r="3.0"/><circle cx="978.3" cy="139.4" r="3.0"/><circle cx="949.6" cy="143.9" r="3.0"/><circle cx="955.2" cy="143.9" r="3.0"/><circle cx="960.7" cy="143.9" r="3.0" class="c2"/><circle cx="966.3" cy="143.9" r="3.0"/><circle cx="971.8" cy="143.9" r="3.0" class="c2"/><circle cx="822.8" cy="56.2" r="2.4"/><circle cx="825.2" cy="67.0" r="2.4"/><circle cx="1033.8" cy="74.3" r="2.5"/><circle cx="827.7" cy="78.1" r="2.5" class="c2"/><circle cx="1033.5" cy="78.1" r="2.5"/><circle cx="1029.2" cy="81.8" r="2.6"/><circle cx="1024.7" cy="85.7" r="2.6"/><circle cx="1019.5" cy="89.5" r="2.6" class="c2"/><circle cx="1014.8" cy="93.5" r="2.6"/><circle cx="831.5" cy="97.4" r="2.7"/><circle cx="1014.7" cy="97.4" r="2.7"/><circle cx="1009.3" cy="101.4" r="2.7"/><circle cx="1003.9" cy="105.5" r="2.7"/><circle cx="834.8" cy="109.6" r="2.8"/><circle cx="1003.8" cy="109.6" r="2.8"/><circle cx="997.7" cy="113.7" r="2.8"/><circle cx="992.0" cy="117.9" r="2.8"/><circle cx="837.9" cy="122.1" r="2.9" class="b2"/><circle cx="843.2" cy="122.1" r="2.9"/><circle cx="848.5" cy="122.1" r="2.9" class="f2"/><circle cx="853.8" cy="122.1" r="2.9"/><circle cx="991.6" cy="122.1" r="2.9" class="c2"/><circle cx="851.5" cy="126.4" r="2.9"/><circle cx="856.9" cy="126.4" r="2.9" class="c2"/><circle cx="862.2" cy="126.4" r="2.9"/><circle cx="867.6" cy="126.4" r="2.9"/><circle cx="872.9" cy="126.4" r="2.9"/><circle cx="878.3" cy="126.4" r="2.9" class="c2"/><circle cx="883.7" cy="126.4" r="2.9" class="c2"/><circle cx="889.0" cy="126.4" r="2.9" class="c2"/><circle cx="985.5" cy="126.4" r="2.9" class="f2"/><circle cx="881.9" cy="130.8" r="2.9"/><circle cx="887.3" cy="130.8" r="2.9"/><circle cx="892.8" cy="130.8" r="2.9"/><circle cx="898.2" cy="130.8" r="2.9" class="c2"/><circle cx="903.6" cy="130.8" r="2.9"/><circle cx="909.0" cy="130.8" r="2.9" class="c2"/><circle cx="914.4" cy="130.8" r="2.9" class="c2"/><circle cx="919.9" cy="130.8" r="2.9" class="f2"/><circle cx="979.5" cy="130.8" r="2.9" class="b2"/><circle cx="912.5" cy="135.2" r="3.0" class="c2"/><circle cx="918.0" cy="135.2" r="3.0"/><circle cx="923.5" cy="135.2" r="3.0"/><circle cx="928.9" cy="135.2" r="3.0" class="e2"/><circle cx="934.4" cy="135.2" r="3.0"/><circle cx="939.9" cy="135.2" r="3.0"/><circle cx="945.4" cy="135.2" r="3.0" class="c2"/><circle cx="950.9" cy="135.2" r="3.0"/><circle cx="978.3" cy="135.2" r="3.0" class="b2"/><circle cx="949.6" cy="139.6" r="3.0"/><circle cx="955.2" cy="139.6" r="3.0"/><circle cx="960.7" cy="139.6" r="3.0" class="b2"/><circle cx="966.3" cy="139.6" r="3.0"/><circle cx="971.8" cy="139.6" r="3.0"/></g><g fill="url(#spha)"><circle cx="877.2" cy="7.8" r="2.0"/><circle cx="880.9" cy="7.8" r="2.0"/><circle cx="884.6" cy="7.8" r="2.0" class="b"/><circle cx="888.4" cy="7.8" r="2.0" class="b"/><circle cx="892.1" cy="7.8" r="2.0"/><circle cx="895.8" cy="7.8" r="2.0"/><circle cx="899.6" cy="7.8" r="2.0" class="c"/><circle cx="903.3" cy="7.8" r="2.0"/><circle cx="907.0" cy="7.8" r="2.0"/><circle cx="910.7" cy="7.8" r="2.0" class="f"/><circle cx="914.5" cy="7.8" r="2.0"/><circle cx="918.2" cy="7.8" r="2.0" class="c"/><circle cx="921.9" cy="7.8" r="2.0"/><circle cx="925.6" cy="7.8" r="2.0" class="b"/><circle cx="929.4" cy="7.8" r="2.0"/><circle cx="933.1" cy="7.8" r="2.0" class="b"/><circle cx="936.8" cy="7.8" r="2.0" class="c"/><circle cx="940.5" cy="7.8" r="2.0"/><circle cx="944.3" cy="7.8" r="2.0" class="c"/><circle cx="872.5" cy="10.8" r="2.0"/><circle cx="876.3" cy="10.8" r="2.0" class="c"/><circle cx="880.1" cy="10.8" r="2.0"/><circle cx="883.8" cy="10.8" r="2.0"/><circle cx="887.6" cy="10.8" r="2.0"/><circle cx="891.4" cy="10.8" r="2.0" class="c"/><circle cx="895.1" cy="10.8" r="2.0"/><circle cx="898.9" cy="10.8" r="2.0" class="b"/><circle cx="902.7" cy="10.8" r="2.0" class="c"/><circle cx="906.4" cy="10.8" r="2.0" class="b"/><circle cx="910.2" cy="10.8" r="2.0" class="e"/><circle cx="914.0" cy="10.8" r="2.0"/><circle cx="917.8" cy="10.8" r="2.0" class="c"/><circle cx="921.5" cy="10.8" r="2.0"/><circle cx="925.3" cy="10.8" r="2.0" class="e"/><circle cx="929.1" cy="10.8" r="2.0" class="c"/><circle cx="932.8" cy="10.8" r="2.0"/><circle cx="936.6" cy="10.8" r="2.0"/><circle cx="940.4" cy="10.8" r="2.0"/><circle cx="944.1" cy="10.8" r="2.0" class="f"/><circle cx="947.9" cy="10.8" r="2.0"/><circle cx="951.7" cy="10.8" r="2.0" class="b"/><circle cx="955.4" cy="10.8" r="2.0"/><circle cx="959.2" cy="10.8" r="2.0"/><circle cx="963.0" cy="10.8" r="2.0"/><circle cx="966.7" cy="10.8" r="2.0"/><circle cx="970.5" cy="10.8" r="2.0"/><circle cx="974.3" cy="10.8" r="2.0"/><circle cx="978.1" cy="10.8" r="2.0" class="e"/><circle cx="981.8" cy="10.8" r="2.0" class="b"/><circle cx="985.6" cy="10.8" r="2.0" class="e"/><circle cx="989.4" cy="10.8" r="2.0" class="c"/><circle cx="867.7" cy="13.8" r="2.1" class="b"/><circle cx="871.5" cy="13.8" r="2.1"/><circle cx="875.3" cy="13.8" r="2.1" class="c"/><circle cx="879.1" cy="13.8" r="2.1" class="f"/><circle cx="882.9" cy="13.8" r="2.1" class="e"/><circle cx="886.7" cy="13.8" r="2.1"/><circle cx="890.5" cy="13.8" r="2.1" class="b"/><circle cx="894.3" cy="13.8" r="2.1"/><circle cx="898.2" cy="13.8" r="2.1" class="c"/><circle cx="902.0" cy="13.8" r="2.1"/><circle cx="905.8" cy="13.8" r="2.1"/><circle cx="909.6" cy="13.8" r="2.1"/><circle cx="913.4" cy="13.8" r="2.1" class="c"/><circle cx="917.2" cy="13.8" r="2.1" class="f"/><circle cx="921.0" cy="13.8" r="2.1"/><circle cx="924.8" cy="13.8" r="2.1" class="c"/><circle cx="928.7" cy="13.8" r="2.1"/><circle cx="932.5" cy="13.8" r="2.1"/><circle cx="936.3" cy="13.8" r="2.1"/><circle cx="940.1" cy="13.8" r="2.1" class="c"/><circle cx="943.9" cy="13.8" r="2.1" class="c"/><circle cx="947.7" cy="13.8" r="2.1"/><circle cx="951.5" cy="13.8" r="2.1" class="b"/><circle cx="955.3" cy="13.8" r="2.1"/><circle cx="959.2" cy="13.8" r="2.1" class="b"/><circle cx="963.0" cy="13.8" r="2.1"/><circle cx="966.8" cy="13.8" r="2.1" class="e"/><circle cx="970.6" cy="13.8" r="2.1" class="f"/><circle cx="974.4" cy="13.8" r="2.1"/><circle cx="978.2" cy="13.8" r="2.1" class="f"/><circle cx="982.0" cy="13.8" r="2.1"/><circle cx="985.8" cy="13.8" r="2.1"/><circle cx="989.7" cy="13.8" r="2.1"/><circle cx="861.9" cy="16.9" r="2.1"/><circle cx="865.8" cy="16.9" r="2.1"/><circle cx="869.6" cy="16.9" r="2.1" class="b"/><circle cx="873.5" cy="16.9" r="2.1"/><circle cx="877.3" cy="16.9" r="2.1"/><circle cx="881.2" cy="16.9" r="2.1" class="c"/><circle cx="885.0" cy="16.9" r="2.1"/><circle cx="888.9" cy="16.9" r="2.1" class="f"/><circle cx="892.8" cy="16.9" r="2.1" class="e"/><circle cx="896.6" cy="16.9" r="2.1"/><circle cx="900.5" cy="16.9" r="2.1"/><circle cx="904.3" cy="16.9" r="2.1"/><circle cx="908.2" cy="16.9" r="2.1" class="b"/><circle cx="912.0" cy="16.9" r="2.1"/><circle cx="915.9" cy="16.9" r="2.1"/><circle cx="919.7" cy="16.9" r="2.1" class="b"/><circle cx="923.6" cy="16.9" r="2.1" class="e"/><circle cx="927.5" cy="16.9" r="2.1"/><circle cx="931.3" cy="16.9" r="2.1"/><circle cx="935.2" cy="16.9" r="2.1" class="c"/><circle cx="939.0" cy="16.9" r="2.1"/><circle cx="942.9" cy="16.9" r="2.1"/><circle cx="946.7" cy="16.9" r="2.1" class="f"/><circle cx="950.6" cy="16.9" r="2.1"/><circle cx="954.5" cy="16.9" r="2.1"/><circle cx="958.3" cy="16.9" r="2.1"/><circle cx="962.2" cy="16.9" r="2.1"/><circle cx="966.0" cy="16.9" r="2.1"/><circle cx="969.9" cy="16.9" r="2.1"/><circle cx="973.7" cy="16.9" r="2.1" class="b"/><circle cx="977.6" cy="16.9" r="2.1" class="b"/><circle cx="981.4" cy="16.9" r="2.1"/><circle cx="985.3" cy="16.9" r="2.1" class="b"/><circle cx="989.2" cy="16.9" r="2.1"/><circle cx="993.0" cy="16.9" r="2.1" class="b"/><circle cx="856.8" cy="20.0" r="2.1" class="b"/><circle cx="860.7" cy="20.0" r="2.1" class="c"/><circle cx="864.6" cy="20.0" r="2.1"/><circle cx="868.5" cy="20.0" r="2.1"/><circle cx="872.4" cy="20.0" r="2.1" class="b"/><circle cx="876.3" cy="20.0" r="2.1" class="f"/><circle cx="880.2" cy="20.0" r="2.1"/><circle cx="884.1" cy="20.0" r="2.1"/><circle cx="888.0" cy="20.0" r="2.1"/><circle cx="891.9" cy="20.0" r="2.1"/><circle cx="895.8" cy="20.0" r="2.1"/><circle cx="899.7" cy="20.0" r="2.1"/><circle cx="903.6" cy="20.0" r="2.1"/><circle cx="907.5" cy="20.0" r="2.1"/><circle cx="911.4" cy="20.0" r="2.1"/><circle cx="915.3" cy="20.0" r="2.1"/><circle cx="919.2" cy="20.0" r="2.1" class="c"/><circle cx="923.1" cy="20.0" r="2.1"/><circle cx="927.0" cy="20.0" r="2.1"/><circle cx="930.9" cy="20.0" r="2.1" class="c"/><circle cx="934.8" cy="20.0" r="2.1"/><circle cx="938.7" cy="20.0" r="2.1"/><circle cx="942.6" cy="20.0" r="2.1" class="c"/><circle cx="946.5" cy="20.0" r="2.1"/><circle cx="950.4" cy="20.0" r="2.1"/><circle cx="954.3" cy="20.0" r="2.1"/><circle cx="958.2" cy="20.0" r="2.1" class="b"/><circle cx="962.1" cy="20.0" r="2.1"/><circle cx="966.0" cy="20.0" r="2.1"/><circle cx="969.9" cy="20.0" r="2.1"/><circle cx="973.8" cy="20.0" r="2.1" class="c"/><circle cx="977.7" cy="20.0" r="2.1"/><circle cx="981.6" cy="20.0" r="2.1" class="c"/><circle cx="985.5" cy="20.0" r="2.1"/><circle cx="989.4" cy="20.0" r="2.1"/><circle cx="993.3" cy="20.0" r="2.1" class="b"/><circle cx="851.7" cy="23.1" r="2.1"/><circle cx="855.6" cy="23.1" r="2.1"/><circle cx="859.6" cy="23.1" r="2.1"/><circle cx="863.5" cy="23.1" r="2.1"/><circle cx="867.5" cy="23.1" r="2.1"/><circle cx="871.4" cy="23.1" r="2.1" class="c"/><circle cx="875.4" cy="23.1" r="2.1" class="c"/><circle cx="879.3" cy="23.1" r="2.1"/><circle cx="883.3" cy="23.1" r="2.1"/><circle cx="887.2" cy="23.1" r="2.1" class="c"/><circle cx="891.1" cy="23.1" r="2.1" class="b"/><circle cx="895.1" cy="23.1" r="2.1" class="c"/><circle cx="899.0" cy="23.1" r="2.1"/><circle cx="903.0" cy="23.1" r="2.1"/><circle cx="906.9" cy="23.1" r="2.1"/><circle cx="910.9" cy="23.1" r="2.1" class="c"/><circle cx="914.8" cy="23.1" r="2.1"/><circle cx="918.8" cy="23.1" r="2.1"/><circle cx="922.7" cy="23.1" r="2.1"/><circle cx="926.6" cy="23.1" r="2.1"/><circle cx="930.6" cy="23.1" r="2.1"/><circle cx="934.5" cy="23.1" r="2.1" class="e"/><circle cx="938.5" cy="23.1" r="2.1"/><circle cx="942.4" cy="23.1" r="2.1"/><circle cx="946.4" cy="23.1" r="2.1" class="e"/><circle cx="950.3" cy="23.1" r="2.1" class="c"/><circle cx="954.3" cy="23.1" r="2.1" class="f"/><circle cx="958.2" cy="23.1" r="2.1"/><circle cx="962.1" cy="23.1" r="2.1" class="f"/><circle cx="966.1" cy="23.1" r="2.1" class="e"/><circle cx="970.0" cy="23.1" r="2.1"/><circle cx="974.0" cy="23.1" r="2.1" class="c"/><circle cx="977.9" cy="23.1" r="2.1" class="c"/><circle cx="981.9" cy="23.1" r="2.1" class="b"/><circle cx="985.8" cy="23.1" r="2.1"/><circle cx="989.8" cy="23.1" r="2.1"/><circle cx="993.7" cy="23.1" r="2.1"/><circle cx="997.6" cy="23.1" r="2.1"/><circle cx="845.7" cy="26.3" r="2.2"/><circle cx="849.6" cy="26.3" r="2.2"/><circle cx="853.6" cy="26.3" r="2.2" class="c"/><circle cx="857.6" cy="26.3" r="2.2"/><circle cx="861.6" cy="26.3" r="2.2" class="e"/><circle cx="865.6" cy="26.3" r="2.2" class="b"/><circle cx="869.6" cy="26.3" r="2.2" class="e"/><circle cx="873.6" cy="26.3" r="2.2" class="e"/><circle cx="877.6" cy="26.3" r="2.2" class="e"/><circle cx="881.6" cy="26.3" r="2.2"/><circle cx="885.5" cy="26.3" r="2.2"/><circle cx="889.5" cy="26.3" r="2.2" class="c"/><circle cx="893.5" cy="26.3" r="2.2"/><circle cx="897.5" cy="26.3" r="2.2"/><circle cx="901.5" cy="26.3" r="2.2" class="b"/><circle cx="905.5" cy="26.3" r="2.2"/><circle cx="909.5" cy="26.3" r="2.2"/><circle cx="913.5" cy="26.3" r="2.2" class="e"/><circle cx="917.5" cy="26.3" r="2.2" class="b"/><circle cx="921.5" cy="26.3" r="2.2"/><circle cx="925.4" cy="26.3" r="2.2"/><circle cx="929.4" cy="26.3" r="2.2" class="c"/><circle cx="933.4" cy="26.3" r="2.2"/><circle cx="937.4" cy="26.3" r="2.2" class="c"/><circle cx="941.4" cy="26.3" r="2.2"/><circle cx="945.4" cy="26.3" r="2.2"/><circle cx="949.4" cy="26.3" r="2.2"/><circle cx="953.4" cy="26.3" r="2.2" class="c"/><circle cx="957.4" cy="26.3" r="2.2"/><circle cx="961.3" cy="26.3" r="2.2" class="c"/><circle cx="965.3" cy="26.3" r="2.2" class="e"/><circle cx="969.3" cy="26.3" r="2.2" class="c"/><circle cx="973.3" cy="26.3" r="2.2" class="c"/><circle cx="977.3" cy="26.3" r="2.2"/><circle cx="981.3" cy="26.3" r="2.2" class="b"/><circle cx="985.3" cy="26.3" r="2.2" class="c"/><circle cx="989.3" cy="26.3" r="2.2"/><circle cx="993.3" cy="26.3" r="2.2"/><circle cx="997.3" cy="26.3" r="2.2"/><circle cx="1001.2" cy="26.3" r="2.2"/><circle cx="840.2" cy="29.4" r="2.2"/><circle cx="844.2" cy="29.4" r="2.2" class="c"/><circle cx="848.3" cy="29.4" r="2.2"/><circle cx="852.3" cy="29.4" r="2.2"/><circle cx="856.3" cy="29.4" r="2.2"/><circle cx="860.4" cy="29.4" r="2.2"/><circle cx="864.4" cy="29.4" r="2.2"/><circle cx="868.4" cy="29.4" r="2.2" class="f"/><circle cx="872.5" cy="29.4" r="2.2" class="c"/><circle cx="876.5" cy="29.4" r="2.2"/><circle cx="880.5" cy="29.4" r="2.2"/><circle cx="884.6" cy="29.4" r="2.2"/><circle cx="888.6" cy="29.4" r="2.2"/><circle cx="892.6" cy="29.4" r="2.2"/><circle cx="896.7" cy="29.4" r="2.2" class="b"/><circle cx="900.7" cy="29.4" r="2.2"/><circle cx="904.7" cy="29.4" r="2.2"/><circle cx="908.8" cy="29.4" r="2.2"/><circle cx="912.8" cy="29.4" r="2.2"/><circle cx="916.8" cy="29.4" r="2.2"/><circle cx="920.9" cy="29.4" r="2.2"/><circle cx="924.9" cy="29.4" r="2.2" class="b"/><circle cx="929.0" cy="29.4" r="2.2"/><circle cx="933.0" cy="29.4" r="2.2"/><circle cx="937.0" cy="29.4" r="2.2"/><circle cx="941.1" cy="29.4" r="2.2"/><circle cx="945.1" cy="29.4" r="2.2" class="b"/><circle cx="949.1" cy="29.4" r="2.2" class="c"/><circle cx="953.2" cy="29.4" r="2.2"/><circle cx="957.2" cy="29.4" r="2.2" class="c"/><circle cx="961.2" cy="29.4" r="2.2" class="b"/><circle cx="965.3" cy="29.4" r="2.2"/><circle cx="969.3" cy="29.4" r="2.2"/><circle cx="973.3" cy="29.4" r="2.2"/><circle cx="977.4" cy="29.4" r="2.2" class="b"/><circle cx="981.4" cy="29.4" r="2.2"/><circle cx="985.4" cy="29.4" r="2.2" class="b"/><circle cx="989.5" cy="29.4" r="2.2"/><circle cx="993.5" cy="29.4" r="2.2"/><circle cx="997.5" cy="29.4" r="2.2"/><circle cx="1001.6" cy="29.4" r="2.2" class="b"/><circle cx="834.1" cy="32.7" r="2.2"/><circle cx="838.2" cy="32.7" r="2.2"/><circle cx="842.3" cy="32.7" r="2.2" class="c"/><circle cx="846.4" cy="32.7" r="2.2" class="e"/><circle cx="850.5" cy="32.7" r="2.2"/><circle cx="854.6" cy="32.7" r="2.2" class="e"/><circle cx="858.6" cy="32.7" r="2.2" class="c"/><circle cx="862.7" cy="32.7" r="2.2"/><circle cx="866.8" cy="32.7" r="2.2"/><circle cx="870.9" cy="32.7" r="2.2"/><circle cx="875.0" cy="32.7" r="2.2" class="c"/><circle cx="879.0" cy="32.7" r="2.2" class="b"/><circle cx="883.1" cy="32.7" r="2.2" class="e"/><circle cx="887.2" cy="32.7" r="2.2" class="c"/><circle cx="891.3" cy="32.7" r="2.2" class="b"/><circle cx="895.4" cy="32.7" r="2.2" class="c"/><circle cx="899.4" cy="32.7" r="2.2"/><circle cx="903.5" cy="32.7" r="2.2"/><circle cx="907.6" cy="32.7" r="2.2"/><circle cx="911.7" cy="32.7" r="2.2"/><circle cx="915.8" cy="32.7" r="2.2"/><circle cx="919.9" cy="32.7" r="2.2" class="c"/><circle cx="923.9" cy="32.7" r="2.2"/><circle cx="928.0" cy="32.7" r="2.2"/><circle cx="932.1" cy="32.7" r="2.2"/><circle cx="936.2" cy="32.7" r="2.2" class="e"/><circle cx="940.3" cy="32.7" r="2.2"/><circle cx="944.3" cy="32.7" r="2.2"/><circle cx="948.4" cy="32.7" r="2.2" class="c"/><circle cx="952.5" cy="32.7" r="2.2"/><circle cx="956.6" cy="32.7" r="2.2" class="c"/><circle cx="960.7" cy="32.7" r="2.2" class="b"/><circle cx="964.7" cy="32.7" r="2.2" class="c"/><circle cx="968.8" cy="32.7" r="2.2" class="f"/><circle cx="972.9" cy="32.7" r="2.2"/><circle cx="977.0" cy="32.7" r="2.2" class="c"/><circle cx="981.1" cy="32.7" r="2.2"/><circle cx="985.1" cy="32.7" r="2.2" class="c"/><circle cx="989.2" cy="32.7" r="2.2"/><circle cx="993.3" cy="32.7" r="2.2" class="b"/><circle cx="997.4" cy="32.7" r="2.2"/><circle cx="1001.5" cy="32.7" r="2.2" class="c"/><circle cx="1005.6" cy="32.7" r="2.2" class="e"/><circle cx="828.2" cy="35.9" r="2.2"/><circle cx="832.3" cy="35.9" r="2.2"/><circle cx="836.4" cy="35.9" r="2.2" class="c"/><circle cx="840.6" cy="35.9" r="2.2"/><circle cx="844.7" cy="35.9" r="2.2"/><circle cx="848.8" cy="35.9" r="2.2"/><circle cx="852.9" cy="35.9" r="2.2" class="b"/><circle cx="857.1" cy="35.9" r="2.2" class="c"/><circle cx="861.2" cy="35.9" r="2.2"/><circle cx="865.3" cy="35.9" r="2.2"/><circle cx="869.5" cy="35.9" r="2.2"/><circle cx="873.6" cy="35.9" r="2.2"/><circle cx="877.7" cy="35.9" r="2.2"/><circle cx="881.8" cy="35.9" r="2.2"/><circle cx="886.0" cy="35.9" r="2.2"/><circle cx="890.1" cy="35.9" r="2.2" class="f"/><circle cx="894.2" cy="35.9" r="2.2"/><circle cx="898.4" cy="35.9" r="2.2" class="c"/><circle cx="902.5" cy="35.9" r="2.2"/><circle cx="906.6" cy="35.9" r="2.2" class="b"/><circle cx="910.7" cy="35.9" r="2.2" class="c"/><circle cx="914.9" cy="35.9" r="2.2" class="b"/><circle cx="919.0" cy="35.9" r="2.2"/><circle cx="923.1" cy="35.9" r="2.2"/><circle cx="927.2" cy="35.9" r="2.2" class="b"/><circle cx="931.4" cy="35.9" r="2.2" class="e"/><circle cx="935.5" cy="35.9" r="2.2"/><circle cx="939.6" cy="35.9" r="2.2"/><circle cx="943.8" cy="35.9" r="2.2" class="c"/><circle cx="947.9" cy="35.9" r="2.2" class="e"/><circle cx="952.0" cy="35.9" r="2.2"/><circle cx="956.1" cy="35.9" r="2.2"/><circle cx="960.3" cy="35.9" r="2.2" class="b"/><circle cx="964.4" cy="35.9" r="2.2"/><circle cx="968.5" cy="35.9" r="2.2"/><circle cx="972.7" cy="35.9" r="2.2"/><circle cx="976.8" cy="35.9" r="2.2"/><circle cx="980.9" cy="35.9" r="2.2"/><circle cx="985.0" cy="35.9" r="2.2"/><circle cx="989.2" cy="35.9" r="2.2" class="b"/><circle cx="993.3" cy="35.9" r="2.2" class="f"/><circle cx="997.4" cy="35.9" r="2.2"/><circle cx="1001.5" cy="35.9" r="2.2" class="b"/><circle cx="1005.7" cy="35.9" r="2.2"/><circle cx="822.6" cy="39.2" r="2.3"/><circle cx="826.7" cy="39.2" r="2.3"/><circle cx="830.9" cy="39.2" r="2.3"/><circle cx="835.1" cy="39.2" r="2.3"/><circle cx="839.3" cy="39.2" r="2.3"/><circle cx="843.4" cy="39.2" r="2.3"/><circle cx="847.6" cy="39.2" r="2.3"/><circle cx="851.8" cy="39.2" r="2.3"/><circle cx="856.0" cy="39.2" r="2.3"/><circle cx="860.1" cy="39.2" r="2.3" class="c"/><circle cx="864.3" cy="39.2" r="2.3"/><circle cx="868.5" cy="39.2" r="2.3" class="f"/><circle cx="872.7" cy="39.2" r="2.3"/><circle cx="876.8" cy="39.2" r="2.3"/><circle cx="881.0" cy="39.2" r="2.3"/><circle cx="885.2" cy="39.2" r="2.3" class="c"/><circle cx="889.4" cy="39.2" r="2.3" class="c"/><circle cx="893.5" cy="39.2" r="2.3"/><circle cx="897.7" cy="39.2" r="2.3"/><circle cx="901.9" cy="39.2" r="2.3" class="c"/><circle cx="906.1" cy="39.2" r="2.3" class="c"/><circle cx="910.2" cy="39.2" r="2.3"/><circle cx="914.4" cy="39.2" r="2.3" class="c"/><circle cx="918.6" cy="39.2" r="2.3" class="f"/><circle cx="922.8" cy="39.2" r="2.3"/><circle cx="926.9" cy="39.2" r="2.3"/><circle cx="931.1" cy="39.2" r="2.3"/><circle cx="935.3" cy="39.2" r="2.3" class="b"/><circle cx="939.5" cy="39.2" r="2.3" class="b"/><circle cx="943.6" cy="39.2" r="2.3" class="f"/><circle cx="947.8" cy="39.2" r="2.3" class="c"/><circle cx="952.0" cy="39.2" r="2.3"/><circle cx="956.2" cy="39.2" r="2.3"/><circle cx="960.3" cy="39.2" r="2.3"/><circle cx="964.5" cy="39.2" r="2.3"/><circle cx="968.7" cy="39.2" r="2.3" class="b"/><circle cx="972.9" cy="39.2" r="2.3" class="c"/><circle cx="977.0" cy="39.2" r="2.3" class="e"/><circle cx="981.2" cy="39.2" r="2.3"/><circle cx="985.4" cy="39.2" r="2.3" class="c"/><circle cx="989.6" cy="39.2" r="2.3"/><circle cx="993.7" cy="39.2" r="2.3"/><circle cx="997.9" cy="39.2" r="2.3" class="c"/><circle cx="1002.1" cy="39.2" r="2.3"/><circle cx="1006.3" cy="39.2" r="2.3"/><circle cx="1010.4" cy="39.2" r="2.3" class="c"/><circle cx="824.4" cy="42.6" r="2.3"/><circle cx="828.7" cy="42.6" r="2.3"/><circle cx="832.9" cy="42.6" r="2.3" class="b"/><circle cx="837.1" cy="42.6" r="2.3"/><circle cx="841.3" cy="42.6" r="2.3"/><circle cx="845.5" cy="42.6" r="2.3"/><circle cx="849.8" cy="42.6" r="2.3"/><circle cx="854.0" cy="42.6" r="2.3"/><circle cx="858.2" cy="42.6" r="2.3"/><circle cx="862.4" cy="42.6" r="2.3" class="f"/><circle cx="866.7" cy="42.6" r="2.3"/><circle cx="870.9" cy="42.6" r="2.3"/><circle cx="875.1" cy="42.6" r="2.3"/><circle cx="879.3" cy="42.6" r="2.3"/><circle cx="883.5" cy="42.6" r="2.3" class="b"/><circle cx="887.8" cy="42.6" r="2.3"/><circle cx="892.0" cy="42.6" r="2.3" class="e"/><circle cx="896.2" cy="42.6" r="2.3" class="e"/><circle cx="900.4" cy="42.6" r="2.3"/><circle cx="904.7" cy="42.6" r="2.3" class="e"/><circle cx="908.9" cy="42.6" r="2.3"/><circle cx="913.1" cy="42.6" r="2.3" class="c"/><circle cx="917.3" cy="42.6" r="2.3" class="c"/><circle cx="921.6" cy="42.6" r="2.3"/><circle cx="925.8" cy="42.6" r="2.3" class="b"/><circle cx="930.0" cy="42.6" r="2.3" class="b"/><circle cx="934.2" cy="42.6" r="2.3" class="c"/><circle cx="938.4" cy="42.6" r="2.3"/><circle cx="942.7" cy="42.6" r="2.3" class="c"/><circle cx="946.9" cy="42.6" r="2.3" class="f"/><circle cx="951.1" cy="42.6" r="2.3" class="b"/><circle cx="955.3" cy="42.6" r="2.3"/><circle cx="959.6" cy="42.6" r="2.3"/><circle cx="963.8" cy="42.6" r="2.3"/><circle cx="968.0" cy="42.6" r="2.3"/><circle cx="972.2" cy="42.6" r="2.3" class="b"/><circle cx="976.4" cy="42.6" r="2.3" class="b"/><circle cx="980.7" cy="42.6" r="2.3"/><circle cx="984.9" cy="42.6" r="2.3"/><circle cx="989.1" cy="42.6" r="2.3" class="b"/><circle cx="993.3" cy="42.6" r="2.3" class="b"/><circle cx="997.6" cy="42.6" r="2.3"/><circle cx="1001.8" cy="42.6" r="2.3" class="e"/><circle cx="1006.0" cy="42.6" r="2.3" class="b"/><circle cx="1010.2" cy="42.6" r="2.3"/><circle cx="1014.4" cy="42.6" r="2.3" class="e"/><circle cx="822.3" cy="46.0" r="2.3"/><circle cx="826.6" cy="46.0" r="2.3" class="c"/><circle cx="830.9" cy="46.0" r="2.3"/><circle cx="835.1" cy="46.0" r="2.3"/><circle cx="839.4" cy="46.0" r="2.3" class="b"/><circle cx="843.7" cy="46.0" r="2.3"/><circle cx="848.0" cy="46.0" r="2.3"/><circle cx="852.2" cy="46.0" r="2.3"/><circle cx="856.5" cy="46.0" r="2.3"/><circle cx="860.8" cy="46.0" r="2.3" class="b"/><circle cx="865.0" cy="46.0" r="2.3" class="c"/><circle cx="869.3" cy="46.0" r="2.3"/><circle cx="873.6" cy="46.0" r="2.3" class="c"/><circle cx="877.8" cy="46.0" r="2.3"/><circle cx="882.1" cy="46.0" r="2.3"/><circle cx="886.4" cy="46.0" r="2.3"/><circle cx="890.7" cy="46.0" r="2.3" class="c"/><circle cx="894.9" cy="46.0" r="2.3"/><circle cx="899.2" cy="46.0" r="2.3"/><circle cx="903.5" cy="46.0" r="2.3"/><circle cx="907.7" cy="46.0" r="2.3" class="c"/><circle cx="912.0" cy="46.0" r="2.3"/><circle cx="916.3" cy="46.0" r="2.3"/><circle cx="920.6" cy="46.0" r="2.3"/><circle cx="924.8" cy="46.0" r="2.3"/><circle cx="929.1" cy="46.0" r="2.3" class="c"/><circle cx="933.4" cy="46.0" r="2.3"/><circle cx="937.6" cy="46.0" r="2.3" class="c"/><circle cx="941.9" cy="46.0" r="2.3"/><circle cx="946.2" cy="46.0" r="2.3"/><circle cx="950.5" cy="46.0" r="2.3"/><circle cx="954.7" cy="46.0" r="2.3"/><circle cx="959.0" cy="46.0" r="2.3" class="c"/><circle cx="963.3" cy="46.0" r="2.3" class="c"/><circle cx="967.5" cy="46.0" r="2.3"/><circle cx="971.8" cy="46.0" r="2.3"/><circle cx="976.1" cy="46.0" r="2.3"/><circle cx="980.3" cy="46.0" r="2.3" class="c"/><circle cx="984.6" cy="46.0" r="2.3" class="c"/><circle cx="988.9" cy="46.0" r="2.3" class="c"/><circle cx="993.2" cy="46.0" r="2.3"/><circle cx="997.4" cy="46.0" r="2.3"/><circle cx="1001.7" cy="46.0" r="2.3"/><circle cx="1006.0" cy="46.0" r="2.3"/><circle cx="1010.2" cy="46.0" r="2.3"/><circle cx="1014.5" cy="46.0" r="2.3"/><circle cx="824.6" cy="49.4" r="2.3"/><circle cx="828.9" cy="49.4" r="2.3" class="c"/><circle cx="833.3" cy="49.4" r="2.3"/><circle cx="837.6" cy="49.4" r="2.3" class="c"/><circle cx="841.9" cy="49.4" r="2.3" class="e"/><circle cx="846.2" cy="49.4" r="2.3" class="e"/><circle cx="850.5" cy="49.4" r="2.3"/><circle cx="854.9" cy="49.4" r="2.3"/><circle cx="859.2" cy="49.4" r="2.3"/><circle cx="863.5" cy="49.4" r="2.3" class="b"/><circle cx="867.8" cy="49.4" r="2.3" class="f"/><circle cx="872.1" cy="49.4" r="2.3" class="b"/><circle cx="876.5" cy="49.4" r="2.3"/><circle cx="880.8" cy="49.4" r="2.3" class="c"/><circle cx="885.1" cy="49.4" r="2.3"/><circle cx="889.4" cy="49.4" r="2.3" class="b"/><circle cx="893.7" cy="49.4" r="2.3" class="c"/><circle cx="898.1" cy="49.4" r="2.3"/><circle cx="902.4" cy="49.4" r="2.3" class="c"/><circle cx="906.7" cy="49.4" r="2.3" class="b"/><circle cx="911.0" cy="49.4" r="2.3"/><circle cx="915.3" cy="49.4" r="2.3"/><circle cx="919.7" cy="49.4" r="2.3"/><circle cx="924.0" cy="49.4" r="2.3"/><circle cx="928.3" cy="49.4" r="2.3"/><circle cx="932.6" cy="49.4" r="2.3"/><circle cx="936.9" cy="49.4" r="2.3"/><circle cx="941.3" cy="49.4" r="2.3" class="b"/><circle cx="945.6" cy="49.4" r="2.3"/><circle cx="949.9" cy="49.4" r="2.3"/><circle cx="954.2" cy="49.4" r="2.3" class="f"/><circle cx="958.5" cy="49.4" r="2.3" class="e"/><circle cx="962.8" cy="49.4" r="2.3"/><circle cx="967.2" cy="49.4" r="2.3" class="c"/><circle cx="971.5" cy="49.4" r="2.3" class="b"/><circle cx="975.8" cy="49.4" r="2.3"/><circle cx="980.1" cy="49.4" r="2.3"/><circle cx="984.4" cy="49.4" r="2.3"/><circle cx="988.8" cy="49.4" r="2.3"/><circle cx="993.1" cy="49.4" r="2.3"/><circle cx="997.4" cy="49.4" r="2.3" class="e"/><circle cx="1001.7" cy="49.4" r="2.3"/><circle cx="1006.0" cy="49.4" r="2.3" class="c"/><circle cx="1010.4" cy="49.4" r="2.3" class="b"/><circle cx="1014.7" cy="49.4" r="2.3"/><circle cx="1019.0" cy="49.4" r="2.3" class="c"/><circle cx="822.8" cy="52.8" r="2.4" class="e"/><circle cx="827.2" cy="52.8" r="2.4" class="b"/><circle cx="831.5" cy="52.8" r="2.4" class="c"/><circle cx="835.9" cy="52.8" r="2.4"/><circle cx="840.3" cy="52.8" r="2.4" class="c"/><circle cx="844.6" cy="52.8" r="2.4" class="e"/><circle cx="849.0" cy="52.8" r="2.4" class="c"/><circle cx="853.4" cy="52.8" r="2.4"/><circle cx="857.8" cy="52.8" r="2.4" class="c"/><circle cx="862.1" cy="52.8" r="2.4"/><circle cx="866.5" cy="52.8" r="2.4"/><circle cx="870.9" cy="52.8" r="2.4"/><circle cx="875.2" cy="52.8" r="2.4"/><circle cx="879.6" cy="52.8" r="2.4"/><circle cx="884.0" cy="52.8" r="2.4"/><circle cx="888.3" cy="52.8" r="2.4"/><circle cx="892.7" cy="52.8" r="2.4" class="b"/><circle cx="897.1" cy="52.8" r="2.4"/><circle cx="901.4" cy="52.8" r="2.4"/><circle cx="905.8" cy="52.8" r="2.4" class="b"/><circle cx="910.2" cy="52.8" r="2.4"/><circle cx="914.5" cy="52.8" r="2.4"/><circle cx="918.9" cy="52.8" r="2.4" class="c"/><circle cx="923.3" cy="52.8" r="2.4"/><circle cx="927.7" cy="52.8" r="2.4"/><circle cx="932.0" cy="52.8" r="2.4" class="e"/><circle cx="936.4" cy="52.8" r="2.4" class="b"/><circle cx="940.8" cy="52.8" r="2.4"/><circle cx="945.1" cy="52.8" r="2.4"/><circle cx="949.5" cy="52.8" r="2.4"/><circle cx="953.9" cy="52.8" r="2.4"/><circle cx="958.2" cy="52.8" r="2.4"/><circle cx="962.6" cy="52.8" r="2.4"/><circle cx="967.0" cy="52.8" r="2.4"/><circle cx="971.3" cy="52.8" r="2.4" class="c"/><circle cx="975.7" cy="52.8" r="2.4"/><circle cx="980.1" cy="52.8" r="2.4"/><circle cx="984.5" cy="52.8" r="2.4"/><circle cx="988.8" cy="52.8" r="2.4"/><circle cx="993.2" cy="52.8" r="2.4"/><circle cx="997.6" cy="52.8" r="2.4"/><circle cx="1001.9" cy="52.8" r="2.4"/><circle cx="1006.3" cy="52.8" r="2.4"/><circle cx="1010.7" cy="52.8" r="2.4"/><circle cx="1015.0" cy="52.8" r="2.4"/><circle cx="1019.4" cy="52.8" r="2.4"/><circle cx="824.8" cy="56.3" r="2.4"/><circle cx="829.2" cy="56.3" r="2.4"/><circle cx="833.6" cy="56.3" r="2.4"/><circle cx="838.0" cy="56.3" r="2.4" class="b"/><circle cx="842.5" cy="56.3" r="2.4"/><circle cx="846.9" cy="56.3" r="2.4"/><circle cx="851.3" cy="56.3" r="2.4"/><circle cx="855.7" cy="56.3" r="2.4"/><circle cx="860.1" cy="56.3" r="2.4" class="f"/><circle cx="864.6" cy="56.3" r="2.4"/><circle cx="869.0" cy="56.3" r="2.4"/><circle cx="873.4" cy="56.3" r="2.4"/><circle cx="877.8" cy="56.3" r="2.4"/><circle cx="882.2" cy="56.3" r="2.4" class="b"/><circle cx="886.6" cy="56.3" r="2.4"/><circle cx="891.1" cy="56.3" r="2.4"/><circle cx="895.5" cy="56.3" r="2.4"/><circle cx="899.9" cy="56.3" r="2.4" class="c"/><circle cx="904.3" cy="56.3" r="2.4"/><circle cx="908.7" cy="56.3" r="2.4" class="c"/><circle cx="913.2" cy="56.3" r="2.4"/><circle cx="917.6" cy="56.3" r="2.4" class="e"/><circle cx="922.0" cy="56.3" r="2.4"/><circle cx="926.4" cy="56.3" r="2.4"/><circle cx="930.8" cy="56.3" r="2.4"/><circle cx="935.3" cy="56.3" r="2.4" class="c"/><circle cx="939.7" cy="56.3" r="2.4" class="b"/><circle cx="944.1" cy="56.3" r="2.4"/><circle cx="948.5" cy="56.3" r="2.4"/><circle cx="952.9" cy="56.3" r="2.4" class="b"/><circle cx="957.4" cy="56.3" r="2.4" class="f"/><circle cx="961.8" cy="56.3" r="2.4"/><circle cx="966.2" cy="56.3" r="2.4"/><circle cx="970.6" cy="56.3" r="2.4"/><circle cx="975.0" cy="56.3" r="2.4"/><circle cx="979.4" cy="56.3" r="2.4"/><circle cx="983.9" cy="56.3" r="2.4"/><circle cx="988.3" cy="56.3" r="2.4"/><circle cx="992.7" cy="56.3" r="2.4" class="b"/><circle cx="997.1" cy="56.3" r="2.4" class="e"/><circle cx="1001.5" cy="56.3" r="2.4"/><circle cx="1006.0" cy="56.3" r="2.4" class="f"/><circle cx="1010.4" cy="56.3" r="2.4"/><circle cx="1014.8" cy="56.3" r="2.4" class="c"/><circle cx="1019.2" cy="56.3" r="2.4" class="e"/><circle cx="1023.6" cy="56.3" r="2.4" class="e"/><circle cx="827.1" cy="59.9" r="2.4"/><circle cx="831.6" cy="59.9" r="2.4" class="b"/><circle cx="836.1" cy="59.9" r="2.4" class="e"/><circle cx="840.5" cy="59.9" r="2.4"/><circle cx="845.0" cy="59.9" r="2.4"/><circle cx="849.5" cy="59.9" r="2.4" class="c"/><circle cx="853.9" cy="59.9" r="2.4"/><circle cx="858.4" cy="59.9" r="2.4"/><circle cx="862.9" cy="59.9" r="2.4"/><circle cx="867.4" cy="59.9" r="2.4" class="b"/><circle cx="871.8" cy="59.9" r="2.4" class="e"/><circle cx="876.3" cy="59.9" r="2.4"/><circle cx="880.8" cy="59.9" r="2.4" class="c"/><circle cx="885.2" cy="59.9" r="2.4" class="c"/><circle cx="889.7" cy="59.9" r="2.4" class="c"/><circle cx="894.2" cy="59.9" r="2.4"/><circle cx="898.6" cy="59.9" r="2.4" class="e"/><circle cx="903.1" cy="59.9" r="2.4"/><circle cx="907.6" cy="59.9" r="2.4"/><circle cx="912.0" cy="59.9" r="2.4"/><circle cx="916.5" cy="59.9" r="2.4" class="c"/><circle cx="921.0" cy="59.9" r="2.4"/><circle cx="925.5" cy="59.9" r="2.4"/><circle cx="929.9" cy="59.9" r="2.4"/><circle cx="934.4" cy="59.9" r="2.4" class="c"/><circle cx="938.9" cy="59.9" r="2.4" class="b"/><circle cx="943.3" cy="59.9" r="2.4" class="b"/><circle cx="947.8" cy="59.9" r="2.4"/><circle cx="952.3" cy="59.9" r="2.4"/><circle cx="956.7" cy="59.9" r="2.4"/><circle cx="961.2" cy="59.9" r="2.4" class="b"/><circle cx="965.7" cy="59.9" r="2.4"/><circle cx="970.2" cy="59.9" r="2.4"/><circle cx="974.6" cy="59.9" r="2.4" class="c"/><circle cx="979.1" cy="59.9" r="2.4" class="b"/><circle cx="983.6" cy="59.9" r="2.4"/><circle cx="988.0" cy="59.9" r="2.4"/><circle cx="992.5" cy="59.9" r="2.4" class="c"/><circle cx="997.0" cy="59.9" r="2.4" class="b"/><circle cx="1001.4" cy="59.9" r="2.4" class="c"/><circle cx="1005.9" cy="59.9" r="2.4" class="c"/><circle cx="1010.4" cy="59.9" r="2.4"/><circle cx="1014.8" cy="59.9" r="2.4" class="e"/><circle cx="1019.3" cy="59.9" r="2.4" class="c"/><circle cx="1023.8" cy="59.9" r="2.4"/><circle cx="825.2" cy="63.4" r="2.4"/><circle cx="829.7" cy="63.4" r="2.4"/><circle cx="834.3" cy="63.4" r="2.4" class="f"/><circle cx="838.8" cy="63.4" r="2.4"/><circle cx="843.3" cy="63.4" r="2.4"/><circle cx="847.8" cy="63.4" r="2.4"/><circle cx="852.3" cy="63.4" r="2.4"/><circle cx="856.9" cy="63.4" r="2.4" class="b"/><circle cx="861.4" cy="63.4" r="2.4"/><circle cx="865.9" cy="63.4" r="2.4"/><circle cx="870.4" cy="63.4" r="2.4"/><circle cx="874.9" cy="63.4" r="2.4" class="b"/><circle cx="879.5" cy="63.4" r="2.4"/><circle cx="884.0" cy="63.4" r="2.4"/><circle cx="888.5" cy="63.4" r="2.4"/><circle cx="893.0" cy="63.4" r="2.4" class="f"/><circle cx="897.6" cy="63.4" r="2.4"/><circle cx="902.1" cy="63.4" r="2.4"/><circle cx="906.6" cy="63.4" r="2.4"/><circle cx="911.1" cy="63.4" r="2.4" class="c"/><circle cx="915.6" cy="63.4" r="2.4" class="b"/><circle cx="920.2" cy="63.4" r="2.4" class="c"/><circle cx="924.7" cy="63.4" r="2.4"/><circle cx="929.2" cy="63.4" r="2.4"/><circle cx="933.7" cy="63.4" r="2.4"/><circle cx="938.2" cy="63.4" r="2.4"/><circle cx="942.8" cy="63.4" r="2.4" class="c"/><circle cx="947.3" cy="63.4" r="2.4"/><circle cx="951.8" cy="63.4" r="2.4"/><circle cx="956.3" cy="63.4" r="2.4" class="f"/><circle cx="960.8" cy="63.4" r="2.4"/><circle cx="965.4" cy="63.4" r="2.4" class="e"/><circle cx="969.9" cy="63.4" r="2.4"/><circle cx="974.4" cy="63.4" r="2.4"/><circle cx="978.9" cy="63.4" r="2.4"/><circle cx="983.4" cy="63.4" r="2.4" class="c"/><circle cx="988.0" cy="63.4" r="2.4" class="b"/><circle cx="992.5" cy="63.4" r="2.4" class="b"/><circle cx="997.0" cy="63.4" r="2.4" class="c"/><circle cx="1001.5" cy="63.4" r="2.4" class="c"/><circle cx="1006.0" cy="63.4" r="2.4"/><circle cx="1010.6" cy="63.4" r="2.4" class="b"/><circle cx="1015.1" cy="63.4" r="2.4"/><circle cx="1019.6" cy="63.4" r="2.4"/><circle cx="1024.1" cy="63.4" r="2.4" class="c"/><circle cx="1028.6" cy="63.4" r="2.4"/><circle cx="827.9" cy="67.1" r="2.5"/><circle cx="832.5" cy="67.1" r="2.5"/><circle cx="837.0" cy="67.1" r="2.5"/><circle cx="841.6" cy="67.1" r="2.5" class="c"/><circle cx="846.2" cy="67.1" r="2.5"/><circle cx="850.8" cy="67.1" r="2.5"/><circle cx="855.3" cy="67.1" r="2.5"/><circle cx="859.9" cy="67.1" r="2.5"/><circle cx="864.5" cy="67.1" r="2.5"/><circle cx="869.1" cy="67.1" r="2.5" class="c"/><circle cx="873.6" cy="67.1" r="2.5"/><circle cx="878.2" cy="67.1" r="2.5" class="b"/><circle cx="882.8" cy="67.1" r="2.5" class="b"/><circle cx="887.3" cy="67.1" r="2.5"/><circle cx="891.9" cy="67.1" r="2.5"/><circle cx="896.5" cy="67.1" r="2.5" class="f"/><circle cx="901.1" cy="67.1" r="2.5"/><circle cx="905.6" cy="67.1" r="2.5"/><circle cx="910.2" cy="67.1" r="2.5"/><circle cx="914.8" cy="67.1" r="2.5"/><circle cx="919.3" cy="67.1" r="2.5"/><circle cx="923.9" cy="67.1" r="2.5" class="e"/><circle cx="928.5" cy="67.1" r="2.5" class="c"/><circle cx="933.1" cy="67.1" r="2.5" class="c"/><circle cx="937.6" cy="67.1" r="2.5" class="f"/><circle cx="942.2" cy="67.1" r="2.5" class="b"/><circle cx="946.8" cy="67.1" r="2.5" class="e"/><circle cx="951.4" cy="67.1" r="2.5"/><circle cx="955.9" cy="67.1" r="2.5"/><circle cx="960.5" cy="67.1" r="2.5" class="e"/><circle cx="965.1" cy="67.1" r="2.5" class="e"/><circle cx="969.6" cy="67.1" r="2.5" class="e"/><circle cx="974.2" cy="67.1" r="2.5"/><circle cx="978.8" cy="67.1" r="2.5" class="c"/><circle cx="983.4" cy="67.1" r="2.5"/><circle cx="987.9" cy="67.1" r="2.5" class="f"/><circle cx="992.5" cy="67.1" r="2.5" class="e"/><circle cx="997.1" cy="67.1" r="2.5"/><circle cx="1001.6" cy="67.1" r="2.5" class="e"/><circle cx="1006.2" cy="67.1" r="2.5"/><circle cx="1010.8" cy="67.1" r="2.5"/><circle cx="1015.4" cy="67.1" r="2.5" class="c"/><circle cx="1019.9" cy="67.1" r="2.5"/><circle cx="1024.5" cy="67.1" r="2.5"/><circle cx="1029.1" cy="67.1" r="2.5" class="b"/><circle cx="1033.7" cy="67.1" r="2.5"/><circle cx="830.3" cy="70.7" r="2.5"/><circle cx="835.0" cy="70.7" r="2.5"/><circle cx="839.6" cy="70.7" r="2.5"/><circle cx="844.2" cy="70.7" r="2.5" class="c"/><circle cx="848.8" cy="70.7" r="2.5" class="c"/><circle cx="853.5" cy="70.7" r="2.5"/><circle cx="858.1" cy="70.7" r="2.5"/><circle cx="862.7" cy="70.7" r="2.5"/><circle cx="867.3" cy="70.7" r="2.5"/><circle cx="872.0" cy="70.7" r="2.5"/><circle cx="876.6" cy="70.7" r="2.5"/><circle cx="881.2" cy="70.7" r="2.5" class="c"/><circle cx="885.8" cy="70.7" r="2.5" class="b"/><circle cx="890.5" cy="70.7" r="2.5" class="f"/><circle cx="895.1" cy="70.7" r="2.5" class="f"/><circle cx="899.7" cy="70.7" r="2.5" class="c"/><circle cx="904.3" cy="70.7" r="2.5"/><circle cx="908.9" cy="70.7" r="2.5"/><circle cx="913.6" cy="70.7" r="2.5"/><circle cx="918.2" cy="70.7" r="2.5"/><circle cx="922.8" cy="70.7" r="2.5"/><circle cx="927.4" cy="70.7" r="2.5"/><circle cx="932.1" cy="70.7" r="2.5"/><circle cx="936.7" cy="70.7" r="2.5" class="c"/><circle cx="941.3" cy="70.7" r="2.5"/><circle cx="945.9" cy="70.7" r="2.5"/><circle cx="950.6" cy="70.7" r="2.5" class="e"/><circle cx="955.2" cy="70.7" r="2.5" class="c"/><circle cx="959.8" cy="70.7" r="2.5"/><circle cx="964.4" cy="70.7" r="2.5"/><circle cx="969.1" cy="70.7" r="2.5" class="c"/><circle cx="973.7" cy="70.7" r="2.5"/><circle cx="978.3" cy="70.7" r="2.5"/><circle cx="982.9" cy="70.7" r="2.5"/><circle cx="987.6" cy="70.7" r="2.5"/><circle cx="992.2" cy="70.7" r="2.5"/><circle cx="996.8" cy="70.7" r="2.5"/><circle cx="1001.4" cy="70.7" r="2.5"/><circle cx="1006.1" cy="70.7" r="2.5" class="c"/><circle cx="1010.7" cy="70.7" r="2.5"/><circle cx="1015.3" cy="70.7" r="2.5" class="f"/><circle cx="1019.9" cy="70.7" r="2.5" class="c"/><circle cx="1024.6" cy="70.7" r="2.5" class="f"/><circle cx="1029.2" cy="70.7" r="2.5"/><circle cx="1033.8" cy="70.7" r="2.5"/><circle cx="827.7" cy="74.4" r="2.5"/><circle cx="832.4" cy="74.4" r="2.5"/><circle cx="837.1" cy="74.4" r="2.5"/><circle cx="841.8" cy="74.4" r="2.5"/><circle cx="846.4" cy="74.4" r="2.5"/><circle cx="851.1" cy="74.4" r="2.5"/><circle cx="855.8" cy="74.4" r="2.5"/><circle cx="860.5" cy="74.4" r="2.5" class="c"/><circle cx="865.2" cy="74.4" r="2.5"/><circle cx="869.8" cy="74.4" r="2.5"/><circle cx="874.5" cy="74.4" r="2.5"/><circle cx="879.2" cy="74.4" r="2.5"/><circle cx="883.9" cy="74.4" r="2.5" class="b"/><circle cx="888.5" cy="74.4" r="2.5" class="b"/><circle cx="893.2" cy="74.4" r="2.5" class="e"/><circle cx="897.9" cy="74.4" r="2.5" class="c"/><circle cx="902.6" cy="74.4" r="2.5"/><circle cx="907.3" cy="74.4" r="2.5"/><circle cx="911.9" cy="74.4" r="2.5" class="c"/><circle cx="916.6" cy="74.4" r="2.5" class="c"/><circle cx="921.3" cy="74.4" r="2.5"/><circle cx="926.0" cy="74.4" r="2.5" class="c"/><circle cx="930.6" cy="74.4" r="2.5"/><circle cx="935.3" cy="74.4" r="2.5"/><circle cx="940.0" cy="74.4" r="2.5"/><circle cx="944.7" cy="74.4" r="2.5"/><circle cx="949.4" cy="74.4" r="2.5" class="b"/><circle cx="954.0" cy="74.4" r="2.5" class="e"/><circle cx="958.7" cy="74.4" r="2.5" class="e"/><circle cx="963.4" cy="74.4" r="2.5"/><circle cx="968.1" cy="74.4" r="2.5" class="b"/><circle cx="972.7" cy="74.4" r="2.5" class="e"/><circle cx="977.4" cy="74.4" r="2.5" class="c"/><circle cx="982.1" cy="74.4" r="2.5" class="b"/><circle cx="986.8" cy="74.4" r="2.5"/><circle cx="991.4" cy="74.4" r="2.5"/><circle cx="996.1" cy="74.4" r="2.5"/><circle cx="1000.8" cy="74.4" r="2.5"/><circle cx="1005.5" cy="74.4" r="2.5" class="b"/><circle cx="1010.2" cy="74.4" r="2.5" class="f"/><circle cx="1014.8" cy="74.4" r="2.5"/><circle cx="1019.5" cy="74.4" r="2.5"/><circle cx="1024.2" cy="74.4" r="2.5"/><circle cx="1028.9" cy="74.4" r="2.5"/><circle cx="1033.5" cy="74.4" r="2.5" class="c"/><circle cx="830.5" cy="78.2" r="2.6" class="f"/><circle cx="835.3" cy="78.2" r="2.6"/><circle cx="840.0" cy="78.2" r="2.6"/><circle cx="844.7" cy="78.2" r="2.6"/><circle cx="849.5" cy="78.2" r="2.6"/><circle cx="854.2" cy="78.2" r="2.6" class="c"/><circle cx="858.9" cy="78.2" r="2.6" class="c"/><circle cx="863.6" cy="78.2" r="2.6" class="e"/><circle cx="868.4" cy="78.2" r="2.6" class="b"/><circle cx="873.1" cy="78.2" r="2.6"/><circle cx="877.8" cy="78.2" r="2.6"/><circle cx="882.6" cy="78.2" r="2.6"/><circle cx="887.3" cy="78.2" r="2.6"/><circle cx="892.0" cy="78.2" r="2.6"/><circle cx="896.8" cy="78.2" r="2.6" class="b"/><circle cx="901.5" cy="78.2" r="2.6" class="e"/><circle cx="906.2" cy="78.2" r="2.6"/><circle cx="911.0" cy="78.2" r="2.6" class="b"/><circle cx="915.7" cy="78.2" r="2.6"/><circle cx="920.4" cy="78.2" r="2.6"/><circle cx="925.1" cy="78.2" r="2.6" class="e"/><circle cx="929.9" cy="78.2" r="2.6" class="f"/><circle cx="934.6" cy="78.2" r="2.6" class="b"/><circle cx="939.3" cy="78.2" r="2.6"/><circle cx="944.1" cy="78.2" r="2.6" class="e"/><circle cx="948.8" cy="78.2" r="2.6"/><circle cx="953.5" cy="78.2" r="2.6"/><circle cx="958.3" cy="78.2" r="2.6" class="c"/><circle cx="963.0" cy="78.2" r="2.6"/><circle cx="967.7" cy="78.2" r="2.6"/><circle cx="972.5" cy="78.2" r="2.6" class="e"/><circle cx="977.2" cy="78.2" r="2.6" class="e"/><circle cx="981.9" cy="78.2" r="2.6"/><circle cx="986.6" cy="78.2" r="2.6"/><circle cx="991.4" cy="78.2" r="2.6"/><circle cx="996.1" cy="78.2" r="2.6"/><circle cx="1000.8" cy="78.2" r="2.6"/><circle cx="1005.6" cy="78.2" r="2.6" class="f"/><circle cx="1010.3" cy="78.2" r="2.6"/><circle cx="1015.0" cy="78.2" r="2.6"/><circle cx="1019.8" cy="78.2" r="2.6"/><circle cx="1024.5" cy="78.2" r="2.6"/><circle cx="1029.2" cy="78.2" r="2.6"/><circle cx="833.3" cy="81.9" r="2.6" class="c"/><circle cx="838.1" cy="81.9" r="2.6" class="b"/><circle cx="842.9" cy="81.9" r="2.6" class="c"/><circle cx="847.6" cy="81.9" r="2.6"/><circle cx="852.4" cy="81.9" r="2.6"/><circle cx="857.2" cy="81.9" r="2.6" class="f"/><circle cx="862.0" cy="81.9" r="2.6"/><circle cx="866.8" cy="81.9" r="2.6"/><circle cx="871.6" cy="81.9" r="2.6"/><circle cx="876.3" cy="81.9" r="2.6"/><circle cx="881.1" cy="81.9" r="2.6"/><circle cx="885.9" cy="81.9" r="2.6"/><circle cx="890.7" cy="81.9" r="2.6"/><circle cx="895.5" cy="81.9" r="2.6" class="f"/><circle cx="900.3" cy="81.9" r="2.6"/><circle cx="905.1" cy="81.9" r="2.6" class="e"/><circle cx="909.8" cy="81.9" r="2.6"/><circle cx="914.6" cy="81.9" r="2.6" class="f"/><circle cx="919.4" cy="81.9" r="2.6" class="b"/><circle cx="924.2" cy="81.9" r="2.6" class="b"/><circle cx="929.0" cy="81.9" r="2.6"/><circle cx="933.8" cy="81.9" r="2.6"/><circle cx="938.6" cy="81.9" r="2.6" class="c"/><circle cx="943.3" cy="81.9" r="2.6"/><circle cx="948.1" cy="81.9" r="2.6"/><circle cx="952.9" cy="81.9" r="2.6" class="c"/><circle cx="957.7" cy="81.9" r="2.6" class="c"/><circle cx="962.5" cy="81.9" r="2.6"/><circle cx="967.3" cy="81.9" r="2.6" class="f"/><circle cx="972.0" cy="81.9" r="2.6"/><circle cx="976.8" cy="81.9" r="2.6"/><circle cx="981.6" cy="81.9" r="2.6"/><circle cx="986.4" cy="81.9" r="2.6"/><circle cx="991.2" cy="81.9" r="2.6" class="f"/><circle cx="996.0" cy="81.9" r="2.6"/><circle cx="1000.8" cy="81.9" r="2.6"/><circle cx="1005.5" cy="81.9" r="2.6"/><circle cx="1010.3" cy="81.9" r="2.6"/><circle cx="1015.1" cy="81.9" r="2.6"/><circle cx="1019.9" cy="81.9" r="2.6" class="e"/><circle cx="1024.7" cy="81.9" r="2.6"/><circle cx="830.8" cy="85.8" r="2.6" class="e"/><circle cx="835.6" cy="85.8" r="2.6" class="f"/><circle cx="840.4" cy="85.8" r="2.6" class="f"/><circle cx="845.3" cy="85.8" r="2.6"/><circle cx="850.1" cy="85.8" r="2.6"/><circle cx="855.0" cy="85.8" r="2.6" class="f"/><circle cx="859.8" cy="85.8" r="2.6"/><circle cx="864.6" cy="85.8" r="2.6" class="b"/><circle cx="869.5" cy="85.8" r="2.6"/><circle cx="874.3" cy="85.8" r="2.6"/><circle cx="879.1" cy="85.8" r="2.6"/><circle cx="884.0" cy="85.8" r="2.6" class="c"/><circle cx="888.8" cy="85.8" r="2.6" class="c"/><circle cx="893.7" cy="85.8" r="2.6"/><circle cx="898.5" cy="85.8" r="2.6"/><circle cx="903.3" cy="85.8" r="2.6"/><circle cx="908.2" cy="85.8" r="2.6"/><circle cx="913.0" cy="85.8" r="2.6"/><circle cx="917.9" cy="85.8" r="2.6" class="c"/><circle cx="922.7" cy="85.8" r="2.6"/><circle cx="927.5" cy="85.8" r="2.6"/><circle cx="932.4" cy="85.8" r="2.6" class="e"/><circle cx="937.2" cy="85.8" r="2.6" class="c"/><circle cx="942.1" cy="85.8" r="2.6"/><circle cx="946.9" cy="85.8" r="2.6" class="f"/><circle cx="951.7" cy="85.8" r="2.6" class="c"/><circle cx="956.6" cy="85.8" r="2.6"/><circle cx="961.4" cy="85.8" r="2.6"/><circle cx="966.3" cy="85.8" r="2.6"/><circle cx="971.1" cy="85.8" r="2.6"/><circle cx="975.9" cy="85.8" r="2.6" class="f"/><circle cx="980.8" cy="85.8" r="2.6"/><circle cx="985.6" cy="85.8" r="2.6" class="c"/><circle cx="990.5" cy="85.8" r="2.6"/><circle cx="995.3" cy="85.8" r="2.6"/><circle cx="1000.1" cy="85.8" r="2.6" class="c"/><circle cx="1005.0" cy="85.8" r="2.6" class="c"/><circle cx="1009.8" cy="85.8" r="2.6" class="f"/><circle cx="1014.7" cy="85.8" r="2.6" class="b"/><circle cx="1019.5" cy="85.8" r="2.6"/><circle cx="833.7" cy="89.6" r="2.6"/><circle cx="838.6" cy="89.6" r="2.6"/><circle cx="843.5" cy="89.6" r="2.6"/><circle cx="848.4" cy="89.6" r="2.6"/><circle cx="853.3" cy="89.6" r="2.6" class="b"/><circle cx="858.2" cy="89.6" r="2.6"/><circle cx="863.1" cy="89.6" r="2.6"/><circle cx="868.0" cy="89.6" r="2.6"/><circle cx="872.9" cy="89.6" r="2.6"/><circle cx="877.8" cy="89.6" r="2.6"/><circle cx="882.7" cy="89.6" r="2.6" class="b"/><circle cx="887.6" cy="89.6" r="2.6" class="f"/><circle cx="892.5" cy="89.6" r="2.6" class="e"/><circle cx="897.4" cy="89.6" r="2.6" class="c"/><circle cx="902.3" cy="89.6" r="2.6" class="c"/><circle cx="907.2" cy="89.6" r="2.6"/><circle cx="912.1" cy="89.6" r="2.6" class="f"/><circle cx="917.0" cy="89.6" r="2.6"/><circle cx="921.8" cy="89.6" r="2.6"/><circle cx="926.7" cy="89.6" r="2.6"/><circle cx="931.6" cy="89.6" r="2.6" class="c"/><circle cx="936.5" cy="89.6" r="2.6"/><circle cx="941.4" cy="89.6" r="2.6" class="b"/><circle cx="946.3" cy="89.6" r="2.6"/><circle cx="951.2" cy="89.6" r="2.6" class="f"/><circle cx="956.1" cy="89.6" r="2.6"/><circle cx="961.0" cy="89.6" r="2.6"/><circle cx="965.9" cy="89.6" r="2.6"/><circle cx="970.8" cy="89.6" r="2.6" class="c"/><circle cx="975.7" cy="89.6" r="2.6" class="f"/><circle cx="980.6" cy="89.6" r="2.6"/><circle cx="985.5" cy="89.6" r="2.6"/><circle cx="990.4" cy="89.6" r="2.6" class="b"/><circle cx="995.3" cy="89.6" r="2.6"/><circle cx="1000.2" cy="89.6" r="2.6"/><circle cx="1005.1" cy="89.6" r="2.6" class="c"/><circle cx="1010.0" cy="89.6" r="2.6" class="c"/><circle cx="1014.8" cy="89.6" r="2.6"/><circle cx="831.5" cy="93.6" r="2.7"/><circle cx="836.5" cy="93.6" r="2.7" class="f"/><circle cx="841.4" cy="93.6" r="2.7"/><circle cx="846.4" cy="93.6" r="2.7"/><circle cx="851.3" cy="93.6" r="2.7"/><circle cx="856.3" cy="93.6" r="2.7" class="e"/><circle cx="861.2" cy="93.6" r="2.7"/><circle cx="866.2" cy="93.6" r="2.7" class="c"/><circle cx="871.1" cy="93.6" r="2.7" class="b"/><circle cx="876.1" cy="93.6" r="2.7"/><circle cx="881.0" cy="93.6" r="2.7"/><circle cx="886.0" cy="93.6" r="2.7"/><circle cx="890.9" cy="93.6" r="2.7"/><circle cx="895.9" cy="93.6" r="2.7"/><circle cx="900.9" cy="93.6" r="2.7" class="b"/><circle cx="905.8" cy="93.6" r="2.7" class="c"/><circle cx="910.8" cy="93.6" r="2.7"/><circle cx="915.7" cy="93.6" r="2.7"/><circle cx="920.7" cy="93.6" r="2.7"/><circle cx="925.6" cy="93.6" r="2.7"/><circle cx="930.6" cy="93.6" r="2.7" class="b"/><circle cx="935.5" cy="93.6" r="2.7"/><circle cx="940.5" cy="93.6" r="2.7"/><circle cx="945.4" cy="93.6" r="2.7"/><circle cx="950.4" cy="93.6" r="2.7"/><circle cx="955.3" cy="93.6" r="2.7"/><circle cx="960.3" cy="93.6" r="2.7"/><circle cx="965.2" cy="93.6" r="2.7" class="e"/><circle cx="970.2" cy="93.6" r="2.7"/><circle cx="975.1" cy="93.6" r="2.7" class="c"/><circle cx="980.1" cy="93.6" r="2.7" class="c"/><circle cx="985.0" cy="93.6" r="2.7" class="c"/><circle cx="990.0" cy="93.6" r="2.7" class="e"/><circle cx="994.9" cy="93.6" r="2.7"/><circle cx="999.9" cy="93.6" r="2.7" class="b"/><circle cx="1004.8" cy="93.6" r="2.7"/><circle cx="1009.8" cy="93.6" r="2.7" class="c"/><circle cx="1014.7" cy="93.6" r="2.7"/><circle cx="834.0" cy="97.5" r="2.7" class="e"/><circle cx="839.0" cy="97.5" r="2.7"/><circle cx="844.0" cy="97.5" r="2.7"/><circle cx="849.0" cy="97.5" r="2.7" class="c"/><circle cx="854.0" cy="97.5" r="2.7"/><circle cx="859.1" cy="97.5" r="2.7"/><circle cx="864.1" cy="97.5" r="2.7"/><circle cx="869.1" cy="97.5" r="2.7"/><circle cx="874.1" cy="97.5" r="2.7"/><circle cx="879.1" cy="97.5" r="2.7" class="c"/><circle cx="884.1" cy="97.5" r="2.7"/><circle cx="889.1" cy="97.5" r="2.7"/><circle cx="894.1" cy="97.5" r="2.7"/><circle cx="899.1" cy="97.5" r="2.7"/><circle cx="904.1" cy="97.5" r="2.7"/><circle cx="909.1" cy="97.5" r="2.7" class="b"/><circle cx="914.1" cy="97.5" r="2.7" class="b"/><circle cx="919.1" cy="97.5" r="2.7"/><circle cx="924.1" cy="97.5" r="2.7"/><circle cx="929.2" cy="97.5" r="2.7" class="f"/><circle cx="934.2" cy="97.5" r="2.7" class="b"/><circle cx="939.2" cy="97.5" r="2.7"/><circle cx="944.2" cy="97.5" r="2.7"/><circle cx="949.2" cy="97.5" r="2.7" class="c"/><circle cx="954.2" cy="97.5" r="2.7" class="f"/><circle cx="959.2" cy="97.5" r="2.7"/><circle cx="964.2" cy="97.5" r="2.7"/><circle cx="969.2" cy="97.5" r="2.7"/><circle cx="974.2" cy="97.5" r="2.7"/><circle cx="979.2" cy="97.5" r="2.7" class="e"/><circle cx="984.2" cy="97.5" r="2.7" class="c"/><circle cx="989.2" cy="97.5" r="2.7"/><circle cx="994.3" cy="97.5" r="2.7"/><circle cx="999.3" cy="97.5" r="2.7"/><circle cx="1004.3" cy="97.5" r="2.7" class="e"/><circle cx="1009.3" cy="97.5" r="2.7"/><circle cx="836.7" cy="101.5" r="2.7"/><circle cx="841.8" cy="101.5" r="2.7" class="b"/><circle cx="846.9" cy="101.5" r="2.7"/><circle cx="851.9" cy="101.5" r="2.7" class="e"/><circle cx="857.0" cy="101.5" r="2.7"/><circle cx="862.0" cy="101.5" r="2.7"/><circle cx="867.1" cy="101.5" r="2.7"/><circle cx="872.2" cy="101.5" r="2.7"/><circle cx="877.2" cy="101.5" r="2.7"/><circle cx="882.3" cy="101.5" r="2.7" class="c"/><circle cx="887.4" cy="101.5" r="2.7"/><circle cx="892.4" cy="101.5" r="2.7"/><circle cx="897.5" cy="101.5" r="2.7" class="f"/><circle cx="902.6" cy="101.5" r="2.7" class="b"/><circle cx="907.6" cy="101.5" r="2.7"/><circle cx="912.7" cy="101.5" r="2.7"/><circle cx="917.8" cy="101.5" r="2.7"/><circle cx="922.8" cy="101.5" r="2.7" class="e"/><circle cx="927.9" cy="101.5" r="2.7"/><circle cx="933.0" cy="101.5" r="2.7"/><circle cx="938.0" cy="101.5" r="2.7" class="b"/><circle cx="943.1" cy="101.5" r="2.7"/><circle cx="948.1" cy="101.5" r="2.7" class="c"/><circle cx="953.2" cy="101.5" r="2.7" class="e"/><circle cx="958.3" cy="101.5" r="2.7" class="c"/><circle cx="963.3" cy="101.5" r="2.7" class="c"/><circle cx="968.4" cy="101.5" r="2.7"/><circle cx="973.5" cy="101.5" r="2.7"/><circle cx="978.5" cy="101.5" r="2.7"/><circle cx="983.6" cy="101.5" r="2.7"/><circle cx="988.7" cy="101.5" r="2.7"/><circle cx="993.7" cy="101.5" r="2.7" class="c"/><circle cx="998.8" cy="101.5" r="2.7"/><circle cx="1003.9" cy="101.5" r="2.7" class="c"/><circle cx="834.8" cy="105.6" r="2.8"/><circle cx="839.9" cy="105.6" r="2.8" class="e"/><circle cx="845.0" cy="105.6" r="2.8"/><circle cx="850.1" cy="105.6" r="2.8"/><circle cx="855.2" cy="105.6" r="2.8"/><circle cx="860.4" cy="105.6" r="2.8"/><circle cx="865.5" cy="105.6" r="2.8"/><circle cx="870.6" cy="105.6" r="2.8"/><circle cx="875.7" cy="105.6" r="2.8" class="c"/><circle cx="880.9" cy="105.6" r="2.8" class="c"/><circle cx="886.0" cy="105.6" r="2.8"/><circle cx="891.1" cy="105.6" r="2.8"/><circle cx="896.2" cy="105.6" r="2.8"/><circle cx="901.3" cy="105.6" r="2.8"/><circle cx="906.5" cy="105.6" r="2.8"/><circle cx="911.6" cy="105.6" r="2.8"/><circle cx="916.7" cy="105.6" r="2.8" class="b"/><circle cx="921.8" cy="105.6" r="2.8"/><circle cx="927.0" cy="105.6" r="2.8"/><circle cx="932.1" cy="105.6" r="2.8"/><circle cx="937.2" cy="105.6" r="2.8"/><circle cx="942.3" cy="105.6" r="2.8"/><circle cx="947.4" cy="105.6" r="2.8"/><circle cx="952.6" cy="105.6" r="2.8" class="b"/><circle cx="957.7" cy="105.6" r="2.8"/><circle cx="962.8" cy="105.6" r="2.8" class="b"/><circle cx="967.9" cy="105.6" r="2.8" class="b"/><circle cx="973.1" cy="105.6" r="2.8"/><circle cx="978.2" cy="105.6" r="2.8" class="c"/><circle cx="983.3" cy="105.6" r="2.8"/><circle cx="988.4" cy="105.6" r="2.8"/><circle cx="993.5" cy="105.6" r="2.8"/><circle cx="998.7" cy="105.6" r="2.8" class="b"/><circle cx="1003.8" cy="105.6" r="2.8"/><circle cx="837.0" cy="109.7" r="2.8" class="c"/><circle cx="842.2" cy="109.7" r="2.8" class="c"/><circle cx="847.4" cy="109.7" r="2.8"/><circle cx="852.6" cy="109.7" r="2.8"/><circle cx="857.8" cy="109.7" r="2.8"/><circle cx="863.0" cy="109.7" r="2.8" class="e"/><circle cx="868.1" cy="109.7" r="2.8" class="b"/><circle cx="873.3" cy="109.7" r="2.8"/><circle cx="878.5" cy="109.7" r="2.8" class="c"/><circle cx="883.7" cy="109.7" r="2.8" class="f"/><circle cx="888.9" cy="109.7" r="2.8"/><circle cx="894.0" cy="109.7" r="2.8" class="f"/><circle cx="899.2" cy="109.7" r="2.8"/><circle cx="904.4" cy="109.7" r="2.8"/><circle cx="909.6" cy="109.7" r="2.8" class="b"/><circle cx="914.8" cy="109.7" r="2.8"/><circle cx="919.9" cy="109.7" r="2.8" class="c"/><circle cx="925.1" cy="109.7" r="2.8"/><circle cx="930.3" cy="109.7" r="2.8"/><circle cx="935.5" cy="109.7" r="2.8"/><circle cx="940.7" cy="109.7" r="2.8" class="c"/><circle cx="945.8" cy="109.7" r="2.8"/><circle cx="951.0" cy="109.7" r="2.8"/><circle cx="956.2" cy="109.7" r="2.8" class="c"/><circle cx="961.4" cy="109.7" r="2.8"/><circle cx="966.6" cy="109.7" r="2.8"/><circle cx="971.8" cy="109.7" r="2.8"/><circle cx="976.9" cy="109.7" r="2.8" class="c"/><circle cx="982.1" cy="109.7" r="2.8"/><circle cx="987.3" cy="109.7" r="2.8"/><circle cx="992.5" cy="109.7" r="2.8" class="c"/><circle cx="997.7" cy="109.7" r="2.8"/><circle cx="840.1" cy="113.8" r="2.8" class="e"/><circle cx="845.3" cy="113.8" r="2.8" class="e"/><circle cx="850.6" cy="113.8" r="2.8"/><circle cx="855.8" cy="113.8" r="2.8" class="f"/><circle cx="861.0" cy="113.8" r="2.8" class="c"/><circle cx="866.3" cy="113.8" r="2.8" class="c"/><circle cx="871.5" cy="113.8" r="2.8"/><circle cx="876.8" cy="113.8" r="2.8"/><circle cx="882.0" cy="113.8" r="2.8" class="b"/><circle cx="887.2" cy="113.8" r="2.8" class="c"/><circle cx="892.5" cy="113.8" r="2.8"/><circle cx="897.7" cy="113.8" r="2.8"/><circle cx="903.0" cy="113.8" r="2.8"/><circle cx="908.2" cy="113.8" r="2.8"/><circle cx="913.4" cy="113.8" r="2.8" class="b"/><circle cx="918.7" cy="113.8" r="2.8"/><circle cx="923.9" cy="113.8" r="2.8"/><circle cx="929.2" cy="113.8" r="2.8"/><circle cx="934.4" cy="113.8" r="2.8"/><circle cx="939.6" cy="113.8" r="2.8"/><circle cx="944.9" cy="113.8" r="2.8" class="c"/><circle cx="950.1" cy="113.8" r="2.8"/><circle cx="955.4" cy="113.8" r="2.8"/><circle cx="960.6" cy="113.8" r="2.8"/><circle cx="965.8" cy="113.8" r="2.8"/><circle cx="971.1" cy="113.8" r="2.8"/><circle cx="976.3" cy="113.8" r="2.8"/><circle cx="981.6" cy="113.8" r="2.8"/><circle cx="986.8" cy="113.8" r="2.8"/><circle cx="992.0" cy="113.8" r="2.8"/><circle cx="837.9" cy="118.0" r="2.9"/><circle cx="843.2" cy="118.0" r="2.9"/><circle cx="848.5" cy="118.0" r="2.9"/><circle cx="853.8" cy="118.0" r="2.9" class="e"/><circle cx="859.1" cy="118.0" r="2.9" class="c"/><circle cx="864.4" cy="118.0" r="2.9"/><circle cx="869.7" cy="118.0" r="2.9"/><circle cx="875.0" cy="118.0" r="2.9"/><circle cx="880.3" cy="118.0" r="2.9"/><circle cx="885.6" cy="118.0" r="2.9"/><circle cx="890.9" cy="118.0" r="2.9" class="e"/><circle cx="896.2" cy="118.0" r="2.9"/><circle cx="901.5" cy="118.0" r="2.9" class="e"/><circle cx="906.8" cy="118.0" r="2.9"/><circle cx="912.1" cy="118.0" r="2.9"/><circle cx="917.4" cy="118.0" r="2.9"/><circle cx="922.7" cy="118.0" r="2.9" class="f"/><circle cx="928.0" cy="118.0" r="2.9"/><circle cx="933.3" cy="118.0" r="2.9"/><circle cx="938.6" cy="118.0" r="2.9"/><circle cx="943.9" cy="118.0" r="2.9"/><circle cx="949.2" cy="118.0" r="2.9"/><circle cx="954.5" cy="118.0" r="2.9" class="f"/><circle cx="959.8" cy="118.0" r="2.9" class="c"/><circle cx="965.1" cy="118.0" r="2.9" class="c"/><circle cx="970.4" cy="118.0" r="2.9" class="e"/><circle cx="975.7" cy="118.0" r="2.9"/><circle cx="981.0" cy="118.0" r="2.9" class="b"/><circle cx="986.3" cy="118.0" r="2.9" class="c"/><circle cx="991.6" cy="118.0" r="2.9"/><circle cx="851.5" cy="122.2" r="2.9" class="f"/><circle cx="856.9" cy="122.2" r="2.9"/><circle cx="862.2" cy="122.2" r="2.9" class="c"/><circle cx="867.6" cy="122.2" r="2.9"/><circle cx="872.9" cy="122.2" r="2.9" class="b"/><circle cx="878.3" cy="122.2" r="2.9"/><circle cx="883.7" cy="122.2" r="2.9"/><circle cx="889.0" cy="122.2" r="2.9"/><circle cx="894.4" cy="122.2" r="2.9" class="c"/><circle cx="899.7" cy="122.2" r="2.9" class="c"/><circle cx="905.1" cy="122.2" r="2.9"/><circle cx="910.5" cy="122.2" r="2.9" class="b"/><circle cx="915.8" cy="122.2" r="2.9"/><circle cx="921.2" cy="122.2" r="2.9" class="c"/><circle cx="926.5" cy="122.2" r="2.9"/><circle cx="931.9" cy="122.2" r="2.9"/><circle cx="937.3" cy="122.2" r="2.9"/><circle cx="942.6" cy="122.2" r="2.9"/><circle cx="948.0" cy="122.2" r="2.9"/><circle cx="953.4" cy="122.2" r="2.9"/><circle cx="958.7" cy="122.2" r="2.9" class="b"/><circle cx="964.1" cy="122.2" r="2.9"/><circle cx="969.4" cy="122.2" r="2.9" class="c"/><circle cx="974.8" cy="122.2" r="2.9"/><circle cx="980.2" cy="122.2" r="2.9" class="f"/><circle cx="985.5" cy="122.2" r="2.9" class="c"/><circle cx="881.9" cy="126.5" r="2.9"/><circle cx="887.3" cy="126.5" r="2.9"/><circle cx="892.8" cy="126.5" r="2.9"/><circle cx="898.2" cy="126.5" r="2.9" class="c"/><circle cx="903.6" cy="126.5" r="2.9" class="e"/><circle cx="909.0" cy="126.5" r="2.9"/><circle cx="914.4" cy="126.5" r="2.9"/><circle cx="919.9" cy="126.5" r="2.9" class="f"/><circle cx="925.3" cy="126.5" r="2.9" class="c"/><circle cx="930.7" cy="126.5" r="2.9"/><circle cx="936.1" cy="126.5" r="2.9" class="c"/><circle cx="941.6" cy="126.5" r="2.9"/><circle cx="947.0" cy="126.5" r="2.9"/><circle cx="952.4" cy="126.5" r="2.9" class="b"/><circle cx="957.8" cy="126.5" r="2.9" class="b"/><circle cx="963.2" cy="126.5" r="2.9"/><circle cx="968.7" cy="126.5" r="2.9"/><circle cx="974.1" cy="126.5" r="2.9" class="b"/><circle cx="979.5" cy="126.5" r="2.9" class="e"/><circle cx="912.5" cy="130.9" r="3.0"/><circle cx="918.0" cy="130.9" r="3.0"/><circle cx="923.5" cy="130.9" r="3.0" class="c"/><circle cx="928.9" cy="130.9" r="3.0"/><circle cx="934.4" cy="130.9" r="3.0"/><circle cx="939.9" cy="130.9" r="3.0" class="f"/><circle cx="945.4" cy="130.9" r="3.0" class="b"/><circle cx="950.9" cy="130.9" r="3.0"/><circle cx="956.4" cy="130.9" r="3.0" class="b"/><circle cx="961.8" cy="130.9" r="3.0"/><circle cx="967.3" cy="130.9" r="3.0"/><circle cx="972.8" cy="130.9" r="3.0" class="b"/><circle cx="978.3" cy="130.9" r="3.0"/><circle cx="949.6" cy="135.3" r="3.0"/><circle cx="955.2" cy="135.3" r="3.0"/><circle cx="960.7" cy="135.3" r="3.0" class="f"/><circle cx="966.3" cy="135.3" r="3.0"/><circle cx="971.8" cy="135.3" r="3.0" class="c"/></g></g>
<ellipse cx="914" cy="59" rx="4" ry="2.5" fill="#6a5a50" opacity="0.28"/><ellipse cx="946" cy="72.5" rx="4" ry="2.5" fill="#6a5a50" opacity="0.28"/>
<g filter="url(#shb)"><g fill="url(#spha2)"><circle cx="1150.7" cy="52.1" r="2.3"/><circle cx="1151.2" cy="59.0" r="2.3" class="f2"/><circle cx="1153.5" cy="62.6" r="2.3" class="d2"/><circle cx="1153.8" cy="69.8" r="2.4" class="c2"/><circle cx="1362.6" cy="77.2" r="2.5" class="e2"/><circle cx="1156.4" cy="81.0" r="2.5" class="b2"/><circle cx="1358.6" cy="81.0" r="2.5"/><circle cx="1363.2" cy="81.0" r="2.5" class="b2"/><circle cx="1367.8" cy="81.0" r="2.5" class="d2"/><circle cx="1354.2" cy="84.8" r="2.5" class="d2"/><circle cx="1358.8" cy="84.8" r="2.5" class="c2"/><circle cx="1363.5" cy="84.8" r="2.5" class="d2"/><circle cx="1156.7" cy="88.6" r="2.5" class="c2"/><circle cx="1349.5" cy="88.6" r="2.5" class="d2"/><circle cx="1354.2" cy="88.6" r="2.5"/><circle cx="1358.9" cy="88.6" r="2.5" class="d2"/><circle cx="1159.0" cy="92.5" r="2.6" class="c2"/><circle cx="1344.6" cy="92.5" r="2.6"/><circle cx="1349.3" cy="92.5" r="2.6"/><circle cx="1354.1" cy="92.5" r="2.6" class="c2"/><circle cx="1344.4" cy="96.4" r="2.6"/><circle cx="1349.2" cy="96.4" r="2.6" class="b2"/><circle cx="1159.6" cy="100.4" r="2.6" class="c2"/><circle cx="1339.8" cy="100.4" r="2.6"/><circle cx="1344.7" cy="100.4" r="2.6"/><circle cx="1161.9" cy="104.4" r="2.7"/><circle cx="1334.4" cy="104.4" r="2.7"/><circle cx="1339.3" cy="104.4" r="2.7" class="d2"/><circle cx="1344.2" cy="104.4" r="2.7"/><circle cx="1329.6" cy="108.5" r="2.7"/><circle cx="1334.6" cy="108.5" r="2.7"/><circle cx="1339.6" cy="108.5" r="2.7" class="c2"/><circle cx="1163.0" cy="112.6" r="2.7" class="d2"/><circle cx="1329.4" cy="112.6" r="2.7"/><circle cx="1334.4" cy="112.6" r="2.7" class="d2"/><circle cx="1323.7" cy="116.8" r="2.8"/><circle cx="1328.8" cy="116.8" r="2.8"/><circle cx="1317.9" cy="121.0" r="2.8"/><circle cx="1323.1" cy="121.0" r="2.8" class="d2"/><circle cx="1328.3" cy="121.0" r="2.8"/><circle cx="1165.9" cy="125.3" r="2.8" class="d2"/><circle cx="1171.1" cy="125.3" r="2.8"/><circle cx="1176.4" cy="125.3" r="2.8"/><circle cx="1181.6" cy="125.3" r="2.8"/><circle cx="1186.8" cy="125.3" r="2.8" class="d2"/><circle cx="1192.0" cy="125.3" r="2.8" class="b2"/><circle cx="1197.2" cy="125.3" r="2.8" class="e2"/><circle cx="1312.1" cy="125.3" r="2.8" class="d2"/><circle cx="1317.3" cy="125.3" r="2.8" class="c2"/><circle cx="1322.5" cy="125.3" r="2.8" class="b2"/><circle cx="1169.1" cy="129.6" r="2.9" class="c2"/><circle cx="1174.3" cy="129.6" r="2.9" class="c2"/><circle cx="1179.6" cy="129.6" r="2.9" class="f2"/><circle cx="1184.9" cy="129.6" r="2.9"/><circle cx="1190.2" cy="129.6" r="2.9"/><circle cx="1195.5" cy="129.6" r="2.9" class="f2"/><circle cx="1200.8" cy="129.6" r="2.9" class="d2"/><circle cx="1206.0" cy="129.6" r="2.9" class="c2"/><circle cx="1211.3" cy="129.6" r="2.9" class="b2"/><circle cx="1216.6" cy="129.6" r="2.9"/><circle cx="1221.9" cy="129.6" r="2.9"/><circle cx="1227.2" cy="129.6" r="2.9" class="d2"/><circle cx="1232.4" cy="129.6" r="2.9"/><circle cx="1311.7" cy="129.6" r="2.9" class="c2"/><circle cx="1317.0" cy="129.6" r="2.9" class="b2"/><circle cx="1166.8" cy="134.0" r="2.9"/><circle cx="1172.1" cy="134.0" r="2.9"/><circle cx="1177.5" cy="134.0" r="2.9"/><circle cx="1182.8" cy="134.0" r="2.9" class="d2"/><circle cx="1188.1" cy="134.0" r="2.9"/><circle cx="1193.5" cy="134.0" r="2.9" class="c2"/><circle cx="1198.8" cy="134.0" r="2.9" class="c2"/><circle cx="1204.2" cy="134.0" r="2.9" class="d2"/><circle cx="1209.5" cy="134.0" r="2.9"/><circle cx="1214.9" cy="134.0" r="2.9" class="b2"/><circle cx="1220.2" cy="134.0" r="2.9" class="d2"/><circle cx="1225.6" cy="134.0" r="2.9" class="c2"/><circle cx="1230.9" cy="134.0" r="2.9" class="b2"/><circle cx="1236.2" cy="134.0" r="2.9" class="c2"/><circle cx="1241.6" cy="134.0" r="2.9" class="d2"/><circle cx="1246.9" cy="134.0" r="2.9" class="d2"/><circle cx="1252.3" cy="134.0" r="2.9" class="c2"/><circle cx="1257.6" cy="134.0" r="2.9"/><circle cx="1263.0" cy="134.0" r="2.9"/><circle cx="1268.3" cy="134.0" r="2.9" class="c2"/><circle cx="1305.7" cy="134.0" r="2.9" class="c2"/><circle cx="1311.1" cy="134.0" r="2.9" class="b2"/><circle cx="1316.4" cy="134.0" r="2.9" class="d2"/><circle cx="1191.3" cy="138.4" r="2.9"/><circle cx="1196.7" cy="138.4" r="2.9" class="b2"/><circle cx="1202.1" cy="138.4" r="2.9" class="b2"/><circle cx="1207.5" cy="138.4" r="2.9" class="d2"/><circle cx="1212.9" cy="138.4" r="2.9" class="f2"/><circle cx="1218.3" cy="138.4" r="2.9"/><circle cx="1223.7" cy="138.4" r="2.9"/><circle cx="1229.1" cy="138.4" r="2.9" class="b2"/><circle cx="1234.5" cy="138.4" r="2.9" class="d2"/><circle cx="1239.9" cy="138.4" r="2.9" class="f2"/><circle cx="1245.3" cy="138.4" r="2.9"/><circle cx="1250.7" cy="138.4" r="2.9"/><circle cx="1256.1" cy="138.4" r="2.9" class="b2"/><circle cx="1261.5" cy="138.4" r="2.9" class="e2"/><circle cx="1266.9" cy="138.4" r="2.9" class="c2"/><circle cx="1272.4" cy="138.4" r="2.9" class="b2"/><circle cx="1277.8" cy="138.4" r="2.9" class="f2"/><circle cx="1283.2" cy="138.4" r="2.9" class="d2"/><circle cx="1288.6" cy="138.4" r="2.9" class="e2"/><circle cx="1294.0" cy="138.4" r="2.9" class="d2"/><circle cx="1299.4" cy="138.4" r="2.9" class="f2"/><circle cx="1304.8" cy="138.4" r="2.9" class="d2"/><circle cx="1310.2" cy="138.4" r="2.9" class="d2"/><circle cx="1227.2" cy="142.9" r="3.0" class="c2"/><circle cx="1232.6" cy="142.9" r="3.0" class="c2"/><circle cx="1238.1" cy="142.9" r="3.0" class="e2"/><circle cx="1243.6" cy="142.9" r="3.0" class="e2"/><circle cx="1249.1" cy="142.9" r="3.0" class="e2"/><circle cx="1254.5" cy="142.9" r="3.0" class="c2"/><circle cx="1260.0" cy="142.9" r="3.0" class="b2"/><circle cx="1265.5" cy="142.9" r="3.0" class="b2"/><circle cx="1270.9" cy="142.9" r="3.0" class="b2"/><circle cx="1276.4" cy="142.9" r="3.0" class="f2"/><circle cx="1281.9" cy="142.9" r="3.0" class="c2"/><circle cx="1287.3" cy="142.9" r="3.0" class="d2"/><circle cx="1292.8" cy="142.9" r="3.0" class="c2"/><circle cx="1298.3" cy="142.9" r="3.0"/><circle cx="1303.8" cy="142.9" r="3.0" class="b2"/><circle cx="1264.1" cy="147.4" r="3.0"/><circle cx="1269.6" cy="147.4" r="3.0" class="f2"/><circle cx="1275.2" cy="147.4" r="3.0" class="d2"/><circle cx="1280.7" cy="147.4" r="3.0" class="b2"/><circle cx="1286.2" cy="147.4" r="3.0" class="c2"/><circle cx="1291.8" cy="147.4" r="3.0" class="e2"/><circle cx="1297.3" cy="147.4" r="3.0" class="c2"/><circle cx="1302.8" cy="147.4" r="3.0" class="d2"/><circle cx="1150.7" cy="48.8" r="2.3" class="b2"/><circle cx="1151.2" cy="55.7" r="2.3" class="b2"/><circle cx="1153.8" cy="66.3" r="2.4" class="d2"/><circle cx="1156.4" cy="77.4" r="2.5"/><circle cx="1363.2" cy="77.4" r="2.5" class="c2"/><circle cx="1367.8" cy="77.4" r="2.5" class="d2"/><circle cx="1358.8" cy="81.1" r="2.5" class="f2"/><circle cx="1363.5" cy="81.1" r="2.5" class="c2"/><circle cx="1156.7" cy="84.9" r="2.5" class="c2"/><circle cx="1354.2" cy="84.9" r="2.5" class="f2"/><circle cx="1358.9" cy="84.9" r="2.5" class="d2"/><circle cx="1159.0" cy="88.8" r="2.6" class="d2"/><circle cx="1349.3" cy="88.8" r="2.6" class="c2"/><circle cx="1354.1" cy="88.8" r="2.6"/><circle cx="1344.4" cy="92.7" r="2.6" class="d2"/><circle cx="1349.2" cy="92.7" r="2.6"/><circle cx="1159.6" cy="96.6" r="2.6" class="d2"/><circle cx="1344.7" cy="96.6" r="2.6"/><circle cx="1339.3" cy="100.6" r="2.7" class="d2"/><circle cx="1344.2" cy="100.6" r="2.7" class="c2"/><circle cx="1334.6" cy="104.6" r="2.7" class="c2"/><circle cx="1339.6" cy="104.6" r="2.7" class="b2"/><circle cx="1163.0" cy="108.7" r="2.7"/><circle cx="1329.4" cy="108.7" r="2.7" class="f2"/><circle cx="1334.4" cy="108.7" r="2.7" class="c2"/><circle cx="1328.8" cy="112.8" r="2.8" class="f2"/><circle cx="1323.1" cy="117.0" r="2.8"/><circle cx="1328.3" cy="117.0" r="2.8"/><circle cx="1165.9" cy="121.2" r="2.8"/><circle cx="1317.3" cy="121.2" r="2.8"/><circle cx="1322.5" cy="121.2" r="2.8" class="f2"/><circle cx="1169.1" cy="125.5" r="2.9"/><circle cx="1174.3" cy="125.5" r="2.9" class="c2"/><circle cx="1179.6" cy="125.5" r="2.9" class="d2"/><circle cx="1184.9" cy="125.5" r="2.9"/><circle cx="1190.2" cy="125.5" r="2.9"/><circle cx="1195.5" cy="125.5" r="2.9"/><circle cx="1317.0" cy="125.5" r="2.9"/><circle cx="1166.8" cy="129.8" r="2.9" class="c2"/><circle cx="1172.1" cy="129.8" r="2.9" class="c2"/><circle cx="1177.5" cy="129.8" r="2.9"/><circle cx="1182.8" cy="129.8" r="2.9" class="c2"/><circle cx="1188.1" cy="129.8" r="2.9" class="c2"/><circle cx="1193.5" cy="129.8" r="2.9" class="d2"/><circle cx="1198.8" cy="129.8" r="2.9"/><circle cx="1204.2" cy="129.8" r="2.9"/><circle cx="1209.5" cy="129.8" r="2.9" class="d2"/><circle cx="1214.9" cy="129.8" r="2.9" class="d2"/><circle cx="1220.2" cy="129.8" r="2.9" class="d2"/><circle cx="1225.6" cy="129.8" r="2.9"/><circle cx="1230.9" cy="129.8" r="2.9" class="c2"/><circle cx="1236.2" cy="129.8" r="2.9" class="b2"/><circle cx="1311.1" cy="129.8" r="2.9" class="d2"/><circle cx="1316.4" cy="129.8" r="2.9" class="f2"/><circle cx="1191.3" cy="134.2" r="2.9" class="b2"/><circle cx="1196.7" cy="134.2" r="2.9" class="b2"/><circle cx="1202.1" cy="134.2" r="2.9" class="d2"/><circle cx="1207.5" cy="134.2" r="2.9" class="b2"/><circle cx="1212.9" cy="134.2" r="2.9" class="b2"/><circle cx="1218.3" cy="134.2" r="2.9"/><circle cx="1223.7" cy="134.2" r="2.9" class="d2"/><circle cx="1229.1" cy="134.2" r="2.9" class="c2"/><circle cx="1234.5" cy="134.2" r="2.9" class="d2"/><circle cx="1239.9" cy="134.2" r="2.9"/><circle cx="1245.3" cy="134.2" r="2.9" class="e2"/><circle cx="1250.7" cy="134.2" r="2.9" class="d2"/><circle cx="1256.1" cy="134.2" r="2.9"/><circle cx="1261.5" cy="134.2" r="2.9" class="d2"/><circle cx="1266.9" cy="134.2" r="2.9"/><circle cx="1272.4" cy="134.2" r="2.9" class="c2"/><circle cx="1304.8" cy="134.2" r="2.9" class="d2"/><circle cx="1310.2" cy="134.2" r="2.9" class="d2"/><circle cx="1227.2" cy="138.6" r="3.0"/><circle cx="1232.6" cy="138.6" r="3.0" class="b2"/><circle cx="1238.1" cy="138.6" r="3.0"/><circle cx="1243.6" cy="138.6" r="3.0" class="e2"/><circle cx="1249.1" cy="138.6" r="3.0" class="c2"/><circle cx="1254.5" cy="138.6" r="3.0" class="d2"/><circle cx="1260.0" cy="138.6" r="3.0" class="b2"/><circle cx="1265.5" cy="138.6" r="3.0" class="b2"/><circle cx="1270.9" cy="138.6" r="3.0" class="e2"/><circle cx="1276.4" cy="138.6" r="3.0" class="e2"/><circle cx="1281.9" cy="138.6" r="3.0" class="d2"/><circle cx="1287.3" cy="138.6" r="3.0" class="c2"/><circle cx="1292.8" cy="138.6" r="3.0" class="e2"/><circle cx="1298.3" cy="138.6" r="3.0"/><circle cx="1303.8" cy="138.6" r="3.0"/><circle cx="1264.1" cy="143.1" r="3.0" class="d2"/><circle cx="1269.6" cy="143.1" r="3.0" class="c2"/><circle cx="1275.2" cy="143.1" r="3.0" class="d2"/><circle cx="1280.7" cy="143.1" r="3.0" class="d2"/><circle cx="1286.2" cy="143.1" r="3.0" class="b2"/><circle cx="1291.8" cy="143.1" r="3.0"/><circle cx="1297.3" cy="143.1" r="3.0" class="d2"/><circle cx="1302.8" cy="143.1" r="3.0" class="d2"/><circle cx="1151.2" cy="52.4" r="2.3" class="c2"/><circle cx="1153.8" cy="62.9" r="2.4"/><circle cx="1363.2" cy="73.8" r="2.5" class="d2"/><circle cx="1367.8" cy="73.8" r="2.5"/><circle cx="1363.5" cy="77.5" r="2.5"/><circle cx="1156.7" cy="81.3" r="2.5" class="c2"/><circle cx="1358.9" cy="81.3" r="2.5" class="b2"/><circle cx="1354.1" cy="85.1" r="2.6" class="d2"/><circle cx="1349.2" cy="88.9" r="2.6"/><circle cx="1159.6" cy="92.8" r="2.6" class="e2"/><circle cx="1344.7" cy="92.8" r="2.6"/><circle cx="1344.2" cy="96.8" r="2.7" class="b2"/><circle cx="1339.6" cy="100.7" r="2.7"/><circle cx="1334.4" cy="104.8" r="2.7" class="b2"/><circle cx="1328.8" cy="108.9" r="2.8" class="c2"/><circle cx="1328.3" cy="113.0" r="2.8" class="e2"/><circle cx="1322.5" cy="117.2" r="2.8"/><circle cx="1317.0" cy="121.4" r="2.9"/><circle cx="1166.8" cy="125.7" r="2.9" class="d2"/><circle cx="1172.1" cy="125.7" r="2.9" class="e2"/><circle cx="1177.5" cy="125.7" r="2.9" class="b2"/><circle cx="1182.8" cy="125.7" r="2.9" class="c2"/><circle cx="1188.1" cy="125.7" r="2.9" class="e2"/><circle cx="1193.5" cy="125.7" r="2.9" class="b2"/><circle cx="1198.8" cy="125.7" r="2.9" class="b2"/><circle cx="1316.4" cy="125.7" r="2.9" class="b2"/><circle cx="1191.3" cy="130.0" r="2.9"/><circle cx="1196.7" cy="130.0" r="2.9"/><circle cx="1202.1" cy="130.0" r="2.9" class="b2"/><circle cx="1207.5" cy="130.0" r="2.9"/><circle cx="1212.9" cy="130.0" r="2.9" class="b2"/><circle cx="1218.3" cy="130.0" r="2.9" class="d2"/><circle cx="1223.7" cy="130.0" r="2.9" class="d2"/><circle cx="1229.1" cy="130.0" r="2.9"/><circle cx="1234.5" cy="130.0" r="2.9" class="b2"/><circle cx="1310.2" cy="130.0" r="2.9" class="d2"/><circle cx="1227.2" cy="134.4" r="3.0" class="f2"/><circle cx="1232.6" cy="134.4" r="3.0"/><circle cx="1238.1" cy="134.4" r="3.0"/><circle cx="1243.6" cy="134.4" r="3.0" class="d2"/><circle cx="1249.1" cy="134.4" r="3.0"/><circle cx="1254.5" cy="134.4" r="3.0" class="c2"/><circle cx="1260.0" cy="134.4" r="3.0" class="e2"/><circle cx="1265.5" cy="134.4" r="3.0"/><circle cx="1270.9" cy="134.4" r="3.0"/><circle cx="1303.8" cy="134.4" r="3.0" class="c2"/><circle cx="1264.1" cy="138.8" r="3.0"/><circle cx="1269.6" cy="138.8" r="3.0" class="c2"/><circle cx="1275.2" cy="138.8" r="3.0" class="c2"/><circle cx="1280.7" cy="138.8" r="3.0" class="b2"/><circle cx="1286.2" cy="138.8" r="3.0" class="d2"/><circle cx="1291.8" cy="138.8" r="3.0" class="c2"/><circle cx="1297.3" cy="138.8" r="3.0" class="c2"/><circle cx="1302.8" cy="138.8" r="3.0" class="d2"/></g><g fill="url(#spha)"><circle cx="1194.5" cy="10.8" r="2.0"/><circle cx="1198.2" cy="10.8" r="2.0" class="b"/><circle cx="1202.0" cy="10.8" r="2.0"/><circle cx="1205.7" cy="10.8" r="2.0"/><circle cx="1209.4" cy="10.8" r="2.0" class="b"/><circle cx="1213.2" cy="10.8" r="2.0" class="e"/><circle cx="1216.9" cy="10.8" r="2.0" class="d"/><circle cx="1220.6" cy="10.8" r="2.0" class="d"/><circle cx="1224.3" cy="10.8" r="2.0"/><circle cx="1228.1" cy="10.8" r="2.0" class="c"/><circle cx="1231.8" cy="10.8" r="2.0"/><circle cx="1235.5" cy="10.8" r="2.0"/><circle cx="1239.2" cy="10.8" r="2.0"/><circle cx="1243.0" cy="10.8" r="2.0"/><circle cx="1246.7" cy="10.8" r="2.0" class="e"/><circle cx="1250.4" cy="10.8" r="2.0" class="d"/><circle cx="1254.2" cy="10.8" r="2.0" class="d"/><circle cx="1257.9" cy="10.8" r="2.0" class="d"/><circle cx="1261.6" cy="10.8" r="2.0"/><circle cx="1265.3" cy="10.8" r="2.0"/><circle cx="1269.1" cy="10.8" r="2.0" class="c"/><circle cx="1189.8" cy="13.8" r="2.0" class="d"/><circle cx="1193.5" cy="13.8" r="2.0" class="e"/><circle cx="1197.3" cy="13.8" r="2.0"/><circle cx="1201.1" cy="13.8" r="2.0" class="c"/><circle cx="1204.9" cy="13.8" r="2.0" class="c"/><circle cx="1208.6" cy="13.8" r="2.0" class="c"/><circle cx="1212.4" cy="13.8" r="2.0"/><circle cx="1216.2" cy="13.8" r="2.0" class="b"/><circle cx="1219.9" cy="13.8" r="2.0"/><circle cx="1223.7" cy="13.8" r="2.0" class="e"/><circle cx="1227.5" cy="13.8" r="2.0" class="d"/><circle cx="1231.2" cy="13.8" r="2.0" class="c"/><circle cx="1235.0" cy="13.8" r="2.0"/><circle cx="1238.8" cy="13.8" r="2.0" class="e"/><circle cx="1242.6" cy="13.8" r="2.0" class="c"/><circle cx="1246.3" cy="13.8" r="2.0" class="e"/><circle cx="1250.1" cy="13.8" r="2.0" class="d"/><circle cx="1253.9" cy="13.8" r="2.0" class="c"/><circle cx="1257.6" cy="13.8" r="2.0" class="b"/><circle cx="1261.4" cy="13.8" r="2.0" class="c"/><circle cx="1265.2" cy="13.8" r="2.0" class="b"/><circle cx="1269.0" cy="13.8" r="2.0"/><circle cx="1272.7" cy="13.8" r="2.0"/><circle cx="1276.5" cy="13.8" r="2.0" class="d"/><circle cx="1280.3" cy="13.8" r="2.0"/><circle cx="1284.0" cy="13.8" r="2.0"/><circle cx="1287.8" cy="13.8" r="2.0" class="c"/><circle cx="1291.6" cy="13.8" r="2.0"/><circle cx="1295.3" cy="13.8" r="2.0" class="c"/><circle cx="1299.1" cy="13.8" r="2.0" class="b"/><circle cx="1302.9" cy="13.8" r="2.0"/><circle cx="1306.7" cy="13.8" r="2.0" class="f"/><circle cx="1310.4" cy="13.8" r="2.0"/><circle cx="1314.2" cy="13.8" r="2.0" class="b"/><circle cx="1318.0" cy="13.8" r="2.0"/><circle cx="1184.5" cy="16.8" r="2.1"/><circle cx="1188.4" cy="16.8" r="2.1" class="b"/><circle cx="1192.2" cy="16.8" r="2.1" class="d"/><circle cx="1196.0" cy="16.8" r="2.1"/><circle cx="1199.8" cy="16.8" r="2.1" class="c"/><circle cx="1203.6" cy="16.8" r="2.1" class="e"/><circle cx="1207.4" cy="16.8" r="2.1"/><circle cx="1211.2" cy="16.8" r="2.1"/><circle cx="1215.1" cy="16.8" r="2.1"/><circle cx="1218.9" cy="16.8" r="2.1" class="d"/><circle cx="1222.7" cy="16.8" r="2.1" class="c"/><circle cx="1226.5" cy="16.8" r="2.1"/><circle cx="1230.3" cy="16.8" r="2.1"/><circle cx="1234.1" cy="16.8" r="2.1"/><circle cx="1237.9" cy="16.8" r="2.1" class="b"/><circle cx="1241.8" cy="16.8" r="2.1"/><circle cx="1245.6" cy="16.8" r="2.1" class="d"/><circle cx="1249.4" cy="16.8" r="2.1" class="e"/><circle cx="1253.2" cy="16.8" r="2.1" class="f"/><circle cx="1257.0" cy="16.8" r="2.1" class="d"/><circle cx="1260.8" cy="16.8" r="2.1" class="f"/><circle cx="1264.7" cy="16.8" r="2.1"/><circle cx="1268.5" cy="16.8" r="2.1"/><circle cx="1272.3" cy="16.8" r="2.1" class="f"/><circle cx="1276.1" cy="16.8" r="2.1" class="d"/><circle cx="1279.9" cy="16.8" r="2.1" class="b"/><circle cx="1283.7" cy="16.8" r="2.1" class="e"/><circle cx="1287.5" cy="16.8" r="2.1" class="c"/><circle cx="1291.4" cy="16.8" r="2.1" class="d"/><circle cx="1295.2" cy="16.8" r="2.1"/><circle cx="1299.0" cy="16.8" r="2.1"/><circle cx="1302.8" cy="16.8" r="2.1" class="b"/><circle cx="1306.6" cy="16.8" r="2.1"/><circle cx="1310.4" cy="16.8" r="2.1" class="b"/><circle cx="1314.2" cy="16.8" r="2.1" class="f"/><circle cx="1318.1" cy="16.8" r="2.1"/><circle cx="1321.9" cy="16.8" r="2.1"/><circle cx="1178.9" cy="19.9" r="2.1"/><circle cx="1182.7" cy="19.9" r="2.1" class="d"/><circle cx="1186.6" cy="19.9" r="2.1" class="b"/><circle cx="1190.5" cy="19.9" r="2.1"/><circle cx="1194.3" cy="19.9" r="2.1"/><circle cx="1198.2" cy="19.9" r="2.1" class="f"/><circle cx="1202.0" cy="19.9" r="2.1" class="b"/><circle cx="1205.9" cy="19.9" r="2.1"/><circle cx="1209.8" cy="19.9" r="2.1"/><circle cx="1213.6" cy="19.9" r="2.1"/><circle cx="1217.5" cy="19.9" r="2.1"/><circle cx="1221.3" cy="19.9" r="2.1" class="c"/><circle cx="1225.2" cy="19.9" r="2.1"/><circle cx="1229.1" cy="19.9" r="2.1"/><circle cx="1232.9" cy="19.9" r="2.1" class="b"/><circle cx="1236.8" cy="19.9" r="2.1"/><circle cx="1240.6" cy="19.9" r="2.1" class="f"/><circle cx="1244.5" cy="19.9" r="2.1"/><circle cx="1248.4" cy="19.9" r="2.1" class="c"/><circle cx="1252.2" cy="19.9" r="2.1" class="d"/><circle cx="1256.1" cy="19.9" r="2.1" class="b"/><circle cx="1259.9" cy="19.9" r="2.1" class="f"/><circle cx="1263.8" cy="19.9" r="2.1" class="b"/><circle cx="1267.7" cy="19.9" r="2.1"/><circle cx="1271.5" cy="19.9" r="2.1" class="b"/><circle cx="1275.4" cy="19.9" r="2.1"/><circle cx="1279.2" cy="19.9" r="2.1" class="b"/><circle cx="1283.1" cy="19.9" r="2.1"/><circle cx="1287.0" cy="19.9" r="2.1" class="e"/><circle cx="1290.8" cy="19.9" r="2.1" class="d"/><circle cx="1294.7" cy="19.9" r="2.1" class="b"/><circle cx="1298.5" cy="19.9" r="2.1"/><circle cx="1302.4" cy="19.9" r="2.1"/><circle cx="1306.2" cy="19.9" r="2.1"/><circle cx="1310.1" cy="19.9" r="2.1"/><circle cx="1314.0" cy="19.9" r="2.1"/><circle cx="1317.8" cy="19.9" r="2.1" class="d"/><circle cx="1321.7" cy="19.9" r="2.1"/><circle cx="1177.4" cy="23.0" r="2.1" class="e"/><circle cx="1181.3" cy="23.0" r="2.1" class="c"/><circle cx="1185.2" cy="23.0" r="2.1" class="f"/><circle cx="1189.1" cy="23.0" r="2.1" class="b"/><circle cx="1193.0" cy="23.0" r="2.1" class="e"/><circle cx="1196.9" cy="23.0" r="2.1" class="c"/><circle cx="1200.8" cy="23.0" r="2.1" class="d"/><circle cx="1204.7" cy="23.0" r="2.1" class="d"/><circle cx="1208.6" cy="23.0" r="2.1" class="b"/><circle cx="1212.5" cy="23.0" r="2.1"/><circle cx="1216.4" cy="23.0" r="2.1"/><circle cx="1220.3" cy="23.0" r="2.1" class="d"/><circle cx="1224.2" cy="23.0" r="2.1" class="e"/><circle cx="1228.1" cy="23.0" r="2.1" class="e"/><circle cx="1232.0" cy="23.0" r="2.1"/><circle cx="1235.9" cy="23.0" r="2.1" class="c"/><circle cx="1239.8" cy="23.0" r="2.1" class="d"/><circle cx="1243.7" cy="23.0" r="2.1" class="c"/><circle cx="1247.7" cy="23.0" r="2.1" class="d"/><circle cx="1251.6" cy="23.0" r="2.1" class="c"/><circle cx="1255.5" cy="23.0" r="2.1" class="c"/><circle cx="1259.4" cy="23.0" r="2.1" class="d"/><circle cx="1263.3" cy="23.0" r="2.1"/><circle cx="1267.2" cy="23.0" r="2.1" class="e"/><circle cx="1271.1" cy="23.0" r="2.1" class="f"/><circle cx="1275.0" cy="23.0" r="2.1"/><circle cx="1278.9" cy="23.0" r="2.1" class="f"/><circle cx="1282.8" cy="23.0" r="2.1" class="f"/><circle cx="1286.7" cy="23.0" r="2.1" class="c"/><circle cx="1290.6" cy="23.0" r="2.1"/><circle cx="1294.5" cy="23.0" r="2.1" class="e"/><circle cx="1298.4" cy="23.0" r="2.1"/><circle cx="1302.3" cy="23.0" r="2.1" class="f"/><circle cx="1306.2" cy="23.0" r="2.1" class="c"/><circle cx="1310.1" cy="23.0" r="2.1"/><circle cx="1314.0" cy="23.0" r="2.1"/><circle cx="1317.9" cy="23.0" r="2.1" class="c"/><circle cx="1321.8" cy="23.0" r="2.1" class="c"/><circle cx="1325.7" cy="23.0" r="2.1" class="d"/><circle cx="1168.4" cy="26.1" r="2.1"/><circle cx="1172.4" cy="26.1" r="2.1"/><circle cx="1176.3" cy="26.1" r="2.1" class="e"/><circle cx="1180.3" cy="26.1" r="2.1"/><circle cx="1184.2" cy="26.1" r="2.1" class="d"/><circle cx="1188.2" cy="26.1" r="2.1"/><circle cx="1192.1" cy="26.1" r="2.1" class="d"/><circle cx="1196.1" cy="26.1" r="2.1" class="d"/><circle cx="1200.0" cy="26.1" r="2.1" class="d"/><circle cx="1204.0" cy="26.1" r="2.1" class="c"/><circle cx="1207.9" cy="26.1" r="2.1" class="d"/><circle cx="1211.9" cy="26.1" r="2.1"/><circle cx="1215.8" cy="26.1" r="2.1" class="c"/><circle cx="1219.8" cy="26.1" r="2.1"/><circle cx="1223.7" cy="26.1" r="2.1" class="e"/><circle cx="1227.7" cy="26.1" r="2.1" class="d"/><circle cx="1231.6" cy="26.1" r="2.1" class="b"/><circle cx="1235.6" cy="26.1" r="2.1" class="c"/><circle cx="1239.5" cy="26.1" r="2.1"/><circle cx="1243.5" cy="26.1" r="2.1"/><circle cx="1247.4" cy="26.1" r="2.1" class="c"/><circle cx="1251.4" cy="26.1" r="2.1" class="b"/><circle cx="1255.3" cy="26.1" r="2.1" class="d"/><circle cx="1259.3" cy="26.1" r="2.1" class="c"/><circle cx="1263.2" cy="26.1" r="2.1"/><circle cx="1267.2" cy="26.1" r="2.1" class="b"/><circle cx="1271.1" cy="26.1" r="2.1" class="d"/><circle cx="1275.1" cy="26.1" r="2.1" class="c"/><circle cx="1279.0" cy="26.1" r="2.1"/><circle cx="1283.0" cy="26.1" r="2.1" class="d"/><circle cx="1286.9" cy="26.1" r="2.1" class="d"/><circle cx="1290.9" cy="26.1" r="2.1"/><circle cx="1294.8" cy="26.1" r="2.1" class="c"/><circle cx="1298.8" cy="26.1" r="2.1" class="b"/><circle cx="1302.7" cy="26.1" r="2.1" class="d"/><circle cx="1306.7" cy="26.1" r="2.1"/><circle cx="1310.6" cy="26.1" r="2.1"/><circle cx="1314.6" cy="26.1" r="2.1" class="b"/><circle cx="1318.5" cy="26.1" r="2.1" class="f"/><circle cx="1322.5" cy="26.1" r="2.1"/><circle cx="1326.4" cy="26.1" r="2.1"/><circle cx="1166.6" cy="29.3" r="2.2" class="e"/><circle cx="1170.5" cy="29.3" r="2.2" class="c"/><circle cx="1174.5" cy="29.3" r="2.2" class="b"/><circle cx="1178.5" cy="29.3" r="2.2" class="d"/><circle cx="1182.5" cy="29.3" r="2.2" class="d"/><circle cx="1186.5" cy="29.3" r="2.2"/><circle cx="1190.5" cy="29.3" r="2.2" class="e"/><circle cx="1194.5" cy="29.3" r="2.2"/><circle cx="1198.5" cy="29.3" r="2.2"/><circle cx="1202.5" cy="29.3" r="2.2" class="d"/><circle cx="1206.5" cy="29.3" r="2.2" class="b"/><circle cx="1210.5" cy="29.3" r="2.2" class="d"/><circle cx="1214.5" cy="29.3" r="2.2"/><circle cx="1218.5" cy="29.3" r="2.2" class="d"/><circle cx="1222.5" cy="29.3" r="2.2"/><circle cx="1226.5" cy="29.3" r="2.2"/><circle cx="1230.5" cy="29.3" r="2.2" class="b"/><circle cx="1234.5" cy="29.3" r="2.2"/><circle cx="1238.5" cy="29.3" r="2.2" class="c"/><circle cx="1242.5" cy="29.3" r="2.2" class="e"/><circle cx="1246.5" cy="29.3" r="2.2" class="d"/><circle cx="1250.5" cy="29.3" r="2.2"/><circle cx="1254.5" cy="29.3" r="2.2"/><circle cx="1258.5" cy="29.3" r="2.2" class="c"/><circle cx="1262.5" cy="29.3" r="2.2" class="b"/><circle cx="1266.5" cy="29.3" r="2.2" class="d"/><circle cx="1270.5" cy="29.3" r="2.2" class="b"/><circle cx="1274.4" cy="29.3" r="2.2"/><circle cx="1278.4" cy="29.3" r="2.2"/><circle cx="1282.4" cy="29.3" r="2.2" class="d"/><circle cx="1286.4" cy="29.3" r="2.2" class="b"/><circle cx="1290.4" cy="29.3" r="2.2" class="d"/><circle cx="1294.4" cy="29.3" r="2.2" class="f"/><circle cx="1298.4" cy="29.3" r="2.2" class="c"/><circle cx="1302.4" cy="29.3" r="2.2" class="c"/><circle cx="1306.4" cy="29.3" r="2.2" class="c"/><circle cx="1310.4" cy="29.3" r="2.2"/><circle cx="1314.4" cy="29.3" r="2.2" class="e"/><circle cx="1318.4" cy="29.3" r="2.2" class="b"/><circle cx="1322.4" cy="29.3" r="2.2" class="e"/><circle cx="1326.4" cy="29.3" r="2.2"/><circle cx="1330.4" cy="29.3" r="2.2" class="d"/><circle cx="1160.9" cy="32.5" r="2.2" class="c"/><circle cx="1164.9" cy="32.5" r="2.2" class="b"/><circle cx="1169.0" cy="32.5" r="2.2"/><circle cx="1173.0" cy="32.5" r="2.2" class="d"/><circle cx="1177.0" cy="32.5" r="2.2" class="b"/><circle cx="1181.1" cy="32.5" r="2.2" class="c"/><circle cx="1185.1" cy="32.5" r="2.2"/><circle cx="1189.2" cy="32.5" r="2.2"/><circle cx="1193.2" cy="32.5" r="2.2"/><circle cx="1197.3" cy="32.5" r="2.2" class="d"/><circle cx="1201.3" cy="32.5" r="2.2"/><circle cx="1205.3" cy="32.5" r="2.2" class="e"/><circle cx="1209.4" cy="32.5" r="2.2" class="b"/><circle cx="1213.4" cy="32.5" r="2.2" class="c"/><circle cx="1217.5" cy="32.5" r="2.2" class="b"/><circle cx="1221.5" cy="32.5" r="2.2" class="c"/><circle cx="1225.6" cy="32.5" r="2.2"/><circle cx="1229.6" cy="32.5" r="2.2" class="b"/><circle cx="1233.6" cy="32.5" r="2.2" class="e"/><circle cx="1237.7" cy="32.5" r="2.2"/><circle cx="1241.7" cy="32.5" r="2.2" class="c"/><circle cx="1245.8" cy="32.5" r="2.2"/><circle cx="1249.8" cy="32.5" r="2.2"/><circle cx="1253.9" cy="32.5" r="2.2"/><circle cx="1257.9" cy="32.5" r="2.2"/><circle cx="1261.9" cy="32.5" r="2.2" class="e"/><circle cx="1266.0" cy="32.5" r="2.2" class="d"/><circle cx="1270.0" cy="32.5" r="2.2" class="d"/><circle cx="1274.1" cy="32.5" r="2.2" class="d"/><circle cx="1278.1" cy="32.5" r="2.2" class="f"/><circle cx="1282.2" cy="32.5" r="2.2"/><circle cx="1286.2" cy="32.5" r="2.2" class="c"/><circle cx="1290.2" cy="32.5" r="2.2" class="b"/><circle cx="1294.3" cy="32.5" r="2.2" class="c"/><circle cx="1298.3" cy="32.5" r="2.2" class="e"/><circle cx="1302.4" cy="32.5" r="2.2" class="d"/><circle cx="1306.4" cy="32.5" r="2.2" class="f"/><circle cx="1310.5" cy="32.5" r="2.2"/><circle cx="1314.5" cy="32.5" r="2.2" class="c"/><circle cx="1318.5" cy="32.5" r="2.2" class="c"/><circle cx="1322.6" cy="32.5" r="2.2" class="d"/><circle cx="1326.6" cy="32.5" r="2.2" class="c"/><circle cx="1330.7" cy="32.5" r="2.2" class="d"/><circle cx="1334.7" cy="32.5" r="2.2"/><circle cx="1155.0" cy="35.7" r="2.2" class="b"/><circle cx="1159.1" cy="35.7" r="2.2" class="c"/><circle cx="1163.2" cy="35.7" r="2.2" class="e"/><circle cx="1167.3" cy="35.7" r="2.2" class="d"/><circle cx="1171.4" cy="35.7" r="2.2"/><circle cx="1175.5" cy="35.7" r="2.2"/><circle cx="1179.6" cy="35.7" r="2.2"/><circle cx="1183.7" cy="35.7" r="2.2" class="c"/><circle cx="1187.7" cy="35.7" r="2.2" class="f"/><circle cx="1191.8" cy="35.7" r="2.2" class="e"/><circle cx="1195.9" cy="35.7" r="2.2" class="b"/><circle cx="1200.0" cy="35.7" r="2.2" class="b"/><circle cx="1204.1" cy="35.7" r="2.2" class="d"/><circle cx="1208.2" cy="35.7" r="2.2"/><circle cx="1212.3" cy="35.7" r="2.2" class="b"/><circle cx="1216.4" cy="35.7" r="2.2"/><circle cx="1220.5" cy="35.7" r="2.2"/><circle cx="1224.6" cy="35.7" r="2.2" class="c"/><circle cx="1228.7" cy="35.7" r="2.2" class="d"/><circle cx="1232.7" cy="35.7" r="2.2" class="c"/><circle cx="1236.8" cy="35.7" r="2.2" class="b"/><circle cx="1240.9" cy="35.7" r="2.2" class="f"/><circle cx="1245.0" cy="35.7" r="2.2" class="c"/><circle cx="1249.1" cy="35.7" r="2.2"/><circle cx="1253.2" cy="35.7" r="2.2"/><circle cx="1257.3" cy="35.7" r="2.2" class="f"/><circle cx="1261.4" cy="35.7" r="2.2" class="f"/><circle cx="1265.5" cy="35.7" r="2.2" class="e"/><circle cx="1269.6" cy="35.7" r="2.2" class="c"/><circle cx="1273.6" cy="35.7" r="2.2"/><circle cx="1277.7" cy="35.7" r="2.2"/><circle cx="1281.8" cy="35.7" r="2.2"/><circle cx="1285.9" cy="35.7" r="2.2"/><circle cx="1290.0" cy="35.7" r="2.2" class="e"/><circle cx="1294.1" cy="35.7" r="2.2" class="e"/><circle cx="1298.2" cy="35.7" r="2.2" class="d"/><circle cx="1302.3" cy="35.7" r="2.2"/><circle cx="1306.4" cy="35.7" r="2.2"/><circle cx="1310.5" cy="35.7" r="2.2"/><circle cx="1314.5" cy="35.7" r="2.2" class="e"/><circle cx="1318.6" cy="35.7" r="2.2"/><circle cx="1322.7" cy="35.7" r="2.2" class="d"/><circle cx="1326.8" cy="35.7" r="2.2" class="d"/><circle cx="1330.9" cy="35.7" r="2.2" class="c"/><circle cx="1335.0" cy="35.7" r="2.2" class="f"/><circle cx="1152.7" cy="39.0" r="2.2" class="c"/><circle cx="1156.8" cy="39.0" r="2.2"/><circle cx="1161.0" cy="39.0" r="2.2"/><circle cx="1165.1" cy="39.0" r="2.2"/><circle cx="1169.3" cy="39.0" r="2.2"/><circle cx="1173.4" cy="39.0" r="2.2"/><circle cx="1177.5" cy="39.0" r="2.2"/><circle cx="1181.7" cy="39.0" r="2.2" class="f"/><circle cx="1185.8" cy="39.0" r="2.2"/><circle cx="1189.9" cy="39.0" r="2.2" class="e"/><circle cx="1194.1" cy="39.0" r="2.2" class="d"/><circle cx="1198.2" cy="39.0" r="2.2" class="d"/><circle cx="1202.4" cy="39.0" r="2.2" class="c"/><circle cx="1206.5" cy="39.0" r="2.2" class="f"/><circle cx="1210.6" cy="39.0" r="2.2" class="d"/><circle cx="1214.8" cy="39.0" r="2.2" class="d"/><circle cx="1218.9" cy="39.0" r="2.2" class="c"/><circle cx="1223.1" cy="39.0" r="2.2" class="d"/><circle cx="1227.2" cy="39.0" r="2.2" class="d"/><circle cx="1231.3" cy="39.0" r="2.2" class="c"/><circle cx="1235.5" cy="39.0" r="2.2" class="c"/><circle cx="1239.6" cy="39.0" r="2.2"/><circle cx="1243.7" cy="39.0" r="2.2" class="d"/><circle cx="1247.9" cy="39.0" r="2.2" class="b"/><circle cx="1252.0" cy="39.0" r="2.2"/><circle cx="1256.2" cy="39.0" r="2.2"/><circle cx="1260.3" cy="39.0" r="2.2" class="d"/><circle cx="1264.4" cy="39.0" r="2.2"/><circle cx="1268.6" cy="39.0" r="2.2" class="b"/><circle cx="1272.7" cy="39.0" r="2.2" class="d"/><circle cx="1276.8" cy="39.0" r="2.2" class="d"/><circle cx="1281.0" cy="39.0" r="2.2"/><circle cx="1285.1" cy="39.0" r="2.2" class="b"/><circle cx="1289.3" cy="39.0" r="2.2" class="b"/><circle cx="1293.4" cy="39.0" r="2.2"/><circle cx="1297.5" cy="39.0" r="2.2" class="d"/><circle cx="1301.7" cy="39.0" r="2.2"/><circle cx="1305.8" cy="39.0" r="2.2" class="f"/><circle cx="1310.0" cy="39.0" r="2.2"/><circle cx="1314.1" cy="39.0" r="2.2"/><circle cx="1318.2" cy="39.0" r="2.2" class="d"/><circle cx="1322.4" cy="39.0" r="2.2" class="d"/><circle cx="1326.5" cy="39.0" r="2.2"/><circle cx="1330.6" cy="39.0" r="2.2" class="c"/><circle cx="1334.8" cy="39.0" r="2.2" class="b"/><circle cx="1338.9" cy="39.0" r="2.2" class="d"/><circle cx="1150.7" cy="42.3" r="2.3" class="d"/><circle cx="1154.9" cy="42.3" r="2.3" class="f"/><circle cx="1159.1" cy="42.3" r="2.3" class="d"/><circle cx="1163.2" cy="42.3" r="2.3" class="e"/><circle cx="1167.4" cy="42.3" r="2.3" class="e"/><circle cx="1171.6" cy="42.3" r="2.3" class="b"/><circle cx="1175.8" cy="42.3" r="2.3" class="d"/><circle cx="1180.0" cy="42.3" r="2.3" class="d"/><circle cx="1184.2" cy="42.3" r="2.3" class="c"/><circle cx="1188.4" cy="42.3" r="2.3"/><circle cx="1192.5" cy="42.3" r="2.3" class="c"/><circle cx="1196.7" cy="42.3" r="2.3" class="e"/><circle cx="1200.9" cy="42.3" r="2.3"/><circle cx="1205.1" cy="42.3" r="2.3" class="c"/><circle cx="1209.3" cy="42.3" r="2.3" class="e"/><circle cx="1213.5" cy="42.3" r="2.3" class="c"/><circle cx="1217.7" cy="42.3" r="2.3"/><circle cx="1221.9" cy="42.3" r="2.3" class="c"/><circle cx="1226.0" cy="42.3" r="2.3"/><circle cx="1230.2" cy="42.3" r="2.3" class="d"/><circle cx="1234.4" cy="42.3" r="2.3" class="c"/><circle cx="1238.6" cy="42.3" r="2.3"/><circle cx="1242.8" cy="42.3" r="2.3" class="e"/><circle cx="1247.0" cy="42.3" r="2.3" class="c"/><circle cx="1251.2" cy="42.3" r="2.3"/><circle cx="1255.3" cy="42.3" r="2.3" class="d"/><circle cx="1259.5" cy="42.3" r="2.3" class="e"/><circle cx="1263.7" cy="42.3" r="2.3" class="e"/><circle cx="1267.9" cy="42.3" r="2.3" class="e"/><circle cx="1272.1" cy="42.3" r="2.3" class="c"/><circle cx="1276.3" cy="42.3" r="2.3" class="d"/><circle cx="1280.5" cy="42.3" r="2.3" class="c"/><circle cx="1284.7" cy="42.3" r="2.3" class="c"/><circle cx="1288.8" cy="42.3" r="2.3" class="f"/><circle cx="1293.0" cy="42.3" r="2.3" class="b"/><circle cx="1297.2" cy="42.3" r="2.3"/><circle cx="1301.4" cy="42.3" r="2.3" class="d"/><circle cx="1305.6" cy="42.3" r="2.3" class="b"/><circle cx="1309.8" cy="42.3" r="2.3" class="c"/><circle cx="1314.0" cy="42.3" r="2.3" class="c"/><circle cx="1318.1" cy="42.3" r="2.3"/><circle cx="1322.3" cy="42.3" r="2.3"/><circle cx="1326.5" cy="42.3" r="2.3"/><circle cx="1330.7" cy="42.3" r="2.3" class="d"/><circle cx="1334.9" cy="42.3" r="2.3" class="e"/><circle cx="1339.1" cy="42.3" r="2.3" class="d"/><circle cx="1343.3" cy="42.3" r="2.3"/><circle cx="1153.4" cy="45.6" r="2.3" class="d"/><circle cx="1157.6" cy="45.6" r="2.3" class="c"/><circle cx="1161.8" cy="45.6" r="2.3"/><circle cx="1166.1" cy="45.6" r="2.3" class="d"/><circle cx="1170.3" cy="45.6" r="2.3" class="c"/><circle cx="1174.6" cy="45.6" r="2.3" class="c"/><circle cx="1178.8" cy="45.6" r="2.3"/><circle cx="1183.0" cy="45.6" r="2.3" class="d"/><circle cx="1187.3" cy="45.6" r="2.3"/><circle cx="1191.5" cy="45.6" r="2.3" class="b"/><circle cx="1195.7" cy="45.6" r="2.3"/><circle cx="1200.0" cy="45.6" r="2.3" class="b"/><circle cx="1204.2" cy="45.6" r="2.3" class="e"/><circle cx="1208.4" cy="45.6" r="2.3" class="d"/><circle cx="1212.7" cy="45.6" r="2.3" class="d"/><circle cx="1216.9" cy="45.6" r="2.3"/><circle cx="1221.1" cy="45.6" r="2.3" class="b"/><circle cx="1225.4" cy="45.6" r="2.3" class="c"/><circle cx="1229.6" cy="45.6" r="2.3"/><circle cx="1233.8" cy="45.6" r="2.3" class="b"/><circle cx="1238.1" cy="45.6" r="2.3" class="f"/><circle cx="1242.3" cy="45.6" r="2.3" class="d"/><circle cx="1246.6" cy="45.6" r="2.3" class="d"/><circle cx="1250.8" cy="45.6" r="2.3"/><circle cx="1255.0" cy="45.6" r="2.3" class="d"/><circle cx="1259.3" cy="45.6" r="2.3" class="d"/><circle cx="1263.5" cy="45.6" r="2.3" class="d"/><circle cx="1267.7" cy="45.6" r="2.3" class="b"/><circle cx="1272.0" cy="45.6" r="2.3"/><circle cx="1276.2" cy="45.6" r="2.3"/><circle cx="1280.4" cy="45.6" r="2.3" class="e"/><circle cx="1284.7" cy="45.6" r="2.3" class="e"/><circle cx="1288.9" cy="45.6" r="2.3"/><circle cx="1293.1" cy="45.6" r="2.3" class="d"/><circle cx="1297.4" cy="45.6" r="2.3" class="b"/><circle cx="1301.6" cy="45.6" r="2.3" class="c"/><circle cx="1305.9" cy="45.6" r="2.3" class="d"/><circle cx="1310.1" cy="45.6" r="2.3"/><circle cx="1314.3" cy="45.6" r="2.3" class="c"/><circle cx="1318.6" cy="45.6" r="2.3"/><circle cx="1322.8" cy="45.6" r="2.3" class="c"/><circle cx="1327.0" cy="45.6" r="2.3"/><circle cx="1331.3" cy="45.6" r="2.3"/><circle cx="1335.5" cy="45.6" r="2.3"/><circle cx="1339.7" cy="45.6" r="2.3" class="e"/><circle cx="1344.0" cy="45.6" r="2.3"/><circle cx="1151.2" cy="49.0" r="2.3"/><circle cx="1155.5" cy="49.0" r="2.3" class="f"/><circle cx="1159.8" cy="49.0" r="2.3"/><circle cx="1164.1" cy="49.0" r="2.3"/><circle cx="1168.4" cy="49.0" r="2.3"/><circle cx="1172.6" cy="49.0" r="2.3" class="e"/><circle cx="1176.9" cy="49.0" r="2.3" class="c"/><circle cx="1181.2" cy="49.0" r="2.3" class="e"/><circle cx="1185.5" cy="49.0" r="2.3" class="b"/><circle cx="1189.8" cy="49.0" r="2.3"/><circle cx="1194.1" cy="49.0" r="2.3"/><circle cx="1198.4" cy="49.0" r="2.3" class="b"/><circle cx="1202.6" cy="49.0" r="2.3" class="f"/><circle cx="1206.9" cy="49.0" r="2.3"/><circle cx="1211.2" cy="49.0" r="2.3"/><circle cx="1215.5" cy="49.0" r="2.3" class="d"/><circle cx="1219.8" cy="49.0" r="2.3"/><circle cx="1224.1" cy="49.0" r="2.3" class="f"/><circle cx="1228.4" cy="49.0" r="2.3"/><circle cx="1232.6" cy="49.0" r="2.3" class="c"/><circle cx="1236.9" cy="49.0" r="2.3" class="c"/><circle cx="1241.2" cy="49.0" r="2.3" class="e"/><circle cx="1245.5" cy="49.0" r="2.3"/><circle cx="1249.8" cy="49.0" r="2.3" class="d"/><circle cx="1254.1" cy="49.0" r="2.3"/><circle cx="1258.3" cy="49.0" r="2.3" class="d"/><circle cx="1262.6" cy="49.0" r="2.3"/><circle cx="1266.9" cy="49.0" r="2.3" class="d"/><circle cx="1271.2" cy="49.0" r="2.3"/><circle cx="1275.5" cy="49.0" r="2.3"/><circle cx="1279.8" cy="49.0" r="2.3"/><circle cx="1284.1" cy="49.0" r="2.3"/><circle cx="1288.3" cy="49.0" r="2.3"/><circle cx="1292.6" cy="49.0" r="2.3" class="f"/><circle cx="1296.9" cy="49.0" r="2.3" class="c"/><circle cx="1301.2" cy="49.0" r="2.3" class="b"/><circle cx="1305.5" cy="49.0" r="2.3" class="f"/><circle cx="1309.8" cy="49.0" r="2.3"/><circle cx="1314.1" cy="49.0" r="2.3"/><circle cx="1318.3" cy="49.0" r="2.3" class="f"/><circle cx="1322.6" cy="49.0" r="2.3" class="f"/><circle cx="1326.9" cy="49.0" r="2.3" class="d"/><circle cx="1331.2" cy="49.0" r="2.3" class="f"/><circle cx="1335.5" cy="49.0" r="2.3"/><circle cx="1339.8" cy="49.0" r="2.3" class="e"/><circle cx="1344.0" cy="49.0" r="2.3" class="d"/><circle cx="1348.3" cy="49.0" r="2.3" class="c"/><circle cx="1153.5" cy="52.5" r="2.3"/><circle cx="1157.9" cy="52.5" r="2.3"/><circle cx="1162.2" cy="52.5" r="2.3"/><circle cx="1166.5" cy="52.5" r="2.3" class="b"/><circle cx="1170.9" cy="52.5" r="2.3" class="c"/><circle cx="1175.2" cy="52.5" r="2.3" class="c"/><circle cx="1179.6" cy="52.5" r="2.3" class="b"/><circle cx="1183.9" cy="52.5" r="2.3" class="d"/><circle cx="1188.2" cy="52.5" r="2.3" class="d"/><circle cx="1192.6" cy="52.5" r="2.3" class="d"/><circle cx="1196.9" cy="52.5" r="2.3"/><circle cx="1201.2" cy="52.5" r="2.3"/><circle cx="1205.6" cy="52.5" r="2.3"/><circle cx="1209.9" cy="52.5" r="2.3"/><circle cx="1214.2" cy="52.5" r="2.3" class="c"/><circle cx="1218.6" cy="52.5" r="2.3"/><circle cx="1222.9" cy="52.5" r="2.3" class="c"/><circle cx="1227.2" cy="52.5" r="2.3"/><circle cx="1231.6" cy="52.5" r="2.3" class="b"/><circle cx="1235.9" cy="52.5" r="2.3" class="d"/><circle cx="1240.2" cy="52.5" r="2.3" class="e"/><circle cx="1244.6" cy="52.5" r="2.3"/><circle cx="1248.9" cy="52.5" r="2.3"/><circle cx="1253.2" cy="52.5" r="2.3" class="f"/><circle cx="1257.6" cy="52.5" r="2.3"/><circle cx="1261.9" cy="52.5" r="2.3"/><circle cx="1266.3" cy="52.5" r="2.3"/><circle cx="1270.6" cy="52.5" r="2.3" class="d"/><circle cx="1274.9" cy="52.5" r="2.3" class="d"/><circle cx="1279.3" cy="52.5" r="2.3" class="e"/><circle cx="1283.6" cy="52.5" r="2.3" class="b"/><circle cx="1287.9" cy="52.5" r="2.3"/><circle cx="1292.3" cy="52.5" r="2.3"/><circle cx="1296.6" cy="52.5" r="2.3" class="d"/><circle cx="1300.9" cy="52.5" r="2.3" class="b"/><circle cx="1305.3" cy="52.5" r="2.3"/><circle cx="1309.6" cy="52.5" r="2.3" class="b"/><circle cx="1313.9" cy="52.5" r="2.3" class="b"/><circle cx="1318.3" cy="52.5" r="2.3" class="b"/><circle cx="1322.6" cy="52.5" r="2.3" class="b"/><circle cx="1326.9" cy="52.5" r="2.3"/><circle cx="1331.3" cy="52.5" r="2.3"/><circle cx="1335.6" cy="52.5" r="2.3" class="d"/><circle cx="1340.0" cy="52.5" r="2.3" class="d"/><circle cx="1344.3" cy="52.5" r="2.3" class="b"/><circle cx="1348.6" cy="52.5" r="2.3"/><circle cx="1155.5" cy="55.9" r="2.4" class="c"/><circle cx="1159.9" cy="55.9" r="2.4" class="e"/><circle cx="1164.3" cy="55.9" r="2.4" class="b"/><circle cx="1168.7" cy="55.9" r="2.4" class="f"/><circle cx="1173.1" cy="55.9" r="2.4" class="c"/><circle cx="1177.5" cy="55.9" r="2.4"/><circle cx="1181.8" cy="55.9" r="2.4" class="c"/><circle cx="1186.2" cy="55.9" r="2.4" class="c"/><circle cx="1190.6" cy="55.9" r="2.4" class="c"/><circle cx="1195.0" cy="55.9" r="2.4" class="d"/><circle cx="1199.4" cy="55.9" r="2.4"/><circle cx="1203.8" cy="55.9" r="2.4" class="b"/><circle cx="1208.2" cy="55.9" r="2.4" class="d"/><circle cx="1212.5" cy="55.9" r="2.4"/><circle cx="1216.9" cy="55.9" r="2.4"/><circle cx="1221.3" cy="55.9" r="2.4"/><circle cx="1225.7" cy="55.9" r="2.4"/><circle cx="1230.1" cy="55.9" r="2.4" class="b"/><circle cx="1234.5" cy="55.9" r="2.4"/><circle cx="1238.9" cy="55.9" r="2.4" class="c"/><circle cx="1243.2" cy="55.9" r="2.4"/><circle cx="1247.6" cy="55.9" r="2.4"/><circle cx="1252.0" cy="55.9" r="2.4" class="c"/><circle cx="1256.4" cy="55.9" r="2.4" class="c"/><circle cx="1260.8" cy="55.9" r="2.4" class="f"/><circle cx="1265.2" cy="55.9" r="2.4" class="e"/><circle cx="1269.6" cy="55.9" r="2.4"/><circle cx="1273.9" cy="55.9" r="2.4"/><circle cx="1278.3" cy="55.9" r="2.4" class="c"/><circle cx="1282.7" cy="55.9" r="2.4" class="c"/><circle cx="1287.1" cy="55.9" r="2.4" class="b"/><circle cx="1291.5" cy="55.9" r="2.4" class="d"/><circle cx="1295.9" cy="55.9" r="2.4"/><circle cx="1300.3" cy="55.9" r="2.4" class="b"/><circle cx="1304.6" cy="55.9" r="2.4"/><circle cx="1309.0" cy="55.9" r="2.4" class="e"/><circle cx="1313.4" cy="55.9" r="2.4" class="c"/><circle cx="1317.8" cy="55.9" r="2.4" class="f"/><circle cx="1322.2" cy="55.9" r="2.4"/><circle cx="1326.6" cy="55.9" r="2.4" class="d"/><circle cx="1331.0" cy="55.9" r="2.4" class="c"/><circle cx="1335.3" cy="55.9" r="2.4"/><circle cx="1339.7" cy="55.9" r="2.4" class="d"/><circle cx="1344.1" cy="55.9" r="2.4" class="d"/><circle cx="1348.5" cy="55.9" r="2.4"/><circle cx="1352.9" cy="55.9" r="2.4" class="e"/><circle cx="1153.8" cy="59.4" r="2.4" class="c"/><circle cx="1158.2" cy="59.4" r="2.4" class="c"/><circle cx="1162.6" cy="59.4" r="2.4"/><circle cx="1167.1" cy="59.4" r="2.4"/><circle cx="1171.5" cy="59.4" r="2.4" class="b"/><circle cx="1175.9" cy="59.4" r="2.4" class="d"/><circle cx="1180.4" cy="59.4" r="2.4"/><circle cx="1184.8" cy="59.4" r="2.4" class="b"/><circle cx="1189.3" cy="59.4" r="2.4"/><circle cx="1193.7" cy="59.4" r="2.4" class="d"/><circle cx="1198.1" cy="59.4" r="2.4" class="f"/><circle cx="1202.6" cy="59.4" r="2.4" class="e"/><circle cx="1207.0" cy="59.4" r="2.4"/><circle cx="1211.4" cy="59.4" r="2.4" class="b"/><circle cx="1215.9" cy="59.4" r="2.4"/><circle cx="1220.3" cy="59.4" r="2.4" class="c"/><circle cx="1224.8" cy="59.4" r="2.4" class="d"/><circle cx="1229.2" cy="59.4" r="2.4" class="d"/><circle cx="1233.6" cy="59.4" r="2.4"/><circle cx="1238.1" cy="59.4" r="2.4" class="b"/><circle cx="1242.5" cy="59.4" r="2.4"/><circle cx="1246.9" cy="59.4" r="2.4" class="b"/><circle cx="1251.4" cy="59.4" r="2.4" class="e"/><circle cx="1255.8" cy="59.4" r="2.4"/><circle cx="1260.3" cy="59.4" r="2.4" class="d"/><circle cx="1264.7" cy="59.4" r="2.4" class="f"/><circle cx="1269.1" cy="59.4" r="2.4" class="d"/><circle cx="1273.6" cy="59.4" r="2.4"/><circle cx="1278.0" cy="59.4" r="2.4" class="e"/><circle cx="1282.4" cy="59.4" r="2.4" class="e"/><circle cx="1286.9" cy="59.4" r="2.4" class="f"/><circle cx="1291.3" cy="59.4" r="2.4"/><circle cx="1295.7" cy="59.4" r="2.4"/><circle cx="1300.2" cy="59.4" r="2.4"/><circle cx="1304.6" cy="59.4" r="2.4" class="c"/><circle cx="1309.1" cy="59.4" r="2.4" class="b"/><circle cx="1313.5" cy="59.4" r="2.4"/><circle cx="1317.9" cy="59.4" r="2.4" class="c"/><circle cx="1322.4" cy="59.4" r="2.4" class="c"/><circle cx="1326.8" cy="59.4" r="2.4" class="c"/><circle cx="1331.2" cy="59.4" r="2.4" class="c"/><circle cx="1335.7" cy="59.4" r="2.4" class="c"/><circle cx="1340.1" cy="59.4" r="2.4" class="d"/><circle cx="1344.6" cy="59.4" r="2.4"/><circle cx="1349.0" cy="59.4" r="2.4" class="b"/><circle cx="1353.4" cy="59.4" r="2.4"/><circle cx="1357.9" cy="59.4" r="2.4"/><circle cx="1156.1" cy="63.0" r="2.4"/><circle cx="1160.6" cy="63.0" r="2.4"/><circle cx="1165.1" cy="63.0" r="2.4"/><circle cx="1169.6" cy="63.0" r="2.4" class="c"/><circle cx="1174.1" cy="63.0" r="2.4"/><circle cx="1178.6" cy="63.0" r="2.4" class="c"/><circle cx="1183.1" cy="63.0" r="2.4"/><circle cx="1187.5" cy="63.0" r="2.4" class="f"/><circle cx="1192.0" cy="63.0" r="2.4"/><circle cx="1196.5" cy="63.0" r="2.4" class="d"/><circle cx="1201.0" cy="63.0" r="2.4" class="c"/><circle cx="1205.5" cy="63.0" r="2.4" class="b"/><circle cx="1210.0" cy="63.0" r="2.4"/><circle cx="1214.5" cy="63.0" r="2.4" class="b"/><circle cx="1219.0" cy="63.0" r="2.4" class="d"/><circle cx="1223.5" cy="63.0" r="2.4" class="c"/><circle cx="1227.9" cy="63.0" r="2.4" class="c"/><circle cx="1232.4" cy="63.0" r="2.4"/><circle cx="1236.9" cy="63.0" r="2.4" class="c"/><circle cx="1241.4" cy="63.0" r="2.4"/><circle cx="1245.9" cy="63.0" r="2.4" class="b"/><circle cx="1250.4" cy="63.0" r="2.4" class="c"/><circle cx="1254.9" cy="63.0" r="2.4" class="c"/><circle cx="1259.4" cy="63.0" r="2.4" class="c"/><circle cx="1263.9" cy="63.0" r="2.4" class="c"/><circle cx="1268.3" cy="63.0" r="2.4"/><circle cx="1272.8" cy="63.0" r="2.4" class="f"/><circle cx="1277.3" cy="63.0" r="2.4" class="d"/><circle cx="1281.8" cy="63.0" r="2.4" class="d"/><circle cx="1286.3" cy="63.0" r="2.4" class="f"/><circle cx="1290.8" cy="63.0" r="2.4" class="b"/><circle cx="1295.3" cy="63.0" r="2.4"/><circle cx="1299.8" cy="63.0" r="2.4"/><circle cx="1304.3" cy="63.0" r="2.4"/><circle cx="1308.7" cy="63.0" r="2.4"/><circle cx="1313.2" cy="63.0" r="2.4"/><circle cx="1317.7" cy="63.0" r="2.4"/><circle cx="1322.2" cy="63.0" r="2.4" class="b"/><circle cx="1326.7" cy="63.0" r="2.4"/><circle cx="1331.2" cy="63.0" r="2.4" class="b"/><circle cx="1335.7" cy="63.0" r="2.4" class="c"/><circle cx="1340.2" cy="63.0" r="2.4"/><circle cx="1344.7" cy="63.0" r="2.4" class="d"/><circle cx="1349.1" cy="63.0" r="2.4" class="d"/><circle cx="1353.6" cy="63.0" r="2.4"/><circle cx="1358.1" cy="63.0" r="2.4" class="d"/><circle cx="1158.2" cy="66.6" r="2.5"/><circle cx="1162.7" cy="66.6" r="2.5" class="f"/><circle cx="1167.3" cy="66.6" r="2.5"/><circle cx="1171.8" cy="66.6" r="2.5"/><circle cx="1176.4" cy="66.6" r="2.5" class="d"/><circle cx="1180.9" cy="66.6" r="2.5"/><circle cx="1185.4" cy="66.6" r="2.5" class="c"/><circle cx="1190.0" cy="66.6" r="2.5" class="c"/><circle cx="1194.5" cy="66.6" r="2.5"/><circle cx="1199.1" cy="66.6" r="2.5"/><circle cx="1203.6" cy="66.6" r="2.5" class="f"/><circle cx="1208.2" cy="66.6" r="2.5" class="b"/><circle cx="1212.7" cy="66.6" r="2.5"/><circle cx="1217.2" cy="66.6" r="2.5" class="b"/><circle cx="1221.8" cy="66.6" r="2.5" class="d"/><circle cx="1226.3" cy="66.6" r="2.5"/><circle cx="1230.9" cy="66.6" r="2.5"/><circle cx="1235.4" cy="66.6" r="2.5" class="d"/><circle cx="1239.9" cy="66.6" r="2.5"/><circle cx="1244.5" cy="66.6" r="2.5"/><circle cx="1249.0" cy="66.6" r="2.5"/><circle cx="1253.6" cy="66.6" r="2.5" class="f"/><circle cx="1258.1" cy="66.6" r="2.5" class="b"/><circle cx="1262.7" cy="66.6" r="2.5" class="d"/><circle cx="1267.2" cy="66.6" r="2.5" class="c"/><circle cx="1271.7" cy="66.6" r="2.5" class="f"/><circle cx="1276.3" cy="66.6" r="2.5"/><circle cx="1280.8" cy="66.6" r="2.5"/><circle cx="1285.4" cy="66.6" r="2.5" class="d"/><circle cx="1289.9" cy="66.6" r="2.5"/><circle cx="1294.4" cy="66.6" r="2.5" class="b"/><circle cx="1299.0" cy="66.6" r="2.5" class="d"/><circle cx="1303.5" cy="66.6" r="2.5" class="c"/><circle cx="1308.1" cy="66.6" r="2.5" class="b"/><circle cx="1312.6" cy="66.6" r="2.5" class="e"/><circle cx="1317.1" cy="66.6" r="2.5" class="b"/><circle cx="1321.7" cy="66.6" r="2.5" class="d"/><circle cx="1326.2" cy="66.6" r="2.5" class="b"/><circle cx="1330.8" cy="66.6" r="2.5"/><circle cx="1335.3" cy="66.6" r="2.5" class="b"/><circle cx="1339.9" cy="66.6" r="2.5"/><circle cx="1344.4" cy="66.6" r="2.5"/><circle cx="1348.9" cy="66.6" r="2.5"/><circle cx="1353.5" cy="66.6" r="2.5"/><circle cx="1358.0" cy="66.6" r="2.5" class="b"/><circle cx="1362.6" cy="66.6" r="2.5" class="d"/><circle cx="1156.4" cy="70.2" r="2.5" class="e"/><circle cx="1161.0" cy="70.2" r="2.5"/><circle cx="1165.6" cy="70.2" r="2.5" class="c"/><circle cx="1170.2" cy="70.2" r="2.5" class="e"/><circle cx="1174.8" cy="70.2" r="2.5" class="b"/><circle cx="1179.4" cy="70.2" r="2.5" class="e"/><circle cx="1184.0" cy="70.2" r="2.5"/><circle cx="1188.6" cy="70.2" r="2.5" class="e"/><circle cx="1193.2" cy="70.2" r="2.5" class="e"/><circle cx="1197.8" cy="70.2" r="2.5" class="f"/><circle cx="1202.4" cy="70.2" r="2.5" class="d"/><circle cx="1207.0" cy="70.2" r="2.5" class="d"/><circle cx="1211.6" cy="70.2" r="2.5" class="b"/><circle cx="1216.2" cy="70.2" r="2.5" class="d"/><circle cx="1220.8" cy="70.2" r="2.5" class="d"/><circle cx="1225.4" cy="70.2" r="2.5" class="c"/><circle cx="1229.9" cy="70.2" r="2.5" class="c"/><circle cx="1234.5" cy="70.2" r="2.5" class="e"/><circle cx="1239.1" cy="70.2" r="2.5"/><circle cx="1243.7" cy="70.2" r="2.5"/><circle cx="1248.3" cy="70.2" r="2.5"/><circle cx="1252.9" cy="70.2" r="2.5" class="d"/><circle cx="1257.5" cy="70.2" r="2.5" class="c"/><circle cx="1262.1" cy="70.2" r="2.5" class="c"/><circle cx="1266.7" cy="70.2" r="2.5"/><circle cx="1271.3" cy="70.2" r="2.5"/><circle cx="1275.9" cy="70.2" r="2.5" class="b"/><circle cx="1280.5" cy="70.2" r="2.5" class="d"/><circle cx="1285.1" cy="70.2" r="2.5" class="b"/><circle cx="1289.7" cy="70.2" r="2.5" class="b"/><circle cx="1294.3" cy="70.2" r="2.5" class="b"/><circle cx="1298.9" cy="70.2" r="2.5" class="d"/><circle cx="1303.5" cy="70.2" r="2.5"/><circle cx="1308.1" cy="70.2" r="2.5" class="d"/><circle cx="1312.7" cy="70.2" r="2.5"/><circle cx="1317.2" cy="70.2" r="2.5" class="d"/><circle cx="1321.8" cy="70.2" r="2.5" class="d"/><circle cx="1326.4" cy="70.2" r="2.5" class="b"/><circle cx="1331.0" cy="70.2" r="2.5" class="d"/><circle cx="1335.6" cy="70.2" r="2.5"/><circle cx="1340.2" cy="70.2" r="2.5"/><circle cx="1344.8" cy="70.2" r="2.5" class="b"/><circle cx="1349.4" cy="70.2" r="2.5"/><circle cx="1354.0" cy="70.2" r="2.5" class="d"/><circle cx="1358.6" cy="70.2" r="2.5" class="c"/><circle cx="1363.2" cy="70.2" r="2.5" class="c"/><circle cx="1367.8" cy="70.2" r="2.5" class="f"/><circle cx="1158.9" cy="73.9" r="2.5" class="d"/><circle cx="1163.6" cy="73.9" r="2.5" class="f"/><circle cx="1168.2" cy="73.9" r="2.5" class="e"/><circle cx="1172.9" cy="73.9" r="2.5" class="d"/><circle cx="1177.5" cy="73.9" r="2.5"/><circle cx="1182.2" cy="73.9" r="2.5" class="c"/><circle cx="1186.8" cy="73.9" r="2.5" class="d"/><circle cx="1191.5" cy="73.9" r="2.5" class="d"/><circle cx="1196.1" cy="73.9" r="2.5" class="e"/><circle cx="1200.8" cy="73.9" r="2.5" class="d"/><circle cx="1205.4" cy="73.9" r="2.5" class="c"/><circle cx="1210.1" cy="73.9" r="2.5"/><circle cx="1214.7" cy="73.9" r="2.5" class="c"/><circle cx="1219.4" cy="73.9" r="2.5"/><circle cx="1224.0" cy="73.9" r="2.5" class="c"/><circle cx="1228.7" cy="73.9" r="2.5"/><circle cx="1233.3" cy="73.9" r="2.5"/><circle cx="1238.0" cy="73.9" r="2.5" class="f"/><circle cx="1242.6" cy="73.9" r="2.5" class="d"/><circle cx="1247.2" cy="73.9" r="2.5"/><circle cx="1251.9" cy="73.9" r="2.5"/><circle cx="1256.5" cy="73.9" r="2.5" class="d"/><circle cx="1261.2" cy="73.9" r="2.5" class="d"/><circle cx="1265.8" cy="73.9" r="2.5"/><circle cx="1270.5" cy="73.9" r="2.5" class="d"/><circle cx="1275.1" cy="73.9" r="2.5" class="d"/><circle cx="1279.8" cy="73.9" r="2.5" class="c"/><circle cx="1284.4" cy="73.9" r="2.5"/><circle cx="1289.1" cy="73.9" r="2.5"/><circle cx="1293.7" cy="73.9" r="2.5"/><circle cx="1298.4" cy="73.9" r="2.5" class="b"/><circle cx="1303.0" cy="73.9" r="2.5" class="d"/><circle cx="1307.7" cy="73.9" r="2.5" class="c"/><circle cx="1312.3" cy="73.9" r="2.5"/><circle cx="1317.0" cy="73.9" r="2.5" class="d"/><circle cx="1321.6" cy="73.9" r="2.5"/><circle cx="1326.3" cy="73.9" r="2.5" class="c"/><circle cx="1330.9" cy="73.9" r="2.5"/><circle cx="1335.6" cy="73.9" r="2.5"/><circle cx="1340.2" cy="73.9" r="2.5"/><circle cx="1344.9" cy="73.9" r="2.5" class="d"/><circle cx="1349.5" cy="73.9" r="2.5"/><circle cx="1354.2" cy="73.9" r="2.5"/><circle cx="1358.8" cy="73.9" r="2.5" class="b"/><circle cx="1363.5" cy="73.9" r="2.5"/><circle cx="1156.7" cy="77.6" r="2.5" class="c"/><circle cx="1161.4" cy="77.6" r="2.5" class="d"/><circle cx="1166.1" cy="77.6" r="2.5" class="e"/><circle cx="1170.8" cy="77.6" r="2.5"/><circle cx="1175.5" cy="77.6" r="2.5" class="c"/><circle cx="1180.2" cy="77.6" r="2.5"/><circle cx="1184.9" cy="77.6" r="2.5"/><circle cx="1189.6" cy="77.6" r="2.5"/><circle cx="1194.3" cy="77.6" r="2.5" class="d"/><circle cx="1199.0" cy="77.6" r="2.5"/><circle cx="1203.7" cy="77.6" r="2.5" class="d"/><circle cx="1208.4" cy="77.6" r="2.5" class="d"/><circle cx="1213.1" cy="77.6" r="2.5" class="b"/><circle cx="1217.8" cy="77.6" r="2.5"/><circle cx="1222.5" cy="77.6" r="2.5"/><circle cx="1227.2" cy="77.6" r="2.5" class="b"/><circle cx="1231.9" cy="77.6" r="2.5" class="b"/><circle cx="1236.6" cy="77.6" r="2.5"/><circle cx="1241.3" cy="77.6" r="2.5" class="d"/><circle cx="1246.0" cy="77.6" r="2.5" class="c"/><circle cx="1250.7" cy="77.6" r="2.5" class="d"/><circle cx="1255.4" cy="77.6" r="2.5" class="d"/><circle cx="1260.1" cy="77.6" r="2.5" class="d"/><circle cx="1264.8" cy="77.6" r="2.5" class="d"/><circle cx="1269.5" cy="77.6" r="2.5" class="d"/><circle cx="1274.2" cy="77.6" r="2.5" class="b"/><circle cx="1278.9" cy="77.6" r="2.5" class="d"/><circle cx="1283.6" cy="77.6" r="2.5" class="e"/><circle cx="1288.3" cy="77.6" r="2.5"/><circle cx="1293.0" cy="77.6" r="2.5"/><circle cx="1297.7" cy="77.6" r="2.5"/><circle cx="1302.4" cy="77.6" r="2.5" class="b"/><circle cx="1307.1" cy="77.6" r="2.5" class="d"/><circle cx="1311.8" cy="77.6" r="2.5" class="c"/><circle cx="1316.5" cy="77.6" r="2.5" class="d"/><circle cx="1321.2" cy="77.6" r="2.5" class="b"/><circle cx="1325.9" cy="77.6" r="2.5" class="c"/><circle cx="1330.6" cy="77.6" r="2.5"/><circle cx="1335.3" cy="77.6" r="2.5" class="c"/><circle cx="1340.1" cy="77.6" r="2.5"/><circle cx="1344.8" cy="77.6" r="2.5"/><circle cx="1349.5" cy="77.6" r="2.5" class="b"/><circle cx="1354.2" cy="77.6" r="2.5" class="c"/><circle cx="1358.9" cy="77.6" r="2.5" class="e"/><circle cx="1159.0" cy="81.4" r="2.6" class="e"/><circle cx="1163.8" cy="81.4" r="2.6" class="d"/><circle cx="1168.5" cy="81.4" r="2.6"/><circle cx="1173.3" cy="81.4" r="2.6" class="d"/><circle cx="1178.1" cy="81.4" r="2.6" class="e"/><circle cx="1182.8" cy="81.4" r="2.6" class="f"/><circle cx="1187.6" cy="81.4" r="2.6" class="d"/><circle cx="1192.3" cy="81.4" r="2.6" class="b"/><circle cx="1197.1" cy="81.4" r="2.6" class="c"/><circle cx="1201.8" cy="81.4" r="2.6" class="c"/><circle cx="1206.6" cy="81.4" r="2.6" class="c"/><circle cx="1211.4" cy="81.4" r="2.6"/><circle cx="1216.1" cy="81.4" r="2.6" class="e"/><circle cx="1220.9" cy="81.4" r="2.6" class="c"/><circle cx="1225.6" cy="81.4" r="2.6"/><circle cx="1230.4" cy="81.4" r="2.6"/><circle cx="1235.1" cy="81.4" r="2.6"/><circle cx="1239.9" cy="81.4" r="2.6" class="b"/><circle cx="1244.7" cy="81.4" r="2.6"/><circle cx="1249.4" cy="81.4" r="2.6" class="c"/><circle cx="1254.2" cy="81.4" r="2.6"/><circle cx="1258.9" cy="81.4" r="2.6" class="d"/><circle cx="1263.7" cy="81.4" r="2.6" class="d"/><circle cx="1268.4" cy="81.4" r="2.6"/><circle cx="1273.2" cy="81.4" r="2.6" class="d"/><circle cx="1278.0" cy="81.4" r="2.6" class="c"/><circle cx="1282.7" cy="81.4" r="2.6"/><circle cx="1287.5" cy="81.4" r="2.6" class="e"/><circle cx="1292.2" cy="81.4" r="2.6"/><circle cx="1297.0" cy="81.4" r="2.6" class="b"/><circle cx="1301.7" cy="81.4" r="2.6" class="c"/><circle cx="1306.5" cy="81.4" r="2.6"/><circle cx="1311.3" cy="81.4" r="2.6" class="b"/><circle cx="1316.0" cy="81.4" r="2.6" class="e"/><circle cx="1320.8" cy="81.4" r="2.6"/><circle cx="1325.5" cy="81.4" r="2.6" class="d"/><circle cx="1330.3" cy="81.4" r="2.6"/><circle cx="1335.1" cy="81.4" r="2.6" class="f"/><circle cx="1339.8" cy="81.4" r="2.6" class="f"/><circle cx="1344.6" cy="81.4" r="2.6"/><circle cx="1349.3" cy="81.4" r="2.6" class="d"/><circle cx="1354.1" cy="81.4" r="2.6"/><circle cx="1161.5" cy="85.2" r="2.6"/><circle cx="1166.3" cy="85.2" r="2.6" class="d"/><circle cx="1171.1" cy="85.2" r="2.6" class="b"/><circle cx="1175.9" cy="85.2" r="2.6" class="c"/><circle cx="1180.7" cy="85.2" r="2.6"/><circle cx="1185.5" cy="85.2" r="2.6"/><circle cx="1190.4" cy="85.2" r="2.6" class="b"/><circle cx="1195.2" cy="85.2" r="2.6" class="c"/><circle cx="1200.0" cy="85.2" r="2.6" class="d"/><circle cx="1204.8" cy="85.2" r="2.6" class="b"/><circle cx="1209.6" cy="85.2" r="2.6"/><circle cx="1214.4" cy="85.2" r="2.6" class="e"/><circle cx="1219.2" cy="85.2" r="2.6" class="d"/><circle cx="1224.0" cy="85.2" r="2.6" class="d"/><circle cx="1228.9" cy="85.2" r="2.6" class="d"/><circle cx="1233.7" cy="85.2" r="2.6" class="b"/><circle cx="1238.5" cy="85.2" r="2.6"/><circle cx="1243.3" cy="85.2" r="2.6"/><circle cx="1248.1" cy="85.2" r="2.6" class="c"/><circle cx="1252.9" cy="85.2" r="2.6" class="d"/><circle cx="1257.7" cy="85.2" r="2.6" class="e"/><circle cx="1262.5" cy="85.2" r="2.6" class="e"/><circle cx="1267.4" cy="85.2" r="2.6" class="c"/><circle cx="1272.2" cy="85.2" r="2.6" class="b"/><circle cx="1277.0" cy="85.2" r="2.6" class="f"/><circle cx="1281.8" cy="85.2" r="2.6"/><circle cx="1286.6" cy="85.2" r="2.6" class="b"/><circle cx="1291.4" cy="85.2" r="2.6" class="c"/><circle cx="1296.2" cy="85.2" r="2.6" class="c"/><circle cx="1301.1" cy="85.2" r="2.6" class="c"/><circle cx="1305.9" cy="85.2" r="2.6"/><circle cx="1310.7" cy="85.2" r="2.6" class="c"/><circle cx="1315.5" cy="85.2" r="2.6"/><circle cx="1320.3" cy="85.2" r="2.6" class="b"/><circle cx="1325.1" cy="85.2" r="2.6"/><circle cx="1329.9" cy="85.2" r="2.6"/><circle cx="1334.7" cy="85.2" r="2.6" class="c"/><circle cx="1339.6" cy="85.2" r="2.6" class="b"/><circle cx="1344.4" cy="85.2" r="2.6"/><circle cx="1349.2" cy="85.2" r="2.6" class="b"/><circle cx="1159.6" cy="89.0" r="2.6"/><circle cx="1164.5" cy="89.0" r="2.6"/><circle cx="1169.4" cy="89.0" r="2.6" class="b"/><circle cx="1174.3" cy="89.0" r="2.6" class="d"/><circle cx="1179.1" cy="89.0" r="2.6"/><circle cx="1184.0" cy="89.0" r="2.6" class="c"/><circle cx="1188.9" cy="89.0" r="2.6"/><circle cx="1193.7" cy="89.0" r="2.6" class="e"/><circle cx="1198.6" cy="89.0" r="2.6"/><circle cx="1203.5" cy="89.0" r="2.6" class="d"/><circle cx="1208.3" cy="89.0" r="2.6"/><circle cx="1213.2" cy="89.0" r="2.6" class="b"/><circle cx="1218.1" cy="89.0" r="2.6"/><circle cx="1222.9" cy="89.0" r="2.6" class="d"/><circle cx="1227.8" cy="89.0" r="2.6" class="d"/><circle cx="1232.7" cy="89.0" r="2.6"/><circle cx="1237.6" cy="89.0" r="2.6"/><circle cx="1242.4" cy="89.0" r="2.6" class="d"/><circle cx="1247.3" cy="89.0" r="2.6" class="b"/><circle cx="1252.2" cy="89.0" r="2.6" class="b"/><circle cx="1257.0" cy="89.0" r="2.6"/><circle cx="1261.9" cy="89.0" r="2.6" class="b"/><circle cx="1266.8" cy="89.0" r="2.6" class="c"/><circle cx="1271.6" cy="89.0" r="2.6" class="b"/><circle cx="1276.5" cy="89.0" r="2.6"/><circle cx="1281.4" cy="89.0" r="2.6" class="b"/><circle cx="1286.3" cy="89.0" r="2.6" class="f"/><circle cx="1291.1" cy="89.0" r="2.6" class="d"/><circle cx="1296.0" cy="89.0" r="2.6" class="d"/><circle cx="1300.9" cy="89.0" r="2.6" class="e"/><circle cx="1305.7" cy="89.0" r="2.6" class="b"/><circle cx="1310.6" cy="89.0" r="2.6" class="b"/><circle cx="1315.5" cy="89.0" r="2.6" class="d"/><circle cx="1320.3" cy="89.0" r="2.6"/><circle cx="1325.2" cy="89.0" r="2.6" class="d"/><circle cx="1330.1" cy="89.0" r="2.6"/><circle cx="1334.9" cy="89.0" r="2.6" class="c"/><circle cx="1339.8" cy="89.0" r="2.6" class="c"/><circle cx="1344.7" cy="89.0" r="2.6" class="d"/><circle cx="1161.9" cy="92.9" r="2.7" class="c"/><circle cx="1166.9" cy="92.9" r="2.7" class="d"/><circle cx="1171.8" cy="92.9" r="2.7"/><circle cx="1176.7" cy="92.9" r="2.7" class="d"/><circle cx="1181.6" cy="92.9" r="2.7"/><circle cx="1186.6" cy="92.9" r="2.7" class="d"/><circle cx="1191.5" cy="92.9" r="2.7" class="f"/><circle cx="1196.4" cy="92.9" r="2.7"/><circle cx="1201.4" cy="92.9" r="2.7" class="b"/><circle cx="1206.3" cy="92.9" r="2.7" class="b"/><circle cx="1211.2" cy="92.9" r="2.7" class="f"/><circle cx="1216.1" cy="92.9" r="2.7" class="e"/><circle cx="1221.1" cy="92.9" r="2.7"/><circle cx="1226.0" cy="92.9" r="2.7"/><circle cx="1230.9" cy="92.9" r="2.7" class="b"/><circle cx="1235.8" cy="92.9" r="2.7" class="d"/><circle cx="1240.8" cy="92.9" r="2.7" class="d"/><circle cx="1245.7" cy="92.9" r="2.7" class="c"/><circle cx="1250.6" cy="92.9" r="2.7" class="e"/><circle cx="1255.5" cy="92.9" r="2.7" class="d"/><circle cx="1260.5" cy="92.9" r="2.7" class="d"/><circle cx="1265.4" cy="92.9" r="2.7" class="c"/><circle cx="1270.3" cy="92.9" r="2.7"/><circle cx="1275.2" cy="92.9" r="2.7" class="d"/><circle cx="1280.2" cy="92.9" r="2.7" class="d"/><circle cx="1285.1" cy="92.9" r="2.7" class="e"/><circle cx="1290.0" cy="92.9" r="2.7"/><circle cx="1295.0" cy="92.9" r="2.7"/><circle cx="1299.9" cy="92.9" r="2.7"/><circle cx="1304.8" cy="92.9" r="2.7"/><circle cx="1309.7" cy="92.9" r="2.7" class="b"/><circle cx="1314.7" cy="92.9" r="2.7"/><circle cx="1319.6" cy="92.9" r="2.7" class="c"/><circle cx="1324.5" cy="92.9" r="2.7" class="b"/><circle cx="1329.4" cy="92.9" r="2.7"/><circle cx="1334.4" cy="92.9" r="2.7"/><circle cx="1339.3" cy="92.9" r="2.7" class="c"/><circle cx="1344.2" cy="92.9" r="2.7"/><circle cx="1165.1" cy="96.9" r="2.7"/><circle cx="1170.1" cy="96.9" r="2.7" class="e"/><circle cx="1175.1" cy="96.9" r="2.7"/><circle cx="1180.1" cy="96.9" r="2.7" class="b"/><circle cx="1185.1" cy="96.9" r="2.7" class="d"/><circle cx="1190.1" cy="96.9" r="2.7" class="c"/><circle cx="1195.0" cy="96.9" r="2.7" class="b"/><circle cx="1200.0" cy="96.9" r="2.7" class="e"/><circle cx="1205.0" cy="96.9" r="2.7"/><circle cx="1210.0" cy="96.9" r="2.7" class="d"/><circle cx="1215.0" cy="96.9" r="2.7" class="c"/><circle cx="1220.0" cy="96.9" r="2.7"/><circle cx="1225.0" cy="96.9" r="2.7"/><circle cx="1229.9" cy="96.9" r="2.7"/><circle cx="1234.9" cy="96.9" r="2.7" class="c"/><circle cx="1239.9" cy="96.9" r="2.7" class="b"/><circle cx="1244.9" cy="96.9" r="2.7" class="c"/><circle cx="1249.9" cy="96.9" r="2.7" class="c"/><circle cx="1254.9" cy="96.9" r="2.7" class="d"/><circle cx="1259.8" cy="96.9" r="2.7" class="d"/><circle cx="1264.8" cy="96.9" r="2.7"/><circle cx="1269.8" cy="96.9" r="2.7" class="c"/><circle cx="1274.8" cy="96.9" r="2.7" class="d"/><circle cx="1279.8" cy="96.9" r="2.7" class="e"/><circle cx="1284.8" cy="96.9" r="2.7" class="b"/><circle cx="1289.7" cy="96.9" r="2.7" class="c"/><circle cx="1294.7" cy="96.9" r="2.7" class="d"/><circle cx="1299.7" cy="96.9" r="2.7"/><circle cx="1304.7" cy="96.9" r="2.7"/><circle cx="1309.7" cy="96.9" r="2.7" class="c"/><circle cx="1314.7" cy="96.9" r="2.7" class="b"/><circle cx="1319.6" cy="96.9" r="2.7" class="d"/><circle cx="1324.6" cy="96.9" r="2.7"/><circle cx="1329.6" cy="96.9" r="2.7"/><circle cx="1334.6" cy="96.9" r="2.7" class="c"/><circle cx="1339.6" cy="96.9" r="2.7" class="c"/><circle cx="1163.0" cy="100.8" r="2.7" class="e"/><circle cx="1168.0" cy="100.8" r="2.7" class="b"/><circle cx="1173.0" cy="100.8" r="2.7" class="b"/><circle cx="1178.1" cy="100.8" r="2.7" class="c"/><circle cx="1183.1" cy="100.8" r="2.7" class="c"/><circle cx="1188.2" cy="100.8" r="2.7" class="c"/><circle cx="1193.2" cy="100.8" r="2.7" class="b"/><circle cx="1198.3" cy="100.8" r="2.7" class="d"/><circle cx="1203.3" cy="100.8" r="2.7" class="e"/><circle cx="1208.3" cy="100.8" r="2.7" class="d"/><circle cx="1213.4" cy="100.8" r="2.7" class="d"/><circle cx="1218.4" cy="100.8" r="2.7" class="e"/><circle cx="1223.5" cy="100.8" r="2.7"/><circle cx="1228.5" cy="100.8" r="2.7" class="e"/><circle cx="1233.6" cy="100.8" r="2.7"/><circle cx="1238.6" cy="100.8" r="2.7"/><circle cx="1243.6" cy="100.8" r="2.7" class="b"/><circle cx="1248.7" cy="100.8" r="2.7"/><circle cx="1253.7" cy="100.8" r="2.7"/><circle cx="1258.8" cy="100.8" r="2.7" class="c"/><circle cx="1263.8" cy="100.8" r="2.7"/><circle cx="1268.9" cy="100.8" r="2.7" class="b"/><circle cx="1273.9" cy="100.8" r="2.7" class="b"/><circle cx="1278.9" cy="100.8" r="2.7" class="e"/><circle cx="1284.0" cy="100.8" r="2.7"/><circle cx="1289.0" cy="100.8" r="2.7" class="c"/><circle cx="1294.1" cy="100.8" r="2.7" class="b"/><circle cx="1299.1" cy="100.8" r="2.7"/><circle cx="1304.1" cy="100.8" r="2.7"/><circle cx="1309.2" cy="100.8" r="2.7" class="b"/><circle cx="1314.2" cy="100.8" r="2.7" class="b"/><circle cx="1319.3" cy="100.8" r="2.7" class="c"/><circle cx="1324.3" cy="100.8" r="2.7" class="c"/><circle cx="1329.4" cy="100.8" r="2.7" class="b"/><circle cx="1334.4" cy="100.8" r="2.7" class="b"/><circle cx="1165.5" cy="104.9" r="2.8" class="b"/><circle cx="1170.6" cy="104.9" r="2.8"/><circle cx="1175.7" cy="104.9" r="2.8" class="c"/><circle cx="1180.8" cy="104.9" r="2.8" class="b"/><circle cx="1185.9" cy="104.9" r="2.8" class="d"/><circle cx="1191.0" cy="104.9" r="2.8"/><circle cx="1196.1" cy="104.9" r="2.8" class="c"/><circle cx="1201.2" cy="104.9" r="2.8"/><circle cx="1206.3" cy="104.9" r="2.8" class="c"/><circle cx="1211.4" cy="104.9" r="2.8" class="d"/><circle cx="1216.5" cy="104.9" r="2.8" class="c"/><circle cx="1221.6" cy="104.9" r="2.8" class="c"/><circle cx="1226.7" cy="104.9" r="2.8" class="e"/><circle cx="1231.8" cy="104.9" r="2.8"/><circle cx="1236.9" cy="104.9" r="2.8" class="f"/><circle cx="1242.0" cy="104.9" r="2.8" class="b"/><circle cx="1247.1" cy="104.9" r="2.8" class="c"/><circle cx="1252.2" cy="104.9" r="2.8"/><circle cx="1257.3" cy="104.9" r="2.8"/><circle cx="1262.4" cy="104.9" r="2.8"/><circle cx="1267.5" cy="104.9" r="2.8" class="c"/><circle cx="1272.6" cy="104.9" r="2.8"/><circle cx="1277.7" cy="104.9" r="2.8" class="d"/><circle cx="1282.8" cy="104.9" r="2.8"/><circle cx="1287.9" cy="104.9" r="2.8" class="c"/><circle cx="1293.1" cy="104.9" r="2.8" class="e"/><circle cx="1298.2" cy="104.9" r="2.8" class="d"/><circle cx="1303.3" cy="104.9" r="2.8" class="e"/><circle cx="1308.4" cy="104.9" r="2.8" class="d"/><circle cx="1313.5" cy="104.9" r="2.8" class="d"/><circle cx="1318.6" cy="104.9" r="2.8"/><circle cx="1323.7" cy="104.9" r="2.8" class="c"/><circle cx="1328.8" cy="104.9" r="2.8"/><circle cx="1168.3" cy="109.0" r="2.8" class="d"/><circle cx="1173.4" cy="109.0" r="2.8" class="d"/><circle cx="1178.6" cy="109.0" r="2.8"/><circle cx="1183.7" cy="109.0" r="2.8"/><circle cx="1188.9" cy="109.0" r="2.8"/><circle cx="1194.1" cy="109.0" r="2.8" class="d"/><circle cx="1199.2" cy="109.0" r="2.8" class="d"/><circle cx="1204.4" cy="109.0" r="2.8"/><circle cx="1209.6" cy="109.0" r="2.8"/><circle cx="1214.7" cy="109.0" r="2.8"/><circle cx="1219.9" cy="109.0" r="2.8" class="f"/><circle cx="1225.0" cy="109.0" r="2.8"/><circle cx="1230.2" cy="109.0" r="2.8" class="c"/><circle cx="1235.4" cy="109.0" r="2.8" class="d"/><circle cx="1240.5" cy="109.0" r="2.8"/><circle cx="1245.7" cy="109.0" r="2.8" class="d"/><circle cx="1250.8" cy="109.0" r="2.8"/><circle cx="1256.0" cy="109.0" r="2.8" class="c"/><circle cx="1261.2" cy="109.0" r="2.8" class="b"/><circle cx="1266.3" cy="109.0" r="2.8"/><circle cx="1271.5" cy="109.0" r="2.8" class="e"/><circle cx="1276.6" cy="109.0" r="2.8" class="c"/><circle cx="1281.8" cy="109.0" r="2.8" class="f"/><circle cx="1287.0" cy="109.0" r="2.8" class="c"/><circle cx="1292.1" cy="109.0" r="2.8" class="f"/><circle cx="1297.3" cy="109.0" r="2.8" class="c"/><circle cx="1302.4" cy="109.0" r="2.8"/><circle cx="1307.6" cy="109.0" r="2.8"/><circle cx="1312.8" cy="109.0" r="2.8" class="f"/><circle cx="1317.9" cy="109.0" r="2.8" class="c"/><circle cx="1323.1" cy="109.0" r="2.8" class="d"/><circle cx="1328.3" cy="109.0" r="2.8" class="d"/><circle cx="1165.9" cy="113.1" r="2.8" class="d"/><circle cx="1171.1" cy="113.1" r="2.8" class="c"/><circle cx="1176.4" cy="113.1" r="2.8"/><circle cx="1181.6" cy="113.1" r="2.8" class="c"/><circle cx="1186.8" cy="113.1" r="2.8" class="e"/><circle cx="1192.0" cy="113.1" r="2.8" class="c"/><circle cx="1197.2" cy="113.1" r="2.8" class="d"/><circle cx="1202.5" cy="113.1" r="2.8"/><circle cx="1207.7" cy="113.1" r="2.8" class="b"/><circle cx="1212.9" cy="113.1" r="2.8" class="c"/><circle cx="1218.1" cy="113.1" r="2.8" class="c"/><circle cx="1223.3" cy="113.1" r="2.8" class="d"/><circle cx="1228.6" cy="113.1" r="2.8" class="b"/><circle cx="1233.8" cy="113.1" r="2.8" class="c"/><circle cx="1239.0" cy="113.1" r="2.8" class="c"/><circle cx="1244.2" cy="113.1" r="2.8" class="c"/><circle cx="1249.5" cy="113.1" r="2.8" class="c"/><circle cx="1254.7" cy="113.1" r="2.8" class="b"/><circle cx="1259.9" cy="113.1" r="2.8"/><circle cx="1265.1" cy="113.1" r="2.8" class="d"/><circle cx="1270.3" cy="113.1" r="2.8" class="b"/><circle cx="1275.6" cy="113.1" r="2.8" class="d"/><circle cx="1280.8" cy="113.1" r="2.8"/><circle cx="1286.0" cy="113.1" r="2.8" class="f"/><circle cx="1291.2" cy="113.1" r="2.8"/><circle cx="1296.4" cy="113.1" r="2.8" class="b"/><circle cx="1301.7" cy="113.1" r="2.8" class="b"/><circle cx="1306.9" cy="113.1" r="2.8" class="d"/><circle cx="1312.1" cy="113.1" r="2.8" class="d"/><circle cx="1317.3" cy="113.1" r="2.8"/><circle cx="1322.5" cy="113.1" r="2.8"/><circle cx="1169.1" cy="117.3" r="2.9" class="b"/><circle cx="1174.3" cy="117.3" r="2.9"/><circle cx="1179.6" cy="117.3" r="2.9"/><circle cx="1184.9" cy="117.3" r="2.9" class="d"/><circle cx="1190.2" cy="117.3" r="2.9" class="c"/><circle cx="1195.5" cy="117.3" r="2.9" class="d"/><circle cx="1200.8" cy="117.3" r="2.9"/><circle cx="1206.0" cy="117.3" r="2.9" class="b"/><circle cx="1211.3" cy="117.3" r="2.9"/><circle cx="1216.6" cy="117.3" r="2.9" class="c"/><circle cx="1221.9" cy="117.3" r="2.9"/><circle cx="1227.2" cy="117.3" r="2.9"/><circle cx="1232.4" cy="117.3" r="2.9" class="c"/><circle cx="1237.7" cy="117.3" r="2.9"/><circle cx="1243.0" cy="117.3" r="2.9" class="d"/><circle cx="1248.3" cy="117.3" r="2.9"/><circle cx="1253.6" cy="117.3" r="2.9"/><circle cx="1258.9" cy="117.3" r="2.9" class="d"/><circle cx="1264.1" cy="117.3" r="2.9"/><circle cx="1269.4" cy="117.3" r="2.9"/><circle cx="1274.7" cy="117.3" r="2.9" class="d"/><circle cx="1280.0" cy="117.3" r="2.9" class="c"/><circle cx="1285.3" cy="117.3" r="2.9" class="d"/><circle cx="1290.5" cy="117.3" r="2.9" class="d"/><circle cx="1295.8" cy="117.3" r="2.9" class="f"/><circle cx="1301.1" cy="117.3" r="2.9"/><circle cx="1306.4" cy="117.3" r="2.9" class="b"/><circle cx="1311.7" cy="117.3" r="2.9" class="b"/><circle cx="1317.0" cy="117.3" r="2.9"/><circle cx="1166.8" cy="121.5" r="2.9" class="b"/><circle cx="1172.1" cy="121.5" r="2.9" class="e"/><circle cx="1177.5" cy="121.5" r="2.9"/><circle cx="1182.8" cy="121.5" r="2.9" class="b"/><circle cx="1188.1" cy="121.5" r="2.9" class="c"/><circle cx="1193.5" cy="121.5" r="2.9" class="d"/><circle cx="1198.8" cy="121.5" r="2.9" class="b"/><circle cx="1204.2" cy="121.5" r="2.9" class="e"/><circle cx="1209.5" cy="121.5" r="2.9"/><circle cx="1214.9" cy="121.5" r="2.9" class="b"/><circle cx="1220.2" cy="121.5" r="2.9"/><circle cx="1225.6" cy="121.5" r="2.9"/><circle cx="1230.9" cy="121.5" r="2.9" class="b"/><circle cx="1236.2" cy="121.5" r="2.9" class="d"/><circle cx="1241.6" cy="121.5" r="2.9"/><circle cx="1246.9" cy="121.5" r="2.9" class="b"/><circle cx="1252.3" cy="121.5" r="2.9" class="b"/><circle cx="1257.6" cy="121.5" r="2.9" class="f"/><circle cx="1263.0" cy="121.5" r="2.9" class="b"/><circle cx="1268.3" cy="121.5" r="2.9" class="d"/><circle cx="1273.6" cy="121.5" r="2.9"/><circle cx="1279.0" cy="121.5" r="2.9" class="e"/><circle cx="1284.3" cy="121.5" r="2.9"/><circle cx="1289.7" cy="121.5" r="2.9"/><circle cx="1295.0" cy="121.5" r="2.9" class="c"/><circle cx="1300.4" cy="121.5" r="2.9" class="c"/><circle cx="1305.7" cy="121.5" r="2.9" class="c"/><circle cx="1311.1" cy="121.5" r="2.9" class="c"/><circle cx="1316.4" cy="121.5" r="2.9"/><circle cx="1191.3" cy="125.8" r="2.9" class="b"/><circle cx="1196.7" cy="125.8" r="2.9" class="c"/><circle cx="1202.1" cy="125.8" r="2.9" class="d"/><circle cx="1207.5" cy="125.8" r="2.9"/><circle cx="1212.9" cy="125.8" r="2.9" class="d"/><circle cx="1218.3" cy="125.8" r="2.9" class="d"/><circle cx="1223.7" cy="125.8" r="2.9" class="f"/><circle cx="1229.1" cy="125.8" r="2.9"/><circle cx="1234.5" cy="125.8" r="2.9" class="b"/><circle cx="1239.9" cy="125.8" r="2.9"/><circle cx="1245.3" cy="125.8" r="2.9"/><circle cx="1250.7" cy="125.8" r="2.9" class="b"/><circle cx="1256.1" cy="125.8" r="2.9" class="d"/><circle cx="1261.5" cy="125.8" r="2.9"/><circle cx="1266.9" cy="125.8" r="2.9" class="d"/><circle cx="1272.4" cy="125.8" r="2.9" class="d"/><circle cx="1277.8" cy="125.8" r="2.9" class="f"/><circle cx="1283.2" cy="125.8" r="2.9" class="d"/><circle cx="1288.6" cy="125.8" r="2.9"/><circle cx="1294.0" cy="125.8" r="2.9" class="d"/><circle cx="1299.4" cy="125.8" r="2.9" class="c"/><circle cx="1304.8" cy="125.8" r="2.9"/><circle cx="1310.2" cy="125.8" r="2.9" class="d"/><circle cx="1227.2" cy="130.1" r="3.0" class="d"/><circle cx="1232.6" cy="130.1" r="3.0" class="e"/><circle cx="1238.1" cy="130.1" r="3.0" class="b"/><circle cx="1243.6" cy="130.1" r="3.0"/><circle cx="1249.1" cy="130.1" r="3.0" class="d"/><circle cx="1254.5" cy="130.1" r="3.0"/><circle cx="1260.0" cy="130.1" r="3.0"/><circle cx="1265.5" cy="130.1" r="3.0" class="d"/><circle cx="1270.9" cy="130.1" r="3.0"/><circle cx="1276.4" cy="130.1" r="3.0"/><circle cx="1281.9" cy="130.1" r="3.0" class="b"/><circle cx="1287.3" cy="130.1" r="3.0" class="d"/><circle cx="1292.8" cy="130.1" r="3.0"/><circle cx="1298.3" cy="130.1" r="3.0"/><circle cx="1303.8" cy="130.1" r="3.0"/><circle cx="1264.1" cy="134.5" r="3.0" class="d"/><circle cx="1269.6" cy="134.5" r="3.0" class="c"/><circle cx="1275.2" cy="134.5" r="3.0" class="c"/><circle cx="1280.7" cy="134.5" r="3.0" class="e"/><circle cx="1286.2" cy="134.5" r="3.0"/><circle cx="1291.8" cy="134.5" r="3.0"/><circle cx="1297.3" cy="134.5" r="3.0" class="c"/><circle cx="1302.8" cy="134.5" r="3.0" class="b"/></g></g>
<ellipse cx="1188" cy="41" rx="12" ry="8.5" fill="url(#grn)"/><ellipse cx="1196" cy="74" rx="16" ry="11" fill="url(#grn)"/><ellipse cx="1231" cy="24" rx="11" ry="7.5" fill="url(#grn)"/><ellipse cx="1264" cy="79" rx="19" ry="13" fill="url(#grn)"/><ellipse cx="1327" cy="63" rx="12" ry="8.5" fill="url(#grn)"/><ellipse cx="1294" cy="118" rx="12" ry="8.5" fill="url(#grn)"/><ellipse cx="1283" cy="29" rx="10" ry="7" fill="url(#grn)"/><ellipse cx="1243" cy="49" rx="6" ry="4" fill="url(#grn)"/>
<path d="M1266 0 C1272 10 1282 20 1296 25 L1298 35 L1284 36 C1272 30 1262 16 1256 0z" fill="#6cc8d0" opacity="0.7"/>
<circle cx="1269" cy="2" r="4.5" fill="#4fb8c0" opacity="0.6"/><circle cx="1287" cy="27" r="5" fill="#4fb8c0" opacity="0.55"/>
<g fill="#444"><rect x="1368" y="0" width="1.6" height="1"/><rect x="1375.2" y="0" width="1.6" height="1"/><rect x="1382.4" y="0" width="1.6" height="1"/></g>
<path d="M1290 27 C1305 31 1318 30 1330 22 L1327 18 L1343 12 L1337 28.5 L1334 25 C1320 35 1305 37 1289 34z" fill="#2aa0aa"/>
<circle cx="1342" cy="2.5" r="5" fill="url(#g_lav)"/>
<circle cx="1355" cy="1" r="4.6" fill="url(#g_lav)"/>
<circle cx="1349" cy="12.5" r="5.2" fill="url(#g_lav)"/>
<circle cx="1362.5" cy="9.5" r="5.2" fill="url(#g_lav)"/>
</svg></body></html>
